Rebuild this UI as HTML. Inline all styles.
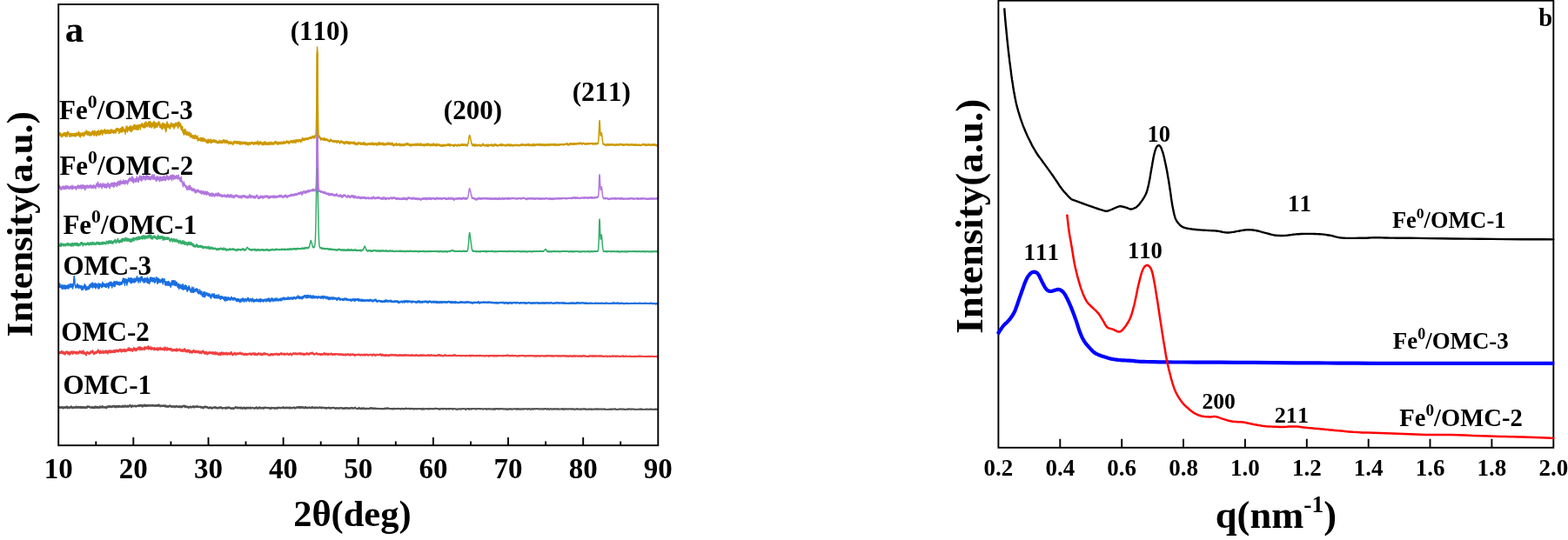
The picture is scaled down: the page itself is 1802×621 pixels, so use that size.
<!DOCTYPE html>
<html lang="en"><head><meta charset="utf-8"><title>XRD and SAXS patterns</title>
<style>
html,body{margin:0;padding:0;background:#fff;}
body{width:1802px;height:621px;overflow:hidden;}
svg{display:block;}
text{font-family:'Liberation Serif',serif;font-weight:bold;fill:#000;font-kerning:none;}
.ax{fill:none;stroke:#000;stroke-width:1.9;stroke-linecap:butt;}
.c{fill:none;stroke-linejoin:round;stroke-linecap:butt;}
</style></head><body>
<svg width="1802" height="621" viewBox="0 0 1802 621">
<rect width="1802" height="621" fill="#fff"/>

<g id="xrd">
<path fill="#515151" stroke="none" d="M67.8 467.6L68.8 467.6L69.8 467.4L70.8 467.5L71.8 468.0L72.8 468.3L73.8 467.8L74.8 467.4L75.8 467.6L76.8 467.0L77.8 467.5L78.8 467.6L79.8 467.7L80.8 467.1L81.8 467.1L82.8 467.5L83.8 467.5L84.8 467.5L85.8 467.4L86.8 467.4L87.8 467.2L88.8 467.1L89.8 467.3L90.8 467.2L91.8 467.5L92.8 467.6L93.8 467.8L94.8 467.4L95.8 467.3L96.8 467.6L97.8 467.8L98.8 467.6L99.8 467.2L100.8 466.8L101.8 466.9L102.8 466.8L103.8 467.4L104.8 467.5L105.8 467.3L106.8 467.5L107.8 467.6L108.8 467.1L109.8 467.3L110.8 467.6L111.8 467.6L112.8 467.5L113.8 467.7L114.8 466.8L115.8 467.2L116.8 466.9L117.8 467.1L118.8 466.9L119.8 467.1L120.8 467.4L121.8 467.5L122.8 467.5L123.8 466.7L124.8 466.6L125.8 466.4L126.8 466.3L127.8 466.6L128.8 466.5L129.8 466.3L130.8 466.1L131.8 466.7L132.8 466.3L133.8 466.4L134.8 466.2L135.8 466.3L136.8 466.1L137.8 466.4L138.8 466.5L139.8 466.4L140.8 466.3L141.8 466.3L142.8 466.1L143.8 465.8L144.8 466.2L145.8 466.3L146.8 466.3L147.8 466.4L148.8 465.7L149.8 465.3L150.8 466.2L151.8 466.0L152.8 465.9L153.8 466.3L154.8 465.9L155.8 466.1L156.8 465.9L157.8 465.8L158.8 465.7L159.8 465.6L160.8 465.5L161.8 465.3L162.8 465.4L163.8 465.8L164.8 465.4L165.8 465.3L166.8 465.5L167.8 465.6L168.8 465.6L169.8 465.6L170.8 465.1L171.8 465.0L172.8 465.5L173.8 465.4L174.8 465.5L175.8 465.6L176.8 465.4L177.8 465.7L178.8 465.7L179.8 465.6L180.8 465.3L181.8 465.4L182.8 465.2L183.8 465.5L184.8 465.8L185.8 465.6L186.8 465.8L187.8 465.8L188.8 465.9L189.8 466.2L190.8 466.2L191.8 466.1L192.8 466.2L193.8 466.0L194.8 465.7L195.8 466.0L196.8 466.4L197.8 466.6L198.8 466.2L199.8 466.4L200.8 466.5L201.8 466.6L202.8 466.3L203.8 466.5L204.8 466.8L205.8 466.7L206.8 466.5L207.8 466.5L208.8 466.6L209.8 466.4L210.8 466.0L211.8 466.4L212.8 466.5L213.8 466.9L214.8 467.1L215.8 467.1L216.8 467.2L217.8 466.9L218.8 466.7L219.8 467.0L220.8 466.9L221.8 466.5L222.8 467.1L223.8 467.0L224.8 467.0L225.8 466.5L226.8 466.7L227.8 467.0L228.8 466.7L229.8 467.0L230.8 467.2L231.8 467.5L232.8 467.4L233.8 467.6L234.8 467.4L235.8 467.1L236.8 467.2L237.8 467.3L238.8 467.5L239.8 467.9L240.8 467.8L241.8 467.7L242.8 467.8L243.8 468.1L244.8 467.8L245.8 467.8L246.8 467.4L247.8 467.5L248.8 467.7L249.8 468.0L250.8 468.2L251.8 468.0L252.8 467.8L253.8 467.4L254.8 468.2L255.8 468.3L256.8 468.3L257.8 468.0L258.8 468.0L259.8 468.0L260.8 468.1L261.8 468.1L262.8 467.8L263.8 468.1L264.8 468.3L265.8 468.5L266.8 468.5L267.8 468.5L268.8 468.5L269.8 468.1L270.8 467.7L271.8 468.1L272.8 468.2L273.8 467.9L274.8 467.7L275.8 468.2L276.8 467.9L277.8 468.0L278.8 468.4L279.8 468.1L280.8 468.1L281.8 468.4L282.8 468.2L283.8 468.2L284.8 468.1L285.8 468.4L286.8 467.9L287.8 467.9L288.8 468.2L289.8 468.1L290.8 468.1L291.8 468.4L292.8 468.5L293.8 468.0L294.8 468.1L295.8 468.2L296.8 468.1L297.8 467.6L298.8 467.8L299.8 468.0L300.8 468.4L301.8 468.3L302.8 468.4L303.8 468.2L304.8 468.0L305.8 467.7L306.8 467.9L307.8 468.1L308.8 468.3L309.8 468.3L310.8 468.6L311.8 468.1L312.8 468.1L313.8 468.0L314.8 468.2L315.8 468.4L316.8 468.3L317.8 468.5L318.8 468.3L319.8 467.7L320.8 467.9L321.8 467.9L322.8 468.0L323.8 467.7L324.8 467.8L325.8 467.6L326.8 467.8L327.8 468.1L328.8 467.9L329.8 467.9L330.8 468.1L331.8 468.1L332.8 467.9L333.8 467.9L334.8 467.9L335.8 468.2L336.8 468.1L337.8 467.9L338.8 468.2L339.8 468.0L340.8 467.7L341.8 467.6L342.8 467.7L343.8 467.4L344.8 467.7L345.8 467.6L346.8 467.4L347.8 467.4L348.8 467.9L349.8 468.0L350.8 467.2L351.8 467.8L352.8 467.9L353.8 467.8L354.8 467.9L355.8 467.9L356.8 467.9L357.8 467.8L358.8 467.4L359.8 467.9L360.8 467.9L361.8 467.8L362.8 468.0L363.8 467.7L364.8 467.7L365.8 467.8L366.8 467.7L367.8 467.7L368.8 467.7L369.8 467.8L370.8 467.7L371.8 468.0L372.8 468.0L373.8 468.2L374.8 468.3L375.8 468.2L376.8 468.0L377.8 468.1L378.8 468.3L379.8 468.3L380.8 468.2L381.8 467.9L382.8 468.0L383.8 468.1L384.8 468.3L385.8 468.6L386.8 468.6L387.8 468.6L388.8 468.7L389.8 468.4L390.8 468.4L391.8 468.3L392.8 468.3L393.8 468.6L394.8 468.8L395.8 468.5L396.8 468.3L397.8 468.3L398.8 468.5L399.8 468.7L400.8 468.8L401.8 468.6L402.8 468.5L403.8 468.2L404.8 468.4L405.8 468.9L406.8 468.5L407.8 468.1L408.8 468.4L409.8 468.7L410.8 469.1L411.8 468.7L412.8 468.5L413.8 469.1L414.8 468.9L415.8 468.6L416.8 468.9L417.8 468.6L418.8 468.8L419.8 468.9L420.8 468.9L421.8 468.9L422.8 469.0L423.8 469.2L424.8 468.8L425.8 468.7L426.8 468.6L427.8 468.7L428.8 468.8L429.8 468.7L430.8 468.6L431.8 468.9L432.8 469.1L433.8 469.0L434.8 469.2L435.8 469.2L436.8 469.2L437.8 469.0L438.8 469.3L439.8 469.1L440.8 469.0L441.8 468.9L442.8 468.7L443.8 468.8L444.8 468.9L445.8 468.6L446.8 468.7L447.8 469.1L448.8 469.1L449.8 469.1L450.8 469.1L451.8 469.0L452.8 469.0L453.8 469.1L454.8 469.2L455.8 469.3L456.8 469.0L457.8 469.2L458.8 469.2L459.8 469.2L460.8 469.4L461.8 469.1L462.8 469.3L463.8 469.2L464.8 469.2L465.8 468.9L466.8 469.0L467.8 469.0L468.8 469.1L469.8 469.0L470.8 469.1L471.8 469.2L472.8 469.0L473.8 469.0L474.8 469.3L475.8 469.5L476.8 469.3L477.8 469.1L478.8 469.2L479.8 469.3L480.8 469.3L481.8 469.3L482.8 469.2L483.8 469.3L484.8 469.5L485.8 469.3L486.8 469.3L487.8 469.3L488.8 469.4L489.8 469.3L490.8 469.2L491.8 469.4L492.8 469.4L493.8 469.2L494.8 469.0L495.8 469.2L496.8 469.4L497.8 469.4L498.8 469.3L499.8 469.1L500.8 469.0L501.8 469.0L502.8 469.2L503.8 469.3L504.8 469.6L505.8 469.6L506.8 469.4L507.8 469.1L508.8 469.4L509.8 469.1L510.8 469.2L511.8 469.2L512.8 469.4L513.8 469.4L514.8 469.4L515.8 469.1L516.8 469.1L517.8 468.9L518.8 469.3L519.8 469.5L520.8 469.5L521.8 469.3L522.8 469.4L523.8 469.6L524.8 469.8L525.8 469.7L526.8 469.5L527.8 469.4L528.8 469.6L529.8 469.7L530.8 469.4L531.8 469.3L532.8 469.2L533.8 469.2L534.8 469.8L535.8 469.5L536.8 469.3L537.8 469.2L538.8 469.5L539.8 469.5L540.8 469.4L541.8 469.4L542.8 469.4L543.8 469.3L544.8 469.2L545.8 469.3L546.8 469.6L547.8 469.6L548.8 469.3L549.8 469.2L550.8 469.1L551.8 469.4L552.8 469.4L553.8 469.4L554.8 469.5L555.8 469.5L556.8 469.4L557.8 469.5L558.8 469.5L559.8 469.5L560.8 469.5L561.8 469.4L562.8 469.4L563.8 469.6L564.8 469.5L565.8 469.6L566.8 469.6L567.8 469.5L568.8 469.6L569.8 469.5L570.8 469.4L571.8 469.2L572.8 469.4L573.8 469.5L574.8 469.3L575.8 469.5L576.8 469.3L577.8 469.5L578.8 469.6L579.8 469.5L580.8 469.5L581.8 469.6L582.8 469.7L583.8 469.8L584.8 469.5L585.8 469.5L586.8 469.6L587.8 469.7L588.8 469.6L589.8 469.7L590.8 469.4L591.8 469.5L592.8 469.6L593.8 469.5L594.8 469.5L595.8 469.5L596.8 469.6L597.8 469.7L598.8 469.6L599.8 469.5L600.8 469.6L601.8 469.6L602.8 469.4L603.8 469.6L604.8 469.5L605.8 469.6L606.8 469.6L607.8 469.3L608.8 469.6L609.8 469.8L610.8 469.5L611.8 469.6L612.8 469.6L613.8 469.5L614.8 469.5L615.8 469.4L616.8 469.2L617.8 469.4L618.8 469.6L619.8 469.7L620.8 469.6L621.8 469.5L622.8 469.5L623.8 469.5L624.8 469.5L625.8 469.4L626.8 469.3L627.8 469.6L628.8 469.5L629.8 469.5L630.8 469.7L631.8 469.7L632.8 469.4L633.8 469.7L634.8 469.7L635.8 469.5L636.8 469.5L637.8 469.5L638.8 469.5L639.8 469.6L640.8 469.6L641.8 469.6L642.8 469.7L643.8 469.7L644.8 469.6L645.8 469.5L646.8 469.6L647.8 469.8L648.8 469.6L649.8 469.6L650.8 469.6L651.8 469.7L652.8 469.5L653.8 469.5L654.8 469.5L655.8 469.6L656.8 469.6L657.8 469.6L658.8 469.6L659.8 469.8L660.8 469.7L661.8 469.7L662.8 469.5L663.8 469.6L664.8 469.8L665.8 469.9L666.8 469.8L667.8 469.7L668.8 469.7L669.8 469.6L670.8 469.6L671.8 469.6L672.8 469.6L673.8 469.7L674.8 469.9L675.8 469.8L676.8 469.7L677.8 469.7L678.8 469.8L679.8 469.7L680.8 469.7L681.8 469.7L682.8 469.7L683.8 469.7L684.8 469.6L685.8 469.7L686.8 469.8L687.8 469.7L688.8 469.7L689.8 469.7L690.8 469.6L691.8 469.7L692.8 469.7L693.8 469.7L694.8 469.6L695.8 469.8L696.8 469.9L697.8 469.9L698.8 469.9L699.8 469.8L700.8 469.8L701.8 469.8L702.8 469.7L703.8 469.8L704.8 469.7L705.8 469.6L706.8 469.5L707.8 469.8L708.8 469.9L709.8 469.8L710.8 469.7L711.8 469.8L712.8 469.7L713.8 469.7L714.8 469.7L715.8 469.8L716.8 469.8L717.8 469.8L718.8 470.1L719.8 469.9L720.8 469.7L721.8 469.8L722.8 469.6L723.8 469.7L724.8 469.8L725.8 469.7L726.8 469.7L727.8 469.8L728.8 469.8L729.8 469.9L730.8 469.9L731.8 469.9L732.8 469.8L733.8 469.9L734.8 469.8L735.8 469.8L736.8 469.7L737.8 469.8L738.8 470.0L739.8 469.9L740.8 469.9L741.8 469.8L742.8 469.8L743.8 469.8L744.8 469.8L745.8 469.9L746.8 469.9L747.8 469.9L748.8 469.9L749.8 469.8L750.8 469.9L751.8 469.9L752.8 469.8L753.8 469.8L754.8 469.9L755.8 469.9L756.0 469.9L756.0 471.5L755.8 471.5L754.8 471.6L753.8 471.4L752.8 471.5L751.8 471.5L750.8 471.5L749.8 471.4L748.8 471.5L747.8 471.6L746.8 471.5L745.8 471.5L744.8 471.5L743.8 471.5L742.8 471.5L741.8 471.4L740.8 471.5L739.8 471.5L738.8 471.6L737.8 471.4L736.8 471.3L735.8 471.4L734.8 471.5L733.8 471.5L732.8 471.5L731.8 471.5L730.8 471.5L729.8 471.5L728.8 471.5L727.8 471.5L726.8 471.3L725.8 471.4L724.8 471.4L723.8 471.3L722.8 471.3L721.8 471.4L720.8 471.4L719.8 471.5L718.8 471.7L717.8 471.5L716.8 471.4L715.8 471.5L714.8 471.3L713.8 471.4L712.8 471.3L711.8 471.5L710.8 471.4L709.8 471.4L708.8 471.6L707.8 471.4L706.8 471.2L705.8 471.2L704.8 471.3L703.8 471.4L702.8 471.4L701.8 471.5L700.8 471.5L699.8 471.4L698.8 471.5L697.8 471.6L696.8 471.5L695.8 471.5L694.8 471.3L693.8 471.4L692.8 471.3L691.8 471.3L690.8 471.2L689.8 471.3L688.8 471.3L687.8 471.3L686.8 471.4L685.8 471.3L684.8 471.3L683.8 471.3L682.8 471.4L681.8 471.4L680.8 471.4L679.8 471.4L678.8 471.5L677.8 471.3L676.8 471.4L675.8 471.5L674.8 471.5L673.8 471.4L672.8 471.3L671.8 471.3L670.8 471.3L669.8 471.3L668.8 471.4L667.8 471.4L666.8 471.4L665.8 471.6L664.8 471.4L663.8 471.3L662.8 471.2L661.8 471.3L660.8 471.4L659.8 471.4L658.8 471.3L657.8 471.3L656.8 471.2L655.8 471.2L654.8 471.1L653.8 471.2L652.8 471.2L651.8 471.3L650.8 471.3L649.8 471.3L648.8 471.3L647.8 471.5L646.8 471.3L645.8 471.2L644.8 471.2L643.8 471.3L642.8 471.3L641.8 471.3L640.8 471.3L639.8 471.3L638.8 471.1L637.8 471.2L636.8 471.2L635.8 471.2L634.8 471.4L633.8 471.4L632.8 471.1L631.8 471.3L630.8 471.4L629.8 471.2L628.8 471.2L627.8 471.3L626.8 470.9L625.8 471.1L624.8 471.2L623.8 471.2L622.8 471.2L621.8 471.1L620.8 471.2L619.8 471.4L618.8 471.3L617.8 471.1L616.8 470.9L615.8 471.1L614.8 471.1L613.8 471.2L612.8 471.3L611.8 471.3L610.8 471.2L609.8 471.5L608.8 471.3L607.8 471.0L606.8 471.3L605.8 471.3L604.8 471.2L603.8 471.2L602.8 471.1L601.8 471.3L600.8 471.3L599.8 471.2L598.8 471.3L597.8 471.4L596.8 471.2L595.8 471.2L594.8 471.2L593.8 471.2L592.8 471.3L591.8 471.2L590.8 471.1L589.8 471.3L588.8 471.3L587.8 471.4L586.8 471.3L585.8 471.2L584.8 471.2L583.8 471.5L582.8 471.4L581.8 471.3L580.8 471.2L579.8 471.2L578.8 471.3L577.8 471.2L576.8 471.0L575.8 471.2L574.8 471.0L573.8 471.2L572.8 471.1L571.8 470.9L570.8 471.1L569.8 471.2L568.8 471.3L567.8 471.3L566.8 471.3L565.8 471.3L564.8 471.2L563.8 471.3L562.8 471.2L561.8 471.2L560.8 471.3L559.8 471.2L558.8 471.2L557.8 471.3L556.8 471.1L555.8 471.2L554.8 471.2L553.8 471.1L552.8 471.1L551.8 471.1L550.8 470.8L549.8 470.9L548.8 471.0L547.8 471.3L546.8 471.4L545.8 471.0L544.8 471.0L543.8 471.0L542.8 471.1L541.8 471.2L540.8 471.1L539.8 471.2L538.8 471.2L537.8 471.0L536.8 471.1L535.8 471.3L534.8 471.5L533.8 470.9L532.8 470.9L531.8 471.1L530.8 471.1L529.8 471.5L528.8 471.3L527.8 471.1L526.8 471.3L525.8 471.5L524.8 471.6L523.8 471.4L522.8 471.1L521.8 471.1L520.8 471.2L519.8 471.3L518.8 471.0L517.8 470.6L516.8 470.9L515.8 470.9L514.8 471.1L513.8 471.2L512.8 471.2L511.8 471.0L510.8 471.0L509.8 470.9L508.8 471.2L507.8 470.8L506.8 471.1L505.8 471.4L504.8 471.4L503.8 471.1L502.8 471.0L501.8 470.8L500.8 470.8L499.8 470.8L498.8 471.1L497.8 471.1L496.8 471.1L495.8 471.0L494.8 470.8L493.8 471.0L492.8 471.2L491.8 471.2L490.8 471.0L489.8 471.0L488.8 471.1L487.8 471.1L486.8 471.1L485.8 471.1L484.8 471.3L483.8 471.1L482.8 471.0L481.8 471.1L480.8 471.1L479.8 471.1L478.8 471.0L477.8 470.9L476.8 471.1L475.8 471.3L474.8 471.1L473.8 470.8L472.8 470.8L471.8 471.0L470.8 470.9L469.8 470.8L468.8 470.9L467.8 470.9L466.8 470.8L465.8 470.7L464.8 471.0L463.8 471.0L462.8 471.1L461.8 470.9L460.8 471.2L459.8 471.0L458.8 471.0L457.8 471.0L456.8 470.8L455.8 471.1L454.8 471.0L453.8 470.9L452.8 470.8L451.8 470.8L450.8 470.9L449.8 470.9L448.8 471.0L447.8 471.0L446.8 470.6L445.8 470.5L444.8 470.7L443.8 470.7L442.8 470.5L441.8 470.8L440.8 470.9L439.8 471.0L438.8 471.1L437.8 470.9L436.8 471.0L435.8 471.0L434.8 471.0L433.8 470.8L432.8 470.9L431.8 470.7L430.8 470.5L429.8 470.5L428.8 470.7L427.8 470.5L426.8 470.4L425.8 470.5L424.8 470.7L423.8 471.0L422.8 470.8L421.8 470.7L420.8 470.8L419.8 470.8L418.8 470.7L417.8 470.5L416.8 470.8L415.8 470.5L414.8 470.8L413.8 471.0L412.8 470.4L411.8 470.6L410.8 470.9L409.8 470.6L408.8 470.2L407.8 470.0L406.8 470.4L405.8 470.8L404.8 470.3L403.8 470.1L402.8 470.4L401.8 470.5L400.8 470.7L399.8 470.6L398.8 470.3L397.8 470.1L396.8 470.2L395.8 470.4L394.8 470.7L393.8 470.5L392.8 470.2L391.8 470.2L390.8 470.3L389.8 470.3L388.8 470.6L387.8 470.5L386.8 470.5L385.8 470.5L384.8 470.2L383.8 470.0L382.8 469.9L381.8 469.9L380.8 470.1L379.8 470.2L378.8 470.2L377.8 470.0L376.8 469.9L375.8 470.1L374.8 470.2L373.8 470.1L372.8 470.0L371.8 469.9L370.8 469.6L369.8 469.7L368.8 469.6L367.8 469.6L366.8 469.7L365.8 469.8L364.8 469.7L363.8 469.7L362.8 469.9L361.8 469.7L360.8 469.9L359.8 469.8L358.8 469.4L357.8 469.8L356.8 469.8L355.8 469.9L354.8 469.8L353.8 469.7L352.8 469.9L351.8 469.7L350.8 469.2L349.8 469.9L348.8 469.8L347.8 469.3L346.8 469.4L345.8 469.5L344.8 469.7L343.8 469.4L342.8 469.6L341.8 469.6L340.8 469.7L339.8 469.9L338.8 470.1L337.8 469.8L336.8 470.0L335.8 470.2L334.8 469.9L333.8 469.9L332.8 469.9L331.8 470.0L330.8 470.1L329.8 469.8L328.8 469.9L327.8 470.1L326.8 469.8L325.8 469.6L324.8 469.7L323.8 469.7L322.8 470.0L321.8 469.9L320.8 469.9L319.8 469.7L318.8 470.3L317.8 470.5L316.8 470.3L315.8 470.4L314.8 470.2L313.8 470.0L312.8 470.1L311.8 470.1L310.8 470.6L309.8 470.3L308.8 470.3L307.8 470.1L306.8 469.9L305.8 469.7L304.8 470.0L303.8 470.2L302.8 470.4L301.8 470.3L300.8 470.4L299.8 470.0L298.8 469.8L297.8 469.7L296.8 470.1L295.8 470.2L294.8 470.1L293.8 470.0L292.8 470.5L291.8 470.4L290.8 470.1L289.8 470.1L288.8 470.3L287.8 469.9L286.8 469.9L285.8 470.4L284.8 470.1L283.8 470.2L282.8 470.2L281.8 470.4L280.8 470.2L279.8 470.2L278.8 470.4L277.8 470.0L276.8 470.0L275.8 470.2L274.8 469.8L273.8 469.9L272.8 470.2L271.8 470.1L270.8 469.7L269.8 470.1L268.8 470.6L267.8 470.5L266.8 470.6L265.8 470.6L264.8 470.3L263.8 470.2L262.8 469.8L261.8 470.2L260.8 470.2L259.8 470.0L258.8 470.1L257.8 470.0L256.8 470.3L255.8 470.4L254.8 470.3L253.8 469.5L252.8 469.9L251.8 470.1L250.8 470.3L249.8 470.1L248.8 469.8L247.8 469.6L246.8 469.5L245.8 469.8L244.8 469.9L243.8 470.2L242.8 469.9L241.8 469.8L240.8 469.9L239.8 469.9L238.8 469.6L237.8 469.3L236.8 469.3L235.8 469.2L234.8 469.5L233.8 469.7L232.8 469.5L231.8 469.6L230.8 469.3L229.8 469.1L228.8 468.8L227.8 469.1L226.8 468.8L225.8 468.6L224.8 469.1L223.8 469.1L222.8 469.2L221.8 468.6L220.8 469.0L219.8 469.1L218.8 468.8L217.8 469.0L216.8 469.3L215.8 469.2L214.8 469.2L213.8 469.0L212.8 468.6L211.8 468.5L210.8 468.1L209.8 468.5L208.8 468.7L207.8 468.6L206.8 468.6L205.8 468.9L204.8 469.0L203.8 468.6L202.8 468.5L201.8 468.7L200.8 468.6L199.8 468.5L198.8 468.3L197.8 468.7L196.8 468.5L195.8 468.2L194.8 467.8L193.8 468.1L192.8 468.4L191.8 468.3L190.8 468.3L189.8 468.3L188.8 468.1L187.8 467.9L186.8 468.0L185.8 467.7L184.8 468.0L183.8 467.6L182.8 467.3L181.8 467.5L180.8 467.5L179.8 467.7L178.8 467.8L177.8 467.8L176.8 467.6L175.8 467.8L174.8 467.6L173.8 467.6L172.8 467.7L171.8 467.1L170.8 467.2L169.8 467.7L168.8 467.7L167.8 467.7L166.8 467.6L165.8 467.4L164.8 467.6L163.8 467.9L162.8 467.5L161.8 467.5L160.8 467.6L159.8 467.8L158.8 467.9L157.8 468.0L156.8 468.0L155.8 468.2L154.8 468.0L153.8 468.4L152.8 468.0L151.8 468.1L150.8 468.4L149.8 467.5L148.8 467.8L147.8 468.6L146.8 468.4L145.8 468.5L144.8 468.4L143.8 468.0L142.8 468.2L141.8 468.5L140.8 468.5L139.8 468.6L138.8 468.7L137.8 468.6L136.8 468.2L135.8 468.4L134.8 468.4L133.8 468.6L132.8 468.5L131.8 468.9L130.8 468.3L129.8 468.5L128.8 468.6L127.8 468.7L126.8 468.5L125.8 468.6L124.8 468.8L123.8 468.9L122.8 469.6L121.8 469.7L120.8 469.6L119.8 469.2L118.8 469.1L117.8 469.3L116.8 469.1L115.8 469.4L114.8 469.0L113.8 469.9L112.8 469.7L111.8 469.8L110.8 469.7L109.8 469.5L108.8 469.3L107.8 469.8L106.8 469.7L105.8 469.5L104.8 469.7L103.8 469.6L102.8 469.0L101.8 469.1L100.8 469.0L99.8 469.4L98.8 469.8L97.8 470.0L96.8 469.8L95.8 469.5L94.8 469.6L93.8 470.0L92.8 469.8L91.8 469.8L90.8 469.4L89.8 469.5L88.8 469.3L87.8 469.4L86.8 469.6L85.8 469.6L84.8 469.7L83.8 469.8L82.8 469.7L81.8 469.3L80.8 469.4L79.8 469.9L78.8 469.8L77.8 469.7L76.8 469.2L75.8 469.8L74.8 469.7L73.8 470.0L72.8 470.5L71.8 470.2L70.8 469.7L69.8 469.6L68.8 469.8L67.8 469.8Z"/>
<path class="c" stroke="#515151" stroke-width="1.5" d="M67.8 468.7l.2 .2 .2-.3 .2-.4 .2 .3 .2-.4 .2 .6 .2 .7 .2-1.2 .2-.1 .2 .7 .2-.1 .2-.1 .2-.7 .2 .6 .2 .5 .2-1.2 .2 .7 .2-.8 .2 .5 .2-.3 .2 1.1 .2-.5 .2 1 .2 0 .2-.2 .2-1.2 .2 .9 .2 .2 .2-.1 .2-1.2 .2 .5 .2-.4 .2 0 .2 1.2 .2-1.2 .2 .6 .2 .6 .2-.8 .2 .3 .2 .1 .2-.2 .2-1 .2 .7 .2 .7 .2-1.9 .2 1.5 .2-.3 .2-.4 .2 1.8 .2-.6 .2-1.1 .2 .8 .2 .3 .2-.5 .2 .5 .2-.5 .2 .5 .2 .5 .2-1.2 .2 .5 .2-.4 .2 .3 .2-1 .2 .2 .2 .1 .2 .6 .2 .1 .2-1.5 .2 .4 .2 .9 .2-1.5 .2 1 .2 .3 .2 .9 .2-.3 .2-.6 .2 .1 .2 .1 .2 1 .2-1.2 .2 0 .2 .4 .2-.3 .2 0 .2-.6 .2 .7 .2-.3 .2 .9 .2-.3 .2-.5 .2 .5 .2-.7 .2 .9 .2-.6 .2 .3 .2-1.1 .2 .9 .2-1.2 .2-.3 .2 1 .2-.4 .2 .6 .2 1.2 .2-1.8 .2 .1 .2 .6 .2 .2 .2-.3 .2 0 .2 .5 .2-.2 .2-1 .2 .6 .2 .1 .2-.7 .2 .9 .2-.5 .2 1.2 .2-.5 .2 0 .2-.4 .2 .3 .2-1.2 .2 .6 .2 .9 .2-1.4 .2 1.8 .2-1.5 .2 1.5 .2-1 .2 1 .2-.5 .2-1 .2 1.6 .2 0 .2-1 .2-.2 .2 0 .2-.4 .2 1.2 .2-.9 .2 .4 .2-.4 .2 .2 .2-.4 .2 1.6 .2-.8 .2 .8 .2-.6 .2-.4 .2 .2 .2-.2 .2 .3 .2-.3 .2 0 .2-.7 .2 .2 .2 1.5 .2-1.5 .2-.4 .2 .7 .2 .6 .2-1.8 .2 .7 .2-.2 .2-.7 .2 1.5 .2-.4 .2 0 .2-.5 .2 .7 .2-.7 .2 .2 .2-.5 .2-.1 .2 1.6 .2-1 .2 .7 .2 0 .2-.1 .2 0 .2 .8 .2-.6 .2 0 .2 .1 .2 .6 .2-.4 .2-.2 .2-.6 .2-.5 .2 1.5 .2 0 .2-.6 .2 .4 .2 .2 .2 .1 .2 .2 .2-.8 .2 1.1 .2-1.7 .2 1.2 .2-.3 .2 .1 .2 .5 .2-.3 .2-1.6 .2-.3 .2 1.5 .2-1 .2 .6 .2 .6 .2-1.4 .2-.2 .2 1.5 .2-.1 .2-.2 .2 .2 .2-.5 .2-.4 .2 .8 .2-.5 .2-.5 .2 1.3 .2-.4 .2 .3 .2-.7 .2 .3 .2-.2 .2 .1 .2 .6 .2-.7 .2 .5 .2-.3 .2 .8 .2-2.2 .2 1.4 .2-.5 .2 .2 .2-.7 .2 .6 .2 .8 .2-.6 .2 0 .2-.3 .2 .8 .2-.8 .2-1.2 .2 .9 .2-.7 .2 0 .2 1 .2 1.1 .2-.8 .2-.8 .2 .1 .2 1.2 .2-.6 .2-.1 .2 0 .2 .2 .2 .6 .2-.1 .2-.1 .2-.7 .2 .9 .2-.7 .2 1 .2-1.4 .2 .7 .2 .2 .2-.7 .2 1.8 .2-.1 .2-1.2 .2 .6 .2-.4 .2-1.7 .2 1.3 .2-.3 .2 0 .2-.8 .2 .5 .2 0 .2 .8 .2-.5 .2-.2 .2 .9 .2-1.3 .2 .1 .2-.9 .2 1.9 .2-.4 .2 0 .2-.2 .2-.3 .2 .1 .2-.3 .2 .1 .2 .2 .2 1 .2-.6 .2-.3 .2-.4 .2-.1 .2 1.3 .2-.7 .2-.3 .2-.2 .2-.5 .2 .6 .2 .5 .2-.8 .2 0 .2 0 .2 .2 .2-1 .2 1 .2-.2 .2 1.1 .2-.9 .2 .8 .2 .5 .2-1.2 .2-.3 .2 .4 .2-.1 .2-.6 .2 .9 .2 1 .2-1.4 .2 0 .2-.5 .2 .7 .2-.9 .2 0 .2 1.4 .2-1.2 .2 1.2 .2 .2 .2-.7 .2 .1 .2 .8 .2-1.3 .2-.3 .2-.5 .2 .9 .2 .9 .2-.2 .2-1 .2 .1 .2 .3 .2 .5 .2-.3 .2 .3 .2 0 .2-.4 .2 .1 .2 .2 .2-.2 .2 .3 .2 .8 .2-.8 .2-.3 .2-1.1 .2 1.3 .2-1.4 .2 .3 .2 1.3 .2-.1 .2-.5 .2-.9 .2 .7 .2-.2 .2 .7 .2 .8 .2-1.2 .2-.7 .2-.3 .2 .6 .2 0 .2-.5 .2 .8 .2-.6 .2 1.4 .2 0 .2 .1 .2-.9 .2 .7 .2-.4 .2-.2 .2 0 .2-.6 .2-.2 .2 1.4 .2-.6 .2 .3 .2 .6 .2-1.6 .2 .6 .2 .5 .2 .1 .2-.6 .2 .6 .2-.6 .2-1.1 .2 .1 .2 .8 .2-.2 .2-1.4 .2 1.9 .2-.3 .2 .6 .2-.7 .2 .2 .2-.3 .2 2 .2-1.4 .2 .9 .2-1.4 .2 .3 .2-1.2 .2 .7 .2 .8 .2-1.3 .2 1.5 .2-.3 .2-.7 .2 .4 .2 .1 .2 .2 .2-.3 .2-.3 .2 .2 .2-.5 .2-.2 .2 .7 .2 .6 .2-1.3 .2 .9 .2-.3 .2-.2 .2 1 .2-.9 .2 1.2 .2-1.4 .2 .6 .2-.4 .2-.3 .2 .8 .2-.4 .2 .5 .2-.4 .2-.7 .2 .6 .2 0 .2 .6 .2-1.1 .2 .5 .2-1.1 .2 1.4 .2-1.1 .2-.4 .2 .9 .2 .7 .2-1.6 .2 .3 .2 .2 .2-.2 .2 .8 .2-.7 .2-.1 .2 .8 .2-.8 .2 .7 .2-.7 .2 0 .2-.3 .2 2.3 .2-1.2 .2 .3 .2-.2 .2 .1 .2-.2 .2 1 .2-1.8 .2-.4 .2 .3 .2-.2 .2 1.2 .2 0 .2-1 .2-.2 .2 .7 .2 1 .2-2 .2 1.6 .2-.9 .2 1.2 .2-1.2 .2 .5 .2-.7 .2 .3 .2 1.4 .2-.4 .2-.7 .2-.2 .2-.6 .2 .9 .2 .2 .2-.1 .2-.1 .2-.6 .2 .5 .2-.2 .2 .7 .2 .2 .2-1.2 .2-.4 .2 .4 .2-.2 .2 0 .2 .5 .2-.4 .2 1.1 .2-.3 .2 .2 .2-.3 .2-.3 .2-.2 .2 .3 .2-.2 .2 .5 .2-.2 .2-.7 .2 .9 .2-.7 .2 .4 .2 .3 .2-1.1 .2 1.2 .2 0 .2-.2 .2-.2 .2 0 .2-.4 .2 .5 .2-.2 .2 .5 .2-.7 .2 .9 .2 0 .2-.2 .2-.1 .2 .5 .2-1.3 .2 1.2 .2-.2 .2 .1 .2 0 .2-.6 .2 .1 .2 .5 .2-.2 .2-.2 .2-1 .2 1.2 .2 .4 .2 0 .2-.5 .2-1 .2 1.4 .2-.7 .2-1.2 .2 1.4 .2-1.1 .2 .1 .2 .4 .2 1.1 .2-.8 .2 .5 .2 1 .2 .1 .2-.9 .2-.1 .2-.6 .2 .2 .2 .6 .2-.1 .2-.2 .2 .5 .2-.9 .2 .5 .2 .5 .2-.1 .2 .3 .2-.4 .2-.4 .2 .3 .2-.7 .2-.3 .2 1.2 .2-.3 .2 .2 .2-1.1 .2 .8 .2-.1 .2-.1 .2-.7 .2 1.1 .2 .8 .2-.2 .2-.6 .2 .4 .2 .3 .2-1.7 .2 1.1 .2 .3 .2 .1 .2 .6 .2-.3 .2-.3 .2 0 .2 .3 .2-.7 .2 .2 .2 .4 .2 .6 .2-1.3 .2 0 .2 .1 .2 .7 .2-.8 .2 .7 .2-1.4 .2 .4 .2-.1 .2 .6 .2 .2 .2-1.3 .2 .5 .2 .8 .2-.4 .2-.4 .2 1.4 .2-.3 .2 0 .2-.5 .2 .9 .2-.6 .2 .8 .2-1.1 .2 0 .2 .5 .2-.7 .2 .6 .2-.3 .2-.7 .2 .6 .2-.1 .2 .9 .2-.7 .2 .1 .2 .9 .2 .5 .2-.1 .2-1.1 .2 .1 .2 .7 .2-.9 .2-.4 .2 .6 .2 .1 .2-.8 .2-.5 .2 .1 .2 1.2 .2-.8 .2 .4 .2 .2 .2 .3 .2-.5 .2 .5 .2-.7 .2 .4 .2-.3 .2 1.3 .2-.6 .2-.4 .2 .1 .2 0 .2 .4 .2-1.3 .2 .2 .2 .3 .2 1.4 .2-.7 .2-.6 .2 .5 .2 .7 .2-1.2 .2 0 .2 .9 .2-.4 .2 .1 .2-.6 .2 1.3 .2-.2 .2-.6 .2 0 .2-1.5 .2 1.3 .2-.5 .2 .2 .2 .1 .2-.6 .2-.7 .2 1.2 .2-.6 .2 .4 .2-.1 .2 .2 .2-1 .2 1.8 .2-.5 .2 .5 .2 .6 .2-1 .2-.9 .2 .6 .2-.1 .2 .4 .2 .4 .2-1.1 .2 1.3 .2-1 .2 1 .2-.2 .2-.1 .2 .1 .2-.2 .2 0 .2-.5 .2 .9 .2 1 .2 .1 .2-.4 .2-.4 .2-.9 .2 1.1 .2-.9 .2-.1 .2-.2 .2 .2 .2-.3 .2 .2 .2-.6 .2 .5 .2 1.5 .2-1.2 .2 0 .2 .4 .2 .1 .2-.9 .2 .4 .2 .6 .2-.5 .2-.2 .2 .7 .2-1.3 .2 .4 .2-.3 .2 1.2 .2-1.7 .2 .8 .2 .3 .2 .7 .2-.1 .2 .4 .2-1.6 .2 1.1 .2-.5 .2-.3 .2 .7 .2-.7 .2-.6 .2 .8 .2-.6 .2 .3 .2 .4 .2-.2 .2 .6 .2-1 .2-.6 .2 .5 .2 .1 .2 0 .2 1 .2-.5 .2-.8 .2 1.4 .2-.5 .2 .1 .2-.2 .2 .3 .2-.4 .2 .7 .2-.4 .2 .1 .2 .1 .2-.9 .2 .7 .2 0 .2 .2 .2-.7 .2 1.6 .2-.8 .2-.6 .2-.1 .2 .8 .2 .1 .2-.3 .2 .4 .2-.5 .2 .6 .2-.6 .2 .4 .2 .6 .2 .7 .2-1.7 .2 .3 .2-.2 .2 .9 .2-1.1 .2 .3 .2 .1 .2-.6 .2 0 .2 .2 .2-.9 .2 .3 .2 .6 .2 .3 .2-.2 .2-.8 .2 .7 .2 .7 .2-.1 .2-.3 .2-.5 .2 .8 .2-.6 .2-.3 .2 .3 .2 1.2 .2-.5 .2 .6 .2-.7 .2 .8 .2-.8 .2 .2 .2 1.2 .2-.7 .2-.7 .2 .2 .2 .2 .2 .5 .2-.9 .2-.7 .2 .7 .2 .2 .2 0 .2 .6 .2-.5 .2 .3 .2-.9 .2 1.1 .2 .7 .2-.6 .2-.2 .2-.1 .2 .9 .2-1.5 .2 .3 .2 .2 .2 .1 .2-.6 .2 .4 .2-.3 .2 .2 .2-.2 .2-.6 .2 .5 .2 .4 .2-1 .2 .4 .2 .4 .2-.8 .2 .6 .2-.6 .2 1.1 .2 .5 .2-.1 .2-1.1 .2 .6 .2-.2 .2 .1 .2 .9 .2-1.4 .2 1.2 .2-.6 .2 .8 .2-.6 .2-.4 .2 .6 .2 .2 .2-.3 .2 .2 .2-.6 .2-.9 .2 1.5 .2-.1 .2-.3 .2-.1 .2 .5 .2-.9 .2-.2 .2 .2 .2 .6 .2-1.4 .2 1.3 .2-.9 .2-.1 .2 1.4 .2-.5 .2-.4 .2 .6 .2 .7 .2 .1 .2-.8 .2 .4 .2 .1 .2-.7 .2 .5 .2-.2 .2-.3 .2 0 .2 .2 .2-.1 .2-.4 .2 .1 .2 .8 .2-.5 .2 .4 .2 .2 .2-.3 .2 .7 .2-1.5 .2 .8 .2-.6 .2 1.1 .2 0 .2-1.8 .2 .5 .2 .9 .2 .1 .2 0 .2-.4 .2 .2 .2 .1 .2-.4 .2 .5 .2-1.7 .2 1.4 .2-.9 .2 .9 .2-.6 .2-.3 .2 .7 .2-.5 .2 .1 .2-.3 .2 .8 .2 .3 .2 .3 .2-.6 .2 .7 .2-.5 .2 0 .2 .4 .2 .3 .2-.7 .2 .1 .2 0 .2 .1 .2-.5 .2 .9 .2-.7 .2 .4 .2-.6 .2 .6 .2 0 .2-.4 .2 1.3 .2-.8 .2 .6 .2-.4 .2-.9 .2 .1 .2 .2 .2-.3 .2-.1 .2-.2 .2-.9 .2 .8 .2-1.1 .2 1.3 .2-.5 .2 .1 .2 .4 .2 .4 .2-.8 .2-.1 .2 .4 .2-.5 .2 .4 .2 1.2 .2-1.4 .2 .8 .2-1 .2 .8 .2-.4 .2 .1 .2 .2 .2 .6 .2-.8 .2 0 .2-.4 .2 .9 .2-.3 .2 .6 .2-.4 .2 .9 .2-1.9 .2 .7 .2 .5 .2-.7 .2-.2 .2 .3 .2-.6 .2 .8 .2 1.1 .2-.4 .2-1 .2 .2 .2 .3 .2 .7 .2-1 .2 .1 .2 .7 .2-.1 .2-.7 .2-.4 .2-.2 .2 .4 .2-.6 .2 1.5 .2-.6 .2 .7 .2 .7 .2-.4 .2-1.2 .2 .9 .2 .1 .2-1 .2-.1 .2 .5 .2-.7 .2 1.5 .2-1.8 .2 .5 .2 .3 .2 0 .2 .1 .2 .1 .2-.2 .2 .7 .2-1.5 .2 1.1 .2-.2 .2 .4 .2 0 .2-.7 .2 0 .2 .6 .2-.3 .2-.6 .2 1.3 .2 .1 .2-1.8 .2 .9 .2 1 .2-.6 .2-.2 .2-.2 .2 0 .2 .2 .2-.1 .2 .5 .2-.6 .2-.1 .2-.4 .2 .5 .2-.5 .2 .4 .2 .7 .2-.3 .2 .2 .2 0 .2-.1 .2-.1 .2 0 .2 .5 .2-.8 .2 1.2 .2-.7 .2-.4 .2 0 .2-.2 .2 .3 .2-.5 .2 .8 .2-.9 .2-.6 .2 .7 .2-.6 .2 1 .2 .5 .2-.2 .2-.9 .2 .4 .2 1.2 .2-.7 .2-.1 .2 .4 .2 .4 .2-.5 .2-.7 .2 0 .2 .1 .2-.6 .2-.3 .2 .6 .2-.5 .2 .5 .2 .1 .2 1.1 .2-1.4 .2 .4 .2 0 .2 .3 .2 .4 .2-.7 .2 0 .2-.4 .2 .4 .2 .7 .2-.2 .2-.5 .2 .3 .2 .1 .2 .2 .2-.5 .2 .2 .2-.7 .2 .3 .2 1.3 .2-1.8 .2 .9 .2 .2 .2-.3 .2-.3 .2 .3 .2 0 .2-.1 .2-.9 .2 .8 .2-.4 .2 0 .2 .4 .2 .1 .2 .2 .2-.6 .2 .7 .2 .1 .2 0 .2 .2 .2-.7 .2 0 .2 .5 .2-.9 .2 .8 .2-.3 .2 .1 .2-.6 .2 .4 .2 .4 .2 .4 .2 0 .2-.5 .2 0 .2-.2 .2 .7 .2-.2 .2 .4 .2 .6 .2-.9 .2-.8 .2 .1 .2-.4 .2 0 .2 1.2 .2-.5 .2-.8 .2 1 .2 .2 .2-.7 .2-.2 .2 .1 .2 .3 .2 .2 .2 .3 .2 .1 .2 0 .2 .1 .2-.3 .2-1 .2 .7 .2 .3 .2-.3 .2 .7 .2-.6 .2-.3 .2 1 .2-.4 .2-.2 .2 .3 .2 .1 .2-.3 .2-1.1 .2 .8 .2 .1 .2-.3 .2 .5 .2 .4 .2-.9 .2-.4 .2 1.3 .2-1.2 .2-.5 .2 .6 .2 0 .2-.5 .2 .8 .2-.5 .2-.1 .2 .5 .2 .2 .2-.6 .2 .4 .2-.2 .2 1.1 .2-1.3 .2 1 .2-.6 .2-.1 .2 .4 .2 0 .2 .1 .2-.5 .2-.4 .2 0 .2 .5 .2 0 .2 .4 .2-.5 .2 .3 .2 .2 .2-.7 .2-.8 .2 .2 .2-.1 .2 1.4 .2-1.1 .2 1 .2-.2 .2 .5 .2-.2 .2-.5 .2 .1 .2 .1 .2 .1 .2-.3 .2 .1 .2 .7 .2-1.6 .2 .8 .2-.5 .2 .4 .2 .4 .2-.4 .2 .5 .2-1 .2 1.3 .2-.8 .2 .6 .2-.2 .2-1 .2 .6 .2 .4 .2 .5 .2-.6 .2 0 .2-.8 .2 1.3 .2 .1 .2-.7 .2-.1 .2-.7 .2 1.1 .2 .6 .2-.7 .2 .2 .2-.4 .2-.6 .2 1.1 .2-1.1 .2 .5 .2 .3 .2 .4 .2-.2 .2 0 .2-.5 .2-.3 .2 .5 .2-.4 .2-.3 .2 0 .2 .3 .2-.7 .2 .3 .2-.1 .2 .8 .2 .2 .2 .7 .2-1.4 .2 .4 .2 .7 .2-.6 .2-.1 .2 .8 .2-.9 .2-.4 .2-.2 .2 .7 .2-.1 .2-.7 .2 .1 .2 .6 .2 0 .2-.5 .2 .6 .2 0 .2-1 .2 .7 .2 .2 .2-.5 .2-.7 .2 .7 .2 .4 .2 .4 .2-1.6 .2 1.9 .2-1.3 .2 .9 .2 .2 .2-.1 .2-.4 .2-.6 .2 .8 .2-.6 .2-.7 .2 1.9 .2-.7 .2 .4 .2-1.2 .2 1 .2 0 .2-.1 .2-.6 .2-.5 .2 .5 .2-.7 .2 .3 .2 .9 .2-.4 .2 .5 .2 .1 .2 .9 .2-.3 .2-.7 .2 .4 .2-1 .2 0 .2 .4 .2-1 .2 .4 .2-.4 .2 .8 .2 .8 .2-.9 .2 .6 .2-.4 .2-.1 .2-.1 .2 1.1 .2 .3 .2-.8 .2-.6 .2 .6 .2-.4 .2 .5 .2-.2 .2 0 .2 .2 .2-.5 .2 .1 .2-.6 .2 .6 .2-.4 .2 .6 .2-.4 .2 .5 .2 .1 .2-.8 .2 .2 .2 0 .2 .7 .2 .4 .2-.4 .2-.6 .2 .7 .2-1.3 .2 1.1 .2-.9 .2-.7 .2 1.9 .2-.2 .2-1 .2 .6 .2 0 .2 .2 .2-.7 .2 .4 .2 .4 .2-.1 .2 .3 .2-.5 .2 .9 .2-1.3 .2 .5 .2-.9 .2 .3 .2 1.2 .2-.9 .2 .6 .2-.3 .2-.4 .2 .2 .2-.1 .2-.1 .2 .5 .2-.1 .2-.5 .2-.1 .2 .5 .2-.1 .2 .5 .2 .5 .2-.6 .2-.3 .2-.1 .2-.3 .2 0 .2-.1 .2 .2 .2 0 .2 .5 .2-.5 .2 .1 .2-.5 .2 1.2 .2-.5 .2 .5 .2-.4 .2 .3 .2-.6 .2 .4 .2 .7 .2-1.4 .2 .9 .2 .2 .2-.6 .2 .1 .2 .2 .2-.7 .2 .5 .2-.5 .2 .2 .2 .1 .2 .2 .2 .1 .2 .1 .2-.7 .2 1.4 .2-.3 .2-.2 .2-.4 .2 .2 .2 .2 .2 0 .2-.9 .2 1.1 .2 .6 .2-1.7 .2 1.2 .2-.2 .2-.2 .2 .6 .2-1.1 .2 .5 .2 .5 .2-.7 .2-.2 .2 .2 .2-.2 .2 .8 .2-1 .2 .8 .2-.9 .2 .9 .2-.3 .2-.8 .2 .9 .2-.4 .2 .2 .2 .9 .2-1.1 .2 0 .2 1 .2-.5 .2 .5 .2-.5 .2-.5 .2 .3 .2 .5 .2-.1 .2-.4 .2-.1 .2-.1 .2-.2 .2 1 .2-.8 .2-.5 .2 .3 .2 .5 .2 0 .2-.3 .2-.2 .2 .3 .2-.6 .2 .2 .2 .8 .2-.4 .2 .4 .2 .4 .2-.2 .2-.2 .2 .9 .2-.5 .2-.4 .2 .5 .2-.1 .2-.6 .2 .4 .2-.1 .2-.8 .2 .8 .2-.1 .2 0 .2-.5 .2 .6 .2 .1 .2 .1 .2-.5 .2 .7 .2-.8 .2 .4 .2 .5 .2-.8 .2 0 .2 .6 .2-.6 .2 0 .2 .2 .2 .4 .2-1.3 .2 .5 .2-.1 .2 0 .2 0 .2 0 .2 .5 .2-.5 .2 .4 .2 .1 .2-.4 .2 .4 .2 .7 .2-.5 .2-.3 .2 .3 .2-.3 .2 .5 .2 .3 .2-.7 .2 .2 .2 .5 .2-.7 .2 .2 .2-.6 .2 0 .2 .1 .2 1 .2-1 .2 0 .2-.1 .2 .2 .2 .3 .2-.2 .2 .7 .2-.7 .2 .5 .2-.4 .2 .2 .2-.8 .2 .6 .2 0 .2 0 .2-.7 .2 1.2 .2-.4 .2 .1 .2 .1 .2 0 .2 .2 .2-.7 .2 .1 .2 .4 .2-.1 .2-.2 .2-.1 .2-.1 .2 .3 .2 .5 .2-.9 .2 .9 .2-.3 .2-.6 .2 .4 .2-.9 .2-.1 .2 .1 .2 .4 .2 .1 .2 0 .2 .4 .2-.7 .2 1.1 .2-.7 .2 .4 .2 .1 .2-.4 .2-.1 .2 0 .2 .2 .2 .2 .2-.2 .2-.6 .2 0 .2-.1 .2 .5 .2-.9 .2 1.3 .2-.5 .2-.1 .2 .5 .2 .3 .2-.2 .2 .4 .2-.3 .2 .5 .2 .1 .2-.4 .2 .6 .2-.4 .2-.1 .2-.4 .2 .1 .2 .4 .2-.9 .2 .6 .2-.2 .2-.1 .2-.9 .2 .8 .2 .4 .2-.4 .2 .4 .2-.7 .2 1.2 .2-.4 .2 .6 .2-1.1 .2 .8 .2-.4 .2 .2 .2-.7 .2 0 .2 1.1 .2-1.1 .2 .1 .2 .2 .2-.2 .2 .9 .2 .2 .2-.9 .2-.5 .2 1 .2-.1 .2-.1 .2 .1 .2-.7 .2 .3 .2-.4 .2 0 .2 1 .2-.6 .2 1.1 .2-.8 .2-.3 .2 .5 .2 .4 .2-.5 .2-.6 .2 .6 .2 .4 .2-.7 .2-.2 .2 .7 .2-.4 .2-.4 .2 .3 .2-.1 .2 .4 .2-.1 .2 .5 .2-.1 .2-.8 .2 .8 .2 .1 .2-.2 .2 .2 .2-.7 .2-.2 .2 .6 .2-.8 .2-.4 .2 1.1 .2-.6 .2 .1 .2-.5 .2 0 .2 .1 .2 .3 .2 .2 .2-.8 .2 1.1 .2-.7 .2 0 .2 .7 .2-.3 .2-.5 .2 1.2 .2-.9 .2 .4 .2 0 .2 .5 .2-.8 .2 .5 .2-.7 .2 .7 .2-.7 .2 .1 .2 .8 .2-.5 .2-.1 .2 .8 .2-.6 .2-.4 .2 .6 .2-.6 .2 .9 .2 .1 .2-.6 .2 0 .2 .3 .2-.1 .2-.4 .2 .5 .2-.9 .2 .6 .2 0 .2 .1 .2 .3 .2-.5 .2 .6 .2-.2 .2-.2 .2-.3 .2 .1 .2 .5 .2-.4 .2 .3 .2 .4 .2 0 .2 .1 .2-.7 .2-.3 .2 .7 .2-.3 .2 .4 .2-.4 .2 .5 .2 0 .2 0 .2-.1 .2-.1 .2-.1 .2 0 .2 .2 .2-.5 .2 .7 .2-.7 .2 .4 .2-.4 .2 0 .2 .7 .2-.8 .2-.3 .2 .1 .2 .1 .2 .8 .2-.7 .2 .2 .2-.7 .2 .4 .2 .1 .2 .5 .2-.8 .2 .5 .2-.1 .2-.4 .2 .3 .2-.1 .2-.7 .2 1 .2-.1 .2-.4 .2-.4 .2 1 .2-.5 .2 .3 .2 .1 .2-.6 .2 .5 .2-.3 .2 .2 .2 .1 .2 .1 .2 .4 .2-.3 .2 0 .2-.1 .2 .2 .2-.5 .2 .1 .2 .2 .2-.2 .2 .1 .2-.1 .2 .9 .2-.2 .2-.3 .2-.2 .2 .7 .2-.6 .2-.2 .2 .1 .2 0 .2 .4 .2-.5 .2 .8 .2-1.1 .2 .5 .2-.6 .2 1 .2-.8 .2 .2 .2 .4 .2 .1 .2-.7 .2 .3 .2-.4 .2 .5 .2-.1 .2 0 .2-.1 .2 .1 .2-.1 .2 .5 .2 .3 .2-1.2 .2 .5 .2-.2 .2 .3 .2-.5 .2 .3 .2-.3 .2 .7 .2-.1 .2-.1 .2 .2 .2-.2 .2-.5 .2 .7 .2-.1 .2-.2 .2 .4 .2 .1 .2-.7 .2 .1 .2 .9 .2 0 .2-.7 .2-.2 .2 .2 .2-.1 .2-.4 .2 .5 .2-.5 .2 0 .2 .8 .2-.5 .2 .2 .2 .3 .2 .1 .2-.4 .2 .1 .2-.3 .2 .8 .2-.4 .2-.5 .2 .3 .2 .2 .2-.1 .2 .4 .2-.2 .2-.7 .2 .1 .2-.4 .2 .5 .2 0 .2 .7 .2-.7 .2-.7 .2 .5 .2 .3 .2-.5 .2 .2 .2 .1 .2 .3 .2-.2 .2-.2 .2 .6 .2-.5 .2 0 .2-.3 .2 .1 .2 .5 .2-.7 .2 .5 .2 .3 .2-.3 .2 .2 .2-.4 .2 .8 .2-.1 .2-.2 .2-.7 .2 .3 .2 .6 .2 .2 .2-.5 .2 .3 .2-.7 .2 .1 .2 .1 .2 .1 .2-.6 .2 .8 .2 .2 .2-.7 .2 0 .2 .6 .2-.3 .2-.4 .2 1 .2-.2 .2-.1 .2 .8 .2-.6 .2-.3 .2 .2 .2-.4 .2 0 .2 .3 .2-.4 .2-.1 .2 .7 .2-.2 .2 0 .2-.1 .2 .1 .2 .3 .2-.5 .2 .7 .2-.9 .2 .2 .2-.3 .2 .3 .2 .3 .2 .3 .2-.7 .2 .2 .2-.1 .2-.2 .2-.1 .2 .4 .2-.5 .2 .6 .2-.1 .2-.2 .2-.2 .2-.1 .2 1 .2-1 .2 .9 .2-.3 .2-.3 .2-.2 .2 .8 .2 .2 .2-.8 .2 .3 .2 .5 .2-.3 .2 .5 .2-.8 .2 .3 .2-.7 .2 1.1 .2-1 .2-.4 .2 .6 .2 .1 .2 .6 .2-.7 .2 .1 .2 .2 .2 .3 .2-.5 .2 .4 .2-.2 .2-.2 .2 .1 .2 0 .2-.4 .2 .7 .2-.9 .2 .8 .2-.1 .2-.3 .2-.2 .2 .2 .2 .2 .2 .1 .2-.1 .2 .2 .2-.4 .2 .3 .2-.6 .2 .8 .2-.2 .2-.2 .2 .5 .2-.2 .2-1 .2 .7 .2-.5 .2 .7 .2 .3 .2-.9 .2 .2 .2-.1 .2 .1 .2 .1 .2 .2 .2-.6 .2 .8 .2-.7 .2 .4 .2 .3 .2-.1 .2-.5 .2 .1 .2 .1 .2 .1 .2 .4 .2-.8 .2 .6 .2 .1 .2-.1 .2 0 .2 .3 .2-.4 .2 .1 .2-.2 .2 .3 .2-1.1 .2 .9 .2-.4 .2 0 .2-.2 .2-.3 .2 .4 .2-.1 .2 .3 .2-.6 .2 .9 .2-.3 .2-.1 .2-.1 .2 0 .2-.1 .2 .2 .2 .2 .2-.1 .2-.3 .2 .3 .2-.1 .2 .4 .2 .6 .2-.3 .2-.2 .2-.4 .2 .1 .2-.1 .2 .7 .2-.4 .2 .2 .2-.2 .2 .2 .2 .3 .2-.7 .2 .1 .2-.3 .2 .4 .2-.6 .2-.1 .2-.1 .2 .1 .2 .6 .2 .6 .2-.9 .2 .7 .2-.2 .2-.5 .2 .2 .2-.1 .2-.2 .2 .8 .2-1.2 .2 .7 .2 .1 .2-.3 .2 .2 .2 .2 .2-.2 .2 .1 .2 .1 .2-.7 .2 1 .2 .3 .2-.3 .2 0 .2-.7 .2 .3 .2-.2 .2 .1 .2 .5 .2-.6 .2 .2 .2-.5 .2 .5 .2 .1 .2-.3 .2-.1 .2 .8 .2-1 .2 0 .2 .1 .2 .6 .2 .2 .2-.5 .2-.3 .2 0 .2 .4 .2-.7 .2 .7 .2 0 .2-.4 .2 .2 .2 .2 .2 .3 .2-.7 .2 .8 .2-.4 .2-.1 .2 .3 .2-.1 .2-.2 .2-.2 .2 .2 .2 .7 .2 .1 .2-.4 .2 .1 .2-.5 .2 .1 .2 .1 .2-.4 .2 0 .2 .3 .2-.1 .2-.2 .2 .5 .2-.1 .2 .4 .2-.2 .2-.1 .2 .2 .2 0 .2-.1 .2 .1 .2 .3 .2 0 .2 .2 .2-.9 .2 .3 .2 0 .2 .1 .2-.2 .2-.1 .2 .4 .2-.2 .2-.4 .2 .7 .2-.2 .2-.5 .2 .4 .2-.5 .2 .6 .2-.4 .2-.1 .2 .2 .2 0 .2 .3 .2 .1 .2 0 .2-.2 .2-.6 .2 .6 .2-.6 .2 .5 .2 .2 .2-.3 .2-.3 .2 .1 .2 0 .2-.1 .2 0 .2 0 .2 .5 .2-.4 .2 .2 .2-.4 .2 .1 .2-.1 .2 .2 .2 .2 .2-.1 .2-.1 .2 .1 .2 .8 .2-.4 .2 0 .2 .5 .2-.2 .2-.2 .2-.4 .2 .6 .2-.5 .2 0 .2-.3 .2-.3 .2 0 .2 .5 .2 0 .2-.2 .2-.3 .2-.1 .2 .3 .2-.2 .2 .7 .2 .2 .2 .4 .2-.4 .2-.4 .2-.1 .2-.5 .2 .4 .2 .1 .2 .3 .2-.1 .2 0 .2-.1 .2 .2 .2 .2 .2-.7 .2 .2 .2-.3 .2 .9 .2-.1 .2-.2 .2-.6 .2 .4 .2-.2 .2 .1 .2-.1 .2 .2 .2-.3 .2 .4 .2-.2 .2-.2 .2 .1 .2-.2 .2 .4 .2-.3 .2 .2 .2-.1 .2-.3 .2 .8 .2-.5 .2 .5 .2 0 .2-.5 .2 .2 .2 .1 .2-.1 .2-.2 .2 .5 .2-.3 .2 .1 .2-.3 .2 .2 .2-.4 .2 .2 .2 .1 .2-.1 .2-.2 .2-.2 .2 .4 .2 0 .2-.2 .2-.1 .2 .3 .2 .5 .2-.6 .2 .3 .2 .1 .2-.7 .2 .7 .2-.3 .2 .5 .2-.4 .2-.2 .2 .1 .2 .2 .2-.2 .2 .2 .2-.3 .2 .3 .2 .3 .2 .3 .2-.3 .2-.2 .2 .3 .2-.1 .2 .2 .2-.2 .2-.3 .2 .1 .2-.1 .2 0 .2 0 .2-.3 .2-.3 .2 .5 .2-.4 .2 .6 .2 0 .2-.4 .2 .6 .2 0 .2-.2 .2 .4 .2 .1 .2-.8 .2 .5 .2-.1 .2 0 .2 .1 .2-.4 .2 0 .2 0 .2 0 .2 .2 .2-.4 .2 .1 .2 .4 .2-.3 .2 .1 .2-.6 .2 .3 .2 .1 .2 .3 .2-.2 .2 .5 .2-.3 .2 0 .2 0 .2 .2 .2-.4 .2 .4 .2-.1 .2-.1 .2 0 .2 .1 .2 .2 .2 0 .2-.2 .2 .2 .2-.2 .2 .3 .2-.4 .2-.5 .2 .9 .2-.4 .2-.3 .2 .3 .2-.2 .2 .8 .2-.4 .2-.5 .2 .5 .2-.3 .2 .6 .2-.8 .2-.3 .2 .5 .2-.1 .2 0 .2-.4 .2 .6 .2 .3 .2-1 .2 .8 .2-.5 .2 .6 .2-.4 .2-.2 .2 .4 .2-.1 .2-.3 .2 .4 .2-.2 .2-.3 .2 1 .2-.6 .2-.1 .2 .2 .2-.6 .2 .1 .2 .2 .2-.1 .2 .2 .2 .3 .2-.3 .2 .2 .2 .1 .2-.5 .2 .3 .2-.3 .2 .5 .2-.2 .2-.1 .2-.3 .2 .4 .2-.2 .2 .4 .2-.1 .2-.2 .2 .5 .2-.1 .2-.3 .2 .4 .2-.4 .2 0 .2 .1 .2-.2 .2 .1 .2 0 .2 .5 .2 0 .2-.5 .2 .5 .2-.4 .2 .1 .2 .2 .2-.2 .2 .5 .2-.4 .2-.4 .2 .7 .2-.4 .2 0 .2-.4 .2 .8 .2-.1 .2 0 .2 0 .2 .2 .2-.5 .2 .1 .2-.4 .2 0 .2 .3 .2-.1 .2-.5 .2 .5 .2-.1 .2-.1 .2 .3 .2-.2 .2-.3 .2 .2 .2 .7 .2-.8 .2 .5 .2 .1 .2 0 .2-.5 .2 .2 .2 .1 .2 .2 .2-.4 .2-.1 .2 .6 .2 0 .2-.2 .2-.3 .2 .2 .2-.1 .2 .1 .2-.5 .2 .3 .2-.1 .2-.2 .2 .4 .2 0 .2-.1 .2 .3 .2-.5 .2 .4 .2 .1 .2-.1 .2 .2 .2-.6 .2-.1 .2 .4 .2 .1 .2 .4 .2-.4 .2-.4 .2 .4 .2-.4 .2-.2 .2 .9 .2-.4 .2 .1 .2 0 .2 .3 .2-.4 .2 .3 .2-.5 .2-.1 .2 .7 .2 0 .2-.2 .2 0 .2 0 .2-.2 .2 .5 .2-.3 .2-.1 .2 0 .2 .1 .2-.2 .2 .1 .2-.5 .2 .5 .2 .4 .2-.6 .2 .1 .2 .3 .2 0 .2-.1 .2-.5 .2 .5 .2-.4 .2 0 .2 .3 .2-.3 .2 .3 .2 .3 .2-.3 .2 0 .2-.4 .2 .1 .2-.1 .2 .2 .2-.2 .2 .1 .2 .1 .2-.2 .2-.1 .2 0 .2 .5 .2 0 .2 .2 .2 .1 .2-.4 .2 .3 .2-.6 .2 .9 .2-.3 .2-.4 .2-.3 .2 .3 .2-.6 .2 .3 .2 .4 .2-.1 .2 0 .2 .4 .2-.4 .2 .4 .2-.2 .2-.1 .2 .3 .2-.4 .2 .7 .2-.7 .2 .6 .2-.8 .2 .4 .2-.4 .2 0 .2 .4 .2 .1 .2-.4 .2 .6 .2-.5 .2 .2 .2 .1 .2 0 .2-.6 .2 .8 .2-.3 .2-.2 .2-.2 .2-.2 .2 .1 .2 .4 .2-.2 .2-.2 .2 .2 .2 .5 .2-.5 .2-.1 .2 .4 .2-.3 .2-.1 .2-.2 .2-.2 .2 .1 .2 .2 .2 .1 .2 .2 .2 .1 .2-.1 .2 .1 .2-.3 .2-.2 .2 .5 .2-.1 .2 .1 .2 .1 .2-.2 .2 0 .2 .1 .2 .1 .2-.2 .2 .2 .2-.2 .2-.1 .2 .2 .2 .4 .2-.6 .2 .4 .2 0 .2 0 .2-.5 .2 .7 .2-.4 .2-.1 .2 0 .2 .2 .2-.1 .2-.1 .2 .4 .2-.5 .2-.1 .2 .5 .2-.1 .2 .1 .2-.5 .2 .5 .2-.2 .2 .3 .2-.8 .2 .3 .2-.2 .2-.3 .2 .2 .2 .5 .2-.3 .2 0 .2 .5 .2 0 .2 .1 .2-.4 .2 .1 .2 .3 .2-.5 .2 0 .2 .3 .2 .2 .2-.7 .2-.2 .2 .2 .2 .2 .2 .3 .2 .2 .2-.1 .2-.2 .2 .3 .2-.3 .2 .1 .2-.2 .2 .6 .2-.4 .2-.4 .2-.1 .2 .1 .2-.2 .2 .2 .2 .1 .2 .5 .2-.3 .2 0 .2-.1 .2 0 .2 .3 .2-.1 .2 .3 .2-.5 .2 .4 .2-.2 .2-.1 .2-.5 .2 .1 .2 .5 .2 .2 .2-.3 .2 .2 .2-.3 .2 0 .2-.1 .2 .4 .2-.2 .2-.1 .2-.1 .2 .2 .2 0 .2-.3 .2 .6 .2-.3 .2 0 .2 .4 .2-.1 .2-.3 .2 .2 .2-.4 .2 .1 .2-.4 .2 .8 .2-.7 .2 .6 .2-.3 .2 0 .2 .2 .2 .1 .2 0 .2 .3 .2-.3 .2 .1 .2-.3 .2 .3 .2-.2 .2-.1 .2 0 .2 0 .2 .1 .2 0 .2-.2 .2-.1 .2 .3 .2-.5 .2 .2 .2 .5 .2-.9 .2 .4 .2 .3 .2-.4 .2 .9 .2-.9 .2 .9 .2 0 .2-.1 .2-.3 .2 .1 .2-.4 .2 .4 .2-.5 .2 .2 .2 .3 .2-.5 .2 .2 .2 .1 .2-.4 .2 .6 .2-.2 .2-.4 .2 .3 .2-.1 .2 0 .2 .2 .2-.2 .2 .4 .2-.4 .2 .4 .2-.3 .2 .2 .2-.3 .2 0 .2-.2 .2 .4 .2 .1 .2 .2 .2-.2 .2-.2 .2-.1 .2 .1 .2-.1 .2 .3 .2-.1 .2-.3 .2 0 .2 .5 .2-.2 .2-.2 .2 .4 .2-.4 .2 0 .2 0 .2-.3 .2 .7 .2-.5 .2 .1 .2 0 .2 .3 .2-.2 .2 0 .2-.3 .2 .4 .2-.3 .2 .4 .2 .1 .2-.1 .2 .5 .2-.4 .2 0 .2-.1 .2-.1 .2 .2 .2 0 .2-.5 .2 .5 .2-.1 .2 .1 .2-.2 .2-.4 .2 0 .2 .7 .2-.4 .2-.4 .2 .4 .2-.1 .2-.3 .2 0 .2 .2 .2 .4 .2 0 .2-.1 .2 .2 .2 .1 .2-.6 .2 .5 .2-.1 .2-.1 .2 .1 .2 .1 .2-.1 .2-.3 .2 .2 .2 .5 .2-.7 .2-.2 .2 .5 .2 .1 .2 0 .2-.4 .2 .5 .2-.4 .2-.1 .2 .1 .2 .1 .2 .1 .2 0 .2-.2 .2 .2 .2-.1 .2 .2 .2-.6 .2 0 .2 .5 .2-.4 .2 .2 .2 0 .2-.1 .2 0 .2 .5 .2-.8 .2 .7 .2 .3 .2-.5 .2 0 .2 .2 .2 .3 .2-.7 .2 .3 .2 0 .2 .2 .2-.1 .2 .2 .2-.3 .2 .1 .2-.2 .2 0 .2 .1 .2 0 .2-.2 .2 .5 .2-.4 .2-.3 .2 .6 .2-.5 .2 .3 .2-.1 .2 .1 .2 0 .2-.1 .2 .2 .2 .4 .2-.9 .2 .4 .2 .1 .2-.4 .2 0 .2 .7 .2-.5 .2 .5 .2-.4 .2-.1 .2 .1 .2 .1 .2 .1 .2-.2 .2 0 .2 0 .2 .2 .2-.1 .2-.4 .2 .1 .2 .2 .2-.2 .2 .1 .2-.2 .2 .1 .2 .1 .2 .1 .2-.2 .2 .5 .2-.5 .2 .5 .2-.2 .2-.1 .2-.2 .2-.4 .2 .5 .2 .1 .2 .4 .2-.7 .2 .7 .2-.5 .2 .2 .2-.6 .2 .4 .2-.1 .2 .3 .2-.2 .2-.3 .2 .5 .2-.1 .2 0 .2 .1 .2 0 .2-.2 .2-.3 .2 0 .2 .5 .2-.1 .2-.2 .2-.1 .2 .1 .2 0 .2 0 .2-.1 .2 .7 .2-.4 .2-.2 .2-.1 .2 .1 .2 .3 .2 0 .2-.2 .2 0 .2 0 .2-.2 .2 .5 .2-.2 .2 .4 .2-.7 .2 .1 .2 .2 .2-.2 .2-.2 .2 .2 .2 .3 .2 .1 .2-.1 .2 .3 .2 0 .2-.2 .2-.1 .2-.1 .2 .2 .2 .1 .2-.1 .2 .1 .2-.2 .2-.2 .2 0 .2 .4 .2-.2 .2 .2 .2-.3 .2 .2 .2 .1 .2-.1 .2-.3 .2 .1 .2 .1 .2-.2 .2 .3 .2 .1 .2-.4 .2 .6 .2-.5 .2 0 .2 0 .2-.2 .2 .3 .2-.2 .2 .4 .2-.3 .2 .1 .2-.2 .2-.2 .2 .3 .2-.2 .2 .4 .2-.3 .2 .4 .2-.3 .2 0 .2-.1 .2-.1 .2 .1 .2 .1 .2-.4 .2 .2 .2 .4 .2-.5 .2 0 .2 0 .2-.1 .2 .6 .2-.2 .2 .1 .2 .4 .2 .1 .2-.6 .2 .4 .2-.1 .2-.1 .2 0 .2-.1 .2 .3 .2-.3 .2-.1 .2 .2 .2 0 .2-.1 .2-.1 .2 .4 .2-.3 .2-.1 .2-.1 .2 .1 .2-.2 .2 .2 .2 0 .2-.5 .2 .4 .2 .1 .2-.1 .2-.2 .2 .5 .2-.4 .2-.1 .2 0 .2 .2 .2 .2 .2 .1 .2-.2 .2-.3 .2 .2 .2 0 .2 .2 .2-.4 .2 .4 .2 .1 .2-.2 .2 .1 .2-.3 .2-.1 .2 .2 .2 .4 .2 .1 .2-.3 .2 .4 .2-.3 .2 .4 .2-.2 .2-.3 .2 .2 .2-.3 .2-.1 .2-.2 .2 .3 .2 0 .2-.1 .2 0 .2 .4 .2-.4 .2-.1 .2 .5 .2 0 .2-.3 .2-.4 .2 .2 .2 .2 .2-.1 .2 .3 .2-.6 .2 .4 .2-.2 .2 .4 .2-.3 .2 .3 .2-.4 .2-.1 .2 .1 .2 .1 .2-.1 .2 .4 .2 0 .2-.2 .2-.3 .2 .2 .2-.2 .2 .5 .2-.2 .2 0 .2-.1 .2-.3 .2 .3 .2-.1 .2 .3 .2 0 .2-.2 .2 .1 .2 .4 .2-.6 .2 .1 .2 .1 .2-.1 .2 .1 .2 .2 .2 .3 .2-.7 .2 .3 .2 0 .2 0 .2 0 .2-.1 .2 .3 .2-.3 .2 .1 .2 0 .2 0 .2-.1 .2 .3 .2-.2 .2 0 .2 0 .2-.2 .2 .1 .2-.1 .2 .2 .2-.2 .2 0 .2 .2 .2 .1 .2-.5 .2 .7 .2-.4 .2 0 .2 .2 .2-.2 .2-.2 .2 .6 .2-.7 .2 .2 .2 .2 .2-.4 .2 .2 .2 .2 .2 .4 .2-.5 .2 .2 .2 .1 .2-.1 .2-.3 .2 .3 .2 0 .2 0 .2 .1 .2 0 .2-.1 .2 0 .2-.3 .2 .2 .2 0 .2-.1 .2 .1 .2-.2 .2 .4 .2 .1 .2-.5 .2 .2 .2-.1 .2 .3 .2-.2 .2 0 .2-.1 .2 .1 .2-.3 .2 .4 .2-.3 .2 .2 .2 0 .2 .2 .2-.2 .2 .2 .2-.4 .2 .3 .2-.2 .2 .1 .2 0 .2 .1 .2-.6 .2 .5 .2-.3 .2 .6 .2-.7 .2 .2 .2-.1 .2 .7 .2-.6 .2 .3 .2-.2 .2-.3 .2 .3 .2 .2 .2-.2 .2 .2 .2-.3 .2 .1 .2-.1 .2 .2 .2 .4 .2-.3 .2 0 .2-.2 .2 0 .2 .4 .2-.5 .2 0 .2 .2 .2-.1 .2 .5 .2-.9 .2 .5 .2 .1 .2-.4 .2 .1 .2 .2 .2 .3 .2-.5 .2-.1 .2 .5 .2 .1 .2-.3 .2-.4 .2 .7 .2-.3 .2 .2 .2-.2"/>
<path fill="#F14040" stroke="none" d="M67.8 403.9L68.8 404.3L69.8 404.1L70.8 403.7L71.8 404.2L72.8 404.1L73.8 404.8L74.8 404.6L75.8 403.6L76.8 404.0L77.8 404.5L78.8 404.7L79.8 404.8L80.8 405.0L81.8 404.1L82.8 403.7L83.8 404.0L84.8 403.8L85.8 403.8L86.8 404.1L87.8 404.4L88.8 404.2L89.8 404.2L90.8 404.1L91.8 403.7L92.8 404.0L93.8 404.0L94.8 403.4L95.8 403.9L96.8 404.6L97.8 404.8L98.8 405.5L99.8 404.3L100.8 404.0L101.8 404.7L102.8 405.2L103.8 404.0L104.8 403.7L105.8 403.4L106.8 403.8L107.8 404.9L108.8 404.3L109.8 404.5L110.8 404.1L111.8 403.4L112.8 402.3L113.8 403.1L114.8 404.3L115.8 403.4L116.8 404.1L117.8 403.5L118.8 403.5L119.8 403.8L120.8 403.4L121.8 403.1L122.8 403.4L123.8 403.9L124.8 403.0L125.8 402.7L126.8 403.0L127.8 403.0L128.8 403.0L129.8 402.8L130.8 403.3L131.8 402.9L132.8 402.8L133.8 401.6L134.8 402.2L135.8 402.4L136.8 401.8L137.8 401.5L138.8 401.8L139.8 402.3L140.8 402.3L141.8 401.6L142.8 402.1L143.8 401.8L144.8 401.6L145.8 401.2L146.8 401.2L147.8 400.4L148.8 400.6L149.8 400.7L150.8 401.0L151.8 401.3L152.8 400.7L153.8 400.1L154.8 400.6L155.8 400.4L156.8 400.3L157.8 400.6L158.8 399.1L159.8 399.2L160.8 399.6L161.8 399.6L162.8 399.8L163.8 400.0L164.8 400.0L165.8 399.6L166.8 399.4L167.8 398.8L168.8 398.5L169.8 398.8L170.8 398.8L171.8 398.9L172.8 399.4L173.8 399.3L174.8 399.1L175.8 399.5L176.8 399.9L177.8 399.3L178.8 400.0L179.8 400.2L180.8 399.4L181.8 399.7L182.8 399.7L183.8 399.5L184.8 400.0L185.8 400.1L186.8 399.9L187.8 399.6L188.8 399.8L189.8 399.3L190.8 399.1L191.8 400.3L192.8 399.8L193.8 400.0L194.8 400.6L195.8 400.3L196.8 400.7L197.8 401.1L198.8 401.6L199.8 400.9L200.8 401.2L201.8 401.2L202.8 400.9L203.8 401.2L204.8 401.0L205.8 401.0L206.8 400.8L207.8 402.1L208.8 401.6L209.8 401.3L210.8 401.6L211.8 401.5L212.8 401.6L213.8 402.4L214.8 402.5L215.8 402.2L216.8 402.1L217.8 402.8L218.8 403.0L219.8 403.3L220.8 403.1L221.8 402.6L222.8 402.2L223.8 402.6L224.8 403.1L225.8 403.2L226.8 403.2L227.8 403.3L228.8 403.5L229.8 403.8L230.8 404.2L231.8 404.2L232.8 403.1L233.8 403.3L234.8 404.2L235.8 404.3L236.8 404.2L237.8 405.0L238.8 404.7L239.8 404.8L240.8 404.6L241.8 404.0L242.8 404.7L243.8 404.5L244.8 404.7L245.8 404.8L246.8 404.8L247.8 405.2L248.8 405.7L249.8 405.3L250.8 406.0L251.8 406.0L252.8 405.8L253.8 405.3L254.8 404.9L255.8 405.3L256.8 405.2L257.8 405.3L258.8 405.5L259.8 405.7L260.8 405.8L261.8 405.9L262.8 405.2L263.8 405.5L264.8 405.5L265.8 405.0L266.8 406.1L267.8 406.4L268.8 405.8L269.8 405.4L270.8 405.5L271.8 405.7L272.8 405.4L273.8 405.5L274.8 405.5L275.8 405.3L276.8 405.6L277.8 405.4L278.8 405.7L279.8 406.0L280.8 406.2L281.8 406.1L282.8 406.1L283.8 406.2L284.8 406.2L285.8 405.7L286.8 405.5L287.8 405.9L288.8 406.0L289.8 405.9L290.8 405.6L291.8 405.8L292.8 406.0L293.8 406.2L294.8 406.0L295.8 406.2L296.8 405.8L297.8 405.8L298.8 406.0L299.8 405.8L300.8 406.2L301.8 406.2L302.8 406.0L303.8 405.6L304.8 405.4L305.8 406.1L306.8 406.0L307.8 406.4L308.8 407.3L309.8 406.9L310.8 406.3L311.8 406.0L312.8 406.0L313.8 406.4L314.8 406.4L315.8 406.0L316.8 406.3L317.8 405.9L318.8 406.0L319.8 406.3L320.8 406.2L321.8 406.1L322.8 405.8L323.8 405.9L324.8 405.7L325.8 406.0L326.8 406.2L327.8 406.0L328.8 406.3L329.8 405.8L330.8 406.1L331.8 406.3L332.8 406.1L333.8 406.1L334.8 406.2L335.8 406.4L336.8 405.5L337.8 405.7L338.8 405.6L339.8 405.8L340.8 406.0L341.8 405.8L342.8 405.7L343.8 405.4L344.8 405.5L345.8 405.8L346.8 406.1L347.8 406.0L348.8 406.2L349.8 406.3L350.8 406.2L351.8 405.9L352.8 405.9L353.8 405.9L354.8 406.1L355.8 405.5L356.8 405.3L357.8 405.4L358.8 405.1L359.8 405.5L360.8 406.0L361.8 406.2L362.8 405.8L363.8 405.7L364.8 405.8L365.8 406.0L366.8 406.0L367.8 406.2L368.8 406.3L369.8 406.3L370.8 406.4L371.8 406.1L372.8 406.0L373.8 406.3L374.8 405.8L375.8 406.2L376.8 406.3L377.8 406.0L378.8 406.4L379.8 406.3L380.8 405.8L381.8 406.4L382.8 406.4L383.8 406.4L384.8 406.5L385.8 406.3L386.8 405.9L387.8 406.1L388.8 406.5L389.8 406.6L390.8 406.3L391.8 406.7L392.8 406.8L393.8 407.1L394.8 407.1L395.8 406.9L396.8 406.4L397.8 406.9L398.8 406.9L399.8 406.4L400.8 406.8L401.8 407.1L402.8 407.0L403.8 407.1L404.8 406.5L405.8 406.4L406.8 406.8L407.8 407.2L408.8 407.1L409.8 407.2L410.8 406.9L411.8 407.0L412.8 406.9L413.8 406.9L414.8 407.2L415.8 407.2L416.8 406.8L417.8 406.9L418.8 407.0L419.8 407.3L420.8 407.2L421.8 406.8L422.8 407.0L423.8 407.3L424.8 407.1L425.8 407.0L426.8 407.1L427.8 407.3L428.8 407.2L429.8 406.9L430.8 407.4L431.8 407.5L432.8 407.1L433.8 407.0L434.8 406.9L435.8 406.9L436.8 406.4L437.8 407.0L438.8 407.4L439.8 407.2L440.8 407.6L441.8 407.4L442.8 407.5L443.8 407.4L444.8 407.6L445.8 407.8L446.8 407.4L447.8 407.5L448.8 407.6L449.8 407.3L450.8 407.5L451.8 407.2L452.8 407.1L453.8 407.5L454.8 407.3L455.8 407.5L456.8 407.9L457.8 407.7L458.8 407.6L459.8 407.4L460.8 407.5L461.8 407.7L462.8 407.8L463.8 407.6L464.8 407.8L465.8 407.6L466.8 407.2L467.8 407.6L468.8 407.6L469.8 407.6L470.8 407.5L471.8 407.7L472.8 407.7L473.8 407.4L474.8 407.9L475.8 407.8L476.8 407.7L477.8 407.7L478.8 407.6L479.8 407.9L480.8 408.0L481.8 407.9L482.8 407.6L483.8 407.6L484.8 407.9L485.8 407.6L486.8 407.4L487.8 407.5L488.8 407.9L489.8 407.8L490.8 407.6L491.8 407.7L492.8 407.7L493.8 407.9L494.8 407.6L495.8 407.5L496.8 407.8L497.8 407.9L498.8 407.9L499.8 407.8L500.8 408.2L501.8 408.1L502.8 407.8L503.8 407.4L504.8 407.4L505.8 407.7L506.8 407.8L507.8 407.9L508.8 408.2L509.8 408.2L510.8 407.6L511.8 407.6L512.8 407.9L513.8 408.1L514.8 407.9L515.8 408.1L516.8 408.0L517.8 408.0L518.8 408.0L519.8 407.9L520.8 407.5L521.8 407.7L522.8 407.8L523.8 407.8L524.8 408.3L525.8 408.1L526.8 408.0L527.8 407.9L528.8 408.2L529.8 408.1L530.8 407.9L531.8 408.0L532.8 408.0L533.8 408.1L534.8 408.2L535.8 408.0L536.8 408.3L537.8 408.1L538.8 408.1L539.8 408.0L540.8 408.2L541.8 408.1L542.8 408.0L543.8 407.9L544.8 408.1L545.8 408.1L546.8 408.0L547.8 408.0L548.8 407.8L549.8 408.1L550.8 408.1L551.8 408.2L552.8 408.2L553.8 408.1L554.8 408.0L555.8 408.2L556.8 408.6L557.8 408.3L558.8 408.0L559.8 408.2L560.8 408.4L561.8 408.5L562.8 408.1L563.8 408.1L564.8 408.1L565.8 408.1L566.8 408.0L567.8 408.3L568.8 408.3L569.8 408.1L570.8 408.3L571.8 408.1L572.8 408.1L573.8 408.3L574.8 408.1L575.8 408.2L576.8 408.1L577.8 408.5L578.8 408.2L579.8 408.0L580.8 408.2L581.8 407.9L582.8 407.8L583.8 407.9L584.8 408.3L585.8 408.2L586.8 408.2L587.8 408.1L588.8 408.1L589.8 408.3L590.8 408.1L591.8 408.0L592.8 408.2L593.8 408.5L594.8 408.4L595.8 408.3L596.8 408.2L597.8 408.2L598.8 408.1L599.8 408.1L600.8 408.1L601.8 408.2L602.8 408.4L603.8 408.4L604.8 408.2L605.8 408.3L606.8 408.2L607.8 408.3L608.8 408.1L609.8 408.1L610.8 408.2L611.8 408.2L612.8 408.4L613.8 408.3L614.8 408.5L615.8 408.6L616.8 408.4L617.8 408.3L618.8 408.4L619.8 408.4L620.8 408.3L621.8 408.4L622.8 408.3L623.8 408.3L624.8 408.6L625.8 408.5L626.8 408.5L627.8 408.5L628.8 408.3L629.8 408.2L630.8 408.3L631.8 408.3L632.8 408.3L633.8 408.4L634.8 408.4L635.8 408.6L636.8 408.5L637.8 408.4L638.8 408.3L639.8 408.4L640.8 408.4L641.8 408.3L642.8 408.5L643.8 408.3L644.8 408.6L645.8 408.4L646.8 408.3L647.8 408.3L648.8 408.5L649.8 408.5L650.8 408.5L651.8 408.7L652.8 408.7L653.8 408.6L654.8 408.5L655.8 408.5L656.8 408.7L657.8 408.7L658.8 408.5L659.8 408.5L660.8 408.5L661.8 408.6L662.8 408.5L663.8 408.6L664.8 408.7L665.8 408.6L666.8 408.5L667.8 408.7L668.8 408.6L669.8 408.4L670.8 408.4L671.8 408.5L672.8 408.8L673.8 408.8L674.8 408.9L675.8 408.8L676.8 408.7L677.8 408.5L678.8 408.5L679.8 408.7L680.8 408.6L681.8 408.6L682.8 408.6L683.8 408.6L684.8 408.6L685.8 408.5L686.8 408.7L687.8 408.6L688.8 408.6L689.8 408.5L690.8 408.5L691.8 408.4L692.8 408.9L693.8 409.0L694.8 408.7L695.8 408.7L696.8 408.8L697.8 408.7L698.8 409.0L699.8 408.8L700.8 408.8L701.8 409.0L702.8 408.7L703.8 408.6L704.8 408.7L705.8 408.7L706.8 408.8L707.8 408.8L708.8 408.7L709.8 408.7L710.8 408.9L711.8 408.9L712.8 409.0L713.8 409.0L714.8 408.7L715.8 408.5L716.8 408.6L717.8 408.9L718.8 408.9L719.8 408.7L720.8 408.8L721.8 409.0L722.8 408.9L723.8 408.7L724.8 408.9L725.8 409.0L726.8 409.1L727.8 409.0L728.8 409.1L729.8 408.9L730.8 408.8L731.8 408.9L732.8 409.0L733.8 408.8L734.8 408.8L735.8 408.7L736.8 408.8L737.8 409.1L738.8 409.0L739.8 409.0L740.8 409.0L741.8 409.1L742.8 409.1L743.8 409.0L744.8 408.9L745.8 408.9L746.8 409.1L747.8 408.9L748.8 408.8L749.8 409.1L750.8 409.1L751.8 409.2L752.8 409.1L753.8 408.9L754.8 409.0L755.8 408.8L756.0 408.7L756.0 410.5L755.8 410.6L754.8 410.8L753.8 410.7L752.8 410.9L751.8 411.0L750.8 410.9L749.8 410.9L748.8 410.6L747.8 410.7L746.8 410.9L745.8 410.7L744.8 410.7L743.8 410.9L742.8 410.9L741.8 410.9L740.8 410.8L739.8 410.8L738.8 410.8L737.8 410.9L736.8 410.6L735.8 410.5L734.8 410.6L733.8 410.7L732.8 410.8L731.8 410.7L730.8 410.6L729.8 410.7L728.8 410.9L727.8 410.8L726.8 410.9L725.8 410.8L724.8 410.7L723.8 410.5L722.8 410.8L721.8 410.8L720.8 410.6L719.8 410.6L718.8 410.7L717.8 410.7L716.8 410.5L715.8 410.4L714.8 410.5L713.8 410.8L712.8 410.8L711.8 410.7L710.8 410.7L709.8 410.6L708.8 410.5L707.8 410.6L706.8 410.6L705.8 410.5L704.8 410.6L703.8 410.4L702.8 410.5L701.8 410.8L700.8 410.6L699.8 410.6L698.8 410.8L697.8 410.5L696.8 410.6L695.8 410.6L694.8 410.5L693.8 410.8L692.8 410.7L691.8 410.2L690.8 410.3L689.8 410.3L688.8 410.4L687.8 410.5L686.8 410.5L685.8 410.3L684.8 410.5L683.8 410.4L682.8 410.5L681.8 410.4L680.8 410.5L679.8 410.6L678.8 410.3L677.8 410.4L676.8 410.5L675.8 410.6L674.8 410.7L673.8 410.6L672.8 410.7L671.8 410.4L670.8 410.2L669.8 410.2L668.8 410.4L667.8 410.5L666.8 410.3L665.8 410.4L664.8 410.6L663.8 410.5L662.8 410.3L661.8 410.4L660.8 410.4L659.8 410.3L658.8 410.3L657.8 410.6L656.8 410.6L655.8 410.3L654.8 410.4L653.8 410.4L652.8 410.5L651.8 410.6L650.8 410.4L649.8 410.3L648.8 410.3L647.8 410.2L646.8 410.1L645.8 410.3L644.8 410.4L643.8 410.2L642.8 410.4L641.8 410.2L640.8 410.2L639.8 410.2L638.8 410.1L637.8 410.3L636.8 410.3L635.8 410.5L634.8 410.3L633.8 410.2L632.8 410.1L631.8 410.1L630.8 410.2L629.8 410.1L628.8 410.1L627.8 410.4L626.8 410.3L625.8 410.3L624.8 410.4L623.8 410.1L622.8 410.2L621.8 410.3L620.8 410.2L619.8 410.2L618.8 410.3L617.8 410.2L616.8 410.2L615.8 410.4L614.8 410.3L613.8 410.2L612.8 410.3L611.8 410.1L610.8 410.1L609.8 410.0L608.8 410.0L607.8 410.1L606.8 410.1L605.8 410.1L604.8 410.1L603.8 410.2L602.8 410.2L601.8 410.0L600.8 410.0L599.8 409.9L598.8 410.0L597.8 410.0L596.8 410.1L595.8 410.2L594.8 410.2L593.8 410.4L592.8 410.1L591.8 409.8L590.8 410.0L589.8 410.2L588.8 410.0L587.8 410.0L586.8 410.1L585.8 410.0L584.8 410.1L583.8 409.8L582.8 409.6L581.8 409.8L580.8 410.1L579.8 409.9L578.8 410.1L577.8 410.4L576.8 410.0L575.8 410.1L574.8 410.0L573.8 410.2L572.8 410.0L571.8 410.0L570.8 410.2L569.8 410.0L568.8 410.2L567.8 410.2L566.8 409.9L565.8 410.0L564.8 410.1L563.8 410.0L562.8 410.0L561.8 410.4L560.8 410.3L559.8 410.1L558.8 410.0L557.8 410.2L556.8 410.5L555.8 410.1L554.8 410.0L553.8 410.1L552.8 410.1L551.8 410.1L550.8 410.0L549.8 410.0L548.8 409.8L547.8 409.9L546.8 409.9L545.8 410.1L544.8 410.0L543.8 409.9L542.8 409.9L541.8 410.0L540.8 410.2L539.8 409.9L538.8 410.0L537.8 410.1L536.8 410.2L535.8 410.0L534.8 410.1L533.8 410.1L532.8 409.9L531.8 409.9L530.8 409.8L529.8 410.0L528.8 410.2L527.8 409.8L526.8 409.9L525.8 410.0L524.8 410.2L523.8 409.8L522.8 409.7L521.8 409.7L520.8 409.5L519.8 409.8L518.8 410.0L517.8 410.0L516.8 410.0L515.8 410.0L514.8 409.9L513.8 410.1L512.8 409.9L511.8 409.6L510.8 409.6L509.8 410.2L508.8 410.2L507.8 409.9L506.8 409.8L505.8 409.7L504.8 409.4L503.8 409.4L502.8 409.8L501.8 410.1L500.8 410.2L499.8 409.8L498.8 409.9L497.8 409.9L496.8 409.8L495.8 409.5L494.8 409.6L493.8 409.8L492.8 409.7L491.8 409.7L490.8 409.6L489.8 409.8L488.8 409.9L487.8 409.5L486.8 409.4L485.8 409.6L484.8 409.9L483.8 409.6L482.8 409.6L481.8 409.9L480.8 410.0L479.8 409.9L478.8 409.6L477.8 409.7L476.8 409.7L475.8 409.8L474.8 409.9L473.8 409.4L472.8 409.7L471.8 409.7L470.8 409.6L469.8 409.6L468.8 409.6L467.8 409.6L466.8 409.2L465.8 409.7L464.8 409.8L463.8 409.7L462.8 409.8L461.8 409.7L460.8 409.5L459.8 409.4L458.8 409.7L457.8 409.8L456.8 409.9L455.8 409.6L454.8 409.4L453.8 409.5L452.8 409.1L451.8 409.3L450.8 409.5L449.8 409.4L448.8 409.6L447.8 409.6L446.8 409.5L445.8 409.8L444.8 409.7L443.8 409.4L442.8 409.6L441.8 409.4L440.8 409.6L439.8 409.3L438.8 409.4L437.8 409.1L436.8 408.5L435.8 409.0L434.8 409.0L433.8 409.1L432.8 409.2L431.8 409.5L430.8 409.5L429.8 408.9L428.8 409.2L427.8 409.4L426.8 409.2L425.8 409.1L424.8 409.1L423.8 409.3L422.8 409.1L421.8 408.9L420.8 409.3L419.8 409.4L418.8 409.1L417.8 409.0L416.8 408.9L415.8 409.3L414.8 409.3L413.8 409.0L412.8 409.0L411.8 409.1L410.8 409.0L409.8 409.3L408.8 409.2L407.8 409.3L406.8 408.9L405.8 408.5L404.8 408.6L403.8 409.2L402.8 409.1L401.8 409.2L400.8 408.9L399.8 408.5L398.8 409.1L397.8 409.0L396.8 408.5L395.8 409.1L394.8 409.2L393.8 409.2L392.8 408.9L391.8 408.8L390.8 408.5L389.8 408.7L388.8 408.7L387.8 408.3L386.8 408.1L385.8 408.5L384.8 408.7L383.8 408.5L382.8 408.6L381.8 408.5L380.8 407.9L379.8 408.4L378.8 408.6L377.8 408.1L376.8 408.5L375.8 408.4L374.8 408.0L373.8 408.5L372.8 408.1L371.8 408.3L370.8 408.6L369.8 408.5L368.8 408.5L367.8 408.4L366.8 408.1L365.8 408.2L364.8 408.0L363.8 407.9L362.8 408.0L361.8 408.3L360.8 408.2L359.8 407.7L358.8 407.3L357.8 407.6L356.8 407.5L355.8 407.7L354.8 408.3L353.8 408.1L352.8 408.1L351.8 408.2L350.8 408.4L349.8 408.5L348.8 408.4L347.8 408.2L346.8 408.4L345.8 408.0L344.8 407.7L343.8 407.6L342.8 407.9L341.8 408.0L340.8 408.3L339.8 408.0L338.8 407.9L337.8 407.9L336.8 407.7L335.8 408.6L334.8 408.4L333.8 408.3L332.8 408.4L331.8 408.5L330.8 408.3L329.8 408.1L328.8 408.6L327.8 408.3L326.8 408.5L325.8 408.2L324.8 407.9L323.8 408.2L322.8 408.0L321.8 408.4L320.8 408.5L319.8 408.5L318.8 408.3L317.8 408.2L316.8 408.6L315.8 408.2L314.8 408.7L313.8 408.7L312.8 408.2L311.8 408.3L310.8 408.6L309.8 409.2L308.8 409.6L307.8 408.7L306.8 408.3L305.8 408.4L304.8 407.7L303.8 407.9L302.8 408.3L301.8 408.5L300.8 408.5L299.8 408.1L298.8 408.3L297.8 408.1L296.8 408.1L295.8 408.5L294.8 408.3L293.8 408.5L292.8 408.3L291.8 408.1L290.8 408.0L289.8 408.2L288.8 408.3L287.8 408.3L286.8 407.8L285.8 408.0L284.8 408.5L283.8 408.5L282.8 408.4L281.8 408.4L280.8 408.6L279.8 408.4L278.8 408.1L277.8 407.8L276.8 408.0L275.8 407.7L274.8 407.9L273.8 407.9L272.8 407.9L271.8 408.1L270.8 408.0L269.8 407.9L268.8 408.2L267.8 408.8L266.8 408.5L265.8 407.4L264.8 408.0L263.8 407.9L262.8 407.7L261.8 408.4L260.8 408.2L259.8 408.1L258.8 408.0L257.8 407.8L256.8 407.7L255.8 407.8L254.8 407.4L253.8 407.8L252.8 408.3L251.8 408.5L250.8 408.5L249.8 407.9L248.8 408.2L247.8 407.7L246.8 407.4L245.8 407.3L244.8 407.3L243.8 407.1L242.8 407.2L241.8 406.6L240.8 407.2L239.8 407.4L238.8 407.3L237.8 407.6L236.8 406.8L235.8 406.9L234.8 406.8L233.8 405.9L232.8 405.7L231.8 406.8L230.8 406.8L229.8 406.4L228.8 406.2L227.8 405.9L226.8 405.8L225.8 405.9L224.8 405.8L223.8 405.3L222.8 404.9L221.8 405.3L220.8 405.8L219.8 406.0L218.8 405.7L217.8 405.5L216.8 404.8L215.8 404.9L214.8 405.2L213.8 405.1L212.8 404.3L211.8 404.2L210.8 404.3L209.8 404.1L208.8 404.3L207.8 404.8L206.8 403.5L205.8 403.7L204.8 403.7L203.8 403.9L202.8 403.6L201.8 403.9L200.8 404.0L199.8 403.7L198.8 404.4L197.8 403.9L196.8 403.5L195.8 403.0L194.8 403.4L193.8 402.8L192.8 402.6L191.8 403.0L190.8 401.9L189.8 402.1L188.8 402.6L187.8 402.4L186.8 402.7L185.8 402.9L184.8 402.8L183.8 402.4L182.8 402.5L181.8 402.6L180.8 402.2L179.8 403.0L178.8 402.9L177.8 402.2L176.8 402.8L175.8 402.3L174.8 402.0L173.8 402.2L172.8 402.2L171.8 401.7L170.8 401.7L169.8 401.7L168.8 401.4L167.8 401.7L166.8 402.3L165.8 402.4L164.8 402.8L163.8 402.8L162.8 402.6L161.8 402.5L160.8 402.4L159.8 402.0L158.8 401.9L157.8 403.4L156.8 403.1L155.8 403.2L154.8 403.4L153.8 402.9L152.8 403.5L151.8 404.1L150.8 403.8L149.8 403.5L148.8 403.4L147.8 403.3L146.8 404.0L145.8 404.0L144.8 404.4L143.8 404.6L142.8 404.9L141.8 404.4L140.8 405.1L139.8 405.1L138.8 404.6L137.8 404.3L136.8 404.6L135.8 405.2L134.8 405.0L133.8 404.4L132.8 405.6L131.8 405.7L130.8 406.1L129.8 405.6L128.8 405.7L127.8 405.7L126.8 405.8L125.8 405.5L124.8 405.8L123.8 406.7L122.8 406.2L121.8 405.9L120.8 406.2L119.8 406.5L118.8 406.2L117.8 406.3L116.8 406.9L115.8 406.1L114.8 407.1L113.8 405.9L112.8 405.1L111.8 406.2L110.8 406.9L109.8 407.3L108.8 407.1L107.8 407.7L106.8 406.5L105.8 406.2L104.8 406.4L103.8 406.8L102.8 407.9L101.8 407.5L100.8 406.8L99.8 407.0L98.8 408.3L97.8 407.6L96.8 407.4L95.8 406.6L94.8 406.2L93.8 406.7L92.8 406.7L91.8 406.4L90.8 406.8L89.8 406.9L88.8 407.0L87.8 407.1L86.8 406.8L85.8 406.5L84.8 406.5L83.8 406.8L82.8 406.4L81.8 406.8L80.8 407.7L79.8 407.5L78.8 407.5L77.8 407.2L76.8 406.7L75.8 406.3L74.8 407.4L73.8 407.5L72.8 406.8L71.8 406.9L70.8 406.4L69.8 406.8L68.8 407.0L67.8 406.6Z"/>
<path class="c" stroke="#F14040" stroke-width="1.5" d="M67.8 404.9l.2 .9 .2 0 .2-.9 .2 .6 .2 1 .2 0 .2-.2 .2-.1 .2-1 .2-.1 .2 1.1 .2-2 .2 .9 .2-1.7 .2 1.3 .2-.4 .2-.4 .2 1.8 .2-1 .2 .5 .2 .2 .2-.4 .2 1.9 .2-1.8 .2 .5 .2-1.3 .2 .8 .2 .3 .2 .2 .2 0 .2 .9 .2 1.3 .2-1.6 .2-.1 .2-.5 .2 2.2 .2-.8 .2-1.2 .2-.1 .2-1.4 .2 .4 .2 .4 .2 0 .2-.7 .2 .2 .2 1.4 .2-.1 .2-2 .2 2 .2 1.1 .2-1.7 .2 .9 .2-1.5 .2 2.1 .2-1.7 .2-.1 .2 .8 .2 2.3 .2-2.5 .2-.6 .2 1.6 .2-.1 .2 1.3 .2-2.5 .2-.4 .2 1 .2 .5 .2-.2 .2 .4 .2-2.5 .2 .4 .2 .5 .2 .8 .2-.4 .2-.8 .2-.5 .2 1.7 .2 .2 .2 1.3 .2-2.1 .2 1.7 .2-2.6 .2 .6 .2-.3 .2 .1 .2-.5 .2 .2 .2 .5 .2-.3 .2 1.1 .2-.5 .2 .1 .2 1.4 .2-1.1 .2-.1 .2-.1 .2 .2 .2 .5 .2-1.1 .2 1.8 .2 .4 .2-.4 .2-1.5 .2-1.1 .2 1 .2 .4 .2 .6 .2-.9 .2-.1 .2 1.7 .2-1.9 .2 1.6 .2-.2 .2-2 .2 1.3 .2-.9 .2-.5 .2-.9 .2 .2 .2 1.8 .2-.6 .2 .7 .2-1.2 .2 .7 .2 0 .2-1.1 .2-.1 .2 1.9 .2-.3 .2-.9 .2 .7 .2 .6 .2 1 .2-2.7 .2 1.2 .2 1.2 .2-1.9 .2 1.4 .2-3.1 .2 3.6 .2-1 .2-1.4 .2 2.5 .2 .3 .2 .2 .2-.1 .2-1.2 .2-.6 .2 .4 .2 .6 .2 .6 .2-.6 .2 .7 .2 .8 .2-.5 .2 1.6 .2-.3 .2-3.3 .2 .2 .2-1 .2 0 .2 1.4 .2-1.4 .2 0 .2 .7 .2 1.1 .2-1 .2 .2 .2 1.3 .2-.2 .2 .2 .2 .6 .2-1.7 .2 1.2 .2-.9 .2 1.4 .2-.5 .2-1.9 .2 1.9 .2-2.5 .2 2 .2-.9 .2-1.1 .2-.2 .2 .6 .2 .2 .2-.7 .2 1.2 .2-1.9 .2 1.3 .2-.1 .2-1.7 .2 2.1 .2-1.3 .2-.7 .2 1.7 .2 .6 .2 1.3 .2-1 .2 1.9 .2 0 .2-.4 .2 0 .2-1.1 .2-.9 .2 1 .2 .3 .2-.6 .2-.3 .2-1.2 .2 2.1 .2-.3 .2-1.7 .2 1.2 .2 .4 .2-.9 .2 .7 .2-.1 .2-2.2 .2 .9 .2 .4 .2 .2 .2 .2 .2-3.3 .2 1.6 .2 .7 .2 .5 .2 .6 .2-2.1 .2 .8 .2-.2 .2 2 .2-1.7 .2 2.5 .2-.2 .2-.5 .2-2.7 .2 1.1 .2 1.1 .2-2.1 .2 1.1 .2 .2 .2 1.2 .2-.3 .2 .1 .2-.6 .2 .3 .2-.2 .2 .6 .2-1.1 .2 1 .2-2.6 .2 2.7 .2-1.2 .2 1.3 .2-.9 .2 .8 .2 .6 .2-1.8 .2 .6 .2-.3 .2 .3 .2-1.8 .2 1.3 .2-.2 .2-.6 .2 .5 .2-1.3 .2 2.7 .2-.9 .2 1.4 .2-2.6 .2-.2 .2 1.4 .2-1.7 .2 1.9 .2-.7 .2 .5 .2 .6 .2-.2 .2 1.6 .2-1.3 .2-2 .2 1.9 .2-2.4 .2 1.1 .2-1.4 .2 .4 .2 2 .2-1.7 .2 .1 .2 .1 .2 .3 .2 1.7 .2-2.4 .2-.1 .2 1.7 .2-2.1 .2 1.1 .2 1.5 .2-1 .2-.4 .2-.2 .2-.3 .2 .3 .2 .6 .2 .9 .2-.3 .2-1.4 .2-.1 .2 1.5 .2-2.2 .2 1.4 .2 .2 .2-.8 .2 0 .2 1.2 .2-2 .2 .6 .2 .3 .2 .7 .2-1.3 .2 2.3 .2-1.3 .2-.2 .2-.3 .2-.7 .2-.6 .2 1.8 .2-1 .2-.3 .2 1.1 .2-1.4 .2 1.5 .2-.4 .2-.8 .2 1.7 .2-2.1 .2 2 .2-1.5 .2 1.1 .2 .8 .2-.9 .2-1.3 .2 .5 .2-.4 .2-.9 .2 0 .2 1.1 .2 .4 .2-2.1 .2 1.7 .2 .6 .2-.3 .2-1 .2 1.9 .2-2 .2 1.9 .2 1 .2-3.3 .2 2.3 .2 .2 .2-.1 .2-1 .2 .3 .2-1.3 .2 1.2 .2 .2 .2-1.2 .2-.2 .2 .5 .2 .5 .2 .2 .2-.1 .2 .2 .2-1.3 .2-.8 .2 2.6 .2 .7 .2-2.8 .2 .6 .2 .9 .2 .6 .2-.3 .2 .5 .2-1.3 .2 .4 .2-.1 .2-.9 .2 1.4 .2-.6 .2 .3 .2-1.2 .2 1.4 .2-2 .2 1.3 .2-2.5 .2 .8 .2 1.5 .2-1.3 .2 .5 .2-1.7 .2 3 .2-.8 .2-.4 .2 .5 .2 0 .2 1.1 .2-1.2 .2-1.7 .2 1.2 .2 1.5 .2-.6 .2-.9 .2 1.1 .2-.3 .2 .5 .2-2 .2 .6 .2 1.5 .2-.8 .2 .5 .2 1.4 .2-2.4 .2 .4 .2-1 .2-.3 .2 .4 .2-1.4 .2-.6 .2 3.4 .2-1.3 .2 1.3 .2-.8 .2 .1 .2 .5 .2 .1 .2-1.9 .2 2.2 .2-2.3 .2 1 .2 2 .2-2.2 .2 1.6 .2-1.8 .2 1 .2-.4 .2 .4 .2-1.2 .2-.1 .2 1 .2-2.1 .2 .4 .2 1 .2-1.5 .2-.5 .2-.3 .2 1.3 .2-.4 .2 .7 .2-.1 .2 2.2 .2-2.1 .2-1.5 .2 1.9 .2-.2 .2 .1 .2-1.6 .2 2.7 .2-1.1 .2 .1 .2-1.4 .2 2 .2-.5 .2 1.3 .2-1.7 .2-.8 .2 1.4 .2-.9 .2 1.3 .2-1.3 .2 1 .2-.1 .2 .1 .2-.6 .2-.4 .2 .6 .2-.6 .2 .7 .2-.5 .2-1.8 .2 2.1 .2 1.4 .2-1.1 .2 .1 .2-.2 .2-1.1 .2-.9 .2 2 .2 .1 .2-.6 .2-.2 .2-.1 .2-.4 .2 .2 .2-.2 .2 .3 .2-1.1 .2 .4 .2 1.2 .2-.9 .2-1.7 .2 2.2 .2-2.3 .2 4 .2-1.1 .2-.1 .2-1.3 .2-.4 .2 .9 .2 .2 .2-.6 .2 1 .2 .6 .2 .1 .2-1.5 .2-1.1 .2 2.1 .2-.7 .2 1 .2 1.1 .2-.1 .2-1.4 .2 .8 .2 .5 .2-1.5 .2 .2 .2 .7 .2-.8 .2-.3 .2-.1 .2 .9 .2-.5 .2 1.4 .2-1.1 .2 1.7 .2-.4 .2-2.5 .2 2.1 .2-1.5 .2 1.6 .2-.7 .2-.4 .2 .9 .2-.8 .2 1 .2 .2 .2-.5 .2 .5 .2-1.5 .2 1.2 .2-1.9 .2 1.5 .2-.2 .2 .2 .2-1.2 .2 2.9 .2-2.4 .2 .5 .2-.8 .2 2 .2-1.7 .2 1.4 .2-1.9 .2 1.2 .2-.7 .2 1.1 .2-1.2 .2-.5 .2 1.2 .2-1.5 .2 .3 .2 1.7 .2-2.3 .2 2.6 .2-1 .2-.5 .2 1.1 .2 .3 .2-1.1 .2 .4 .2 .9 .2-.1 .2-.8 .2-.8 .2-.2 .2 .2 .2 1.1 .2-.1 .2-.3 .2 1.1 .2-1.5 .2 0 .2 0 .2 2.1 .2-3.6 .2 2.1 .2 .1 .2-.6 .2 1.9 .2-1.3 .2-.5 .2-1.6 .2 1.3 .2-.6 .2 .7 .2 .4 .2-.4 .2 1.3 .2 1 .2-.5 .2-.9 .2-2 .2 2.6 .2-.2 .2-1.2 .2-.3 .2 1 .2-1.2 .2 1.7 .2-1.4 .2 .3 .2 1 .2-1.3 .2 1.3 .2 .4 .2-1.8 .2 1.9 .2-1.4 .2 1 .2-.2 .2-.4 .2 0 .2-1 .2 .9 .2 0 .2 2.3 .2-.5 .2-2 .2 2 .2-.4 .2-.3 .2 .9 .2 .3 .2-1.2 .2 .2 .2 .2 .2-1.2 .2 .9 .2-.4 .2-.6 .2-.1 .2 1.1 .2 .6 .2-.3 .2-.9 .2 1.4 .2-.6 .2 .3 .2 .4 .2-1.9 .2 .6 .2-.5 .2-.2 .2 2.5 .2-.9 .2-2.3 .2 2 .2-.8 .2 1.5 .2-.9 .2-.2 .2 .2 .2 .1 .2-.3 .2-.3 .2 .1 .2 .6 .2-1.4 .2 1 .2-.2 .2-.4 .2 1 .2-1.8 .2 .8 .2-.2 .2 1.4 .2-.5 .2 .7 .2 .6 .2-1.6 .2 1.7 .2-1.1 .2 .2 .2-.1 .2 .5 .2-.2 .2 .8 .2-1.3 .2-.4 .2 .1 .2 1.1 .2 .9 .2-1.1 .2-.8 .2 .6 .2-.1 .2-.2 .2-.6 .2-1.3 .2 1.6 .2 1.3 .2-.7 .2-2 .2 1.8 .2-1.4 .2 3.3 .2-1.3 .2-.9 .2 1.8 .2-1.1 .2 1.1 .2-.4 .2-1.1 .2 1.5 .2-1.7 .2 2.2 .2-1.1 .2-1 .2-.8 .2 2.7 .2-.2 .2-2.3 .2 2.4 .2-1 .2-.2 .2 .3 .2 0 .2 1.6 .2-1 .2-1.7 .2 3.3 .2-1 .2-1.5 .2 .6 .2-.3 .2 .9 .2 .3 .2-.1 .2-.6 .2-.2 .2 1.3 .2-.9 .2 1.9 .2-2.5 .2 1.2 .2-.7 .2-.7 .2 1.6 .2-1.1 .2-1 .2 .4 .2 .9 .2-1.8 .2 2.1 .2-.6 .2-.7 .2 1.4 .2 .5 .2-.8 .2-.2 .2 1.4 .2-.1 .2-1.9 .2 .6 .2 0 .2-.1 .2-.9 .2 2 .2-.7 .2 0 .2 1.1 .2-1.6 .2 .4 .2 .2 .2-.6 .2 .3 .2 .8 .2-.6 .2 1 .2-1.6 .2 .7 .2-1.2 .2 1.1 .2-.3 .2 1.7 .2-.4 .2-.1 .2 1.1 .2-.4 .2-.5 .2-1.1 .2-.6 .2 1.3 .2-.1 .2-.1 .2 .4 .2-1.1 .2 2.4 .2-2.2 .2 .1 .2 .8 .2-2 .2 1.8 .2-.2 .2-1 .2-.7 .2 .6 .2-1 .2 2.7 .2-.9 .2-.4 .2 .1 .2 1.3 .2 .9 .2-2 .2 .6 .2-.9 .2 1.9 .2-.5 .2 1.5 .2-2 .2-.3 .2-.2 .2 1.3 .2-1.8 .2 2.1 .2-.2 .2-.4 .2-.2 .2 1.6 .2 .6 .2-1.9 .2 .6 .2 .9 .2-1.9 .2 .2 .2-.7 .2 .9 .2 .1 .2-.2 .2-.2 .2-.6 .2 0 .2 .1 .2 1.1 .2-1.1 .2-.4 .2 1.1 .2 0 .2-.9 .2 .3 .2 1.1 .2-.1 .2-.9 .2 .8 .2-.2 .2 .8 .2-1.5 .2 1.3 .2-.3 .2-1.1 .2 1.7 .2-.1 .2-1.7 .2 2.5 .2-2.4 .2 .2 .2 .5 .2 .8 .2-.1 .2-.5 .2 1.1 .2-.7 .2 .7 .2 .7 .2-1.5 .2-1.8 .2 1.5 .2-.4 .2 1.1 .2 .1 .2-.9 .2 .2 .2 .6 .2 0 .2-1.6 .2 2.3 .2-.7 .2-.1 .2 .3 .2-.9 .2 .9 .2 1 .2 .1 .2-.3 .2-.5 .2-.4 .2 1.5 .2-.6 .2-.8 .2-1.3 .2 .9 .2-.8 .2 2.3 .2-.9 .2-.7 .2 .2 .2 1.8 .2-.9 .2-2 .2 .7 .2-.9 .2-.4 .2 1.4 .2 1.6 .2-.4 .2-1 .2-.3 .2 .5 .2 .6 .2-1.8 .2-.3 .2 2.7 .2-1.2 .2 1 .2-1 .2 .9 .2-1.5 .2 .9 .2 .7 .2-.3 .2-1.1 .2 1.1 .2-1.1 .2-.5 .2 1.5 .2 .6 .2-.4 .2-1.5 .2 1.5 .2-.1 .2-.8 .2-1.3 .2 2.4 .2 0 .2-.2 .2-1.5 .2 .1 .2 1.8 .2-.3 .2-.3 .2-.8 .2 .3 .2-.8 .2 .2 .2-.4 .2 .9 .2-.4 .2 1.1 .2-.1 .2-1.1 .2 1.9 .2-2.1 .2 1.1 .2 .3 .2 .1 .2-2.7 .2 2.2 .2 .1 .2 .2 .2-2.5 .2 1.4 .2 .7 .2 .1 .2 1.5 .2-1.2 .2 1.4 .2-.6 .2-1.5 .2 .1 .2 .2 .2 .3 .2 .6 .2-.9 .2 .7 .2-1.8 .2-.5 .2 1.2 .2 .5 .2-.7 .2-.4 .2 1 .2 1.1 .2-1.3 .2-.3 .2 0 .2 1.9 .2-1.4 .2 .4 .2 .3 .2-.2 .2-1.4 .2 1.3 .2-.1 .2-.2 .2 .4 .2-1.1 .2 .4 .2-.4 .2 .9 .2-1 .2 .8 .2-1 .2 .6 .2-.2 .2 .1 .2 .1 .2-.2 .2-.1 .2-1.2 .2 2.2 .2-1 .2 .3 .2-.3 .2 1.2 .2-1.3 .2 .9 .2 .4 .2 .2 .2-.3 .2-.4 .2-1.1 .2 1.7 .2 .1 .2-.2 .2 0 .2-.4 .2-.3 .2 1.1 .2 .2 .2-1.5 .2 1.4 .2-.4 .2 .4 .2-.4 .2 .5 .2-.1 .2-.1 .2-1.5 .2 1.4 .2-.5 .2-.8 .2 1.2 .2-1.3 .2 1.4 .2 .6 .2-1.4 .2 .9 .2-.2 .2 .1 .2-1.2 .2 1.2 .2-.3 .2 .3 .2-.5 .2 .6 .2-.7 .2 .2 .2 .3 .2-.8 .2 .4 .2-.5 .2 .1 .2-.6 .2 .9 .2 .4 .2-.7 .2 .6 .2-.1 .2-.9 .2 .9 .2 .6 .2-1.1 .2-.8 .2 1.2 .2-.5 .2 1.5 .2-1.2 .2 0 .2-.5 .2 .5 .2-.5 .2-.3 .2 .5 .2-.5 .2 1.3 .2-1.5 .2 .7 .2-.3 .2-.3 .2 1.9 .2-2.2 .2 2.2 .2-1.8 .2 .9 .2 1.4 .2-2.6 .2 .5 .2 1.6 .2-.7 .2-.5 .2 .3 .2-.6 .2 .7 .2 .8 .2-1.1 .2 .4 .2 .7 .2 .5 .2-1.6 .2 .4 .2-.6 .2-.2 .2 .1 .2-.2 .2-.6 .2-.2 .2 .8 .2 .6 .2 .7 .2-1 .2 .3 .2 .5 .2 0 .2-.5 .2 0 .2 1.1 .2-1.4 .2-.1 .2-.6 .2 1.3 .2-.4 .2 1.4 .2-1.2 .2 .8 .2 .1 .2 .4 .2-1.8 .2 1.6 .2-1 .2-.1 .2-.2 .2-.1 .2 0 .2-1.1 .2 1.6 .2-.3 .2-.8 .2 .4 .2 1.2 .2-1.2 .2-.5 .2 1.3 .2-1.4 .2 .5 .2 0 .2 .3 .2 .7 .2 0 .2-.7 .2 .4 .2 .1 .2-.4 .2 .1 .2-.4 .2 0 .2 .5 .2-.4 .2 1 .2-.2 .2-.2 .2 .4 .2 .2 .2 .3 .2 .2 .2-.2 .2-.4 .2 1.2 .2-.5 .2-.6 .2 .3 .2-.5 .2-.4 .2 .1 .2 1.2 .2-.8 .2 0 .2-.9 .2 .5 .2 .9 .2-1.1 .2 .4 .2 .1 .2-.3 .2 .6 .2-.7 .2 .2 .2-.5 .2 1.7 .2-1 .2-.1 .2 .7 .2-1 .2 .2 .2-.6 .2 .4 .2-.4 .2 .4 .2-.4 .2-.2 .2 .3 .2 .2 .2-.2 .2 .9 .2-.2 .2-.4 .2-.8 .2 .8 .2-1.1 .2 .8 .2-.1 .2-.3 .2-.1 .2 .2 .2 1.6 .2-1.2 .2 0 .2 .8 .2-.3 .2 .3 .2-1.3 .2 .1 .2 1.8 .2-1.3 .2-.1 .2 .3 .2 .4 .2-1.2 .2 .7 .2-.2 .2 .3 .2-.4 .2-.5 .2-.2 .2-.8 .2 1.9 .2-1.3 .2 .6 .2 1.2 .2-1.2 .2 .6 .2-.6 .2 .5 .2-.5 .2-.3 .2 1.1 .2-.9 .2-.5 .2 .7 .2 .6 .2-.8 .2 1.1 .2 0 .2 .7 .2-1.6 .2 .7 .2-1.3 .2 .6 .2 .3 .2 .2 .2-.2 .2 .1 .2-.2 .2 .1 .2 .4 .2 .1 .2-.1 .2 0 .2 0 .2-1.7 .2 .7 .2 .2 .2-.1 .2 1.1 .2 0 .2-.4 .2 .2 .2 .6 .2-1 .2 0 .2 .6 .2-.3 .2 .5 .2-.5 .2 .2 .2-.7 .2-.2 .2 .5 .2-1.4 .2 1.5 .2 .2 .2-.4 .2-.1 .2 .8 .2-.4 .2 .7 .2 .7 .2-.8 .2-.1 .2-.4 .2-.4 .2-.2 .2-.3 .2 .5 .2-1.5 .2 .8 .2 .6 .2-.7 .2 .4 .2-.3 .2 .5 .2 .2 .2 .3 .2-.5 .2-.6 .2 .5 .2 .2 .2 .5 .2-1.9 .2 1.4 .2-1.1 .2 1.4 .2 0 .2 0 .2 .3 .2-.3 .2-.6 .2 .4 .2 .4 .2-.8 .2 0 .2-.6 .2 1.2 .2-.9 .2-.1 .2 .1 .2-.3 .2 .3 .2 .7 .2-.2 .2 .3 .2 .1 .2-1.3 .2 .8 .2 .6 .2 .4 .2-1.9 .2 .1 .2 1.1 .2-.3 .2-.2 .2 .8 .2-.6 .2-.8 .2 1.1 .2 .1 .2 .2 .2 .1 .2-.4 .2-.2 .2-.2 .2-.4 .2 .7 .2 .8 .2-.2 .2 .8 .2-1.2 .2-.8 .2 1.3 .2 .1 .2-1.2 .2-.2 .2 .9 .2 .3 .2-1 .2 .4 .2-.3 .2-.3 .2-.1 .2 .7 .2-.3 .2-.1 .2-.9 .2 2.1 .2-1.4 .2 .4 .2-.5 .2 .8 .2-1 .2 .9 .2-.1 .2 .7 .2-1 .2 .2 .2 .2 .2 1.1 .2-2 .2 .7 .2-.6 .2 .3 .2 .1 .2-.2 .2 0 .2 .1 .2-.5 .2 .3 .2-.8 .2 .7 .2-.2 .2 .2 .2 .4 .2-.2 .2 0 .2 .3 .2-1.8 .2 1.5 .2-.2 .2 .1 .2-.4 .2 1.1 .2 .4 .2 0 .2-.5 .2 .4 .2 .2 .2 .5 .2-.3 .2-.5 .2 0 .2 0 .2 0 .2-.5 .2 .6 .2-.8 .2-.2 .2 .6 .2-.5 .2 .2 .2-.9 .2 1.4 .2-.3 .2-.1 .2 .3 .2-.1 .2-.4 .2 1.4 .2-1.3 .2 .8 .2 .5 .2-1.2 .2 .3 .2-.4 .2 .9 .2-.7 .2-.4 .2 1.2 .2-.1 .2-.8 .2 1.1 .2-.4 .2 1.1 .2-.2 .2-1.2 .2 .1 .2-.4 .2 .5 .2 0 .2 .3 .2-.3 .2-.7 .2 .3 .2 1.2 .2-.1 .2-.7 .2 0 .2-.1 .2 0 .2-.9 .2 1.2 .2-.8 .2 .3 .2-1.3 .2 1.3 .2 .6 .2-1.7 .2 2 .2-.4 .2-.5 .2-.5 .2 1.3 .2-.5 .2 0 .2-.5 .2-.4 .2 .8 .2-.8 .2 1 .2-1.1 .2 .5 .2-.2 .2 1.5 .2-1.5 .2 .3 .2 .8 .2-.4 .2 .9 .2-.3 .2-.7 .2 .1 .2-1.2 .2 .6 .2 .3 .2 .2 .2-.5 .2 .3 .2 0 .2 .9 .2-.3 .2-.5 .2-.1 .2 .2 .2-.6 .2 .1 .2-.8 .2 1.2 .2 .2 .2-.1 .2 .2 .2 .1 .2 1 .2-.8 .2-.8 .2 .1 .2 .7 .2 .1 .2-.1 .2 0 .2-.3 .2-.8 .2 .5 .2-.5 .2 .7 .2-.5 .2 .8 .2-.2 .2-.8 .2 1.2 .2 0 .2-1.2 .2 .7 .2 .1 .2-.5 .2 .4 .2-.3 .2 .4 .2-.4 .2-.1 .2 .4 .2 .2 .2-.2 .2-.2 .2-.1 .2 .3 .2-.1 .2 .5 .2 0 .2-.2 .2 .1 .2 0 .2 .6 .2-.2 .2-.9 .2 .4 .2-.3 .2 .1 .2 0 .2-.1 .2-.3 .2-.3 .2 1.2 .2 .5 .2-1 .2 .7 .2-.4 .2 .3 .2-.4 .2 .3 .2 .2 .2-1 .2 1.2 .2-.2 .2-1 .2 1.4 .2-.4 .2 .1 .2 0 .2-.4 .2-.3 .2 .3 .2-.1 .2 1.1 .2-.3 .2-1.2 .2-.1 .2 .3 .2 .2 .2-.5 .2 .1 .2 1.5 .2-.2 .2-1.1 .2-.1 .2 .3 .2 .4 .2 0 .2-.6 .2-.7 .2 .8 .2 .1 .2-.2 .2-.2 .2 .6 .2-.2 .2-.4 .2 .7 .2-.5 .2 1.1 .2-.2 .2-.7 .2 .5 .2 .4 .2-1.6 .2 .9 .2 .9 .2-1.4 .2 .7 .2-.6 .2 .7 .2-1.1 .2 .2 .2 .3 .2 .2 .2 0 .2-.1 .2 .3 .2-.2 .2 0 .2-.8 .2 .4 .2 1.2 .2 0 .2-.6 .2 .1 .2 .2 .2-.5 .2 1.2 .2-1 .2 .2 .2 1.1 .2-2 .2 1.1 .2-1 .2 .5 .2 .2 .2-.1 .2 .3 .2-.4 .2 .3 .2-.5 .2 .3 .2-.5 .2 .8 .2-.9 .2 .9 .2-.5 .2 0 .2 .7 .2-.4 .2-.9 .2 1.1 .2-1.3 .2 1.1 .2-.4 .2-.4 .2 .6 .2-.2 .2 1.1 .2-1.1 .2 1.2 .2-.2 .2-.9 .2 0 .2 1 .2-.6 .2 .1 .2-.2 .2-.4 .2 .4 .2-.3 .2-.4 .2 .5 .2 .9 .2-.1 .2-.9 .2 .1 .2 .2 .2 .4 .2-.5 .2-.3 .2 0 .2 .7 .2 .5 .2-1.2 .2-.6 .2 1.3 .2-.3 .2 .2 .2 .5 .2-.5 .2-.6 .2-.3 .2 .9 .2-.6 .2 .6 .2-.8 .2 .3 .2-.6 .2 .5 .2-.1 .2 .5 .2 .4 .2-.7 .2-.2 .2 1.3 .2-.6 .2 .2 .2 0 .2 .4 .2-.2 .2-.1 .2 0 .2-.8 .2 .1 .2 .1 .2 .1 .2 0 .2 .1 .2-.1 .2-.2 .2-.6 .2 1.1 .2-.1 .2-.6 .2 .6 .2 .1 .2-.1 .2-.8 .2 .3 .2 .3 .2 1 .2-1.2 .2 .2 .2-.4 .2 .3 .2 .3 .2-1.2 .2-.1 .2 1.2 .2-.3 .2-.2 .2 .8 .2 .1 .2-1.2 .2 1 .2 .6 .2-.7 .2 .2 .2 .5 .2-.6 .2-.5 .2 .1 .2-.3 .2 .8 .2-1.1 .2 1.2 .2-1.2 .2 .7 .2-.6 .2 .4 .2 .6 .2 0 .2 0 .2-.6 .2 .1 .2 .1 .2 .2 .2-.4 .2 .6 .2-.4 .2 .2 .2-.4 .2 0 .2-.7 .2 .1 .2-.4 .2 .5 .2 .2 .2 .6 .2-.7 .2 1.7 .2-.9 .2 .7 .2-.1 .2-1.4 .2 .7 .2 .7 .2-1.6 .2 1.2 .2-.7 .2 .3 .2 .4 .2-.8 .2 1 .2-.4 .2-.1 .2 .6 .2 .6 .2-.9 .2 .1 .2-.2 .2-.3 .2 .5 .2 .6 .2-.6 .2 .3 .2-.5 .2 1 .2-1.7 .2 1 .2 0 .2-.1 .2-.6 .2 .1 .2 .4 .2 .3 .2-.5 .2 .1 .2 .7 .2 .1 .2-.7 .2-.1 .2-.1 .2 1.1 .2-.8 .2-.2 .2 .4 .2 .6 .2-.4 .2-1.1 .2 .7 .2-.1 .2 0 .2-.4 .2 .3 .2-.3 .2 .5 .2-.2 .2-.6 .2-.2 .2 .5 .2 .5 .2 0 .2-.2 .2-.8 .2 .7 .2-.1 .2 .1 .2-.5 .2 .2 .2-.1 .2 1.1 .2-.7 .2-.4 .2 .1 .2 .1 .2 .2 .2-.1 .2 .2 .2 .5 .2-.1 .2-.2 .2 .4 .2-.5 .2-.6 .2-.3 .2 .4 .2 .3 .2 .3 .2 .4 .2-.6 .2-.1 .2 .8 .2 .2 .2-.6 .2 .3 .2 .4 .2-.4 .2-.2 .2-.9 .2 1.3 .2-.3 .2-.2 .2-.2 .2-.4 .2 .4 .2 0 .2 .4 .2-1 .2 1.1 .2-.6 .2 .5 .2-.8 .2 .5 .2 .4 .2-.4 .2-.6 .2 .5 .2 .4 .2-.8 .2 0 .2 .8 .2-.5 .2 .7 .2-.8 .2-.3 .2 .4 .2 .9 .2-1 .2 .3 .2 .1 .2-.5 .2 .9 .2-.3 .2 .2 .2-.9 .2 0 .2-.2 .2 .8 .2-.2 .2 .3 .2 .2 .2-.8 .2-.1 .2 .3 .2 .5 .2-1 .2 .7 .2-.2 .2 .1 .2 .5 .2-.6 .2-.1 .2 .6 .2-.3 .2-.2 .2 0 .2 .3 .2-.3 .2 .5 .2-.1 .2 .5 .2-.1 .2-.2 .2-.5 .2 0 .2-.2 .2 1.1 .2-.9 .2 .4 .2 .4 .2-1 .2 .2 .2 .1 .2-.3 .2-.2 .2 .2 .2 .6 .2-.3 .2-.2 .2 0 .2-.6 .2 1.1 .2 0 .2-.5 .2 .6 .2-.1 .2-.2 .2-.2 .2 0 .2-.2 .2 .5 .2 0 .2 0 .2-.2 .2-.1 .2 1 .2-1.6 .2 1.3 .2-.4 .2-.1 .2-.3 .2 .1 .2-.4 .2-.1 .2 .5 .2-.5 .2 1 .2 .2 .2-1.2 .2 .3 .2 .8 .2 0 .2 0 .2 .1 .2 .1 .2 .1 .2 .3 .2-.7 .2 .3 .2-1.1 .2 .6 .2-.5 .2 .9 .2 .2 .2-.7 .2-.7 .2 .4 .2 .1 .2 .2 .2 .4 .2 0 .2-1.1 .2 1.4 .2-.7 .2 0 .2 .7 .2-.7 .2-.5 .2-.1 .2 .4 .2 .3 .2 .2 .2-.6 .2-.2 .2 .9 .2-.8 .2 .7 .2-.5 .2 .1 .2-.1 .2 .2 .2-.1 .2 0 .2 .3 .2-.2 .2 .4 .2-.1 .2-.2 .2-.1 .2-.1 .2 .7 .2-.7 .2-.3 .2 .2 .2 .3 .2-.3 .2 .1 .2 0 .2 .1 .2 .1 .2 .1 .2-.8 .2 .2 .2-.4 .2 1.2 .2 .1 .2 .2 .2-.5 .2 .4 .2-.5 .2-.1 .2-.6 .2 .3 .2 0 .2 .5 .2 .3 .2-.9 .2 .3 .2 0 .2-.4 .2-.3 .2 .5 .2-.2 .2 .4 .2 .1 .2 .1 .2 0 .2 .2 .2-.5 .2 .7 .2-.9 .2 .6 .2 .2 .2-.5 .2-.3 .2 .8 .2-.6 .2 .5 .2 .1 .2-.3 .2 .1 .2 .5 .2-.1 .2-.5 .2 .5 .2 .2 .2-.2 .2 0 .2-.2 .2-.1 .2-.3 .2-.3 .2 .9 .2-.8 .2 .3 .2-.8 .2 .6 .2-.5 .2 1.1 .2-1.3 .2 .1 .2 .7 .2 .1 .2-1.2 .2 1 .2 .3 .2-.8 .2 .8 .2-.4 .2-.1 .2 .2 .2 0 .2-.3 .2 1.3 .2-1 .2-.2 .2 .7 .2-.3 .2 .6 .2-.5 .2 .3 .2 0 .2 0 .2-.1 .2 .1 .2 .7 .2-.9 .2 0 .2 .1 .2 .2 .2-.1 .2 0 .2-1 .2 .5 .2-.3 .2 0 .2 .1 .2-.7 .2 .9 .2 0 .2-.5 .2 .6 .2 .6 .2-.6 .2 .4 .2-.2 .2-.2 .2 0 .2 .1 .2 .6 .2-.2 .2-.6 .2 .6 .2-.4 .2-.2 .2 .4 .2-.4 .2-.2 .2 1 .2-1.1 .2 .8 .2-.7 .2 .5 .2-.1 .2 0 .2-.7 .2 .8 .2 0 .2-.3 .2 .3 .2 .3 .2-.6 .2 .4 .2-.5 .2 .5 .2 .1 .2 .5 .2-.5 .2-.2 .2 .3 .2-1 .2 .7 .2-.6 .2-.1 .2 .6 .2-.3 .2 .4 .2-.9 .2 .7 .2-.2 .2 .1 .2-.6 .2 1 .2-.3 .2-.5 .2-.2 .2 .2 .2 .9 .2-.5 .2 .1 .2 .4 .2-.1 .2 .2 .2 .2 .2-.1 .2 .1 .2-.7 .2 .3 .2-.2 .2 .1 .2 0 .2-.3 .2 .1 .2 .5 .2-.5 .2-.3 .2 .6 .2 .1 .2-.5 .2 .2 .2-.3 .2 .3 .2 .6 .2 0 .2-.2 .2-.1 .2-.5 .2 .6 .2-.1 .2 .1 .2 .3 .2-.6 .2 .2 .2-.7 .2 .8 .2-.1 .2 .2 .2-.2 .2-.1 .2 .3 .2-.7 .2 .5 .2 .1 .2-.6 .2-.1 .2 .5 .2 0 .2 .2 .2 0 .2-.4 .2 .4 .2 .3 .2-.5 .2 0 .2-.4 .2 .6 .2 .4 .2-1.2 .2 .8 .2 .1 .2-.5 .2 .1 .2-.1 .2 .1 .2 .3 .2 .1 .2-.2 .2 .2 .2-.2 .2-.5 .2 .9 .2-.1 .2-.7 .2 .8 .2-.5 .2-.1 .2 .6 .2-1.4 .2 .2 .2 .8 .2-.2 .2-.2 .2 .9 .2-.3 .2-.6 .2 .2 .2 .5 .2 .2 .2-1.3 .2 .7 .2-.3 .2-.5 .2 .6 .2-.5 .2 .4 .2 .7 .2-.4 .2 .1 .2-.1 .2-.1 .2 .3 .2-.7 .2 .3 .2 .5 .2-.5 .2 .1 .2 .6 .2 .1 .2-.8 .2-.1 .2 .4 .2-.2 .2-.3 .2 .4 .2 .1 .2-.2 .2 .8 .2-.3 .2-.2 .2 0 .2 .3 .2-.4 .2-.6 .2 .3 .2 0 .2-.2 .2 .4 .2 0 .2 0 .2-.2 .2 .5 .2-.8 .2 .8 .2-.3 .2 .1 .2-.8 .2 1.3 .2-1.1 .2 .3 .2 .5 .2-.4 .2 0 .2-.6 .2 .6 .2 .2 .2 .2 .2-.4 .2 .2 .2 .1 .2-.4 .2-.1 .2 .9 .2-1 .2 .7 .2-.4 .2 .5 .2-.6 .2 .4 .2 0 .2-.1 .2 .3 .2-.3 .2 .3 .2 0 .2 .3 .2-.3 .2-.5 .2 .2 .2 0 .2-.3 .2 .6 .2-.3 .2 .1 .2-.5 .2 .1 .2 .5 .2-.8 .2 .6 .2 0 .2-.1 .2 .2 .2-.3 .2 .4 .2-.4 .2 0 .2 .9 .2-.7 .2-.4 .2 1 .2-.7 .2-.5 .2 .6 .2 .3 .2-.3 .2 .4 .2-.7 .2 .3 .2-.5 .2 .4 .2 .5 .2-.3 .2-.1 .2-.7 .2 .5 .2-.3 .2 .6 .2-.5 .2 .4 .2-.5 .2 .9 .2-1 .2 .5 .2 .6 .2-.7 .2-.3 .2 .5 .2 .2 .2 0 .2-.8 .2 .8 .2-.8 .2 1.3 .2-.6 .2-.2 .2 .3 .2-.2 .2-.5 .2 .9 .2-.6 .2-.5 .2 1.1 .2 .1 .2 0 .2-.2 .2-.5 .2 .6 .2 .2 .2-.4 .2 .2 .2-.9 .2 .6 .2-.1 .2-.7 .2 0 .2 .4 .2 .3 .2 .2 .2-.2 .2 0 .2 0 .2 0 .2 .1 .2-.1 .2-.1 .2 .1 .2-.2 .2 .4 .2-.4 .2 .7 .2-.6 .2 0 .2-.3 .2 .1 .2 .2 .2 .1 .2-.1 .2-.1 .2 .4 .2 .1 .2 .1 .2 .1 .2-.5 .2-.6 .2 .5 .2-.5 .2 .1 .2 .7 .2-.2 .2-.4 .2 0 .2 .2 .2-.5 .2 .7 .2-.2 .2 .7 .2-.9 .2 .6 .2-.6 .2 .4 .2-.7 .2 .5 .2-.4 .2-.2 .2 .3 .2 .2 .2 0 .2 .4 .2-.2 .2-1 .2 .7 .2-.4 .2 .6 .2 .4 .2-.6 .2 0 .2 .4 .2-.1 .2 .5 .2-.4 .2 .1 .2 .4 .2-.7 .2 .2 .2-.3 .2 .3 .2 .3 .2 .1 .2-.5 .2-.2 .2-.1 .2-.2 .2 .5 .2 .3 .2-1.1 .2 .1 .2 1.2 .2-.9 .2 .6 .2-.4 .2 .6 .2 0 .2-.3 .2 .2 .2-.3 .2 .1 .2 .4 .2-.3 .2-.6 .2 0 .2 .1 .2 .1 .2 .1 .2-.1 .2 .5 .2-.1 .2 .2 .2-.1 .2 .2 .2-.5 .2 .8 .2-.4 .2 0 .2 0 .2 .1 .2-.1 .2-.2 .2-.1 .2-.5 .2 .6 .2-.1 .2 0 .2 .7 .2-1.2 .2 .5 .2 .3 .2-.1 .2 .1 .2-.8 .2 .1 .2 .5 .2-.3 .2 .6 .2-.4 .2-.1 .2 .1 .2-.3 .2 .1 .2-.2 .2 .2 .2-.1 .2 .2 .2-.5 .2 0 .2 .6 .2-.1 .2-.3 .2 .2 .2-.2 .2 .9 .2-1 .2 1.1 .2-.8 .2 .4 .2-.1 .2-.1 .2 .4 .2 0 .2-.3 .2-.3 .2 .9 .2-.2 .2-.4 .2-.2 .2 .2 .2-.1 .2 .4 .2-.7 .2 .3 .2-.2 .2 .6 .2 .1 .2-.6 .2 .2 .2 .3 .2-.5 .2-.2 .2 .6 .2-.1 .2-.2 .2 .5 .2-.4 .2-.7 .2 .6 .2-.1 .2 .5 .2-.5 .2-.1 .2 .2 .2 0 .2-.5 .2 .5 .2-.1 .2 .5 .2 .2 .2-1 .2 .1 .2 0 .2 .1 .2 0 .2 .3 .2 .3 .2-.6 .2-.1 .2 0 .2 .8 .2 0 .2-.9 .2 0 .2 .5 .2 .3 .2 0 .2-.2 .2 .2 .2-.1 .2-.2 .2 .8 .2-.6 .2-.3 .2 .2 .2-.3 .2 .4 .2 .3 .2-.8 .2 .7 .2 .2 .2-.5 .2-.5 .2 .1 .2 .2 .2-.3 .2 0 .2 .4 .2 0 .2 .2 .2-.5 .2 .9 .2-.2 .2-.1 .2-.5 .2 .7 .2-.6 .2 .6 .2-.2 .2-.6 .2 .1 .2 .7 .2-.2 .2-.3 .2 .2 .2 0 .2-.3 .2 .1 .2-.1 .2 0 .2 .2 .2-.5 .2 .5 .2-.2 .2 .3 .2 .1 .2 .1 .2-.1 .2 .1 .2-.2 .2 .2 .2-.5 .2 .2 .2 .3 .2-.3 .2 .1 .2-.4 .2 .7 .2-.6 .2 .3 .2-.1 .2 .3 .2-.3 .2-.2 .2-.3 .2 .5 .2-.3 .2 .4 .2 .2 .2-1.1 .2 .2 .2 .4 .2 .3 .2-.3 .2 .1 .2 .1 .2 0 .2 .4 .2-.3 .2-.6 .2 .3 .2 .2 .2-.4 .2 .2 .2-.1 .2-.1 .2 .4 .2-.3 .2-.2 .2 .1 .2 .3 .2 .6 .2-.5 .2 .4 .2-.3 .2-.8 .2 .7 .2-.3 .2-.1 .2 .1 .2 .9 .2-1 .2 .3 .2 .6 .2-.1 .2-.7 .2 .4 .2-.1 .2 0 .2 .3 .2-.4 .2 0 .2 .5 .2-.9 .2 .4 .2 .2 .2-.5 .2 .1 .2-.2 .2 .4 .2-.2 .2 .4 .2 .1 .2-.3 .2-.1 .2 .2 .2 0 .2-.4 .2 .7 .2-.3 .2 .1 .2-.6 .2 .6 .2 .4 .2-.4 .2-.6 .2 .5 .2 0 .2 .1 .2-.1 .2 .2 .2-.4 .2 .2 .2-.3 .2 .2 .2 .3 .2-.4 .2 .4 .2-.4 .2 .2 .2 .1 .2 .4 .2-.6 .2 .5 .2-.8 .2 .3 .2 .3 .2-.1 .2-.5 .2-.1 .2 .6 .2-.6 .2 .5 .2-.3 .2 .2 .2 .6 .2-.1 .2-.2 .2-.6 .2 .5 .2-.1 .2 0 .2 .4 .2-.9 .2 .6 .2 0 .2-.3 .2 .7 .2-.8 .2 .4 .2 0 .2-.6 .2 .3 .2 .1 .2 .6 .2 .1 .2-.1 .2-.1 .2-.8 .2 .7 .2-.3 .2 .5 .2 0 .2 .2 .2-.4 .2 .1 .2-.6 .2 .3 .2-.4 .2 .6 .2-.6 .2 .2 .2-.2 .2 .2 .2 .2 .2-.2 .2 .3 .2-.3 .2 .7 .2-.5 .2 .5 .2 .3 .2-1.2 .2 .3 .2 .2 .2 .4 .2-.6 .2 .2 .2-.3 .2 .3 .2-.5 .2 .6 .2-.9 .2 .1 .2 1 .2-.5 .2-.3 .2 .9 .2-.3 .2 .1 .2-.4 .2 .3 .2 0 .2-.7 .2 .7 .2-.3 .2 .4 .2 0 .2-.5 .2 0 .2 .2 .2 .1 .2-.2 .2 .1 .2 .3 .2 0 .2 .2 .2-.2 .2-.4 .2-.2 .2 .7 .2-.4 .2 0 .2-.1 .2-.3 .2 .3 .2-.5 .2 .5 .2-.2 .2 .8 .2-.4 .2-.2 .2 .2 .2 .2 .2-.4 .2 .2 .2-.1 .2 .7 .2-.6 .2-.6 .2 .7 .2 .3 .2-.9 .2 .8 .2-.6 .2 .3 .2-.4 .2 0 .2-.2 .2 0 .2-.3 .2 .9 .2-.6 .2 .5 .2 .1 .2-.2 .2 .2 .2 .1 .2-.1 .2 .2 .2 0 .2-.3 .2-.2 .2 .2 .2 .2 .2 .4 .2 .1 .2-.4 .2 .2 .2-.2 .2 .3 .2-.3 .2 .1 .2-.2 .2 0 .2 .6 .2-.9 .2 .3 .2-.2 .2 .4 .2 .2 .2-.6 .2-.6 .2 .8 .2-.1 .2-.6 .2 .3 .2 .1 .2-.7 .2 .9 .2 0 .2 0 .2-.3 .2 .1 .2 .1 .2 .3 .2-.4 .2 .6 .2-.3 .2-.8 .2 1.1 .2-.4 .2-.2 .2 .2 .2-.6 .2 .6 .2-.7 .2 .3 .2 .7 .2 0 .2-.4 .2-.2 .2 .5 .2-.3 .2 .1 .2 .1 .2-.5 .2 .6 .2-.8 .2 1 .2-.9 .2 .2 .2 0 .2 .3 .2 0 .2-.1 .2 .1 .2 0 .2-.1 .2-.4 .2-.1 .2 .1 .2 .5 .2-.1 .2 0 .2 .1 .2-.2 .2-.2 .2-.1 .2-.1 .2 .9 .2-.1 .2-.7 .2 .3 .2 .1 .2 .4 .2-.7 .2 .3 .2 .2 .2-.8 .2 .3 .2 .2 .2-.3 .2 .8 .2-.3 .2-.1 .2-.3 .2 .6 .2 .1 .2-.2 .2 .1 .2-.2 .2 .4 .2 .2 .2 0 .2-.2 .2 0 .2-.5 .2 0 .2 .4 .2-.2 .2-.4 .2 .4 .2 .1 .2 0 .2-.1 .2-.1 .2 .2 .2 .4 .2-.4 .2-.3 .2 .3 .2-.5 .2 .4 .2-.2 .2 .4 .2-.1 .2 .3 .2 .4 .2-.6 .2-.2 .2 .3 .2-.2 .2 0 .2-.3 .2 .3 .2-.1 .2-.7 .2 .6 .2 .2 .2 .3 .2-.4 .2 0 .2 .5 .2-.5 .2 .2 .2 0 .2 .1 .2-.3 .2-.4 .2 .6 .2-.5 .2 0 .2 .7 .2-.3 .2-.5 .2 .2 .2 0 .2-.1 .2-.3 .2 .8 .2 0 .2-.2 .2-.2 .2 .2 .2 .1 .2-.4 .2 .2 .2 0 .2 .3 .2-.1 .2-.4 .2 .2 .2 .6 .2-.7 .2 .3 .2-.3 .2 .5 .2-.4 .2-.1 .2-.2 .2 .2 .2 .3 .2 0 .2-.5 .2 .8 .2-.4 .2-.2 .2 .3 .2-.2 .2 0 .2 0 .2 .2 .2-.2 .2-.3 .2 .6 .2-.3 .2 .5 .2-.1 .2 0 .2 0 .2 .3 .2-.4 .2-.2 .2 .3 .2-.7 .2 .4 .2 .1 .2-.2 .2 .4 .2-.3 .2-.2 .2-.1 .2 .3 .2-.4 .2 0 .2 .4 .2-.1 .2 .5 .2-.6 .2-.4 .2 .7 .2 .2 .2-.3 .2 .6 .2 .1 .2-.7 .2 .1 .2-.3 .2 .4 .2 0 .2 0 .2-.6 .2 .1 .2-.1 .2-.1 .2 .1 .2 0 .2 .3 .2 .2 .2 .1 .2-.1 .2-.2 .2 .3 .2 .1 .2-.2 .2 .2 .2-.1 .2-.1 .2 .1 .2-.4 .2 .5 .2-.8 .2 .5 .2-.5 .2 .8 .2-.1 .2-.4 .2 .1 .2-.1 .2 .3 .2 .1 .2 .5 .2-.9 .2 .7 .2-.4 .2 .3 .2 .1 .2 0 .2-.1 .2-.2 .2 .1 .2 0 .2 .2 .2-.7 .2 .3 .2-.2 .2 .1 .2 .1 .2 .5 .2 .3 .2-.3 .2-.7 .2 .3 .2-.4 .2 .4 .2 .2 .2-.2 .2 0 .2-.2 .2-.5 .2 0 .2 .5 .2 .2 .2 .2 .2-.4 .2 .2 .2 .1 .2 .2 .2-.3 .2-.3 .2 .6 .2-.2 .2-.1 .2-.5 .2 .3 .2-.5 .2-.1 .2 .5 .2 0 .2 .3 .2 .2 .2-.4 .2 .4 .2-.6 .2 .3 .2-.6 .2 .4 .2-.1 .2 .1 .2 .3 .2-.5 .2 .6 .2-.2 .2 .3 .2 0 .2-.2 .2 0 .2-.2 .2 .4 .2-.4 .2 .3 .2-.5 .2 .7 .2-.6 .2 .6 .2-.5 .2 .3 .2-.2 .2 .3 .2-.2 .2 .4 .2-.2 .2 0 .2 .3 .2-.6 .2 .5 .2-.3 .2-.4 .2 .5 .2-.1 .2 .5 .2-.6 .2 .1 .2 0 .2-.6 .2 .6 .2-.4 .2 .6 .2 0 .2-.4 .2-.5 .2 .5 .2 0 .2 .2 .2-.2 .2-.2 .2 .3 .2-.1 .2 .7 .2-.6 .2-.1 .2 .1 .2-.4 .2 .2 .2 0 .2-.1 .2 0 .2 .4 .2-.2 .2-.4 .2 .3 .2 .4 .2-.4 .2 .3 .2 0 .2 .1 .2-.2 .2 0 .2-.1 .2 .3 .2-.3 .2 .7 .2-.5 .2 0 .2 .3 .2-.3 .2 .1 .2-.1 .2-.2 .2-.1 .2 0 .2 .4 .2-.4 .2 0 .2 0 .2 .4 .2 .3 .2-.7 .2 .4 .2-.1 .2-.2 .2 .2 .2-.6 .2 .5 .2-.2"/>
<path fill="#1A6FDF" stroke="none" d="M67.8 326.8L68.8 326.5L69.8 327.7L70.8 328.4L71.8 328.8L72.8 328.5L73.8 328.4L74.8 328.4L75.8 328.0L76.8 328.0L77.8 328.4L78.8 328.9L79.8 327.7L80.8 326.7L81.8 326.5L82.8 328.1L83.8 328.1L84.0 327.8L84.0 331.4L83.8 331.7L82.8 331.7L81.8 330.1L80.8 330.3L79.8 331.3L78.8 332.5L77.8 332.0L76.8 331.6L75.8 331.5L74.8 332.0L73.8 331.9L72.8 332.1L71.8 332.3L70.8 331.9L69.8 331.2L68.8 330.1L67.8 330.4ZM86.6 327.6L87.6 327.9L88.6 326.9L89.6 327.0L90.6 328.1L91.6 327.7L92.6 327.9L93.6 329.1L94.6 329.1L95.6 328.7L96.6 327.6L97.6 328.3L98.6 328.2L99.6 329.8L100.6 329.5L101.6 329.5L102.6 328.6L103.6 327.0L104.6 326.7L105.6 327.1L106.6 327.0L107.6 326.6L108.6 326.8L109.6 326.9L110.6 326.4L111.6 326.6L112.6 327.1L113.6 327.0L114.6 326.0L115.6 325.8L116.6 327.2L117.6 326.2L118.6 324.8L119.6 326.0L120.6 326.4L121.6 326.6L122.6 326.2L123.6 325.8L124.6 326.4L125.6 325.8L126.6 324.7L127.6 325.7L128.6 325.8L129.6 325.0L130.6 324.8L131.6 324.1L132.6 323.4L133.6 323.5L134.6 323.9L135.6 323.9L136.6 323.9L137.6 324.5L138.6 324.3L139.6 324.0L140.6 321.8L141.6 321.6L142.6 321.6L143.6 322.7L144.6 321.5L145.6 322.3L146.6 321.3L147.6 319.7L148.6 320.3L149.6 320.4L150.6 320.1L151.6 320.2L152.6 320.7L153.6 321.3L154.6 320.5L155.6 320.4L156.6 319.8L157.6 319.1L158.6 319.9L159.6 319.1L160.6 319.8L161.6 319.4L162.6 318.7L163.6 320.3L164.6 320.2L165.6 319.9L166.6 318.8L167.6 319.9L168.6 319.9L169.6 319.6L170.6 321.3L171.6 322.1L172.6 320.4L173.6 319.9L174.6 319.7L175.6 319.8L176.6 320.7L177.6 321.6L178.6 320.3L179.6 319.1L180.6 320.3L181.6 320.4L182.6 320.3L183.6 320.8L184.6 321.4L185.6 320.6L186.6 321.7L187.6 320.8L187.6 324.7L186.6 325.6L185.6 324.5L184.6 325.3L183.6 324.7L182.6 324.2L181.6 324.3L180.6 324.2L179.6 323.0L178.6 324.2L177.6 325.5L176.6 324.6L175.6 323.7L174.6 323.6L173.6 323.8L172.6 324.4L171.6 326.0L170.6 325.3L169.6 323.5L168.6 323.8L167.6 323.9L166.6 322.8L165.6 323.9L164.6 324.2L163.6 324.2L162.6 322.7L161.6 323.4L160.6 323.8L159.6 323.1L158.6 323.8L157.6 323.0L156.6 323.7L155.6 324.3L154.6 324.4L153.6 325.2L152.6 324.6L151.6 324.1L150.6 324.0L149.6 324.2L148.6 324.2L147.6 323.6L146.6 325.2L145.6 326.1L144.6 325.3L143.6 326.5L142.6 325.5L141.6 325.4L140.6 325.7L139.6 327.8L138.6 328.1L137.6 328.3L136.6 327.7L135.6 327.7L134.6 327.7L133.6 327.2L132.6 327.2L131.6 327.9L130.6 328.5L129.6 328.8L128.6 329.6L127.6 329.4L126.6 328.4L125.6 329.5L124.6 330.1L123.6 329.5L122.6 330.0L121.6 330.3L120.6 330.1L119.6 329.7L118.6 328.5L117.6 329.9L116.6 330.9L115.6 329.5L114.6 329.7L113.6 330.7L112.6 330.8L111.6 330.3L110.6 330.1L109.6 330.6L108.6 330.5L107.6 330.3L106.6 330.7L105.6 330.8L104.6 330.3L103.6 330.7L102.6 332.3L101.6 333.1L100.6 333.2L99.6 333.4L98.6 331.9L97.6 332.0L96.6 331.3L95.6 332.3L94.6 332.8L93.6 332.8L92.6 331.5L91.6 331.3L90.6 331.7L89.6 330.6L88.6 330.5L87.6 331.6L86.6 331.2ZM189.4 322.4L190.4 323.2L191.4 323.9L192.4 323.6L193.4 323.1L194.4 323.7L195.4 325.2L196.4 325.4L197.4 323.9L198.4 324.5L199.4 323.2L200.4 323.1L201.4 324.5L202.4 325.3L203.4 324.6L204.4 326.1L205.4 327.7L206.4 327.5L207.4 327.9L208.4 328.8L209.4 329.0L210.4 328.5L211.4 329.3L212.4 328.5L213.4 328.1L214.4 330.0L215.4 330.1L216.4 329.7L217.4 330.0L218.4 331.4L219.4 332.7L220.4 331.5L221.4 332.3L222.4 332.3L223.4 332.7L224.4 332.5L225.4 331.5L226.4 332.8L227.4 334.3L228.4 335.1L229.4 334.4L230.4 335.1L231.4 335.4L232.4 337.0L233.4 336.5L234.4 336.6L235.4 337.0L236.4 337.4L237.4 336.1L238.4 337.0L239.4 337.9L240.4 337.3L241.4 338.2L242.4 339.4L243.4 338.0L244.4 338.4L245.4 339.3L246.4 338.8L247.4 339.6L248.4 339.5L249.4 340.3L250.4 340.0L251.4 339.5L252.4 340.2L253.4 340.9L254.4 340.4L255.4 340.5L256.4 341.3L257.4 341.2L258.4 342.2L259.4 341.9L260.4 341.4L261.4 342.4L262.4 342.5L263.4 341.4L264.4 342.5L265.4 342.1L266.4 341.1L267.4 342.2L268.4 342.4L269.4 342.5L270.4 342.3L271.4 343.0L272.4 343.5L273.4 343.6L274.4 343.6L275.4 344.3L276.4 343.5L277.4 343.7L278.4 343.3L279.4 343.3L280.4 343.6L281.4 343.8L282.4 343.6L283.4 343.6L284.4 343.0L285.4 343.0L286.4 343.8L287.4 343.2L288.4 343.5L289.4 343.8L290.4 343.6L291.4 344.2L292.4 344.1L293.4 344.0L294.4 344.0L295.4 344.0L296.4 344.5L297.4 344.1L298.4 344.2L299.4 344.2L300.4 343.6L301.4 343.8L302.4 343.9L303.4 343.9L304.4 343.9L305.4 344.1L306.4 343.5L307.4 343.5L308.4 343.4L309.4 343.7L310.4 343.8L311.4 343.8L312.4 343.1L313.4 343.2L314.4 343.5L315.4 343.6L316.4 343.7L317.4 343.9L318.4 343.4L319.4 343.7L320.4 343.6L321.4 343.4L322.4 342.6L323.4 342.8L324.4 342.6L325.4 341.7L326.4 341.9L327.4 342.2L328.4 342.2L329.4 342.2L330.4 342.0L331.4 342.0L332.4 341.8L333.4 341.7L334.4 341.4L335.4 341.6L336.4 341.8L337.4 341.1L338.4 341.0L339.4 341.4L340.4 341.5L341.4 340.7L342.4 340.1L343.4 341.1L344.4 341.0L345.4 340.8L346.4 341.0L347.4 340.7L348.4 340.3L349.4 339.6L350.4 339.3L351.4 339.6L352.4 340.0L353.4 339.7L354.4 339.6L355.4 339.9L356.4 339.3L357.4 340.3L358.4 340.7L359.4 340.0L360.4 339.8L361.4 340.4L362.4 340.4L363.4 340.5L364.4 340.6L365.4 340.6L366.4 340.3L367.4 340.8L368.4 341.2L369.4 340.9L370.4 340.7L371.4 340.7L372.4 340.6L373.4 340.7L374.4 341.0L375.4 341.0L376.4 341.2L377.4 341.8L378.4 341.9L379.4 341.7L380.4 341.4L381.4 341.3L382.4 341.8L383.4 341.3L384.4 341.9L385.4 342.1L386.4 342.4L387.4 342.6L388.4 342.0L389.4 341.9L390.4 342.6L391.4 343.0L392.4 342.9L393.4 343.0L394.4 343.2L395.4 343.2L396.4 342.8L397.4 343.0L398.4 343.4L399.4 343.4L400.4 343.5L401.4 343.7L402.4 343.9L403.4 344.0L404.4 343.8L405.4 343.2L406.4 343.7L407.4 344.1L408.4 343.5L409.4 343.5L410.4 343.2L411.4 343.4L412.4 343.9L413.4 343.8L414.4 344.2L415.4 344.2L416.4 344.1L417.4 344.2L418.4 344.4L419.4 344.4L420.4 344.3L421.4 344.2L422.4 344.4L423.4 344.6L424.4 344.3L425.4 343.9L426.4 344.1L427.4 344.5L428.4 344.6L429.4 344.6L430.4 344.3L431.4 344.0L432.4 344.5L433.4 345.0L434.4 345.3L435.4 344.9L436.4 345.3L437.4 345.1L438.4 345.3L439.4 345.4L440.4 345.6L441.4 345.1L442.4 344.9L443.4 344.9L444.4 345.0L445.4 345.3L446.4 345.2L447.4 345.3L448.4 344.9L449.4 345.4L450.4 345.7L451.4 345.9L452.4 345.8L453.4 345.5L454.4 345.3L455.4 345.5L456.4 345.7L457.4 346.1L458.4 346.2L459.4 346.5L460.4 345.8L461.4 345.7L462.4 345.9L463.4 345.7L464.4 345.9L465.4 345.3L466.4 345.7L467.4 345.7L468.4 345.6L469.4 345.6L470.4 345.5L471.4 345.7L472.4 345.9L473.4 346.2L474.4 345.7L475.4 345.7L476.4 346.0L477.4 346.3L478.4 346.4L479.4 345.9L480.4 345.8L481.4 345.8L482.4 346.1L483.4 346.1L484.4 346.2L485.4 346.1L486.4 346.2L487.4 346.0L488.4 345.6L489.4 345.9L490.4 346.1L491.4 346.1L492.4 346.4L493.4 345.8L494.4 345.9L495.4 346.4L496.4 346.3L497.4 346.4L498.4 346.2L499.4 346.2L500.4 346.2L501.4 346.3L502.4 346.2L503.4 346.6L504.4 346.8L505.4 346.4L506.4 346.5L507.4 346.7L508.4 346.5L509.4 346.2L510.4 346.1L511.4 346.6L512.4 346.5L513.4 346.5L514.4 346.3L515.4 346.0L516.4 346.3L517.4 346.4L518.4 346.4L519.4 346.4L520.4 346.8L521.4 346.8L522.4 346.7L523.4 346.6L524.4 346.9L525.4 347.0L526.4 347.0L527.4 346.9L528.4 346.8L529.4 346.5L530.4 346.5L531.4 346.7L532.4 346.8L533.4 346.7L534.4 346.8L535.4 346.4L536.4 346.6L537.4 346.5L538.4 346.5L539.4 346.6L540.4 346.8L541.4 346.9L542.4 347.0L543.4 347.3L544.4 346.8L545.4 346.7L546.4 346.8L547.4 346.9L548.4 347.2L549.4 346.5L550.4 346.5L551.4 347.3L552.4 347.1L553.4 347.0L554.4 346.8L555.4 346.6L556.4 346.7L557.4 346.7L558.4 346.8L559.4 346.9L560.4 346.8L561.4 346.6L562.4 346.8L563.4 346.9L564.4 346.7L565.4 346.9L566.4 346.7L567.4 346.9L568.4 347.4L569.4 347.2L570.4 347.3L571.4 347.3L572.4 347.4L573.4 347.1L574.4 346.9L575.4 347.0L576.4 347.0L577.4 347.0L578.4 347.2L579.4 347.4L580.4 347.3L581.4 347.3L582.4 347.3L583.4 347.6L584.4 347.5L585.4 347.3L586.4 347.2L587.4 347.5L588.4 347.4L589.4 347.2L590.4 346.9L591.4 346.9L592.4 347.2L593.4 347.3L594.4 347.1L595.4 347.1L596.4 347.7L597.4 347.4L598.4 347.4L599.4 347.4L600.4 347.2L601.4 347.2L602.4 347.3L603.4 347.5L604.4 347.6L605.4 347.5L606.4 347.4L607.4 347.0L608.4 347.3L609.4 347.4L610.4 347.6L611.4 347.6L612.4 347.5L613.4 347.5L614.4 347.6L615.4 347.5L616.4 347.4L617.4 347.3L618.4 347.5L619.4 347.7L620.4 347.8L621.4 347.6L622.4 347.5L623.4 347.5L624.4 347.6L625.4 347.6L626.4 347.6L627.4 347.5L628.4 347.3L629.4 347.5L630.4 347.6L631.4 347.6L632.4 347.5L633.4 347.2L634.4 347.7L635.4 347.9L636.4 347.7L637.4 347.7L638.4 347.6L639.4 347.3L640.4 347.3L641.4 347.5L642.4 347.6L643.4 347.6L644.4 347.4L645.4 347.4L646.4 347.6L647.4 347.6L648.4 347.5L649.4 347.8L650.4 347.8L651.4 347.9L652.4 347.8L653.4 347.9L654.4 347.8L655.4 347.7L656.4 347.6L657.4 347.7L658.4 347.7L659.4 347.6L660.4 347.8L661.4 347.8L662.4 347.7L663.4 347.4L664.4 347.6L665.4 347.5L666.4 347.6L667.4 347.7L668.4 347.3L669.4 347.5L670.4 347.5L671.4 347.6L672.4 347.9L673.4 347.6L674.4 347.8L675.4 348.1L676.4 348.0L677.4 347.8L678.4 347.8L679.4 347.8L680.4 347.8L681.4 347.9L682.4 348.0L683.4 347.9L684.4 347.7L685.4 347.7L686.4 347.9L687.4 347.7L688.4 347.8L689.4 347.9L690.4 347.7L691.4 347.7L692.4 347.9L693.4 347.8L694.4 347.9L695.4 347.7L696.4 347.7L697.4 347.7L698.4 347.7L699.4 347.9L700.4 348.1L701.4 347.9L702.4 347.9L703.4 347.9L704.4 347.5L705.4 347.6L706.4 347.6L707.4 347.9L708.4 347.9L709.4 347.6L710.4 347.6L711.4 348.0L712.4 348.0L713.4 347.6L714.4 347.9L715.4 347.9L716.4 348.2L717.4 348.3L718.4 348.1L719.4 347.8L720.4 347.9L721.4 348.1L722.4 348.1L723.4 348.0L724.4 347.9L725.4 347.9L726.4 348.1L727.4 348.2L728.4 348.0L729.4 347.9L730.4 347.9L731.4 348.0L732.4 348.1L733.4 348.0L734.4 347.8L735.4 347.7L736.4 347.9L737.4 348.1L738.4 348.0L739.4 347.9L740.4 348.1L741.4 347.8L742.4 347.7L743.4 348.0L744.4 348.1L745.4 348.1L746.4 348.0L747.4 347.9L748.4 347.8L749.4 348.1L750.4 348.3L751.4 348.1L752.4 348.2L753.4 348.4L754.4 348.4L755.4 348.2L756.0 348.4L756.0 350.2L755.4 350.0L754.4 350.2L753.4 350.3L752.4 350.0L751.4 349.9L750.4 350.2L749.4 349.9L748.4 349.6L747.4 349.7L746.4 349.8L745.4 349.9L744.4 349.9L743.4 349.8L742.4 349.6L741.4 349.6L740.4 350.0L739.4 349.8L738.4 349.8L737.4 350.0L736.4 349.7L735.4 349.6L734.4 349.7L733.4 349.8L732.4 350.0L731.4 349.9L730.4 349.8L729.4 349.7L728.4 349.9L727.4 350.0L726.4 350.0L725.4 349.7L724.4 349.7L723.4 349.9L722.4 349.9L721.4 350.0L720.4 349.8L719.4 349.7L718.4 349.9L717.4 350.1L716.4 350.1L715.4 349.8L714.4 349.8L713.4 349.5L712.4 349.9L711.4 349.9L710.4 349.5L709.4 349.5L708.4 349.7L707.4 349.7L706.4 349.5L705.4 349.5L704.4 349.4L703.4 349.8L702.4 349.8L701.4 349.8L700.4 349.9L699.4 349.8L698.4 349.6L697.4 349.5L696.4 349.6L695.4 349.6L694.4 349.8L693.4 349.6L692.4 349.8L691.4 349.6L690.4 349.6L689.4 349.7L688.4 349.7L687.4 349.6L686.4 349.8L685.4 349.6L684.4 349.6L683.4 349.8L682.4 349.9L681.4 349.8L680.4 349.7L679.4 349.6L678.4 349.7L677.4 349.7L676.4 349.9L675.4 350.0L674.4 349.7L673.4 349.5L672.4 349.7L671.4 349.5L670.4 349.4L669.4 349.4L668.4 349.2L667.4 349.6L666.4 349.4L665.4 349.4L664.4 349.5L663.4 349.3L662.4 349.6L661.4 349.7L660.4 349.7L659.4 349.5L658.4 349.6L657.4 349.6L656.4 349.5L655.4 349.6L654.4 349.7L653.4 349.8L652.4 349.7L651.4 349.8L650.4 349.7L649.4 349.7L648.4 349.4L647.4 349.5L646.4 349.5L645.4 349.3L644.4 349.3L643.4 349.5L642.4 349.5L641.4 349.4L640.4 349.2L639.4 349.2L638.4 349.5L637.4 349.6L636.4 349.6L635.4 349.8L634.4 349.6L633.4 349.1L632.4 349.4L631.4 349.5L630.4 349.5L629.4 349.4L628.4 349.2L627.4 349.4L626.4 349.5L625.4 349.5L624.4 349.5L623.4 349.5L622.4 349.4L621.4 349.6L620.4 349.7L619.4 349.6L618.4 349.4L617.4 349.2L616.4 349.4L615.4 349.4L614.4 349.6L613.4 349.4L612.4 349.5L611.4 349.6L610.4 349.6L609.4 349.3L608.4 349.3L607.4 348.9L606.4 349.4L605.4 349.4L604.4 349.5L603.4 349.5L602.4 349.3L601.4 349.2L600.4 349.2L599.4 349.4L598.4 349.3L597.4 349.3L596.4 349.7L595.4 349.1L594.4 349.1L593.4 349.2L592.4 349.1L591.4 348.9L590.4 348.8L589.4 349.1L588.4 349.3L587.4 349.5L586.4 349.1L585.4 349.3L584.4 349.5L583.4 349.6L582.4 349.2L581.4 349.3L580.4 349.3L579.4 349.4L578.4 349.1L577.4 349.0L576.4 349.0L575.4 349.0L574.4 348.9L573.4 349.1L572.4 349.4L571.4 349.3L570.4 349.3L569.4 349.2L568.4 349.4L567.4 348.9L566.4 348.7L565.4 348.9L564.4 348.8L563.4 348.9L562.4 348.8L561.4 348.6L560.4 348.9L559.4 348.9L558.4 348.8L557.4 348.7L556.4 348.7L555.4 348.6L554.4 348.8L553.4 349.1L552.4 349.1L551.4 349.3L550.4 348.5L549.4 348.5L548.4 349.2L547.4 349.0L546.4 348.9L545.4 348.8L544.4 348.9L543.4 349.3L542.4 349.0L541.4 348.9L540.4 348.9L539.4 348.7L538.4 348.6L537.4 348.5L536.4 348.7L535.4 348.4L534.4 348.8L533.4 348.8L532.4 348.9L531.4 348.8L530.4 348.6L529.4 348.6L528.4 348.9L527.4 349.0L526.4 349.0L525.4 349.1L524.4 349.0L523.4 348.7L522.4 348.8L521.4 348.9L520.4 348.9L519.4 348.5L518.4 348.5L517.4 348.5L516.4 348.4L515.4 348.1L514.4 348.4L513.4 348.7L512.4 348.6L511.4 348.8L510.4 348.3L509.4 348.3L508.4 348.6L507.4 348.8L506.4 348.6L505.4 348.5L504.4 348.9L503.4 348.7L502.4 348.4L501.4 348.5L500.4 348.4L499.4 348.3L498.4 348.4L497.4 348.5L496.4 348.5L495.4 348.6L494.4 348.0L493.4 347.9L492.4 348.6L491.4 348.3L490.4 348.3L489.4 348.1L488.4 347.8L487.4 348.2L486.4 348.3L485.4 348.2L484.4 348.3L483.4 348.3L482.4 348.3L481.4 348.0L480.4 348.0L479.4 348.1L478.4 348.6L477.4 348.4L476.4 348.2L475.4 347.9L474.4 347.9L473.4 348.4L472.4 348.1L471.4 347.8L470.4 347.7L469.4 347.8L468.4 347.8L467.4 347.9L466.4 347.9L465.4 347.5L464.4 348.2L463.4 347.9L462.4 348.1L461.4 347.9L460.4 348.0L459.4 348.7L458.4 348.5L457.4 348.3L456.4 347.9L455.4 347.8L454.4 347.6L453.4 347.7L452.4 348.0L451.4 348.1L450.4 347.9L449.4 347.6L448.4 347.1L447.4 347.5L446.4 347.4L445.4 347.5L444.4 347.2L443.4 347.2L442.4 347.2L441.4 347.3L440.4 347.8L439.4 347.7L438.4 347.5L437.4 347.4L436.4 347.5L435.4 347.1L434.4 347.6L433.4 347.3L432.4 346.8L431.4 346.3L430.4 346.6L429.4 346.9L428.4 346.9L427.4 346.8L426.4 346.4L425.4 346.2L424.4 346.6L423.4 346.9L422.4 346.7L421.4 346.5L420.4 346.6L419.4 346.7L418.4 346.7L417.4 346.5L416.4 346.4L415.4 346.6L414.4 346.5L413.4 346.1L412.4 346.2L411.4 345.7L410.4 345.6L409.4 345.9L408.4 345.9L407.4 346.4L406.4 346.0L405.4 345.6L404.4 346.1L403.4 346.4L402.4 346.3L401.4 346.1L400.4 345.8L399.4 345.7L398.4 345.8L397.4 345.4L396.4 345.1L395.4 345.5L394.4 345.6L393.4 345.3L392.4 345.3L391.4 345.4L390.4 345.0L389.4 344.3L388.4 344.5L387.4 345.0L386.4 344.8L385.4 344.5L384.4 344.3L383.4 343.7L382.4 344.2L381.4 343.7L380.4 343.8L379.4 344.1L378.4 344.3L377.4 344.2L376.4 343.6L375.4 343.4L374.4 343.4L373.4 343.2L372.4 343.0L371.4 343.1L370.4 343.2L369.4 343.4L368.4 343.7L367.4 343.3L366.4 342.8L365.4 343.1L364.4 343.1L363.4 343.0L362.4 342.9L361.4 342.9L360.4 342.3L359.4 342.5L358.4 343.2L357.4 342.9L356.4 341.9L355.4 342.4L354.4 342.2L353.4 342.3L352.4 342.5L351.4 342.2L350.4 341.9L349.4 342.2L348.4 342.8L347.4 343.3L346.4 343.6L345.4 343.4L344.4 343.6L343.4 343.7L342.4 342.7L341.4 343.3L340.4 344.1L339.4 344.0L338.4 343.6L337.4 343.7L336.4 344.4L335.4 344.3L334.4 344.1L333.4 344.3L332.4 344.4L331.4 344.7L330.4 344.6L329.4 344.8L328.4 344.8L327.4 344.8L326.4 344.6L325.4 344.4L324.4 345.2L323.4 345.5L322.4 345.3L321.4 346.0L320.4 346.3L319.4 346.4L318.4 346.1L317.4 346.6L316.4 346.4L315.4 346.3L314.4 346.2L313.4 345.8L312.4 345.8L311.4 346.5L310.4 346.5L309.4 346.4L308.4 346.1L307.4 346.2L306.4 346.3L305.4 346.8L304.4 346.6L303.4 346.6L302.4 346.6L301.4 346.5L300.4 346.4L299.4 346.9L298.4 347.0L297.4 346.8L296.4 347.2L295.4 346.7L294.4 346.8L293.4 346.7L292.4 346.8L291.4 347.0L290.4 346.4L289.4 346.6L288.4 346.3L287.4 346.0L286.4 346.6L285.4 345.9L284.4 345.8L283.4 346.4L282.4 346.4L281.4 346.6L280.4 346.4L279.4 346.2L278.4 346.2L277.4 346.6L276.4 346.3L275.4 347.2L274.4 346.5L273.4 346.5L272.4 346.4L271.4 346.0L270.4 345.3L269.4 345.5L268.4 345.4L267.4 345.2L266.4 344.1L265.4 345.1L264.4 345.5L263.4 344.5L262.4 345.5L261.4 345.4L260.4 344.5L259.4 344.9L258.4 345.2L257.4 344.3L256.4 344.4L255.4 343.6L254.4 343.5L253.4 344.0L252.4 343.3L251.4 342.6L250.4 343.2L249.4 343.4L248.4 342.6L247.4 342.7L246.4 341.9L245.4 342.5L244.4 341.6L243.4 341.3L242.4 342.6L241.4 341.5L240.4 340.5L239.4 341.2L238.4 340.3L237.4 339.4L236.4 340.7L235.4 340.3L234.4 340.0L233.4 339.9L232.4 340.3L231.4 338.8L230.4 338.5L229.4 337.8L228.4 338.6L227.4 337.7L226.4 336.3L225.4 334.9L224.4 336.0L223.4 336.3L222.4 335.8L221.4 335.8L220.4 335.0L219.4 336.2L218.4 335.0L217.4 333.6L216.4 333.3L215.4 333.7L214.4 333.7L213.4 331.8L212.4 332.1L211.4 333.0L210.4 332.2L209.4 332.7L208.4 332.5L207.4 331.6L206.4 331.3L205.4 331.5L204.4 329.9L203.4 328.4L202.4 329.1L201.4 328.3L200.4 326.9L199.4 327.1L198.4 328.4L197.4 327.8L196.4 329.3L195.4 329.0L194.4 327.6L193.4 326.9L192.4 327.5L191.4 327.8L190.4 327.0L189.4 326.3Z"/>
<path class="c" stroke="#1A6FDF" stroke-width="1.5" d="M67.8 326.3l.2 2.2 .2 1.7 .2-4.2 .2 1.9 .2-1.6 .2 4.2 .2-.9 .2-.3 .2-.2 .2 0 .2 .9 .2-1 .2-.2 .2-.3 .2 1.7 .2-1.1 .2 2.5 .2-4.2 .2 3.9 .2 .1 .2 1 .2-2.3 .2-1.9 .2 .8 .2 3 .2-2.2 .2-.1 .2-.3 .2 .7 .2-.3 .2-2 .2 1.4 .2 2.4 .2 .7 .2-2.2 .2-.6 .2 2.7 .2-2.4 .2-1.6 .2 1.4 .2 1 .2 1.2 .2-2.9 .2 1.6 .2-1.2 .2 2.3 .2-1.3 .2 .1 .2-1.8 .2 1.1 .2 .2 .2-2.7 .2 4.7 .2-1.3 .2-.2 .2-.3 .2 .4 .2 .1 .2-2.6 .2 1.7 .2-.3 .2-.4 .2-2.5 .2 1.9 .2-1.8 .2 2.3 .2 1.4 .2-.8 .2-1.8 .2-.2 .2 .1 .2 1.6 .2-1.1 .2 .7 .2-2.3 .2 2.3 .2 .2 .2 .3 .2 2.6 .2-4 .2-.3 .2 2.1 .2-3.5 .2-1.2 .2-2.7 .2-2.9 .2-2 .2 .5 .2 2.1 .2 1.7 .2 3.2 .2 3.7 .2-.1 .2-.6 .2 1.1 .2 1.9 .2-2.7 .2 1.9 .2 .2 .2-1.6 .2 1.7 .2-.1 .2 .2 .2-.4 .2-3.8 .2 3.5 .2-.4 .2 .7 .2-2.6 .2 2.9 .2-.5 .2-2.1 .2 3.9 .2-3 .2-.3 .2 2.1 .2-1.6 .2 1.3 .2-1.1 .2 .7 .2 .7 .2-1.3 .2 1.5 .2 .3 .2-2.3 .2 2.9 .2-.1 .2-.5 .2 1.7 .2 .9 .2-1.4 .2-3.5 .2 2.9 .2-.8 .2-.2 .2 .9 .2-1.1 .2 2.8 .2-2.3 .2-.7 .2 .9 .2-.2 .2 .4 .2-.9 .2-.9 .2 .5 .2-3.3 .2 1.2 .2 3.9 .2-2.2 .2 3.2 .2-.1 .2-4.7 .2 2.6 .2 3.2 .2-4.2 .2 2.1 .2-.6 .2 .2 .2 0 .2 .5 .2 1.1 .2-2.6 .2 1.8 .2-1.9 .2 1.8 .2-.2 .2-1.7 .2 1.4 .2-1.4 .2-.3 .2 2.9 .2-4.8 .2 3.4 .2-.1 .2-2.3 .2 2.3 .2-.6 .2-3.7 .2 2.5 .2-.3 .2-2 .2 2.1 .2 .5 .2-2 .2-1.8 .2 3.7 .2-1.7 .2-1.6 .2 2 .2-3 .2 3 .2 2.8 .2-5.8 .2 4.3 .2-2.2 .2 .7 .2-.9 .2 2.3 .2-1.2 .2-1.2 .2-.8 .2 1.5 .2 2.7 .2-3.5 .2 2.6 .2-.1 .2-3.7 .2 4.7 .2-2 .2 3.3 .2-.9 .2-3.1 .2 .2 .2-1.2 .2-.5 .2 3.5 .2-1.7 .2-.2 .2 .4 .2 1.4 .2 .5 .2-1.3 .2-.2 .2 .5 .2 3.1 .2-6.5 .2 1.3 .2 2.5 .2-.7 .2 1.6 .2-.1 .2 .9 .2-4.7 .2 2 .2-1.5 .2 1.8 .2-1.2 .2 1.4 .2-2.3 .2 1.8 .2-.7 .2 .6 .2-.1 .2-.9 .2 3.3 .2-1.5 .2 .9 .2-3.7 .2-1.9 .2 1.6 .2 .5 .2 1.2 .2 .4 .2 .4 .2 .8 .2-1 .2-.7 .2-1.2 .2 2.6 .2-1.8 .2-.4 .2 2.3 .2-.6 .2 1 .2-2.4 .2 3 .2-1.2 .2-.9 .2-.9 .2-.6 .2-.5 .2 4.3 .2-4.6 .2 3.1 .2-1.5 .2-.6 .2 .1 .2 .6 .2 1.5 .2-.5 .2-.7 .2-2 .2-.4 .2 6 .2-4.6 .2-1 .2 4.1 .2-4.7 .2 3.1 .2-.2 .2-1.3 .2 1.1 .2-3.7 .2 .5 .2 1.9 .2 .6 .2 0 .2 1 .2-1.8 .2-2.3 .2 4.1 .2-1 .2 1.7 .2 2 .2-3.4 .2 .7 .2-2.6 .2 2.7 .2-1.1 .2-.3 .2 1 .2-3.2 .2 2.8 .2-.1 .2 1.8 .2-5.7 .2 2.5 .2 3.5 .2-4.4 .2-.3 .2 3.5 .2 .6 .2-3.5 .2-1.4 .2 .2 .2 .3 .2-.7 .2 .2 .2 1.7 .2-.2 .2 .9 .2-.7 .2-2 .2 3.2 .2-.7 .2-1.4 .2 .6 .2 .9 .2-.5 .2-.3 .2 1.4 .2 .5 .2-2.2 .2 .7 .2-1.7 .2 1.7 .2 1.2 .2 .6 .2-1.2 .2-.5 .2-1 .2 1.5 .2-2.1 .2 2 .2-.2 .2-1.6 .2 2 .2-1.2 .2 1 .2-2.3 .2 1.1 .2 1.4 .2-2.6 .2 .7 .2-2.5 .2 .5 .2-2.5 .2 3 .2-1.7 .2 2.1 .2-3.6 .2 2 .2 1.6 .2 .8 .2-3.1 .2 2.3 .2 4.6 .2-2.4 .2-1.1 .2-4.4 .2 2 .2 2.1 .2-.7 .2 .3 .2 1 .2-1.2 .2 1.6 .2-4.3 .2 6.9 .2-4.4 .2-.8 .2 3.2 .2-1.8 .2 .3 .2-3.1 .2 1.2 .2 .4 .2-3.3 .2 1.4 .2 0 .2 .1 .2-.5 .2-.6 .2 3 .2-.2 .2 1.5 .2-2.1 .2-1.2 .2-1.5 .2 2.5 .2-.7 .2 4 .2 .4 .2-1.1 .2-4.2 .2-.9 .2 2 .2-1.1 .2 4.1 .2-2.1 .2-.8 .2 .8 .2 2.2 .2-3.6 .2 2.5 .2-2.9 .2 2.1 .2-.8 .2 1.7 .2-.4 .2 1.6 .2-1.1 .2-2.5 .2-1.4 .2 .9 .2 .6 .2 .4 .2-.9 .2 3.2 .2-.4 .2-2.2 .2-.5 .2 .2 .2 .2 .2-.2 .2-2.9 .2 1.9 .2-2.5 .2 3.4 .2 1.4 .2-2.8 .2 2.3 .2-1.3 .2-.1 .2 4.4 .2-2.1 .2-.9 .2-1.8 .2 1.4 .2-.9 .2 1.4 .2-2.1 .2 1.6 .2-.5 .2-1.8 .2 5.4 .2-1.7 .2-3.1 .2-1.5 .2 1 .2-.4 .2 .4 .2-1.5 .2 1.5 .2 1.9 .2 1 .2-3.9 .2 3.7 .2-1.6 .2-.2 .2 1.2 .2-.6 .2 2.4 .2 .1 .2-1.7 .2-.7 .2 4.2 .2-.1 .2-3 .2-1.3 .2 1.7 .2 .7 .2-3.4 .2 4.3 .2-3.2 .2 2.4 .2-2.6 .2 1.2 .2-.8 .2 .9 .2 1.7 .2-3.5 .2 1.1 .2 1.4 .2-1.9 .2 4.3 .2-6.2 .2 6.5 .2-5 .2 3.1 .2 1.6 .2-1.5 .2-2.9 .2 2.3 .2 1.1 .2 1.2 .2 .7 .2 0 .2 .2 .2-4.7 .2 3.1 .2-5.2 .2 3.2 .2-2.4 .2-1.4 .2 4.7 .2-1.7 .2 1.7 .2-4.7 .2 .6 .2 1.9 .2-.9 .2 1.3 .2-1.2 .2 .6 .2-1.4 .2 4.2 .2-2.8 .2-1.5 .2 3.4 .2-.2 .2-.2 .2 .3 .2-.7 .2 .8 .2-3.5 .2 1.2 .2 .6 .2 2.5 .2 1.4 .2-2.7 .2-.5 .2 2.2 .2-3 .2 1.5 .2-.7 .2-3.3 .2 2.8 .2-.2 .2-2.1 .2 .6 .2-.1 .2 4.9 .2 1.5 .2-2.4 .2 1.5 .2-5.2 .2 4.7 .2 .8 .2-.7 .2-4.4 .2 3.6 .2-2 .2 2.1 .2-2.9 .2 1.2 .2-.9 .2 1.9 .2-.8 .2 2.3 .2-.3 .2-.6 .2-.8 .2-.6 .2 .3 .2 1 .2-1.2 .2 .3 .2-.5 .2 .2 .2-.8 .2-1.8 .2 4.4 .2 .1 .2-2.8 .2 4.8 .2-5.6 .2 3.3 .2-1.8 .2-.4 .2 .7 .2-.5 .2-.9 .2-.9 .2 .5 .2 2.9 .2 3 .2-.8 .2-1.3 .2 .7 .2 .6 .2 1.9 .2-4.2 .2 2.7 .2-.5 .2-1.6 .2-.4 .2 3.9 .2-1.6 .2-1 .2 .4 .2 1.4 .2-1.6 .2 2.5 .2-3.4 .2-1 .2 1.1 .2-1.4 .2 1 .2 2.9 .2 1 .2-1.6 .2-.4 .2-1.6 .2 .1 .2 2.6 .2 0 .2-1 .2 .4 .2 3.5 .2-1 .2-1.8 .2 0 .2 1.3 .2-1.9 .2-.5 .2-3.2 .2-.1 .2-.2 .2-.3 .2 3.8 .2 .6 .2-2.1 .2 2 .2-.3 .2-1.2 .2-2.7 .2 4.6 .2-.2 .2-3.4 .2 4.4 .2-3 .2-1.2 .2 .9 .2-2.1 .2 2.8 .2-1.8 .2 4.8 .2-1.1 .2-2.6 .2 3.3 .2-3.8 .2 3.1 .2 .4 .2-.9 .2-2.2 .2 1.6 .2-.1 .2 .7 .2 2.6 .2 .8 .2 .3 .2-3.1 .2 .2 .2 1.6 .2 .9 .2-4 .2 2.4 .2 3.9 .2-5 .2 .7 .2 0 .2 2 .2-.9 .2-.3 .2-1.8 .2 3.6 .2-.9 .2-.9 .2 1.3 .2 1.4 .2-3.4 .2 0 .2 1 .2 .3 .2-2.2 .2 2.5 .2 2.7 .2-2.5 .2 2 .2-5.3 .2 3.4 .2 2.5 .2 .6 .2-3.1 .2-.4 .2 2 .2-2.6 .2 1.3 .2-2.3 .2 2.5 .2-.4 .2 2.3 .2-2.1 .2-1.7 .2 .9 .2-1.8 .2 2.3 .2-.1 .2 1.5 .2 1.3 .2-4.2 .2 4 .2 .8 .2-3 .2 4.7 .2-4.4 .2 4.2 .2-2.4 .2 .2 .2-1.1 .2 1.3 .2-3 .2 .5 .2-1.7 .2 3.8 .2-1.9 .2 2.3 .2 0 .2-2.7 .2 3.5 .2-.2 .2 .4 .2 .8 .2-.4 .2 .2 .2 1.5 .2-3.4 .2-.5 .2 .4 .2 2.4 .2-2.2 .2 3.3 .2-6 .2 2.4 .2 .6 .2 1.3 .2 1.7 .2-2.2 .2-1.3 .2 2.7 .2 1.1 .2-5.6 .2 4.2 .2-.3 .2-1.5 .2 .6 .2 1.2 .2-.3 .2-.4 .2-1.5 .2 1.9 .2-1.7 .2 .8 .2-1.2 .2 .9 .2 .8 .2-.6 .2 .8 .2-2.7 .2 3.1 .2 .1 .2-1 .2 .9 .2-2.5 .2 3.5 .2-.5 .2-2.3 .2 4.1 .2-1.4 .2 1.4 .2-.7 .2 1 .2-.8 .2-.7 .2 .9 .2 .4 .2-4.3 .2 3.2 .2-.7 .2-.5 .2 3.7 .2-.4 .2-2.7 .2-.2 .2 2.7 .2-1.9 .2 .6 .2-1.9 .2 3 .2 2.1 .2-2 .2 .6 .2 2.5 .2-1.4 .2 .6 .2-1.3 .2 .7 .2-3.8 .2 1.2 .2-1.1 .2 5.3 .2-2.7 .2-.4 .2-.8 .2-.2 .2-1.5 .2 6.1 .2-2.9 .2 .3 .2-1.9 .2 1.6 .2 .4 .2-.9 .2 .6 .2-2.2 .2 1.4 .2 .7 .2-.3 .2 0 .2-.4 .2-.9 .2 2.3 .2-1.1 .2-.5 .2 2.4 .2-3 .2 1.5 .2 1.7 .2 .1 .2-2 .2 .3 .2 .4 .2-.8 .2-.7 .2 2 .2 .2 .2 .4 .2 1.8 .2-.8 .2-1 .2 .7 .2 1.9 .2-3.7 .2 .2 .2-.9 .2 1.4 .2-2.1 .2 2.1 .2 .5 .2-1.8 .2 .1 .2-.6 .2 2.3 .2-1.3 .2 .8 .2 .3 .2-.5 .2 1.8 .2 .8 .2-4.8 .2 1.6 .2 1.4 .2-1.4 .2 .9 .2 1.1 .2 1.5 .2-.3 .2-1.8 .2 .4 .2-.6 .2 .3 .2-1.1 .2-.5 .2 1.9 .2 1.8 .2-.1 .2-3.1 .2 2 .2-.6 .2 1 .2-1.8 .2 2.2 .2-1.5 .2 .8 .2 .3 .2-3.3 .2 2.1 .2 2.2 .2-1.7 .2 1.4 .2-.6 .2-.9 .2 1.1 .2 1.1 .2 .4 .2 .2 .2-3 .2 2.2 .2-2.7 .2 1.4 .2-.3 .2 .9 .2-.4 .2 1.1 .2-2.1 .2 1.9 .2-.4 .2-.2 .2-1.2 .2 2.2 .2-.3 .2 .5 .2-.9 .2-.4 .2 .7 .2 .2 .2 .3 .2 1.6 .2-2.7 .2 3.3 .2-4.6 .2 3.7 .2-2 .2 3.2 .2-3.5 .2 2 .2-2.5 .2-.4 .2 2.2 .2 0 .2-1.8 .2 3.5 .2-2.7 .2 2.3 .2-2.7 .2 .3 .2 1.4 .2-1.1 .2 1.6 .2-3 .2 2.5 .2-1.1 .2-.7 .2 1 .2-.6 .2-.3 .2 1.4 .2-.4 .2 .4 .2 1.3 .2-1.3 .2 1.2 .2-1.3 .2 1.1 .2-.4 .2-1.5 .2-1.4 .2-.1 .2 .1 .2 1.5 .2-.7 .2 0 .2 1.1 .2 .5 .2 1 .2-2 .2 1.4 .2 .3 .2-1.8 .2 1.1 .2-1.1 .2 .8 .2 .8 .2-2.3 .2 .9 .2 .1 .2 .9 .2-1 .2 1.1 .2-1.3 .2 .3 .2 1.3 .2-.2 .2 0 .2 0 .2 1.3 .2 .5 .2-1.8 .2-.3 .2-.3 .2 3.1 .2-2.7 .2-.4 .2 1.7 .2 .8 .2-2.4 .2 1.1 .2-1.5 .2 .8 .2 2.5 .2-1.4 .2-.3 .2 .5 .2 .4 .2-.3 .2-1.1 .2 0 .2 3.2 .2-3.1 .2 1.8 .2-2.2 .2 1.9 .2-.7 .2-.8 .2 2.4 .2-2.8 .2 .8 .2-.7 .2 0 .2 .3 .2-.9 .2 .5 .2 1.9 .2-3.3 .2 .5 .2 .5 .2 .6 .2 1.6 .2-.3 .2-.2 .2-.3 .2 2 .2-3.3 .2 0 .2 1.2 .2 .3 .2-.5 .2-.6 .2-.5 .2 1 .2-.5 .2 .2 .2-.6 .2 2.4 .2-.9 .2 1.4 .2-2.3 .2 .5 .2-.5 .2 .1 .2-.4 .2 0 .2-1.8 .2 1.6 .2 1 .2-2.4 .2 1.7 .2 1.1 .2 .9 .2-1.2 .2 .6 .2 1.2 .2-.6 .2-1.8 .2-.3 .2 1.4 .2-.9 .2-.7 .2 .4 .2 .6 .2-.3 .2 .1 .2 .1 .2-1.1 .2 3.1 .2-.5 .2 .3 .2-1.6 .2 .1 .2 .4 .2 .2 .2-2.5 .2 2.1 .2-1.1 .2 1 .2-.3 .2 2.3 .2-1 .2-.6 .2 1.2 .2-1.5 .2-.8 .2 .4 .2-.2 .2 .5 .2 .8 .2-.8 .2 .1 .2 1 .2-.7 .2 .6 .2-.9 .2-1.4 .2 .2 .2-.5 .2 2.7 .2-.5 .2-.6 .2-.4 .2 1.3 .2-.5 .2 .4 .2-1.2 .2-.3 .2 2.4 .2-2.4 .2 .9 .2 1.3 .2-2.9 .2 2.3 .2-.6 .2-.1 .2 .4 .2-1.3 .2-1 .2 3.7 .2-2.1 .2 1 .2 .1 .2-.9 .2 0 .2 .2 .2 .8 .2-1 .2 .8 .2-1.3 .2 0 .2 .5 .2 .3 .2 .1 .2 1.2 .2-1 .2-.7 .2 1.7 .2-1.4 .2 0 .2 .1 .2-.8 .2-.7 .2 1.1 .2-.4 .2-.4 .2 1 .2-.2 .2-.3 .2-1.1 .2 1.4 .2 1.6 .2-.9 .2 0 .2-1.1 .2 .9 .2-1.6 .2 .2 .2 .9 .2-1.7 .2 1.3 .2 .2 .2 1.2 .2-2.1 .2 1 .2-1 .2 0 .2-1.4 .2 1.3 .2 1.9 .2-.4 .2-.3 .2 1.9 .2-1.6 .2-1.6 .2 .9 .2 .1 .2 1.5 .2-2.2 .2 1.2 .2 .5 .2-1.6 .2 .5 .2-2 .2 1.6 .2-2.1 .2 1.5 .2 1.8 .2-1 .2-.2 .2 .3 .2 1.9 .2-1.3 .2 .4 .2-1.3 .2 0 .2-.6 .2 .8 .2-.4 .2 1.5 .2-.2 .2-.7 .2-.3 .2-1.5 .2 1.4 .2 .8 .2 .3 .2-2.4 .2 .1 .2 2.1 .2-1.1 .2 .6 .2-.4 .2 .8 .2-2.2 .2 1.2 .2 1.3 .2-.5 .2-.8 .2 1.1 .2-.1 .2-1.1 .2 1.3 .2 0 .2-.6 .2 .9 .2-1.8 .2 1.7 .2-1 .2-.8 .2 .1 .2 1.3 .2-1.7 .2 .1 .2-.3 .2-.1 .2 1.6 .2 1.1 .2-.7 .2-.7 .2 .2 .2-.9 .2-.2 .2-.6 .2 2 .2-1.7 .2-.5 .2-.1 .2 .5 .2-.7 .2 .4 .2 .1 .2 1.1 .2-2.1 .2 1.4 .2-.8 .2 .3 .2 1.8 .2-.8 .2-.8 .2 .7 .2-.4 .2 .9 .2-1.3 .2 .8 .2-.6 .2 .2 .2-.1 .2-.4 .2 .6 .2 .7 .2-1.4 .2 .2 .2 .6 .2-1 .2 1.3 .2-.1 .2-2.4 .2 1.3 .2-.3 .2 1.5 .2 .1 .2-1.9 .2 .4 .2 .4 .2-.2 .2 .9 .2 .2 .2-.3 .2 .3 .2-.2 .2-.8 .2-.4 .2-.3 .2 1.2 .2 .1 .2 .1 .2-1 .2 0 .2 .6 .2 .8 .2-.7 .2-.1 .2-.8 .2 1.1 .2 0 .2-1.3 .2 2 .2-2.4 .2 1.3 .2-1 .2 .2 .2-.8 .2 .2 .2 1.2 .2-.6 .2 0 .2 1 .2 0 .2-.4 .2 0 .2 1.2 .2-1.5 .2 .5 .2 .1 .2-1.5 .2-.5 .2 1.5 .2 .3 .2-.8 .2-.8 .2-.4 .2 1 .2-.9 .2-1 .2 2 .2-.1 .2 .3 .2 .8 .2 .3 .2-.5 .2-.6 .2-1.6 .2 1.9 .2-.4 .2 1.1 .2-.1 .2-.7 .2 .7 .2-1.1 .2 0 .2-.5 .2 .4 .2 .5 .2 .6 .2-1.4 .2 1.1 .2 1.1 .2-2.9 .2 .8 .2 .1 .2 .7 .2 .7 .2-.7 .2-1.1 .2-.7 .2 .4 .2-.1 .2 .1 .2-1 .2 1.8 .2-1.9 .2 1 .2-.3 .2-1 .2 .9 .2 .1 .2-.1 .2 .8 .2-.9 .2 2.1 .2-.7 .2-1.5 .2-1 .2 2.7 .2-.7 .2-.1 .2-.9 .2-.5 .2-.4 .2 3 .2-.5 .2-1.7 .2 1.9 .2-2.8 .2 2.1 .2 .1 .2-1.1 .2 .3 .2-.5 .2 .7 .2 .7 .2-.4 .2-.5 .2 .6 .2-2.1 .2 3.1 .2-1.4 .2-.7 .2 .9 .2 0 .2 .7 .2 .2 .2-1.9 .2 2.6 .2 .3 .2-2.2 .2 1.8 .2-.4 .2-.4 .2 .3 .2-2.4 .2 1.5 .2-1.2 .2 2.5 .2-2.2 .2-.1 .2 1.9 .2-.2 .2-.4 .2 .1 .2 .4 .2 .8 .2-1.8 .2 .1 .2-.1 .2 .4 .2 .1 .2-1 .2 1.2 .2-1.1 .2 .8 .2 0 .2 .1 .2 1.2 .2 .1 .2-.4 .2 .3 .2-1.3 .2 1.3 .2-1 .2 .1 .2 0 .2-1.3 .2 .4 .2 .3 .2 .4 .2-.2 .2-.4 .2 0 .2 1 .2-.7 .2 .1 .2 .8 .2 .2 .2-.8 .2-.8 .2 1.5 .2 .3 .2-1 .2 0 .2-1.4 .2 2.2 .2-1.5 .2 1.4 .2-1 .2 .3 .2 0 .2-1.2 .2 2.9 .2-2.7 .2 1.2 .2-.7 .2 .4 .2 1.1 .2-2.4 .2 1.2 .2 .5 .2-.2 .2 .3 .2-.7 .2-.6 .2 .3 .2 .7 .2 .8 .2-.4 .2 1.1 .2-1.1 .2 0 .2 .1 .2-1.4 .2 1.7 .2-1.2 .2 .6 .2 1.9 .2-2.4 .2 1.1 .2 .2 .2 .1 .2 0 .2-.3 .2 1.9 .2-2.9 .2 .7 .2 1.7 .2-.7 .2-1 .2-.2 .2 .5 .2 1.7 .2-1.2 .2-1 .2 .8 .2-.7 .2 1.4 .2-1 .2 .6 .2-.8 .2 1.4 .2-1.1 .2 0 .2-.7 .2 .5 .2 .6 .2-.6 .2 1.9 .2-1.7 .2-.6 .2 1.1 .2-1.1 .2 .6 .2-.2 .2-.3 .2 1.6 .2-.7 .2 .8 .2-.9 .2-.7 .2 .1 .2 .4 .2 .2 .2 .2 .2 .4 .2-1.1 .2 1.2 .2-.9 .2 .4 .2 2.1 .2-.7 .2-1.1 .2 1.4 .2-.3 .2-.5 .2 .2 .2-1.3 .2-.1 .2-.6 .2 1 .2-1.3 .2 .6 .2 .8 .2-.5 .2 .7 .2 1.2 .2-1.7 .2 1.7 .2-1.3 .2-.1 .2 .8 .2 .6 .2-1.2 .2-.1 .2 .2 .2-.2 .2 .7 .2-.6 .2 .3 .2 .4 .2-.5 .2 1 .2-1.2 .2 0 .2 1.9 .2-.3 .2-.9 .2 .6 .2-.3 .2-.6 .2 .8 .2-.3 .2 .5 .2-2.2 .2 1.7 .2-.5 .2-.6 .2 .2 .2 .1 .2-.6 .2 .6 .2 .9 .2-1.5 .2 .8 .2-1.1 .2 1.2 .2 .7 .2-.2 .2 .1 .2-.7 .2 1 .2-1 .2 1.1 .2-.5 .2-.4 .2 1.3 .2-1.1 .2 1 .2-.5 .2 0 .2 .7 .2-.4 .2-.3 .2 0 .2 .2 .2 0 .2-.2 .2-.4 .2-.7 .2 1.3 .2-.1 .2 1 .2-.5 .2 .4 .2 .3 .2-1.2 .2-.6 .2 .9 .2-1 .2 .1 .2 1 .2-.6 .2 .3 .2-1.5 .2 1 .2 .8 .2-1.3 .2 1.1 .2 .2 .2-1.5 .2 2.4 .2-1.5 .2 .3 .2 1 .2-2.3 .2 1.3 .2-.7 .2 .3 .2-.5 .2 1.4 .2-1.6 .2 .9 .2 .1 .2-.5 .2-.1 .2-.1 .2 .7 .2-.4 .2-.3 .2-.7 .2 .9 .2 .4 .2-.2 .2 1 .2-1.9 .2 2.6 .2-1.5 .2-.6 .2-.4 .2 1.5 .2-.2 .2-.4 .2 .2 .2 .3 .2-.3 .2 1.1 .2-.3 .2-.5 .2-1 .2 1.9 .2-1.1 .2-.3 .2 1.4 .2-.5 .2-1.5 .2 .1 .2 .7 .2-.5 .2 .6 .2 1.5 .2 0 .2-1.3 .2 .6 .2 .2 .2-.6 .2-.8 .2 1.5 .2-.7 .2 .4 .2 .1 .2-.9 .2 1.4 .2-1 .2 .1 .2-.4 .2 .7 .2 .1 .2-.9 .2 .7 .2-.7 .2-.5 .2 .5 .2 .6 .2-.1 .2 .4 .2-1 .2 .4 .2 .3 .2 .4 .2-.4 .2-.5 .2-.4 .2 1.6 .2-.1 .2-1.1 .2 1.2 .2-1 .2 .3 .2 .4 .2-1.1 .2-.3 .2-.6 .2 1.1 .2 .1 .2 .3 .2-.1 .2-.2 .2 .8 .2-1.2 .2 .9 .2 .1 .2-.3 .2 1.1 .2-.7 .2 .5 .2-.2 .2-.6 .2 1.2 .2-.4 .2-.7 .2-.1 .2-.5 .2 .4 .2-.1 .2 .2 .2-.4 .2 .5 .2-.5 .2-1 .2 .6 .2-.2 .2-.3 .2 .7 .2 .7 .2-1 .2-.4 .2 1.2 .2 1.5 .2-1.5 .2 .6 .2-.3 .2 .8 .2 .4 .2-.9 .2 .9 .2-1.3 .2 .8 .2-1 .2 .8 .2-.6 .2 .4 .2-.8 .2 .8 .2 0 .2-.3 .2-.1 .2-.1 .2 .5 .2 .5 .2-.4 .2 .1 .2 .6 .2-.9 .2 .3 .2 .4 .2-.1 .2-.1 .2-.1 .2 1.1 .2-1.1 .2-.2 .2 .6 .2 .6 .2-.1 .2-.7 .2 .5 .2-.2 .2-.3 .2 .2 .2-.1 .2-.4 .2 .8 .2-1.3 .2 1 .2 .3 .2 .1 .2-1.1 .2-.3 .2-.8 .2 .9 .2 1.3 .2-2.1 .2 0 .2 1.4 .2-.2 .2-1.3 .2 1 .2 .2 .2-.9 .2 1.4 .2-1.2 .2 1.5 .2-.5 .2-.6 .2-.5 .2 .7 .2 .1 .2 0 .2-.2 .2 .2 .2 .6 .2-1 .2 .3 .2 .3 .2-.4 .2 .4 .2 .4 .2-1.1 .2 .4 .2-1.2 .2 1.2 .2 .7 .2-.9 .2 1.4 .2-1.7 .2 1.8 .2-1 .2-.2 .2 .3 .2 .2 .2-.4 .2-.2 .2 .5 .2 .8 .2-.3 .2 .5 .2-1.1 .2 .1 .2 0 .2 .2 .2 .1 .2 .6 .2-.6 .2-.4 .2 .6 .2-1.2 .2-.3 .2 1.2 .2-.3 .2 0 .2 .5 .2-.6 .2 .1 .2 .3 .2 .2 .2 .2 .2-.4 .2 .1 .2-1.3 .2 2 .2-1.5 .2 1 .2 1.2 .2-1.3 .2-.7 .2 1.8 .2-1.2 .2 .3 .2 .1 .2 .5 .2 .1 .2-.5 .2 .6 .2-1.2 .2 .6 .2-.8 .2 .6 .2-.9 .2 .1 .2 1 .2-1.3 .2 0 .2 1 .2-.3 .2-.1 .2 .2 .2 1.2 .2-1.8 .2 .3 .2 .2 .2-.6 .2 .5 .2 .4 .2-.7 .2 1.2 .2-1.2 .2 .5 .2 .1 .2 .9 .2-2.3 .2 .9 .2 1 .2-1.5 .2 1 .2-.4 .2-.8 .2 1.2 .2-.6 .2 .5 .2-.9 .2 1.2 .2-1.7 .2 1 .2 .7 .2-.4 .2-.5 .2 .1 .2 0 .2 1.4 .2-1.1 .2 0 .2-.5 .2 .1 .2 .5 .2-.6 .2-.1 .2 .1 .2 .2 .2 .3 .2-.3 .2 .1 .2-.2 .2 1 .2-.6 .2-.1 .2 .4 .2-.1 .2-.7 .2 .8 .2 1.1 .2-.6 .2 .3 .2-1.1 .2-.5 .2 .3 .2 1 .2-1.3 .2 0 .2 1 .2-.7 .2 .1 .2 .3 .2-.1 .2-.2 .2 .4 .2-.5 .2 .5 .2 .4 .2-.8 .2 .4 .2-.4 .2 1 .2 0 .2 .2 .2 .1 .2 .1 .2-.2 .2-.8 .2 .8 .2-1.1 .2 1.5 .2-1.2 .2 .1 .2-1 .2 1.2 .2 .1 .2-1.4 .2 .5 .2 .1 .2-.1 .2 1 .2 .4 .2-1.7 .2 1.2 .2-.6 .2 .9 .2-1.7 .2 1 .2 .9 .2-1 .2 .9 .2-.9 .2 .8 .2-.4 .2-.5 .2-.1 .2 .4 .2 .7 .2-.6 .2-.4 .2 1.4 .2-2 .2 .7 .2 .3 .2-.7 .2 .5 .2-.1 .2-.5 .2 1 .2-.8 .2 .1 .2 .9 .2-1.3 .2 .8 .2 .2 .2-.2 .2-.3 .2-.4 .2-.5 .2 .9 .2 .2 .2-.4 .2-.1 .2 1.1 .2-1 .2 .8 .2-.6 .2-.6 .2 1.6 .2-.5 .2 0 .2-.9 .2 .7 .2 .3 .2-.4 .2 1.2 .2-1.8 .2 1.3 .2-1.5 .2 0 .2 0 .2 .8 .2-.7 .2 0 .2-.1 .2-.2 .2 .4 .2 .1 .2 .5 .2 .1 .2-.8 .2 .7 .2 1 .2-.9 .2 .2 .2-.4 .2 0 .2 .4 .2-.6 .2 .6 .2-.8 .2 1 .2-1 .2 1 .2 .2 .2-1.3 .2 1.1 .2-.5 .2 .8 .2-.9 .2 .1 .2 0 .2 .7 .2-1.6 .2 1.3 .2-.3 .2-.2 .2 .2 .2 .6 .2 0 .2 .4 .2-1.1 .2-.7 .2 .6 .2 .2 .2-.2 .2 .9 .2 .5 .2-.8 .2-1 .2 1.4 .2-.7 .2 .3 .2 .5 .2-.2 .2-.1 .2 .2 .2 .2 .2-.2 .2 .6 .2-2.1 .2 .5 .2 0 .2 .7 .2-.3 .2 .4 .2-1 .2 .7 .2 .5 .2-.3 .2-.1 .2 .3 .2 .6 .2-1.9 .2 1.7 .2-.6 .2-.6 .2 .7 .2-.4 .2 .5 .2-1 .2 .8 .2-1 .2 .5 .2 .2 .2-.4 .2 .5 .2-.5 .2 .9 .2-.6 .2 0 .2 .3 .2 0 .2-.4 .2 .8 .2-.5 .2 .3 .2-1 .2 .1 .2 .5 .2-.3 .2 .4 .2 .3 .2 .2 .2 .1 .2-.3 .2-.8 .2 .5 .2-.6 .2 .5 .2-.9 .2 1.1 .2-.4 .2-.3 .2-.5 .2 .9 .2-.3 .2 .5 .2-.4 .2 .1 .2 .5 .2 .4 .2-1.3 .2 .5 .2 .3 .2-.2 .2-.2 .2 1.2 .2-1.4 .2 .6 .2-.4 .2 .2 .2-.9 .2 1.5 .2-.4 .2-.3 .2 1.3 .2-.9 .2-.1 .2-.2 .2 .9 .2-.5 .2-.2 .2-.5 .2 .2 .2 .6 .2-.2 .2-1 .2 .5 .2 .5 .2 1 .2-1.4 .2-.6 .2 1.4 .2-.5 .2-.4 .2 1 .2-.3 .2-.3 .2-.2 .2 .6 .2 .1 .2-.9 .2 1.3 .2-1.1 .2 1.2 .2-.5 .2-.3 .2 .3 .2-.5 .2 .3 .2 .7 .2-1 .2 .7 .2-.8 .2 .4 .2 .4 .2-1.1 .2 .7 .2-1.2 .2 .4 .2 .3 .2 .5 .2-.1 .2-.7 .2 .3 .2 .2 .2-.8 .2 .9 .2 .5 .2 0 .2-.8 .2 .2 .2-.2 .2 .2 .2 .1 .2 .4 .2-.3 .2-.4 .2 .7 .2 0 .2-.7 .2 .2 .2 .1 .2-.7 .2 .9 .2 .2 .2 .5 .2-.9 .2-.3 .2 0 .2 .2 .2 .1 .2-.7 .2 .5 .2 .3 .2-1.1 .2 1.5 .2-.6 .2 .4 .2-.5 .2-.2 .2 .1 .2 .1 .2 .3 .2-.5 .2-.3 .2 .2 .2-.1 .2 .8 .2-.7 .2 1 .2-.5 .2-.1 .2 .7 .2-.7 .2 .1 .2 .5 .2-.1 .2-.7 .2 1.4 .2-.7 .2-.8 .2 .5 .2 .5 .2-.3 .2 .3 .2 .7 .2-.5 .2 .5 .2-.5 .2-.5 .2 .9 .2-1 .2 .6 .2-.3 .2-.7 .2-.1 .2 .2 .2 .2 .2 .5 .2-.6 .2 .9 .2-.5 .2-.6 .2 .1 .2 .3 .2-.3 .2 .2 .2 .4 .2-.2 .2 .3 .2-.6 .2 0 .2-.2 .2-.1 .2 .6 .2 .1 .2-.2 .2-.1 .2 .7 .2-1.5 .2 .3 .2-.2 .2-.2 .2 1 .2-.4 .2 .7 .2-.7 .2 1.4 .2 .3 .2-1.3 .2 .4 .2-.1 .2 .3 .2-.9 .2 .7 .2 0 .2-.6 .2-.6 .2 .6 .2 .2 .2 .5 .2-.6 .2-.3 .2 .6 .2-.2 .2 .1 .2-.4 .2 .4 .2-.2 .2-.9 .2 .8 .2 .3 .2-.2 .2 .5 .2-.8 .2 .5 .2-.8 .2 .5 .2-.2 .2-.2 .2-.1 .2 .7 .2 .1 .2-.4 .2-.3 .2 .2 .2 .7 .2-.8 .2 .9 .2-1.1 .2 .8 .2 .1 .2 .3 .2-.7 .2-.2 .2-.3 .2 .9 .2-.4 .2-.2 .2 0 .2 .2 .2-.1 .2 .6 .2-1.3 .2 1.3 .2-.5 .2 .2 .2-.1 .2 .1 .2 .3 .2-.3 .2-.7 .2 .5 .2 0 .2 .2 .2-.1 .2 0 .2 .5 .2-.8 .2 1.3 .2-1.1 .2-.2 .2 .7 .2 0 .2 0 .2 .1 .2-.4 .2-.2 .2 .2 .2 0 .2-.1 .2 .9 .2 .2 .2-.6 .2 0 .2-.1 .2-.5 .2 .3 .2 .1 .2 .1 .2-.4 .2-.3 .2 1 .2 .4 .2-1.5 .2 .8 .2 .4 .2-.8 .2-.1 .2 .6 .2-.1 .2-.1 .2 .9 .2 0 .2-.3 .2-.4 .2-.1 .2 .4 .2-.5 .2 .6 .2-.2 .2-.7 .2 .5 .2 .2 .2-.3 .2-.7 .2 .3 .2 0 .2 .2 .2 0 .2-.1 .2 .5 .2 .2 .2-.8 .2-.4 .2 .7 .2-.1 .2 .1 .2-.4 .2 .4 .2-.4 .2 .8 .2 .2 .2-.9 .2-.5 .2 .7 .2 .1 .2 .3 .2 0 .2 .2 .2 .7 .2-1.1 .2 .1 .2 .2 .2-.9 .2 1 .2-.5 .2-.3 .2 .2 .2 .5 .2 .1 .2 .1 .2-.3 .2-.4 .2 .5 .2-.2 .2 .9 .2-1.5 .2 1.5 .2-.3 .2-.1 .2-.2 .2-.2 .2-.2 .2-.2 .2 1.3 .2-.4 .2-.2 .2-.2 .2-.9 .2 .6 .2 .1 .2 .3 .2-.8 .2 .5 .2-.1 .2 .2 .2-.3 .2 .5 .2-.1 .2-.7 .2 1.1 .2 .3 .2-1.1 .2 .7 .2-.8 .2 .1 .2 .8 .2-.6 .2 .4 .2-.5 .2 .2 .2-.5 .2 .6 .2 .1 .2-.5 .2-.4 .2 .1 .2-.2 .2 .6 .2 0 .2-.4 .2 .6 .2-.5 .2 1 .2-.3 .2 .3 .2-.8 .2-.2 .2-.3 .2 .9 .2-.7 .2 .9 .2-.5 .2 .2 .2-.8 .2 .2 .2 .3 .2 .2 .2-.6 .2 .7 .2-.3 .2 .7 .2-.2 .2 .1 .2 .2 .2 .2 .2-.6 .2 .4 .2-.9 .2 .4 .2-.5 .2 .5 .2-.4 .2 .4 .2 .2 .2-.5 .2-.2 .2 .5 .2 .2 .2-.1 .2-.4 .2 .5 .2-.4 .2 .3 .2-.6 .2 .4 .2 .3 .2-.6 .2 .1 .2 .4 .2 0 .2-.1 .2-.1 .2-.5 .2 .6 .2-.5 .2 .6 .2-.8 .2 1.3 .2 .3 .2-.5 .2-.5 .2 .2 .2 .4 .2-.1 .2-.5 .2 .6 .2-.2 .2 0 .2-.3 .2 .2 .2-.3 .2 .3 .2-.4 .2 .5 .2-.5 .2 0 .2-.1 .2 0 .2-.5 .2 1 .2-.4 .2-.1 .2-.1 .2 .1 .2 .1 .2 .2 .2-.3 .2 .3 .2 .1 .2-.2 .2 1 .2-.7 .2 .2 .2-.1 .2-.1 .2 .3 .2 .2 .2-.5 .2-.3 .2 .5 .2-.9 .2 .7 .2-.1 .2 .1 .2-.6 .2 .3 .2-.2 .2 .2 .2 .5 .2-.3 .2-.1 .2 .6 .2-.4 .2-.7 .2 .3 .2 .5 .2 0 .2-.1 .2 0 .2-.4 .2 .3 .2-.4 .2 .1 .2-.1 .2 0 .2 .1 .2 0 .2-.2 .2 .6 .2-.5 .2 .8 .2-.2 .2-.7 .2 .8 .2-.7 .2 1 .2-.4 .2-.4 .2-.3 .2 .6 .2-.3 .2 .8 .2-.8 .2 .4 .2 .2 .2-.2 .2 0 .2-.2 .2 .3 .2-.6 .2 .5 .2-.7 .2 .5 .2-.5 .2 .4 .2 .2 .2 .3 .2-1 .2 .4 .2-.1 .2 .8 .2-.7 .2 .5 .2-.5 .2-.3 .2 .5 .2-.4 .2 .7 .2 0 .2 .2 .2-.8 .2 .9 .2-.2 .2-.9 .2 1.3 .2-.2 .2-.9 .2 .4 .2-.6 .2 .3 .2 0 .2 .2 .2-.5 .2 .3 .2-.2 .2 .4 .2 .1 .2-.2 .2 .4 .2-.1 .2-.1 .2 .3 .2-.7 .2 .4 .2-.6 .2 .6 .2-.2 .2 .4 .2-.4 .2-.1 .2 .2 .2-.1 .2 .2 .2-.5 .2-.3 .2-.1 .2 .8 .2-.8 .2 .3 .2-.1 .2 .8 .2-.4 .2 .7 .2-.5 .2 .4 .2 .2 .2 .1 .2-.8 .2 .3 .2 0 .2-.6 .2 .8 .2-.1 .2 0 .2-.6 .2 .5 .2 .1 .2 .1 .2-.5 .2 .4 .2 .4 .2-.8 .2 0 .2 0 .2-.5 .2 .4 .2 .5 .2-.8 .2 .1 .2 .5 .2-.2 .2-.1 .2-.1 .2 .1 .2 .1 .2 .3 .2-.2 .2 .3 .2-1 .2 .9 .2-.4 .2 .2 .2-.1 .2 .4 .2-.2 .2 .2 .2-.5 .2 .3 .2 .3 .2 0 .2-.5 .2 .1 .2-.2 .2 0 .2 0 .2 .4 .2-.2 .2 .3 .2 .1 .2-.9 .2 .6 .2-.2 .2-.4 .2 .2 .2 .2 .2 .7 .2-.5 .2-.1 .2 0 .2-.3 .2 .3 .2-.1 .2-.5 .2 .4 .2 1 .2-.5 .2-.1 .2 .2 .2-.5 .2 .4 .2 .2 .2-.8 .2 .3 .2 .1 .2 .1 .2 0 .2 .2 .2 .3 .2-.3 .2 .2 .2 0 .2-.5 .2 .2 .2-.2 .2 .4 .2-.3 .2 .1 .2 .6 .2-.6 .2-.4 .2 .5 .2 0 .2-.3 .2 .1 .2 .3 .2-.5 .2 .1 .2-.1 .2 .3 .2-.1 .2-.3 .2 .2 .2 .6 .2-1.2 .2 .1 .2 .6 .2-.5 .2 1 .2-1 .2 .1 .2 .3 .2 .5 .2-.2 .2-.1 .2-.1 .2 .3 .2-1 .2 .6 .2 .4 .2-.7 .2 .4 .2 .4 .2 0 .2-.4 .2 .7 .2-.4 .2 .1 .2-.6 .2 .1 .2-.1 .2 .8 .2-1.3 .2 .1 .2 .7 .2-.3 .2-.8 .2 .5 .2 .1 .2 .4 .2-.9 .2 .5 .2 .5 .2 0 .2-.5 .2 .1 .2-.4 .2 .9 .2-.6 .2 .5 .2-.2 .2-.5 .2 .3 .2 .3 .2 0 .2 .4 .2-.1 .2-.2 .2 0 .2-.5 .2 0 .2 .2 .2-.1 .2-.5 .2 .3 .2-.1 .2 .1 .2 .6 .2-.6 .2 .1 .2 .3 .2-.1 .2 0 .2-.5 .2 .4 .2-.1 .2-.1 .2 .1 .2 .2 .2 .4 .2 .4 .2-.5 .2 .5 .2-.5 .2-.5 .2 .4 .2 .3 .2 0 .2-.7 .2 .9 .2-.9 .2 0 .2 .2 .2 .7 .2-.3 .2 .3 .2-.9 .2 .7 .2 0 .2 .3 .2-.4 .2 .5 .2-.6 .2-.2 .2-.1 .2 .8 .2-.3 .2-.5 .2 .6 .2-.4 .2 0 .2-.4 .2 .3 .2 .2 .2 0 .2-.3 .2 .5 .2 .1 .2-.6 .2 .4 .2-.6 .2 .6 .2-.4 .2 .2 .2 .1 .2-.1 .2 .4 .2-.6 .2 .2 .2 .3 .2-.1 .2 .1 .2-.1 .2-.2 .2 .5 .2-.2 .2 .2 .2 .1 .2-.5 .2-.2 .2 0 .2-.1 .2-.4 .2 1 .2-.3 .2 .5 .2-.9 .2 .4 .2 0 .2-.1 .2 .3 .2-.2 .2 0 .2 .1 .2-.7 .2 .4 .2-.1 .2 .7 .2-.3 .2 0 .2 0 .2-.2 .2 .5 .2-.5 .2-.4 .2 .7 .2 .1 .2-.3 .2 .1 .2 .2 .2 .2 .2-.3 .2 .2 .2-.4 .2 .5 .2-1.1 .2 .7 .2-.2 .2 0 .2-.4 .2 .7 .2-.3 .2-.2 .2 .2 .2 .1 .2 0 .2-.3 .2 0 .2 .4 .2-.2 .2 .6 .2-.6 .2 .4 .2 .3 .2-.6 .2 .3 .2-.2 .2-.1 .2 .4 .2-.8 .2 .1 .2-.3 .2 .4 .2 .4 .2-.4 .2 .3 .2-.4 .2 .5 .2-.4 .2-.1 .2 .6 .2-.5 .2 .2 .2-.1 .2 .3 .2-.2 .2-.3 .2 .4 .2 .1 .2 0 .2-.1 .2 .6 .2-.7 .2 .3 .2 0 .2-.4 .2 0 .2 .4 .2 0 .2-.2 .2-.5 .2 .3 .2 .2 .2 .2 .2 .2 .2-.2 .2 .1 .2 .2 .2-1.2 .2 .8 .2-.5 .2 .2 .2-.1 .2-.4 .2 0 .2 .4 .2-.2 .2 .3 .2-.3 .2 .8 .2-.7 .2 .6 .2-.8 .2 .4 .2 .2 .2-.6 .2 .1 .2 .5 .2 .2 .2 .2 .2-.3 .2 .2 .2-.7 .2 .2 .2 .5 .2-.6 .2 0 .2-.5 .2 .4 .2-.4 .2 .5 .2 .3 .2-.3 .2 0 .2-.1 .2 .4 .2-.4 .2 .3 .2 .8 .2-.9 .2 .2 .2-.2 .2 .7 .2-.5 .2-.4 .2-.1 .2 .6 .2-.2 .2 0 .2-.2 .2 .3 .2 .2 .2-.1 .2-.6 .2-.1 .2 .2 .2 .4 .2-.5 .2 .2 .2 .3 .2-.2 .2-.1 .2 .7 .2 0 .2 .2 .2 0 .2 .2 .2-.4 .2-.1 .2-.5 .2 .4 .2-.2 .2 .4 .2-.1 .2 .2 .2-.2 .2 0 .2-.3 .2-.1 .2-.1 .2 .1 .2-.3 .2 .4 .2-.1 .2-.5 .2 0 .2 .4 .2 .2 .2 0 .2 .5 .2-.5 .2-.2 .2 .4 .2 .2 .2 .1 .2-.7 .2 .2 .2-.1 .2 .6 .2-.2 .2-.2 .2 .1 .2-.3 .2-.1 .2 0 .2-.1 .2 0 .2 .3 .2 0 .2 .4 .2-.1 .2-.2 .2-.6 .2 .2 .2 .3 .2 .1 .2-.3 .2 .3 .2 .1 .2-.2 .2 .1 .2 0 .2-.2 .2-.1 .2 .1 .2 .1 .2-.4 .2-.3 .2 .3 .2 .4 .2-.5 .2 .7 .2-.4 .2 .2 .2-.2 .2 .3 .2-.1 .2 .1 .2-.6 .2 .7 .2-.6 .2 .4 .2 .3 .2-.2 .2 .2 .2-.1 .2-.1 .2-.3 .2 .5 .2 0 .2-.5 .2-.2 .2 .3 .2-.3 .2 .3 .2 .1 .2 0 .2 .1 .2-.3 .2-.4 .2 .1 .2 .4 .2 .4 .2-.5 .2-.1 .2 .7 .2-.3 .2 .2 .2 .1 .2-.5 .2 .1 .2-.1 .2 .3 .2 0 .2-.4 .2 .2 .2-.6 .2 .6 .2 0 .2 0 .2-.3 .2 .4 .2-.3 .2 .7 .2-.5 .2 0 .2-.1 .2 .1 .2-.2 .2 .1 .2-.4 .2 .5 .2-.4 .2 .3 .2-.1 .2 .3 .2-.2 .2-.3 .2 .1 .2 .3 .2 .4 .2-.5 .2 .2 .2 .3 .2-.4 .2 .2 .2 0 .2-.2 .2 .2 .2 .2 .2-.1 .2-.3 .2 .6 .2-.5 .2-.2 .2-.1 .2-.1 .2 .4 .2-.8 .2 .5 .2-.3 .2 .2 .2 .1 .2-.4 .2 .1 .2 .6 .2-.4 .2 .3 .2 0 .2 .4 .2 .2 .2 0 .2-.1 .2 0 .2-.5 .2 .6 .2-.6 .2-.1 .2 .1 .2-.1 .2 .3 .2 .1 .2 .2 .2-.3 .2-.1 .2 .2 .2-.2 .2 .1 .2 .8 .2-.7 .2 0 .2 .3 .2-.1 .2 .1 .2-.5 .2-.1 .2 .5 .2-.5 .2 .1 .2 .2 .2-.5 .2 .5"/>
<path fill="#37AD6B" stroke="none" d="M67.8 280.5L68.8 280.7L69.8 280.3L70.8 280.0L71.8 279.6L72.8 280.2L73.8 280.5L74.8 280.5L75.8 279.7L76.8 280.1L77.8 279.7L78.8 279.9L79.8 280.0L80.8 280.0L81.8 280.3L82.8 279.4L83.8 279.9L84.8 279.9L85.8 279.1L86.8 279.3L87.8 280.1L88.8 279.3L89.8 279.7L90.8 280.2L91.8 279.6L92.8 279.0L93.8 278.4L94.8 279.5L95.8 279.6L96.8 278.9L97.8 279.6L98.8 280.2L99.8 279.2L100.8 278.8L101.8 279.1L102.8 279.3L103.8 278.8L104.8 278.4L105.8 278.6L106.8 278.5L107.8 278.9L108.8 278.8L109.8 278.9L110.8 278.8L111.8 278.4L112.8 278.1L113.8 278.4L114.8 278.7L115.8 278.9L116.8 278.2L117.8 278.1L118.8 278.2L119.8 277.9L120.8 278.3L121.8 278.6L122.8 277.4L123.8 277.5L124.8 277.3L125.8 276.7L126.8 276.7L127.8 277.1L128.8 277.8L129.8 277.7L130.8 276.4L131.8 275.8L132.8 276.4L133.8 276.7L134.8 275.4L135.8 275.4L136.8 276.4L137.8 275.9L138.8 275.8L139.8 275.3L140.8 275.5L141.8 274.5L142.8 273.8L143.8 274.0L144.8 274.1L145.8 274.5L146.8 274.1L147.8 274.8L148.8 274.3L149.8 274.5L150.8 274.7L151.8 274.3L152.8 273.2L153.8 272.9L154.8 273.7L155.8 273.1L156.8 272.4L157.8 272.3L158.8 272.6L159.8 272.5L160.8 272.7L161.8 272.0L162.8 271.7L163.8 271.3L164.8 271.2L165.8 272.0L166.8 271.2L167.8 271.1L168.8 270.8L169.8 270.5L170.8 270.1L171.8 269.9L172.8 270.6L173.8 271.3L174.8 271.7L175.8 271.2L176.8 271.2L177.8 271.0L178.8 271.3L179.8 272.0L180.8 272.0L181.8 271.2L182.8 271.4L183.8 271.5L184.8 270.9L185.8 271.8L186.8 272.3L187.8 272.6L188.8 272.7L189.8 272.9L190.8 272.7L191.8 272.8L192.8 272.6L193.8 272.7L194.8 274.0L195.8 274.8L196.8 273.9L197.8 274.5L198.8 274.6L199.8 274.7L200.8 275.0L201.8 275.2L202.8 275.3L203.8 275.6L204.8 276.5L205.8 276.9L206.8 276.6L207.8 277.3L208.8 277.4L209.8 277.1L210.8 277.5L211.8 278.4L212.8 278.4L213.8 278.7L214.8 278.7L215.8 279.1L216.8 278.8L217.8 278.9L218.8 279.6L219.8 279.5L220.8 279.9L221.8 280.1L222.8 281.0L223.8 281.5L224.8 281.7L225.8 281.6L226.8 281.4L227.8 281.8L228.8 282.0L229.8 282.3L230.8 282.5L231.8 282.8L232.8 283.0L233.8 283.3L234.8 283.1L235.8 283.0L236.8 283.1L237.8 283.8L238.8 283.7L239.8 283.3L240.8 284.0L241.8 284.3L242.8 283.9L243.8 284.3L244.8 284.7L245.8 284.7L246.8 284.6L247.8 284.8L248.8 285.5L249.8 285.8L250.8 284.9L251.8 285.0L252.8 285.2L253.8 284.6L254.8 285.0L255.8 285.4L256.8 284.7L257.8 284.8L258.8 285.8L259.8 286.2L260.8 286.0L261.8 285.8L262.8 286.1L263.8 285.9L264.8 285.8L265.8 285.7L266.8 285.7L267.8 285.6L268.8 285.7L269.8 286.1L270.8 286.4L271.8 286.2L272.8 286.2L273.8 286.1L274.8 285.9L275.8 286.1L276.8 285.9L277.8 285.9L278.8 285.7L279.8 285.7L280.8 286.1L281.8 286.4L282.8 285.5L283.2 285.1L283.2 287.2L282.8 287.6L281.8 288.4L280.8 288.2L279.8 287.8L278.8 287.8L277.8 288.0L276.8 288.0L275.8 288.2L274.8 288.0L273.8 288.3L272.8 288.3L271.8 288.4L270.8 288.5L269.8 288.3L268.8 287.9L267.8 287.7L266.8 287.9L265.8 287.8L264.8 288.0L263.8 288.1L262.8 288.3L261.8 288.0L260.8 288.2L259.8 288.4L258.8 288.0L257.8 287.0L256.8 287.0L255.8 287.7L254.8 287.3L253.8 286.9L252.8 287.5L251.8 287.3L250.8 287.2L249.8 288.1L248.8 287.9L247.8 287.2L246.8 286.9L245.8 287.0L244.8 287.1L243.8 286.7L242.8 286.3L241.8 286.7L240.8 286.4L239.8 285.8L238.8 286.1L237.8 286.3L236.8 285.6L235.8 285.5L234.8 285.6L233.8 285.8L232.8 285.5L231.8 285.3L230.8 285.0L229.8 284.8L228.8 284.5L227.8 284.3L226.8 284.0L225.8 284.2L224.8 284.3L223.8 284.1L222.8 283.7L221.8 282.8L220.8 282.5L219.8 282.1L218.8 282.2L217.8 281.6L216.8 281.5L215.8 281.8L214.8 281.4L213.8 281.5L212.8 281.1L211.8 281.2L210.8 280.2L209.8 279.9L208.8 280.2L207.8 280.1L206.8 279.3L205.8 279.7L204.8 279.3L203.8 278.4L202.8 278.2L201.8 278.0L200.8 277.8L199.8 277.5L198.8 277.5L197.8 277.3L196.8 276.7L195.8 277.6L194.8 276.9L193.8 275.6L192.8 275.5L191.8 275.7L190.8 275.6L189.8 275.8L188.8 275.6L187.8 275.6L186.8 275.3L185.8 274.7L184.8 273.8L183.8 274.4L182.8 274.4L181.8 274.1L180.8 274.9L179.8 275.0L178.8 274.3L177.8 274.0L176.8 274.2L175.8 274.2L174.8 274.7L173.8 274.3L172.8 273.7L171.8 272.9L170.8 273.1L169.8 273.6L168.8 273.8L167.8 274.1L166.8 274.2L165.8 275.1L164.8 274.2L163.8 274.3L162.8 274.7L161.8 275.0L160.8 275.6L159.8 275.5L158.8 275.6L157.8 275.3L156.8 275.3L155.8 276.1L154.8 276.6L153.8 275.9L152.8 276.1L151.8 277.2L150.8 277.6L149.8 277.4L148.8 277.2L147.8 277.7L146.8 277.0L145.8 277.4L144.8 277.0L143.8 276.9L142.8 276.6L141.8 277.4L140.8 278.4L139.8 278.1L138.8 278.6L137.8 278.7L136.8 279.3L135.8 278.3L134.8 278.2L133.8 279.5L132.8 279.2L131.8 278.6L130.8 279.2L129.8 280.5L128.8 280.5L127.8 279.9L126.8 279.5L125.8 279.5L124.8 280.1L123.8 280.2L122.8 280.2L121.8 281.3L120.8 281.0L119.8 280.6L118.8 280.9L117.8 280.9L116.8 280.9L115.8 281.6L114.8 281.4L113.8 281.2L112.8 280.9L111.8 281.1L110.8 281.6L109.8 281.6L108.8 281.5L107.8 281.6L106.8 281.2L105.8 281.3L104.8 281.1L103.8 281.5L102.8 281.9L101.8 281.8L100.8 281.5L99.8 281.9L98.8 282.8L97.8 282.3L96.8 281.5L95.8 282.3L94.8 282.1L93.8 281.1L92.8 281.7L91.8 282.3L90.8 282.8L89.8 282.4L88.8 282.0L87.8 282.7L86.8 282.0L85.8 281.7L84.8 282.6L83.8 282.5L82.8 282.1L81.8 282.9L80.8 282.6L79.8 282.6L78.8 282.5L77.8 282.3L76.8 282.7L75.8 282.3L74.8 283.1L73.8 283.0L72.8 282.8L71.8 282.1L70.8 282.6L69.8 282.9L68.8 283.3L67.8 283.1ZM285.8 285.4L286.8 285.9L287.8 286.0L288.8 286.4L289.8 286.4L290.8 286.0L291.8 286.0L292.8 286.2L293.8 286.2L294.8 286.4L295.8 286.5L296.8 286.2L297.8 286.5L298.8 286.6L299.8 286.5L300.8 286.0L301.8 286.2L302.8 286.5L303.8 286.6L304.8 286.7L305.8 286.2L306.8 286.2L307.8 286.4L308.8 286.6L309.8 286.8L310.8 286.3L311.8 286.0L312.8 286.2L313.8 286.1L314.8 286.2L315.8 286.2L316.8 285.8L317.8 285.7L318.8 286.0L319.8 286.1L320.8 286.0L321.8 286.0L322.8 285.9L323.8 285.9L324.8 285.9L325.8 285.8L326.8 285.9L327.8 285.8L328.8 286.1L329.8 286.0L330.8 285.6L331.8 285.7L332.8 285.7L333.8 285.4L334.8 285.6L335.8 285.7L336.8 285.2L337.8 285.3L338.8 285.2L339.8 285.3L340.8 285.1L341.8 285.1L342.8 285.0L343.8 284.9L344.8 285.0L345.8 285.1L346.8 284.7L347.8 284.7L348.8 284.8L349.8 284.8L350.8 284.2L351.8 284.0L352.8 284.0L353.8 284.2L354.8 283.7L355.2 283.1L355.2 285.1L354.8 285.7L353.8 286.2L352.8 286.0L351.8 286.0L350.8 286.2L349.8 286.7L348.8 286.8L347.8 286.7L346.8 286.7L345.8 287.1L344.8 287.0L343.8 286.9L342.8 286.9L341.8 287.1L340.8 287.1L339.8 287.3L338.8 287.2L337.8 287.3L336.8 287.2L335.8 287.7L334.8 287.6L333.8 287.4L332.8 287.7L331.8 287.7L330.8 287.6L329.8 288.0L328.8 288.1L327.8 287.8L326.8 287.9L325.8 287.8L324.8 287.9L323.8 287.9L322.8 287.9L321.8 288.0L320.8 288.1L319.8 288.1L318.8 288.1L317.8 287.7L316.8 287.9L315.8 288.3L314.8 288.3L313.8 288.1L312.8 288.2L311.8 288.0L310.8 288.4L309.8 288.8L308.8 288.7L307.8 288.4L306.8 288.2L305.8 288.2L304.8 288.7L303.8 288.7L302.8 288.5L301.8 288.3L300.8 288.0L299.8 288.5L298.8 288.6L297.8 288.6L296.8 288.3L295.8 288.5L294.8 288.5L293.8 288.2L292.8 288.2L291.8 288.1L290.8 288.1L289.8 288.5L288.8 288.4L287.8 288.0L286.8 288.0L285.8 287.4ZM359.6 283.1L360.6 283.3L361.4 282.6L361.4 284.6L360.6 285.3L359.6 285.1ZM367.6 283.6L368.6 284.1L369.6 284.5L370.6 284.7L371.6 284.9L372.6 285.0L373.6 285.1L374.6 285.1L375.6 285.0L376.6 285.3L377.6 285.7L378.6 285.4L379.6 285.5L380.6 285.8L381.6 285.9L382.6 286.0L383.6 286.0L384.6 285.9L385.6 286.4L386.6 286.5L387.6 286.3L388.6 286.3L389.6 285.9L390.6 286.1L391.6 286.5L392.6 286.6L393.6 286.2L394.6 286.6L395.6 286.6L396.6 286.4L397.6 286.7L398.6 286.6L399.6 286.3L400.6 286.6L401.6 286.6L402.6 286.7L403.6 286.6L404.6 286.8L405.6 286.9L406.6 286.7L407.6 286.6L408.6 286.8L409.6 287.0L410.6 287.0L411.6 287.1L412.6 286.9L413.6 287.0L414.6 287.1L415.6 286.8L416.6 286.8L417.4 286.0L417.4 288.0L416.6 288.7L415.6 288.8L414.6 289.0L413.6 289.0L412.6 288.8L411.6 289.0L410.6 288.9L409.6 288.9L408.6 288.7L407.6 288.5L406.6 288.7L405.6 288.8L404.6 288.7L403.6 288.5L402.6 288.6L401.6 288.6L400.6 288.6L399.6 288.2L398.6 288.6L397.6 288.7L396.6 288.4L395.6 288.6L394.6 288.6L393.6 288.2L392.6 288.6L391.6 288.4L390.6 288.0L389.6 287.9L388.6 288.3L387.6 288.2L386.6 288.5L385.6 288.3L384.6 287.9L383.6 287.9L382.6 287.9L381.6 287.9L380.6 287.7L379.6 287.5L378.6 287.4L377.6 287.7L376.6 287.3L375.6 286.9L374.6 287.1L373.6 287.1L372.6 287.0L371.6 286.9L370.6 286.7L369.6 286.4L368.6 286.1L367.6 285.5ZM421.0 286.2L422.0 287.4L423.0 287.6L424.0 287.3L425.0 287.1L426.0 287.5L427.0 287.7L428.0 287.6L429.0 287.3L430.0 287.1L431.0 287.2L432.0 287.6L433.0 287.6L434.0 287.5L435.0 287.5L436.0 287.5L437.0 287.5L438.0 287.6L439.0 287.4L440.0 287.6L441.0 287.7L442.0 287.6L443.0 287.7L444.0 287.5L445.0 287.7L446.0 288.0L447.0 287.8L448.0 287.7L449.0 287.7L450.0 287.9L451.0 287.6L452.0 287.9L453.0 288.1L454.0 288.0L455.0 287.9L456.0 287.8L457.0 287.9L458.0 288.0L459.0 288.1L460.0 287.9L461.0 287.9L462.0 288.2L463.0 288.2L464.0 287.9L465.0 288.3L466.0 288.2L467.0 288.0L468.0 288.0L469.0 288.1L470.0 288.1L471.0 287.9L472.0 288.1L473.0 288.1L474.0 287.9L475.0 288.2L476.0 288.1L477.0 288.0L478.0 287.9L479.0 287.9L480.0 288.3L481.0 288.2L482.0 288.1L483.0 288.1L484.0 288.1L485.0 288.2L486.0 288.1L487.0 287.9L488.0 288.0L489.0 288.4L490.0 288.2L491.0 288.1L492.0 288.2L493.0 288.1L494.0 288.2L495.0 288.0L496.0 288.1L497.0 288.0L498.0 287.9L499.0 288.2L500.0 288.1L501.0 287.9L502.0 288.0L503.0 288.2L504.0 288.3L505.0 288.4L506.0 288.1L507.0 288.1L508.0 288.4L509.0 288.5L510.0 288.3L511.0 288.3L512.0 288.3L513.0 288.3L514.0 288.4L515.0 288.3L516.0 288.1L517.0 288.0L518.0 287.8L519.0 286.9L519.0 288.8L518.0 289.7L517.0 289.8L516.0 289.9L515.0 290.1L514.0 290.3L513.0 290.1L512.0 290.1L511.0 290.1L510.0 290.1L509.0 290.4L508.0 290.3L507.0 290.0L506.0 290.0L505.0 290.3L504.0 290.1L503.0 290.1L502.0 289.9L501.0 289.7L500.0 290.0L499.0 290.1L498.0 289.8L497.0 289.9L496.0 289.9L495.0 289.9L494.0 290.1L493.0 290.0L492.0 290.1L491.0 290.0L490.0 290.1L489.0 290.2L488.0 289.9L487.0 289.8L486.0 290.0L485.0 290.1L484.0 289.9L483.0 289.9L482.0 290.0L481.0 290.1L480.0 290.2L479.0 289.8L478.0 289.8L477.0 289.9L476.0 290.0L475.0 290.1L474.0 289.8L473.0 290.0L472.0 290.0L471.0 289.7L470.0 290.0L469.0 290.0L468.0 289.9L467.0 289.8L466.0 290.1L465.0 290.2L464.0 289.8L463.0 290.1L462.0 290.1L461.0 289.8L460.0 289.8L459.0 290.0L458.0 289.9L457.0 289.8L456.0 289.6L455.0 289.8L454.0 289.9L453.0 290.0L452.0 289.8L451.0 289.5L450.0 289.8L449.0 289.6L448.0 289.6L447.0 289.7L446.0 289.9L445.0 289.6L444.0 289.4L443.0 289.6L442.0 289.5L441.0 289.6L440.0 289.5L439.0 289.3L438.0 289.5L437.0 289.4L436.0 289.4L435.0 289.4L434.0 289.4L433.0 289.5L432.0 289.5L431.0 289.1L430.0 289.0L429.0 289.3L428.0 289.5L427.0 289.6L426.0 289.4L425.0 289.1L424.0 289.2L423.0 289.5L422.0 289.3L421.0 288.1ZM520.0 287.0L521.0 287.5L522.0 287.8L523.0 288.0L524.0 288.0L525.0 288.1L526.0 288.1L527.0 288.1L528.0 287.9L529.0 288.0L530.0 288.1L531.0 288.3L532.0 287.9L533.0 287.7L534.0 288.1L535.0 288.0L536.0 288.0L537.0 287.7L537.2 287.5L537.2 289.3L537.0 289.5L536.0 289.9L535.0 289.9L534.0 289.9L533.0 289.6L532.0 289.7L531.0 290.1L530.0 290.0L529.0 289.9L528.0 289.8L527.0 290.0L526.0 289.9L525.0 289.9L524.0 289.8L523.0 289.9L522.0 289.7L521.0 289.3L520.0 288.8ZM542.8 287.1L543.8 288.0L544.8 288.0L545.8 288.1L546.8 288.1L547.8 288.3L548.8 288.3L549.8 288.3L550.8 288.4L551.8 288.2L552.8 288.3L553.8 288.1L554.8 288.1L555.8 288.0L556.8 287.9L557.8 288.1L558.8 288.4L559.8 288.2L560.8 288.2L561.8 288.0L562.8 288.3L563.8 288.2L564.8 287.9L565.8 288.1L566.8 288.2L567.8 288.4L568.8 288.3L569.8 288.2L570.8 288.4L571.8 288.2L572.8 288.2L573.8 288.2L574.8 288.0L575.8 288.1L576.8 288.2L577.8 288.1L578.8 288.2L579.8 288.1L580.8 288.1L581.8 288.1L582.8 288.4L583.8 288.2L584.8 288.0L585.8 288.1L586.8 288.1L587.8 288.3L588.8 288.2L589.8 288.1L590.8 288.2L591.8 288.4L592.8 288.2L593.8 288.3L594.8 288.3L595.8 288.1L596.8 288.1L597.8 288.5L598.8 288.4L599.8 288.4L600.8 288.3L601.8 288.2L602.8 288.5L603.8 288.2L604.8 288.4L605.8 288.5L606.8 288.5L607.8 288.3L608.8 288.3L609.8 288.3L610.8 288.4L611.8 288.3L612.8 288.1L613.8 288.2L614.8 288.2L615.8 288.4L616.8 288.2L617.8 288.2L618.8 288.2L619.8 288.3L620.8 288.1L621.8 288.1L622.8 288.1L623.8 288.1L624.8 287.9L625.2 287.5L625.2 289.3L624.8 289.7L623.8 289.9L622.8 289.9L621.8 289.9L620.8 289.9L619.8 290.0L618.8 289.9L617.8 290.0L616.8 290.0L615.8 290.1L614.8 290.0L613.8 289.9L612.8 289.9L611.8 290.1L610.8 290.2L609.8 290.1L608.8 290.1L607.8 290.1L606.8 290.2L605.8 290.3L604.8 290.2L603.8 290.0L602.8 290.3L601.8 290.0L600.8 290.1L599.8 290.2L598.8 290.2L597.8 290.3L596.8 289.9L595.8 289.9L594.8 290.1L593.8 290.1L592.8 290.0L591.8 290.2L590.8 290.0L589.8 289.9L588.8 290.0L587.8 290.1L586.8 289.9L585.8 289.9L584.8 289.8L583.8 290.0L582.8 290.2L581.8 289.9L580.8 289.9L579.8 289.9L578.8 290.0L577.8 290.0L576.8 290.0L575.8 290.0L574.8 289.8L573.8 290.1L572.8 290.0L571.8 290.0L570.8 290.3L569.8 290.1L568.8 290.1L567.8 290.2L566.8 290.0L565.8 289.9L564.8 289.8L563.8 290.0L562.8 290.1L561.8 289.9L560.8 290.0L559.8 290.0L558.8 290.2L557.8 289.9L556.8 289.7L555.8 289.8L554.8 289.9L553.8 289.9L552.8 290.1L551.8 290.0L550.8 290.2L549.8 290.2L548.8 290.1L547.8 290.1L546.8 290.0L545.8 290.0L544.8 289.8L543.8 289.8L542.8 288.9ZM628.2 287.2L629.2 288.3L630.2 288.4L631.2 288.4L632.2 288.5L633.2 288.6L634.2 288.4L635.2 288.4L636.2 288.3L637.2 288.2L638.2 288.3L639.2 288.3L640.2 288.3L641.2 288.3L642.2 288.3L643.2 288.4L644.2 288.4L645.2 288.3L646.2 288.1L647.2 288.1L648.2 288.2L649.2 288.1L650.2 288.2L651.2 288.3L652.2 288.4L653.2 288.4L654.2 288.5L655.2 288.3L656.2 288.4L657.2 288.4L658.2 288.5L659.2 288.4L660.2 288.4L661.2 288.4L662.2 288.2L663.2 288.3L664.2 288.4L665.2 288.4L666.2 288.4L667.2 288.6L668.2 288.5L669.2 288.4L670.2 288.4L671.2 288.3L672.2 288.5L673.2 288.5L674.2 288.4L675.2 288.2L676.2 288.3L677.2 288.6L678.2 288.4L679.2 288.4L680.2 288.2L681.2 288.3L682.2 288.4L683.2 288.2L684.2 288.0L685.2 288.2L686.2 288.3L687.2 287.4L687.2 289.2L686.2 290.0L685.2 290.0L684.2 289.8L683.2 289.9L682.2 290.1L681.2 290.1L680.2 290.0L679.2 290.2L678.2 290.2L677.2 290.3L676.2 290.1L675.2 290.0L674.2 290.1L673.2 290.2L672.2 290.3L671.2 290.0L670.2 290.1L669.2 290.2L668.2 290.2L667.2 290.3L666.2 290.2L665.2 290.2L664.2 290.1L663.2 290.0L662.2 290.0L661.2 290.1L660.2 290.1L659.2 290.2L658.2 290.2L657.2 290.2L656.2 290.1L655.2 290.1L654.2 290.2L653.2 290.2L652.2 290.1L651.2 290.1L650.2 290.0L649.2 289.8L648.2 289.9L647.2 289.8L646.2 289.8L645.2 290.0L644.2 290.2L643.2 290.2L642.2 290.0L641.2 290.0L640.2 290.1L639.2 290.1L638.2 290.1L637.2 289.9L636.2 290.1L635.2 290.1L634.2 290.1L633.2 290.4L632.2 290.3L631.2 290.2L630.2 290.2L629.2 290.0L628.2 288.9ZM693.4 287.6L694.4 288.3L695.4 288.2L696.4 288.3L697.4 288.4L698.4 288.2L699.4 288.4L700.4 288.3L701.4 288.4L702.4 288.4L703.4 288.4L704.4 288.3L705.4 288.2L706.4 288.4L707.4 288.4L708.4 288.3L709.4 288.3L710.4 288.4L711.4 288.5L712.4 288.7L713.4 288.5L714.4 288.3L715.4 288.4L716.4 288.5L717.4 288.4L718.4 288.3L719.4 288.4L720.4 288.6L721.4 288.5L722.4 288.4L723.4 288.2L724.4 288.3L725.4 288.4L726.4 288.3L727.4 288.3L728.4 288.3L729.4 288.3L730.4 288.4L731.4 288.5L732.4 288.5L733.4 288.3L734.4 288.2L735.4 288.3L736.4 288.5L737.4 288.4L738.4 288.4L739.4 288.4L740.4 288.3L741.4 288.5L742.4 288.4L743.4 288.4L744.4 288.3L745.4 288.4L746.4 288.6L747.4 288.6L748.4 288.6L749.4 288.6L750.4 288.4L751.4 288.3L752.4 288.3L753.4 288.3L754.4 288.4L755.4 288.4L756.0 288.6L756.0 290.3L755.4 290.1L754.4 290.1L753.4 290.0L752.4 290.1L751.4 290.1L750.4 290.2L749.4 290.3L748.4 290.3L747.4 290.3L746.4 290.3L745.4 290.2L744.4 290.1L743.4 290.1L742.4 290.2L741.4 290.2L740.4 290.0L739.4 290.1L738.4 290.2L737.4 290.1L736.4 290.2L735.4 290.1L734.4 289.9L733.4 290.0L732.4 290.2L731.4 290.3L730.4 290.1L729.4 290.0L728.4 290.0L727.4 290.0L726.4 290.0L725.4 290.1L724.4 290.0L723.4 290.0L722.4 290.1L721.4 290.3L720.4 290.4L719.4 290.2L718.4 290.0L717.4 290.1L716.4 290.3L715.4 290.2L714.4 290.1L713.4 290.2L712.4 290.4L711.4 290.2L710.4 290.2L709.4 290.1L708.4 290.1L707.4 290.1L706.4 290.2L705.4 290.0L704.4 290.1L703.4 290.1L702.4 290.2L701.4 290.1L700.4 290.1L699.4 290.1L698.4 290.0L697.4 290.2L696.4 290.0L695.4 290.0L694.4 290.0L693.4 289.4Z"/>
<path class="c" stroke="#37AD6B" stroke-width="1.5" d="M67.8 283.0l.2-1.6 .2 .5 .2 .9 .2-.5 .2-.2 .2 .7 .2-1.9 .2 2.3 .2-1.1 .2-2.3 .2 1.1 .2 .6 .2 1.7 .2-1.8 .2-1.3 .2 2.3 .2-.9 .2-.4 .2 .7 .2-1.2 .2 .3 .2 1 .2-.3 .2 .6 .2-1 .2 1.8 .2-2.4 .2 .1 .2 1.5 .2-.6 .2 .4 .2-.1 .2-.1 .2-.7 .2 1 .2 .7 .2-2 .2 2.1 .2-.4 .2-2.1 .2 1.4 .2-1.5 .2 .9 .2-.7 .2 .5 .2-1 .2 1.3 .2-.8 .2 0 .2-1 .2 1.6 .2 1.6 .2-1.8 .2 .2 .2-.8 .2 .7 .2-.3 .2-.6 .2 .6 .2 .3 .2 .7 .2-.6 .2 .5 .2 .9 .2-.3 .2-1.1 .2-1 .2 1.4 .2 .3 .2 .8 .2-.8 .2 1.4 .2-2.2 .2 .6 .2-1.5 .2-.2 .2 .6 .2 .6 .2 .6 .2-2.3 .2 3 .2 .5 .2-.1 .2-.6 .2-1 .2 .3 .2 .4 .2-2.1 .2 1.3 .2-.2 .2-.6 .2 1.7 .2-2.1 .2-.1 .2 .9 .2-.4 .2 1.8 .2-2.3 .2 .4 .2 1.5 .2 .4 .2-1.7 .2 1.9 .2-3 .2 2.3 .2-1.8 .2 .4 .2 2 .2-1.4 .2-.3 .2 1 .2 1.6 .2-1.4 .2-.7 .2 .8 .2-1.4 .2 .4 .2 0 .2 .9 .2-1.1 .2 .7 .2 .5 .2 .2 .2-2.9 .2 1.3 .2-1.1 .2 1.4 .2-.6 .2-.3 .2-.5 .2-.3 .2-.4 .2 2.5 .2-.7 .2 .5 .2 .5 .2 .6 .2 .9 .2-1.9 .2 .5 .2-2.1 .2 .9 .2-.4 .2-.1 .2 1.4 .2-.9 .2 0 .2 .2 .2 0 .2 .3 .2-.1 .2 .3 .2 .3 .2 .2 .2-1.6 .2 1.5 .2-.4 .2 .2 .2-1.5 .2 .1 .2 1.4 .2-1.4 .2 1 .2-1.1 .2-.5 .2-.3 .2 .8 .2 .2 .2-.5 .2 2.4 .2-1.2 .2-.7 .2 2.1 .2-.6 .2-1.4 .2-.3 .2 .7 .2 .7 .2-2 .2 2.1 .2-1.5 .2 .9 .2-.9 .2 .5 .2 .2 .2 .7 .2-1.7 .2 2.3 .2-2.8 .2 1.4 .2 .2 .2-.6 .2 .7 .2-2.2 .2 1.5 .2 1 .2-.7 .2-.9 .2 1.2 .2 0 .2-1.1 .2 2 .2-1.6 .2-.5 .2 1 .2-.7 .2 .5 .2 .4 .2-.6 .2 .9 .2-.2 .2 .9 .2-2 .2 .9 .2 .1 .2-.1 .2-2.2 .2 .9 .2 1.1 .2 .1 .2-.5 .2 .1 .2 .9 .2-1.5 .2-.4 .2 2 .2-.8 .2-.6 .2-.4 .2 2.2 .2-1.6 .2-.5 .2 2 .2-2.5 .2 1.3 .2 .8 .2-.8 .2-.2 .2 .9 .2-1.5 .2 .8 .2 .8 .2-1.9 .2 2.1 .2-1.6 .2 .1 .2-.4 .2 .9 .2-.9 .2 .7 .2 1 .2 0 .2-2.6 .2 2.7 .2-1.7 .2 .7 .2-.3 .2 .1 .2-.9 .2 1 .2 .4 .2-1.4 .2 .6 .2 .9 .2 .4 .2-.5 .2 .1 .2 .3 .2-.8 .2 .5 .2-.7 .2-.3 .2-2.1 .2 .2 .2 1.8 .2 .2 .2-.3 .2-.3 .2-.3 .2 .9 .2-.7 .2 .4 .2 1.3 .2-2.8 .2 .6 .2 .2 .2-1.7 .2 .6 .2 1.9 .2-.6 .2-.7 .2 1.3 .2-2.1 .2 2.8 .2-1.8 .2-.4 .2 1.7 .2-.5 .2-.2 .2-.2 .2-1.6 .2-.1 .2 2.1 .2 1 .2-1.4 .2 .9 .2-1.5 .2 .1 .2 1.2 .2 .6 .2-.2 .2 .2 .2-2.2 .2 .3 .2 .7 .2-1.9 .2 .5 .2 .1 .2 0 .2 .8 .2-.5 .2-.8 .2-1.6 .2 3.1 .2 .5 .2-.2 .2 0 .2 .2 .2 .7 .2-1.9 .2 .2 .2-1.3 .2 .4 .2-.7 .2-.2 .2-1.1 .2 1.8 .2 1.1 .2-3.2 .2 3.5 .2-1.1 .2-.5 .2 1.2 .2-.3 .2 .4 .2 1.6 .2-1.2 .2 0 .2-.9 .2-.1 .2-.9 .2 .7 .2-.7 .2 2 .2-1.3 .2 .9 .2 .5 .2-.4 .2-1.8 .2 2.2 .2-3.6 .2 3.3 .2-3.5 .2 1.4 .2 .9 .2-.7 .2-1.5 .2 .4 .2 1.4 .2-2.2 .2 2 .2 .3 .2 0 .2-1.1 .2-.3 .2-.4 .2 2.7 .2-.9 .2-.6 .2-.2 .2 .7 .2-3 .2 2.8 .2-1.4 .2-1.6 .2 3.4 .2-1.7 .2 1.3 .2-1.1 .2 .3 .2 2 .2-1.5 .2-.1 .2-2 .2 2.6 .2-1.5 .2 1.3 .2-1.3 .2 1.6 .2 .2 .2-2.1 .2 1.7 .2-1.4 .2 2.1 .2-1 .2-.3 .2 2.3 .2-1.3 .2-1.3 .2 1.4 .2-.6 .2 1.1 .2-2.4 .2 3.1 .2-2.5 .2 .2 .2-.4 .2 .4 .2 2.1 .2-2 .2-1.5 .2 .6 .2 .2 .2 .6 .2-1.5 .2 .5 .2 2.1 .2-2.6 .2 .3 .2-1.4 .2 2.3 .2-1.4 .2 2.6 .2-.4 .2-.3 .2-1.2 .2 .2 .2-.2 .2 .2 .2-.7 .2-.5 .2 .4 .2-.2 .2-.5 .2 1.4 .2 .1 .2-1.7 .2 2.8 .2-1.9 .2 1 .2 .7 .2-3.4 .2 2.1 .2 .5 .2 .3 .2-.5 .2 .2 .2-2.8 .2 .6 .2 1.7 .2-2.7 .2 1.7 .2 .4 .2 .6 .2 .6 .2-.9 .2-1.3 .2-.2 .2 1.3 .2 .1 .2-.4 .2-.4 .2-.1 .2-1.6 .2 1.5 .2 .9 .2-2.1 .2 1.6 .2 .1 .2 1.5 .2-2.6 .2-.3 .2-1.2 .2 .2 .2-.4 .2 .1 .2 3 .2-.6 .2 .5 .2-2.1 .2-.6 .2 .1 .2 3.6 .2-.8 .2-2.9 .2 1.5 .2 0 .2-1.2 .2 .4 .2 1.8 .2-.2 .2 .2 .2-.8 .2-.3 .2 .3 .2-.8 .2 2 .2-1.7 .2 .3 .2-.7 .2-.7 .2 .6 .2-.4 .2-.6 .2 1.7 .2 1.2 .2-2 .2-.5 .2-.7 .2-.8 .2 2.5 .2 .1 .2-1.4 .2 1.1 .2-.9 .2 2.7 .2-1.3 .2 .5 .2 1.5 .2-4.3 .2 3.2 .2 0 .2-.6 .2 .4 .2 1.4 .2-2.3 .2-.1 .2 2.6 .2-.9 .2-.7 .2 .4 .2-.8 .2-.4 .2 .2 .2 .4 .2-.9 .2-1.3 .2 1.5 .2 .5 .2-.5 .2 1 .2-.4 .2 .8 .2-.9 .2-.2 .2 .8 .2 .5 .2-1.3 .2-.3 .2 2.6 .2-1.9 .2 1.1 .2-.9 .2 .6 .2 1.1 .2 .1 .2-3.4 .2-.4 .2-1 .2 3.1 .2 1 .2-1.4 .2-.5 .2 1.3 .2-1.8 .2 1.8 .2 .7 .2-.1 .2-.6 .2-1.3 .2 .1 .2-.8 .2 2.8 .2-.8 .2-1.4 .2 0 .2 .5 .2-.8 .2 1.5 .2 .2 .2 .2 .2-.3 .2-2.3 .2 2.2 .2-1.2 .2-.2 .2 4.1 .2-2.7 .2 .4 .2-.1 .2-.6 .2 2.5 .2-3.6 .2 2.4 .2-1 .2 2 .2-.4 .2-.7 .2-1.6 .2 2.3 .2 .2 .2-.4 .2-1 .2 .9 .2-1.5 .2 1 .2 .2 .2-.6 .2-.7 .2 .8 .2-.7 .2-.3 .2 2.3 .2-1.3 .2-.5 .2-.2 .2 .9 .2-.7 .2-.3 .2 1.1 .2 .1 .2-.8 .2 .1 .2 2.7 .2-1.3 .2 1.8 .2-.5 .2-.5 .2 0 .2 1.8 .2-2.3 .2 0 .2-.6 .2 .4 .2-.9 .2 1.1 .2-1.3 .2 1.9 .2 0 .2 0 .2-.6 .2 1.9 .2 .7 .2-2.1 .2-.7 .2 1.4 .2-.9 .2 .4 .2 .5 .2-1.9 .2 2.1 .2-1.7 .2-.1 .2 .9 .2 1.9 .2-2 .2 1 .2-1.3 .2 1.6 .2-.3 .2 .9 .2-.9 .2-.1 .2-1.8 .2 2.1 .2 .5 .2-.6 .2 0 .2 .4 .2 .4 .2-1.5 .2 1 .2 .7 .2 0 .2-.9 .2-.8 .2 2.3 .2 .5 .2 .8 .2-1.2 .2-1.3 .2 1.1 .2-.6 .2-.6 .2-.7 .2-.3 .2 1.2 .2 .5 .2 .6 .2 .1 .2 .3 .2 1.6 .2-1.8 .2 1.3 .2-2 .2 0 .2 .1 .2-1.2 .2 3.1 .2-1.3 .2 .4 .2 .9 .2-1.1 .2 1.2 .2-3.4 .2 3.5 .2-.7 .2-.5 .2 1.6 .2-.9 .2-.6 .2-1.2 .2 3.3 .2-3.6 .2 2.1 .2 1.4 .2-.7 .2-1.1 .2 .4 .2-.2 .2 .7 .2-.3 .2-1.1 .2-.2 .2 2.4 .2-2.1 .2 .2 .2 3.1 .2-2.6 .2-.4 .2 .3 .2 1.5 .2-1.5 .2 .5 .2-1.9 .2 1.4 .2 .6 .2 0 .2 1.3 .2-.8 .2-2.2 .2 .6 .2 .8 .2 .7 .2 .3 .2 .5 .2-2 .2-.5 .2 2.6 .2-1.6 .2-1 .2 1.2 .2 .5 .2-.5 .2 .1 .2 1.9 .2-1.8 .2 1.3 .2 0 .2-.5 .2 2.3 .2-2.9 .2 3.2 .2-2.4 .2 .8 .2 .7 .2 .8 .2-.3 .2-.8 .2 0 .2 1.2 .2 .4 .2-1.7 .2 1.5 .2-.4 .2-.2 .2-1.2 .2-.1 .2 1.3 .2-2.2 .2 1.3 .2 .7 .2-1.8 .2 2.7 .2 0 .2-2.2 .2 .9 .2 0 .2-.2 .2 .2 .2 .9 .2 1 .2-1.2 .2 0 .2 0 .2-.7 .2 1.1 .2-.8 .2-.3 .2 1.4 .2-1.9 .2 1.2 .2 .1 .2 .2 .2-1.2 .2 .5 .2 .6 .2 .6 .2-.4 .2 .1 .2-.4 .2 .7 .2-1.6 .2 2.1 .2 .3 .2-.7 .2-.7 .2 1.8 .2-1.4 .2 1.6 .2-1.2 .2-.4 .2 .4 .2-.5 .2 .3 .2 .5 .2-.6 .2-.2 .2 .3 .2 .3 .2-.3 .2 .4 .2 .1 .2-.2 .2 .4 .2-.4 .2 1 .2-.4 .2 .4 .2-.6 .2-.8 .2 .7 .2 .3 .2 .2 .2-.4 .2 .9 .2-2 .2-.4 .2 1 .2-.3 .2 .5 .2 .5 .2 1.2 .2-2.2 .2 .4 .2 .9 .2-.9 .2 .6 .2 1.3 .2-1 .2-.1 .2 .7 .2-2 .2 1.2 .2-.1 .2 .2 .2-.7 .2 .4 .2 .3 .2 .7 .2-.9 .2 1 .2-1.7 .2 1.7 .2 .3 .2-1.1 .2 .4 .2 .2 .2 .2 .2 .5 .2-.6 .2-.3 .2 0 .2 .2 .2 .4 .2-.4 .2-.4 .2 .2 .2-.3 .2 .1 .2 .3 .2 0 .2 1 .2-1 .2 .9 .2-.6 .2 1.4 .2-.3 .2 .6 .2-.5 .2-1.1 .2 .4 .2-.6 .2-.1 .2-.4 .2 .3 .2 .3 .2 .1 .2 1.2 .2-1.3 .2 .2 .2 0 .2-.1 .2 0 .2 .1 .2-.2 .2 .4 .2-.3 .2-.9 .2 .4 .2 .2 .2-.4 .2 .2 .2 .2 .2 .6 .2 0 .2-.2 .2 .3 .2 .7 .2-1.3 .2 .8 .2-.7 .2 1.2 .2-1 .2-.4 .2-.1 .2-.8 .2 .5 .2 1.4 .2-.8 .2-.2 .2 .3 .2 .3 .2-.3 .2 .7 .2 .4 .2-.9 .2 .7 .2-1 .2 .3 .2 1.4 .2 .1 .2 .3 .2-1.7 .2 .5 .2-.2 .2 .7 .2-.5 .2-.1 .2 .3 .2-.5 .2 .8 .2-.5 .2 .8 .2-.5 .2 0 .2-.7 .2-.3 .2 0 .2 .9 .2-1.4 .2 1.8 .2-.9 .2-.5 .2 .9 .2-.8 .2 .6 .2-.2 .2 .7 .2-.2 .2 0 .2-.8 .2 .9 .2-.6 .2 .1 .2 .2 .2-.1 .2-.8 .2 .9 .2-1.1 .2 .9 .2-.2 .2 0 .2-.5 .2 1.2 .2-.5 .2 .6 .2-.7 .2 .1 .2 .4 .2 .5 .2-1 .2 .4 .2 .1 .2 .1 .2-.1 .2 .8 .2-.2 .2-.4 .2 .3 .2 .1 .2-.8 .2-.1 .2 .7 .2 .7 .2-2.1 .2 .8 .2 .7 .2-.8 .2 .7 .2-.3 .2-.8 .2 .3 .2 .4 .2-.6 .2 .7 .2-.1 .2-.2 .2 .3 .2-.3 .2 .3 .2-.7 .2 1.1 .2-.8 .2 .6 .2 .4 .2-.2 .2-.7 .2 .1 .2-.1 .2 .1 .2-.6 .2-.5 .2 .9 .2-.2 .2 .7 .2 .1 .2-1.4 .2 .3 .2 .7 .2 .2 .2-.4 .2 0 .2-.7 .2 1.9 .2-1.2 .2 .7 .2 0 .2-.5 .2 .7 .2 .1 .2-.8 .2-.1 .2 0 .2 0 .2-.3 .2-.9 .2-.3 .2-.1 .2-1 .2 .2 .2 .3 .2-.2 .2-.1 .2 .8 .2 0 .2 .4 .2-.1 .2 .2 .2 .1 .2 .7 .2-.7 .2 .5 .2 .7 .2 .1 .2-.4 .2-.5 .2 .7 .2-.5 .2 .3 .2-.2 .2 1.2 .2 0 .2-.9 .2-.1 .2 .5 .2 .4 .2 .2 .2-.5 .2-.6 .2 .6 .2-.1 .2-.9 .2 .5 .2-.1 .2-.3 .2 .5 .2 .3 .2 0 .2-.7 .2 .2 .2 .5 .2-.4 .2 .1 .2 1 .2-1.8 .2 .7 .2-.1 .2 .3 .2 .7 .2-.7 .2 0 .2 .2 .2-.2 .2 .4 .2 .8 .2-1.1 .2 .2 .2 0 .2-.8 .2 1 .2-.4 .2-.8 .2 .7 .2 .1 .2-.4 .2 .9 .2-.6 .2-.3 .2 1 .2-.4 .2 .1 .2-.7 .2 .1 .2 .2 .2 .3 .2 0 .2 .6 .2 0 .2-.6 .2-.2 .2 .7 .2-.8 .2 .3 .2-.7 .2 .1 .2 0 .2-.1 .2 .5 .2-.4 .2 .4 .2 .3 .2 .7 .2-1.5 .2 .7 .2 .3 .2-.4 .2 .5 .2-.1 .2 0 .2-.3 .2 .1 .2 .1 .2-.4 .2 .4 .2-.5 .2-.1 .2-.2 .2 .8 .2-.7 .2-.2 .2 .7 .2-.5 .2 .3 .2-.1 .2 .2 .2 0 .2-.9 .2 1.5 .2-.2 .2-.9 .2 .9 .2-.3 .2 .1 .2 .6 .2-.1 .2 0 .2 .4 .2-.3 .2-.6 .2-.3 .2 .8 .2-1.1 .2 .4 .2-.2 .2-.3 .2 .7 .2-.5 .2-.2 .2 .4 .2-.4 .2 .7 .2 .3 .2-.8 .2 0 .2 .5 .2-1.2 .2 .2 .2 .1 .2-.2 .2 .6 .2 .2 .2-.1 .2 0 .2 .4 .2 .1 .2 .1 .2-.6 .2 .1 .2 .5 .2-.4 .2 .2 .2-.8 .2 .1 .2-.3 .2 .2 .2 .1 .2-.4 .2 .9 .2-1.3 .2 .9 .2-.6 .2 .6 .2-.3 .2 .4 .2 0 .2-.3 .2-.1 .2 .1 .2 .3 .2 .3 .2 .2 .2-1.2 .2 .8 .2-.3 .2 .1 .2 .1 .2 .2 .2-.2 .2-.2 .2 .6 .2-.5 .2-.1 .2 .4 .2-.8 .2 0 .2 .9 .2-.6 .2-.6 .2 1 .2 .2 .2-.8 .2-.2 .2 .5 .2 .1 .2-.3 .2-.2 .2 .5 .2 0 .2-.8 .2 .2 .2 .4 .2-.1 .2 .3 .2 .1 .2 .5 .2-.6 .2 .2 .2-1 .2 .3 .2 .7 .2-.9 .2 1.2 .2-.3 .2-.1 .2 0 .2-.4 .2 0 .2 .2 .2 0 .2 .5 .2-1 .2 .1 .2-.5 .2 .7 .2-.1 .2 .4 .2 .4 .2-.5 .2-.5 .2 .4 .2 0 .2-.2 .2-.3 .2 .5 .2-.6 .2 .4 .2-.1 .2-.8 .2 1 .2 .5 .2-1 .2 0 .2 .6 .2-.7 .2 .6 .2 .1 .2-.2 .2 .1 .2-.3 .2-.1 .2 .4 .2-.7 .2 0 .2-.1 .2 .4 .2-.3 .2-.1 .2 .4 .2-.8 .2 .1 .2 .8 .2 .5 .2-.9 .2 .3 .2-.6 .2 .6 .2 .1 .2 .1 .2-.5 .2 1 .2-1.1 .2 .9 .2-1 .2 .6 .2 .2 .2 .3 .2-.9 .2-.5 .2 .9 .2-.6 .2-.2 .2 .2 .2-.2 .2 .6 .2-.2 .2 .2 .2 0 .2-.5 .2 .4 .2 .2 .2 .2 .2-.5 .2-.1 .2-.2 .2 .2 .2 .2 .2 .2 .2-.6 .2 .2 .2 0 .2-.2 .2-.1 .2 .3 .2-.6 .2 .5 .2-.5 .2 .5 .2-.5 .2 .8 .2-.1 .2 .2 .2-.8 .2-.1 .2 0 .2 .5 .2 .5 .2-.2 .2 0 .2-.8 .2 .7 .2-.3 .2-.6 .2-.7 .2 .5 .2 .2 .2 .6 .2-.6 .2-.1 .2 .6 .2 0 .2-.5 .2 .1 .2 .2 .2-.7 .2 .4 .2-.2 .2-.2 .2 .6 .2 .3 .2 .2 .2-.4 .2 .1 .2-.6 .2-.7 .2 0 .2 0 .2-.8 .2 .2 .2-1 .2-1.3 .2-.5 .2-1.3 .2-.8 .2-1.2 .2-.5 .2-.5 .2 0 .2 .5 .2 .7 .2 .6 .2 1 .2 .8 .2 1.1 .2 1 .2 .2 .2 .8 .2 .2 .2 .7 .2 .5 .2-.1 .2-.2 .2-.3 .2-.3 .2 .5 .2 .4 .2-.8 .2-.2 .2-.6 .2-1 .2-.8 .2-2.5 .2-3.7 .2-4.9 .2-6.7 .2-8.9 .2-10.6 .2-12.1 .2-12.8 .2-12.3 .2-10.6 .2-7.5 .2-3.4 .2 1.1 .2 5.7 .2 9.2 .2 11.7 .2 12.7 .2 12.6 .2 11.5 .2 9.8 .2 7.8 .2 5.9 .2 4.4 .2 2.5 .2 2.7 .2 .6 .2 .8 .2 .8 .2-.3 .2 .2 .2-.2 .2 .5 .2 .2 .2-.5 .2 .6 .2 .2 .2-.1 .2-.4 .2 .6 .2 .2 .2-.6 .2-.4 .2 .4 .2 .3 .2 .5 .2 .1 .2-.2 .2-.4 .2 .5 .2-.3 .2-.3 .2-.3 .2 1 .2-.9 .2 1.1 .2 .3 .2-.7 .2-.3 .2 .1 .2 0 .2 .3 .2 .3 .2-.7 .2 .1 .2-.1 .2 .6 .2-.1 .2-.6 .2 .1 .2 .2 .2-.6 .2 .6 .2 .4 .2-.4 .2 .7 .2 0 .2-.2 .2 .6 .2-.8 .2 .4 .2-.3 .2 .4 .2-.7 .2 .5 .2 0 .2 .2 .2 .2 .2-1 .2 .5 .2-.3 .2 .8 .2 .2 .2-.5 .2 .2 .2 .4 .2-.4 .2-.1 .2-.5 .2 .4 .2 .5 .2-.8 .2 .6 .2 0 .2 0 .2 .3 .2-.6 .2 .8 .2-.7 .2 .5 .2-.6 .2 .3 .2-.2 .2 .7 .2-.9 .2 .2 .2 .9 .2-.2 .2-.2 .2 0 .2-.3 .2 .4 .2 .2 .2 .3 .2-.1 .2 .1 .2-.4 .2-.5 .2 .1 .2 .7 .2-.5 .2 .5 .2-1 .2 .3 .2-.1 .2 .3 .2-.5 .2-.3 .2 .4 .2-.8 .2 .6 .2 .4 .2-.5 .2 .4 .2-.2 .2 .3 .2 .3 .2 .1 .2 .1 .2-.4 .2 .9 .2-.4 .2-.3 .2 .6 .2-.6 .2 .7 .2-.5 .2-.4 .2-.2 .2-.1 .2 .1 .2 .3 .2 .7 .2-.3 .2 0 .2 .2 .2-.3 .2-.4 .2-.1 .2 .9 .2-.6 .2 .6 .2 .1 .2-.6 .2 .2 .2-.4 .2 .2 .2 .1 .2 .1 .2 .6 .2-.5 .2 .3 .2-.3 .2 0 .2 .3 .2-1.3 .2 .9 .2-.7 .2 .3 .2-.1 .2 0 .2-.2 .2-.2 .2 1.5 .2-.4 .2-.3 .2-.6 .2 .9 .2 .3 .2-.4 .2-.7 .2 .4 .2 .3 .2-.2 .2 .4 .2-.7 .2 0 .2-.5 .2 1.1 .2-.1 .2-.3 .2-.5 .2 1 .2-.8 .2 .1 .2-.2 .2 .2 .2 .2 .2 0 .2 .7 .2-.1 .2-.3 .2-.2 .2 .1 .2-.5 .2 .5 .2-.5 .2 .2 .2 .3 .2-.4 .2-.2 .2 .9 .2-.9 .2 .2 .2 .1 .2 .2 .2 .2 .2-.6 .2 .6 .2 .6 .2 0 .2-.1 .2-.4 .2 .1 .2-.3 .2-.3 .2 .7 .2 .3 .2-.3 .2-.1 .2 .3 .2-.2 .2 .2 .2-.6 .2-.5 .2 .8 .2 .1 .2-.5 .2 .5 .2 .2 .2-.9 .2 1.5 .2-.6 .2-.4 .2-.3 .2-.2 .2 1.2 .2-.9 .2 .4 .2-.5 .2 .1 .2 .3 .2-.5 .2 .2 .2-.1 .2 .1 .2-.1 .2-.7 .2 .1 .2-1 .2-.5 .2-.4 .2-.6 .2-.2 .2-1 .2-.1 .2-.1 .2 .9 .2 .2 .2 0 .2 .8 .2-.1 .2 .9 .2 1 .2 .2 .2 .8 .2-.5 .2 .8 .2-.1 .2 .3 .2 .1 .2 .4 .2 .3 .2-.4 .2 0 .2-.2 .2 .1 .2-.5 .2 .6 .2-.1 .2-.2 .2-.2 .2-.3 .2-.1 .2-.1 .2 .1 .2 .6 .2-.1 .2-.5 .2 .2 .2 .9 .2 .2 .2-.2 .2 .4 .2-.9 .2 .4 .2-.4 .2 .9 .2-.6 .2 0 .2 0 .2-.4 .2 .2 .2-.8 .2 .5 .2-.2 .2 .5 .2 .1 .2-.4 .2-.4 .2-.1 .2 .7 .2-.4 .2 .1 .2-.3 .2 .5 .2 0 .2 .3 .2-.5 .2 .4 .2-.4 .2 .6 .2-.1 .2-.1 .2 .4 .2-.8 .2 .9 .2-.4 .2 0 .2-.1 .2-.3 .2 .1 .2 .5 .2-.3 .2 .1 .2-.2 .2 .4 .2-.1 .2-.7 .2 1.1 .2-.3 .2 0 .2-.2 .2-.1 .2 .3 .2 .4 .2-.7 .2-.3 .2 .3 .2 .1 .2 .3 .2-.8 .2 .3 .2 0 .2 .4 .2 0 .2-.3 .2 .3 .2-.3 .2 0 .2-.7 .2 .5 .2-.1 .2 .6 .2-.1 .2-.4 .2 .4 .2-.1 .2 .2 .2-.4 .2 0 .2 .6 .2-.5 .2 .5 .2-.6 .2 .2 .2-.1 .2-.2 .2 .5 .2-.8 .2 .5 .2-.8 .2 .9 .2-.1 .2 .4 .2 .4 .2-.8 .2 .3 .2-.3 .2 .3 .2 .2 .2 0 .2 .2 .2-.2 .2 .1 .2-.6 .2 .3 .2-.4 .2 .2 .2-.6 .2 .6 .2 0 .2-.2 .2 0 .2-.4 .2 .4 .2 .1 .2 .3 .2 .2 .2-.3 .2 .1 .2 .1 .2-.5 .2 .6 .2 .2 .2-.6 .2-.2 .2 .2 .2 .4 .2 .1 .2-.7 .2 .7 .2-.3 .2 .2 .2 .2 .2 0 .2-.2 .2-.3 .2 .2 .2-.2 .2 .8 .2-1 .2 .7 .2-.2 .2-.1 .2-.3 .2 .1 .2 0 .2-.1 .2 0 .2 .1 .2-.1 .2 .3 .2 .1 .2-.4 .2 .5 .2-.2 .2-.2 .2 .3 .2 .3 .2-.5 .2-.4 .2 .8 .2 .1 .2-.6 .2 .3 .2 .2 .2-.9 .2 .9 .2-.1 .2 0 .2 .1 .2-.8 .2 .6 .2 .4 .2-1.3 .2 .7 .2 .4 .2-.4 .2-.3 .2 .7 .2 0 .2-.3 .2 .3 .2 .2 .2 0 .2-.2 .2-.6 .2 .3 .2-.7 .2 .3 .2 .4 .2 .2 .2-.1 .2 .1 .2-.5 .2 .3 .2 0 .2 .2 .2-.1 .2 .8 .2-.4 .2-.7 .2 0 .2 0 .2 0 .2 0 .2-.4 .2 1 .2-.2 .2 0 .2-.1 .2 .1 .2-.2 .2-.5 .2 .7 .2 0 .2-.4 .2-.2 .2 1 .2-.8 .2 .2 .2-.2 .2 .6 .2-1 .2 .8 .2-1 .2 1 .2-.4 .2-.4 .2 .7 .2 0 .2-.4 .2 .6 .2-.1 .2 .1 .2-.6 .2 .1 .2-.1 .2 .3 .2-.2 .2-.2 .2 .8 .2-.5 .2 .6 .2 0 .2-.5 .2-.3 .2 .6 .2 .1 .2 .1 .2-.3 .2 0 .2-.4 .2 0 .2 .9 .2-.3 .2-.8 .2 .5 .2 0 .2-.7 .2 .4 .2 .2 .2 .4 .2 0 .2-.5 .2 0 .2 .1 .2 .3 .2 .3 .2-.6 .2 .3 .2-.1 .2-.1 .2 0 .2 .7 .2 0 .2-.2 .2-.9 .2 .5 .2 .6 .2-.6 .2-.3 .2 .4 .2-.3 .2 0 .2 .2 .2 0 .2-.2 .2 .1 .2-.3 .2 .3 .2 .3 .2-.2 .2 0 .2-.4 .2 .8 .2-.7 .2 .5 .2-.3 .2 .3 .2 0 .2-.4 .2-.6 .2 0 .2 .2 .2 0 .2 .4 .2 .5 .2-.4 .2-.1 .2 .5 .2-.4 .2 .4 .2-.1 .2-.6 .2 .9 .2 .2 .2-.6 .2 .2 .2-.1 .2-.3 .2-.1 .2 .4 .2-.5 .2 0 .2 .5 .2 0 .2 .3 .2-.7 .2-.1 .2 .7 .2-.8 .2 .3 .2 0 .2 .6 .2-.5 .2-.4 .2 .4 .2 .4 .2-.9 .2 .2 .2 .7 .2-.4 .2-.4 .2 .2 .2 0 .2-.4 .2 .2 .2 .7 .2-.3 .2 .3 .2-.4 .2-.2 .2 .3 .2-.4 .2 .3 .2-.2 .2-.1 .2 0 .2-.1 .2 .7 .2-.8 .2 .6 .2-.4 .2 .7 .2-.3 .2 .2 .2 0 .2-.1 .2-.1 .2 0 .2-.1 .2-.3 .2 0 .2 0 .2-.1 .2 .1 .2 .5 .2-.8 .2 1 .2-.6 .2 .4 .2-.1 .2 0 .2 .2 .2 .4 .2-.6 .2 .1 .2-.2 .2 .8 .2-.2 .2 0 .2-.3 .2-.5 .2 .7 .2-.7 .2 .3 .2 .3 .2-.5 .2-.1 .2-.4 .2 .8 .2-.1 .2-.3 .2 .3 .2-.5 .2 .3 .2 .4 .2 .2 .2-.2 .2-.2 .2 .2 .2 .5 .2-.5 .2 .2 .2 0 .2-.3 .2 .1 .2-.6 .2 .3 .2 .2 .2 .2 .2 .2 .2-.5 .2 .2 .2-.2 .2-.2 .2 .1 .2 .2 .2 0 .2-.2 .2 .8 .2-.6 .2 .2 .2-.3 .2 .8 .2-1.2 .2 .5 .2 .2 .2 .3 .2-.4 .2-.3 .2 .7 .2-.3 .2-.3 .2 0 .2 0 .2 0 .2-.6 .2 .5 .2-.2 .2 .2 .2 0 .2-.4 .2 .7 .2-.2 .2-.4 .2-.1 .2 .1 .2 .2 .2 .1 .2-.8 .2-.2 .2 .2 .2-.4 .2-.1 .2 0 .2-.1 .2 .7 .2-.1 .2-.2 .2 .5 .2 .3 .2-.3 .2 0 .2-.2 .2 .3 .2 .1 .2 .3 .2-.5 .2-.1 .2 .3 .2 .3 .2-.6 .2 .5 .2-.2 .2-.1 .2 .3 .2 .3 .2-.7 .2 .5 .2-.1 .2 .2 .2-.1 .2-.2 .2 .5 .2-.2 .2-.4 .2-.2 .2 .3 .2 .3 .2 .2 .2-.4 .2 .1 .2-.5 .2 .4 .2 .1 .2-.3 .2 .1 .2-.2 .2 0 .2 .3 .2-.4 .2 .4 .2 .3 .2-.4 .2 0 .2-.1 .2-.1 .2 .3 .2-.2 .2 .4 .2-.1 .2-.1 .2 .3 .2 .2 .2-.1 .2-.4 .2 0 .2-.4 .2 .1 .2 .2 .2 0 .2 .1 .2-.7 .2 .9 .2-.2 .2 .4 .2-.4 .2 .4 .2-.3 .2-.3 .2 .3 .2-.2 .2 .1 .2 .2 .2 0 .2 0 .2 .1 .2-.7 .2 .7 .2-.6 .2 .2 .2-.2 .2-.3 .2 .3 .2-.9 .2-.5 .2-.6 .2-2.1 .2-1.8 .2-2.1 .2-2.9 .2-2.8 .2-2.8 .2-2.3 .2-1.5 .2-.7 .2 .2 .2 1 .2 1.3 .2 1.7 .2 1.6 .2 1.8 .2 1.7 .2 1.6 .2 1.5 .2 1.6 .2 1.5 .2 1.5 .2 1.4 .2 .7 .2 .8 .2-.1 .2 1.1 .2-.2 .2 .4 .2 .2 .2 0 .2 .1 .2 .2 .2-.9 .2 .1 .2 .9 .2-.3 .2-.2 .2 .1 .2 .1 .2 .3 .2-.4 .2 .1 .2-.3 .2 .7 .2-.2 .2-.3 .2-.2 .2 .4 .2 .3 .2 .4 .2 0 .2-.7 .2 0 .2-.1 .2 .3 .2-.3 .2 .3 .2 0 .2 0 .2-.3 .2 .6 .2-.3 .2-.3 .2 .3 .2 0 .2-.1 .2 .2 .2 0 .2 .3 .2-.6 .2 .4 .2-.9 .2 1.1 .2-.5 .2 .3 .2-.4 .2 .1 .2 0 .2-.4 .2 .1 .2-.4 .2 .7 .2-.2 .2 0 .2 .3 .2-.3 .2 0 .2-.6 .2 .5 .2-.1 .2 .4 .2-.4 .2-.3 .2 .3 .2 .5 .2-.7 .2 .5 .2-.3 .2-.4 .2 .8 .2 .5 .2-.4 .2-.3 .2 .2 .2-.1 .2 .8 .2-.5 .2-.8 .2 .7 .2-.1 .2-.4 .2 .1 .2 .1 .2 .5 .2-.6 .2-.1 .2 .4 .2-.4 .2-.1 .2 .2 .2 .3 .2-.1 .2-.1 .2 .5 .2 0 .2-.8 .2 .2 .2 0 .2 .1 .2 .1 .2-.1 .2 0 .2 0 .2-.5 .2-.2 .2 .6 .2 .3 .2-.2 .2-.2 .2 .3 .2-.2 .2-.2 .2 .2 .2 .3 .2-.1 .2 .2 .2-.3 .2 .3 .2 .3 .2-.4 .2 0 .2 .4 .2-.3 .2-.4 .2 .2 .2 .4 .2-.3 .2 .4 .2-.3 .2-.1 .2 .3 .2-.4 .2 .5 .2-.3 .2 0 .2 .1 .2-.2 .2-.3 .2 0 .2 .4 .2-.1 .2-.1 .2 .1 .2-.4 .2 .2 .2 .5 .2-.6 .2 .6 .2-.4 .2 .2 .2-.1 .2-.2 .2 0 .2 .2 .2-.5 .2 0 .2 .4 .2-.3 .2 .2 .2 0 .2 0 .2-.4 .2 .5 .2-.1 .2-.2 .2 .2 .2 .1 .2 .4 .2-.6 .2 .5 .2-.5 .2 .3 .2-.2 .2 .3 .2-.2 .2-.1 .2-.3 .2 .6 .2-.6 .2 .2 .2 .6 .2-.4 .2 0 .2 0 .2 0 .2-.2 .2 .1 .2-.1 .2 0 .2 .2 .2 .1 .2 0 .2 .2 .2 .3 .2 0 .2-.4 .2-.3 .2 .5 .2-.3 .2 .1 .2-.3 .2 .2 .2-.5 .2 .3 .2-.4 .2 .8 .2-.5 .2-.5 .2 .9 .2-.1 .2 .1 .2-.6 .2 .4 .2 .2 .2-.3 .2 .2 .2-.1 .2 0 .2 .4 .2-.5 .2 .2 .2 .1 .2-.1 .2 .1 .2-.7 .2 .8 .2-.6 .2 .2 .2 0 .2 .2 .2-.2 .2 0 .2 .3 .2 .3 .2-.6 .2 0 .2 0 .2-.1 .2 .1 .2 .2 .2 .3 .2-.3 .2-.1 .2 .1 .2-.2 .2 .6 .2-.1 .2-.4 .2-.4 .2 .4 .2-.1 .2 0 .2-.3 .2 .4 .2-.1 .2 0 .2-.2 .2 .4 .2-.3 .2-.4 .2 .2 .2 .4 .2 .1 .2-.5 .2 .2 .2 .3 .2 .2 .2-.3 .2 .3 .2-.1 .2-.3 .2 .6 .2-.3 .2 .1 .2-.2 .2-.2 .2 .1 .2 .2 .2-.3 .2 .6 .2 .2 .2-1 .2 .7 .2-.4 .2 .2 .2-.2 .2-.1 .2 .2 .2-.2 .2 .4 .2-.2 .2-.3 .2 .4 .2 .1 .2-.2 .2-.1 .2 .7 .2-.6 .2 0 .2-.5 .2 .5 .2-.1 .2 .3 .2 .3 .2-.5 .2 0 .2 .5 .2 0 .2-.2 .2 .1 .2-.3 .2 .1 .2 0 .2-.5 .2 .6 .2 0 .2-.4 .2 0 .2 .2 .2 .1 .2-.2 .2-.1 .2 .2 .2 0 .2-.3 .2 .2 .2-.1 .2 .3 .2-.5 .2 .1 .2 .1 .2 .1 .2 .6 .2-.6 .2 .3 .2 0 .2 .1 .2 .1 .2-.3 .2-.4 .2 .1 .2 .4 .2 0 .2-.2 .2 .2 .2-.4 .2-.3 .2 .2 .2 .1 .2 .2 .2 0 .2-.4 .2 .4 .2-.4 .2 .2 .2 .2 .2 0 .2 0 .2-.2 .2 .1 .2 .3 .2-.4 .2-.2 .2-.3 .2 .5 .2-.2 .2 .2 .2-.3 .2 .2 .2 0 .2 .3 .2-.4 .2-.1 .2 .3 .2 .1 .2-.3 .2 .3 .2-.1 .2 .2 .2-.6 .2 .5 .2-.1 .2 0 .2-.2 .2 0 .2-.5 .2 .5 .2 .3 .2-.2 .2 0 .2 .1 .2 .3 .2-.5 .2-.2 .2 0 .2 .1 .2 .2 .2 .1 .2-.3 .2-.1 .2 .5 .2 0 .2-.4 .2 .3 .2-.4 .2-.2 .2-.2 .2-.4 .2-.4 .2-.2 .2-.1 .2 0 .2-.2 .2 0 .2-.4 .2 .2 .2-.2 .2 .2 .2 .7 .2 0 .2 .7 .2 0 .2 0 .2 .3 .2-.1 .2 .9 .2 .1 .2 .3 .2 .1 .2-.4 .2-.3 .2-.2 .2 .3 .2 .1 .2-.3 .2 .4 .2 .1 .2-.5 .2 .2 .2-.2 .2 .6 .2-.4 .2 0 .2-.2 .2 .3 .2-.2 .2 .6 .2-.1 .2-.5 .2 .1 .2 .1 .2 0 .2-.3 .2 .5 .2-.1 .2 .3 .2-.9 .2 .1 .2 .5 .2-.1 .2-.1 .2-.3 .2 .3 .2-.3 .2 .5 .2-.1 .2-.1 .2-.6 .2 .6 .2 .4 .2 0 .2-.1 .2 0 .2-.4 .2 .5 .2 .1 .2-.4 .2 0 .2-.1 .2 0 .2-.1 .2 .2 .2-.1 .2-.3 .2 .2 .2 .2 .2-.1 .2 .3 .2-.2 .2 .1 .2-.3 .2 .3 .2-.4 .2 .1 .2 .4 .2-.1 .2-.3 .2 .5 .2 .1 .2-.2 .2 .1 .2-.1 .2 0 .2-.4 .2-.3 .2 .3 .2-.5 .2 .4 .2-.2 .2 .2 .2-.2 .2 .2 .2-.3 .2 .2 .2 .4 .2-.6 .2-.1 .2 .7 .2-.1 .2-.2 .2-.1 .2 .2 .2-.1 .2 .3 .2-.4 .2-.1 .2 .3 .2-.3 .2 .3 .2-.4 .2 .2 .2 .2 .2-.1 .2 .4 .2-.3 .2 .1 .2-.5 .2 .6 .2-.1 .2-.4 .2 .5 .2 0 .2-.2 .2-.1 .2-.1 .2 .4 .2 0 .2 0 .2 .5 .2-.5 .2 .1 .2-.4 .2 .4 .2 .1 .2-.4 .2 .6 .2-.6 .2 .1 .2-.1 .2 0 .2-.4 .2 .7 .2-.6 .2 .8 .2-.5 .2 .1 .2 .6 .2-.7 .2 .2 .2-.2 .2 .2 .2 .1 .2 .3 .2-.9 .2 .5 .2 .1 .2 .1 .2-.4 .2 .2 .2 .3 .2-.3 .2 .4 .2-.7 .2 .1 .2 .2 .2-.2 .2 .3 .2-.4 .2 .3 .2-.5 .2 .1 .2 .2 .2 .1 .2-.3 .2-.1 .2 .4 .2-.3 .2 .4 .2 .2 .2-.1 .2-.5 .2 .6 .2 0 .2-.4 .2 .1 .2 .4 .2-.3 .2 .1 .2 .1 .2-.1 .2 .4 .2-.2 .2-.2 .2 0 .2-.1 .2 .4 .2-.5 .2 .4 .2-.3 .2-.3 .2 .6 .2-.2 .2 0 .2-.2 .2 .1 .2-.2 .2 .5 .2 0 .2-.3 .2 0 .2 .1 .2 .1 .2-.2 .2-.2 .2 0 .2 .1 .2-.1 .2 0 .2 .4 .2-.1 .2 .2 .2-.4 .2 .4 .2-.1 .2-.1 .2-.1 .2-.1 .2 0 .2 .1 .2-.1 .2 .5 .2-.3 .2-.1 .2-.1 .2-.2 .2 0 .2 .2 .2-.5 .2 .7 .2 0 .2-.6 .2 .7 .2 0 .2 .1 .2 0 .2 .2 .2-.5 .2 .1 .2 .2 .2-.2 .2-.3 .2 .4 .2 0 .2-.3 .2 .2 .2 .1 .2-.7 .2 .4 .2-.1 .2 .1 .2-.3 .2 0 .2 .3 .2 .3 .2-.6 .2 .6 .2-.1 .2 .1 .2 .1 .2-.4 .2 .4 .2-.7 .2 .1 .2 .2 .2 .1 .2-.5 .2-.2 .2 .5 .2 0 .2 0 .2-.2 .2-.3 .2 .5 .2 0 .2-.1 .2 .5 .2-.3 .2 .3 .2-.3 .2-.5 .2 .2 .2-.2 .2 .3 .2 .2 .2-.7 .2 .3 .2-.5 .2-.5 .2-1.4 .2-2.6 .2-3.9 .2-5.7 .2-7 .2-7.2 .2-5.6 .2-2.4 .2 1.7 .2 4.8 .2 6 .2 5.5 .2 3.7 .2 1.5 .2-.3 .2-1.5 .2-1.7 .2-1.4 .2-.4 .2 .7 .2 1.7 .2 2.4 .2 2.8 .2 2.8 .2 2.3 .2 2.2 .2 1.3 .2 1 .2 .9 .2 .7 .2 .1 .2 .6 .2-.2 .2 0 .2 0 .2-.3 .2 .3 .2-.1 .2 .4 .2-.6 .2 .2 .2-.2 .2 .2 .2-.4 .2 .5 .2 0 .2 .1 .2 .5 .2-.5 .2 .1 .2-.1 .2 .2 .2 .2 .2-.2 .2-.3 .2-.3 .2 .4 .2-.4 .2 .2 .2 .1 .2-.1 .2 .2 .2-.1 .2-.1 .2 .2 .2-.3 .2 .4 .2-.1 .2-.2 .2 .2 .2-.2 .2 .1 .2 .3 .2-.5 .2 .4 .2 .3 .2-.9 .2 .9 .2-.9 .2 0 .2 0 .2 .2 .2 .1 .2-.3 .2 .4 .2 .1 .2-.3 .2 .1 .2 .1 .2 .3 .2-.4 .2 .2 .2 0 .2 0 .2-.1 .2 .2 .2 .1 .2-.4 .2 .1 .2 .1 .2 0 .2 0 .2 .3 .2-.2 .2-.4 .2 .6 .2-.5 .2-.1 .2 .5 .2-.3 .2-.3 .2 .5 .2 0 .2 0 .2-.4 .2 .5 .2-.3 .2 .3 .2-.4 .2 0 .2-.2 .2 .3 .2 .5 .2-.1 .2-.2 .2 .5 .2-.3 .2 .1 .2-.2 .2-.2 .2 0 .2 0 .2 .1 .2-.1 .2 .1 .2-.4 .2-.2 .2 .5 .2 0 .2 .1 .2-.3 .2 .3 .2-.2 .2 .2 .2 0 .2 0 .2 0 .2-.2 .2 .1 .2 .1 .2 .2 .2-.3 .2 .1 .2-.1 .2 .2 .2 .1 .2-.6 .2 .4 .2-.1 .2 .3 .2-.7 .2 .4 .2-.2 .2 .7 .2-.3 .2 .1 .2 0 .2-.1 .2 0 .2-.2 .2-.4 .2 .5 .2-.1 .2-.1 .2-.1 .2 .4 .2-.5 .2-.1 .2 .4 .2 .1 .2-.6 .2 .1 .2 0 .2 .3 .2 .1 .2 .2 .2-.3 .2 0 .2-.1 .2 .4 .2-.4 .2-.1 .2 .1 .2 .1 .2 .1 .2-.3 .2 .6 .2 0 .2-.7 .2 .3 .2-.3 .2 .2 .2-.2 .2 .2 .2 .1 .2 0 .2-.3 .2-.2 .2 .1 .2 .6 .2-.3 .2 .1 .2 .3 .2-.5 .2 .3 .2-.2 .2 .2 .2-.4 .2 .4 .2 .1 .2 0 .2-.3 .2 .2 .2 .3 .2-.3 .2 .2 .2-.1 .2-.1 .2-.2 .2 .1 .2-.3 .2 .3 .2-.1 .2 .2 .2 .2 .2-.3 .2 0 .2 0 .2 .1 .2 .2 .2-.3 .2-.2 .2 0 .2 .5 .2-.1 .2 0 .2-.4 .2 .2 .2-.2 .2 0 .2 .2 .2-.1 .2 .5 .2-.6 .2 .2 .2 0 .2 .1 .2 .2 .2-.4 .2-.2 .2 .3 .2 .1 .2-.3 .2 .4 .2-.4 .2 .1 .2 0 .2 .6 .2-.2 .2-.1 .2-.3 .2 0 .2 .1 .2 .5 .2-.1 .2-.3 .2-.1 .2-.3 .2 .3 .2 .2 .2 0 .2-.1 .2-.2 .2 .2 .2-.1 .2 .2 .2-.1 .2 .1 .2-.1 .2-.1 .2 .4 .2-.4 .2 .4 .2-.3 .2 .1 .2 .1 .2-.2 .2-.1 .2 0 .2 0 .2 .2 .2 .1 .2-.1 .2-.3 .2 .4 .2 .1 .2-.4 .2 .1 .2 .3 .2-.2 .2 .3 .2-.3 .2-.3 .2 .2 .2 0 .2 0 .2-.2 .2 0 .2 .5 .2-.5 .2 .4 .2-.5 .2 .3 .2 0 .2 .1 .2-.2 .2-.2 .2 .1 .2-.3 .2-.1 .2 .1 .2 .7 .2-.1 .2 .2 .2-.3 .2-.3 .2 0 .2 .3 .2-.2 .2 0 .2 0 .2 .1 .2-.2"/>
<path fill="#B177DE" stroke="none" d="M67.8 213.9L68.8 214.4L69.8 215.0L70.8 215.7L71.8 214.4L72.8 214.5L73.8 214.1L74.8 214.5L75.8 213.8L76.8 213.1L77.8 213.7L78.8 214.1L79.8 214.7L80.8 214.1L81.8 213.2L82.8 213.7L83.8 214.2L84.8 213.8L85.8 214.3L86.8 214.5L87.8 213.9L88.8 213.6L89.8 213.2L90.8 213.9L91.8 213.5L92.8 213.0L93.8 213.7L94.8 213.4L95.8 212.9L96.8 214.2L97.8 214.2L98.8 213.5L99.8 212.7L100.8 213.0L101.8 213.2L102.8 212.5L103.8 212.4L104.8 213.1L105.8 213.2L106.8 213.4L107.8 212.8L108.8 213.4L109.8 213.1L110.8 212.0L111.8 210.8L112.8 210.6L113.8 212.3L114.8 212.1L115.8 210.3L116.8 212.3L117.8 211.9L118.8 211.9L119.8 212.0L120.8 211.5L121.8 211.2L122.8 212.3L123.8 211.1L124.8 210.4L125.8 212.0L126.8 211.6L127.8 210.4L128.8 210.7L129.8 210.9L130.8 210.5L131.8 210.2L132.8 209.9L133.8 210.0L134.8 209.7L135.8 209.7L136.8 209.1L137.8 209.1L138.8 208.5L139.8 208.0L140.8 207.9L141.8 208.2L142.8 207.6L143.8 207.2L144.8 207.9L145.8 207.6L146.8 207.5L147.8 205.9L148.8 205.2L149.8 204.4L150.8 204.6L151.8 204.4L152.8 204.9L153.8 205.9L154.8 205.5L155.8 205.6L156.8 204.3L157.8 205.3L158.8 204.7L159.8 204.0L160.8 203.5L161.8 202.4L162.8 203.2L163.8 203.2L164.8 202.7L165.8 202.4L166.8 203.3L167.8 202.7L168.8 202.2L169.8 202.5L170.8 202.0L171.8 202.5L172.8 204.3L173.8 203.4L174.8 202.1L175.8 202.4L176.8 201.8L177.8 203.0L178.8 203.1L179.8 204.4L180.8 203.6L181.8 203.4L182.8 203.2L183.8 204.0L184.8 202.4L185.8 203.7L186.8 203.0L187.8 203.9L188.8 204.1L189.8 203.6L190.8 203.4L191.8 202.1L192.8 202.8L193.8 203.0L194.8 202.0L195.8 201.3L196.8 202.5L197.8 201.7L198.8 202.0L199.8 203.0L200.8 201.7L201.8 202.3L202.8 201.6L203.8 201.6L204.8 201.7L205.8 202.8L206.8 205.4L207.8 204.2L208.8 205.9L209.8 209.6L210.8 210.8L211.8 210.6L212.8 212.2L213.8 213.0L214.8 213.9L215.8 214.4L216.8 214.8L217.8 213.9L218.8 215.4L219.8 215.9L220.8 216.9L221.8 216.4L222.8 216.9L223.8 218.1L224.8 218.3L225.8 217.8L226.8 218.1L227.8 218.0L228.8 218.8L229.8 219.6L230.8 219.6L231.8 220.4L232.8 220.0L233.8 219.7L234.8 220.8L235.8 220.3L236.8 220.5L237.8 221.2L238.8 221.0L239.8 221.7L240.8 222.8L241.8 222.5L242.8 222.1L243.8 222.9L244.8 222.7L245.8 222.9L246.8 222.9L247.8 222.3L248.8 222.4L249.8 223.1L250.8 222.4L251.8 223.2L252.8 223.6L253.8 223.3L254.8 224.0L255.8 224.2L256.8 223.9L257.8 223.5L258.8 223.8L259.8 224.3L260.8 223.9L261.8 224.1L262.8 224.4L263.8 223.8L264.8 224.2L265.8 223.7L266.8 224.0L267.8 224.9L268.8 224.9L269.8 224.5L270.8 223.5L271.8 223.7L272.8 224.0L273.8 224.6L274.8 225.4L275.8 224.9L276.8 224.6L277.8 224.9L278.8 224.4L279.8 224.2L280.8 224.2L281.8 225.0L282.8 225.3L283.8 225.6L284.8 225.3L285.8 224.9L286.8 224.2L287.8 224.9L288.8 224.6L289.8 225.0L290.8 225.0L291.8 225.2L292.8 225.4L293.8 225.2L294.8 224.6L295.8 224.7L296.8 226.0L297.8 225.9L298.8 225.5L299.8 225.2L300.8 225.1L301.8 225.7L302.8 225.2L303.8 224.8L304.8 224.8L305.8 224.6L306.8 224.9L307.8 225.1L308.8 225.9L309.8 225.4L310.8 225.2L311.8 225.2L312.8 224.5L313.8 225.1L314.8 224.8L315.8 225.1L316.8 225.4L317.8 224.9L318.8 224.9L319.8 224.7L320.8 224.0L321.8 224.3L322.8 224.4L323.8 224.5L324.8 225.2L325.8 224.9L326.8 224.4L327.8 224.1L328.8 224.7L329.8 225.0L330.8 224.6L331.8 224.2L332.8 223.8L333.8 223.5L334.8 222.8L335.8 223.1L336.8 223.1L337.8 222.3L338.8 222.8L339.8 222.3L340.8 222.2L341.8 222.1L342.8 221.4L343.8 221.5L344.8 221.1L345.8 220.7L346.8 221.3L347.8 220.8L348.8 220.0L349.8 219.8L350.8 219.9L351.8 220.0L352.8 219.2L353.8 218.7L354.8 218.5L355.8 218.6L356.8 218.4L357.8 217.7L358.8 217.5L359.8 217.5L360.8 217.5L361.8 217.3L362.8 216.6L362.8 219.0L361.8 219.7L360.8 219.9L359.8 219.9L358.8 219.9L357.8 220.0L356.8 220.8L355.8 221.0L354.8 220.9L353.8 221.1L352.8 221.6L351.8 222.4L350.8 222.3L349.8 222.2L348.8 222.4L347.8 223.2L346.8 223.7L345.8 223.1L344.8 223.5L343.8 223.9L342.8 223.8L341.8 224.5L340.8 224.6L339.8 224.7L338.8 225.2L337.8 224.7L336.8 225.5L335.8 225.5L334.8 225.2L333.8 225.9L332.8 226.2L331.8 226.6L330.8 227.0L329.8 227.4L328.8 227.1L327.8 226.5L326.8 226.8L325.8 227.3L324.8 227.6L323.8 226.9L322.8 226.8L321.8 226.8L320.8 226.5L319.8 227.1L318.8 227.4L317.8 227.4L316.8 227.9L315.8 227.5L314.8 227.3L313.8 227.6L312.8 227.0L311.8 227.6L310.8 227.7L309.8 227.9L308.8 228.3L307.8 227.5L306.8 227.3L305.8 227.1L304.8 227.3L303.8 227.3L302.8 227.7L301.8 228.2L300.8 227.6L299.8 227.6L298.8 228.0L297.8 228.4L296.8 228.5L295.8 227.2L294.8 227.1L293.8 227.7L292.8 227.9L291.8 227.7L290.8 227.5L289.8 227.5L288.8 227.2L287.8 227.4L286.8 226.7L285.8 227.4L284.8 227.8L283.8 228.1L282.8 227.9L281.8 227.6L280.8 226.8L279.8 226.7L278.8 227.0L277.8 227.4L276.8 227.1L275.8 227.5L274.8 227.9L273.8 227.2L272.8 226.6L271.8 226.3L270.8 226.2L269.8 227.1L268.8 227.5L267.8 227.5L266.8 226.6L265.8 226.3L264.8 226.8L263.8 226.4L262.8 227.0L261.8 226.7L260.8 226.5L259.8 226.9L258.8 226.5L257.8 226.2L256.8 226.6L255.8 226.9L254.8 226.7L253.8 226.0L252.8 226.2L251.8 225.9L250.8 225.1L249.8 225.8L248.8 225.1L247.8 225.1L246.8 225.6L245.8 225.6L244.8 225.5L243.8 225.7L242.8 224.9L241.8 225.3L240.8 225.6L239.8 224.6L238.8 223.9L237.8 224.1L236.8 223.4L235.8 223.2L234.8 223.7L233.8 222.7L232.8 223.0L231.8 223.4L230.8 222.6L229.8 222.6L228.8 221.8L227.8 221.0L226.8 221.1L225.8 220.9L224.8 221.4L223.8 221.1L222.8 220.0L221.8 219.5L220.8 220.0L219.8 219.1L218.8 218.6L217.8 217.1L216.8 218.1L215.8 217.7L214.8 217.3L213.8 216.4L212.8 215.6L211.8 214.1L210.8 214.3L209.8 213.1L208.8 209.5L207.8 207.9L206.8 209.1L205.8 206.5L204.8 205.4L203.8 205.4L202.8 205.3L201.8 206.1L200.8 205.5L199.8 206.8L198.8 205.8L197.8 205.4L196.8 206.3L195.8 205.1L194.8 205.8L193.8 206.8L192.8 206.6L191.8 205.8L190.8 207.2L189.8 207.3L188.8 207.8L187.8 207.6L186.8 206.8L185.8 207.4L184.8 206.2L183.8 207.8L182.8 207.0L181.8 207.1L180.8 207.3L179.8 208.1L178.8 206.9L177.8 206.8L176.8 205.5L175.8 206.1L174.8 205.8L173.8 207.1L172.8 208.0L171.8 206.2L170.8 205.7L169.8 206.2L168.8 205.9L167.8 206.4L166.8 207.0L165.8 206.1L164.8 206.4L163.8 206.9L162.8 206.8L161.8 206.0L160.8 207.1L159.8 207.6L158.8 208.3L157.8 208.9L156.8 207.9L155.8 209.2L154.8 209.1L153.8 209.5L152.8 208.5L151.8 208.0L150.8 208.1L149.8 208.0L148.8 208.8L147.8 209.4L146.8 211.0L145.8 211.0L144.8 211.4L143.8 210.7L142.8 211.0L141.8 211.7L140.8 211.4L139.8 211.5L138.8 212.0L137.8 212.5L136.8 212.5L135.8 213.1L134.8 213.1L133.8 213.3L132.8 213.3L131.8 213.5L130.8 213.9L129.8 214.2L128.8 214.0L127.8 213.7L126.8 215.0L125.8 215.3L124.8 213.7L123.8 214.4L122.8 215.6L121.8 214.5L120.8 214.8L119.8 215.3L118.8 215.1L117.8 215.2L116.8 215.5L115.8 213.6L114.8 215.3L113.8 215.5L112.8 213.8L111.8 214.0L110.8 215.2L109.8 216.3L108.8 216.6L107.8 216.0L106.8 216.6L105.8 216.3L104.8 216.2L103.8 215.6L102.8 215.7L101.8 216.4L100.8 216.1L99.8 215.8L98.8 216.7L97.8 217.3L96.8 217.4L95.8 216.0L94.8 216.5L93.8 216.8L92.8 216.1L91.8 216.6L90.8 216.9L89.8 216.3L88.8 216.7L87.8 217.0L86.8 217.6L85.8 217.3L84.8 216.8L83.8 217.3L82.8 216.7L81.8 216.2L80.8 217.1L79.8 217.7L78.8 217.1L77.8 216.7L76.8 216.1L75.8 216.8L74.8 217.5L73.8 217.1L72.8 217.5L71.8 217.3L70.8 218.6L69.8 217.9L68.8 217.4L67.8 216.8ZM366.4 217.6L367.4 218.7L368.4 219.1L369.4 219.0L370.4 219.9L371.4 220.3L372.4 220.1L373.4 220.6L374.4 221.2L375.4 221.7L376.4 221.7L377.4 221.6L378.4 222.2L379.4 222.1L380.4 222.2L381.4 222.3L382.4 222.8L383.4 223.2L384.4 223.2L385.4 222.9L386.4 222.7L387.4 223.3L388.4 224.1L389.4 223.9L390.4 223.7L391.4 224.0L392.4 224.3L393.4 224.6L394.4 224.0L395.4 223.6L396.4 223.5L397.4 224.3L398.4 225.3L399.4 224.9L400.4 224.5L401.4 225.1L402.4 225.2L403.4 225.0L404.4 224.4L405.4 224.8L406.4 225.2L407.4 225.3L408.4 225.2L409.4 225.9L410.4 226.0L411.4 225.7L412.4 225.9L413.4 226.0L414.4 226.1L415.4 226.2L416.4 226.3L417.4 226.1L418.4 226.0L419.4 226.4L420.4 226.8L421.4 226.8L422.4 226.6L423.4 226.3L424.4 226.7L425.4 226.9L426.4 226.4L427.4 226.7L428.4 226.1L429.4 225.8L430.4 226.5L431.4 226.7L432.4 226.6L433.4 226.8L434.4 226.4L435.4 226.6L436.4 226.8L437.4 227.1L438.4 227.1L439.4 226.6L440.4 226.9L441.4 226.6L442.4 226.9L443.4 227.0L444.4 226.9L445.4 226.8L446.4 227.0L447.4 226.9L448.4 226.5L449.4 226.6L450.4 227.0L451.4 226.9L452.4 226.5L453.4 226.6L454.4 227.1L455.4 227.1L456.4 227.3L457.4 227.3L458.4 227.2L459.4 227.5L460.4 227.7L461.4 227.5L462.4 227.3L463.4 227.4L464.4 227.2L465.4 227.6L466.4 227.6L467.4 227.4L468.4 227.1L469.4 226.7L470.4 226.8L471.4 227.1L472.4 226.9L473.4 227.3L474.4 227.3L475.4 226.9L476.4 227.2L477.4 227.3L478.4 227.2L479.4 227.6L480.4 227.9L481.4 227.2L482.4 227.5L483.4 228.0L484.4 227.8L485.4 227.5L486.4 227.0L487.4 227.6L488.4 227.5L489.4 227.4L490.4 227.4L491.4 227.4L492.4 227.5L493.4 226.7L494.4 227.1L495.4 227.4L496.4 227.4L497.4 226.9L498.4 227.1L499.4 227.5L500.4 227.6L501.4 227.3L502.4 226.9L503.4 227.2L504.4 227.3L505.4 227.1L506.4 227.2L507.4 227.3L508.4 227.5L509.4 227.0L510.4 227.0L511.4 227.1L512.4 227.5L513.4 227.7L514.4 227.4L515.4 227.2L516.4 227.4L517.4 227.3L518.4 226.9L519.4 227.5L520.4 227.7L521.4 228.0L522.4 227.9L523.4 227.4L524.4 227.5L525.4 227.3L526.4 227.2L527.4 227.1L528.4 227.2L529.4 227.1L530.4 227.1L531.4 227.3L532.4 226.9L533.4 227.1L534.4 227.5L535.4 227.4L536.4 227.2L537.4 226.3L537.6 226.0L537.6 228.1L537.4 228.4L536.4 229.3L535.4 229.5L534.4 229.6L533.4 229.2L532.4 229.0L531.4 229.4L530.4 229.3L529.4 229.2L528.4 229.3L527.4 229.2L526.4 229.3L525.4 229.4L524.4 229.7L523.4 229.5L522.4 230.0L521.4 230.1L520.4 229.8L519.4 229.7L518.4 229.0L517.4 229.4L516.4 229.6L515.4 229.4L514.4 229.5L513.4 229.8L512.4 229.6L511.4 229.3L510.4 229.1L509.4 229.2L508.4 229.7L507.4 229.4L506.4 229.3L505.4 229.3L504.4 229.5L503.4 229.4L502.4 229.1L501.4 229.4L500.4 229.8L499.4 229.6L498.4 229.3L497.4 229.1L496.4 229.6L495.4 229.6L494.4 229.3L493.4 228.9L492.4 229.7L491.4 229.6L490.4 229.5L489.4 229.6L488.4 229.7L487.4 229.8L486.4 229.2L485.4 229.7L484.4 230.0L483.4 230.2L482.4 229.7L481.4 229.4L480.4 230.1L479.4 229.8L478.4 229.4L477.4 229.6L476.4 229.4L475.4 229.1L474.4 229.5L473.4 229.5L472.4 229.1L471.4 229.3L470.4 229.0L469.4 229.0L468.4 229.3L467.4 229.7L466.4 229.8L465.4 229.8L464.4 229.5L463.4 229.6L462.4 229.6L461.4 229.8L460.4 229.9L459.4 229.8L458.4 229.4L457.4 229.6L456.4 229.5L455.4 229.3L454.4 229.3L453.4 228.8L452.4 228.8L451.4 229.2L450.4 229.2L449.4 228.8L448.4 228.8L447.4 229.1L446.4 229.2L445.4 229.1L444.4 229.2L443.4 229.3L442.4 229.2L441.4 228.9L440.4 229.2L439.4 228.9L438.4 229.4L437.4 229.4L436.4 229.1L435.4 228.9L434.4 228.7L433.4 229.1L432.4 228.9L431.4 229.0L430.4 228.8L429.4 228.1L428.4 228.4L427.4 229.0L426.4 228.7L425.4 229.2L424.4 229.0L423.4 228.6L422.4 228.9L421.4 229.1L420.4 229.1L419.4 228.7L418.4 228.3L417.4 228.4L416.4 228.6L415.4 228.5L414.4 228.4L413.4 228.3L412.4 228.3L411.4 228.1L410.4 228.3L409.4 228.2L408.4 227.5L407.4 227.6L406.4 227.6L405.4 227.2L404.4 226.8L403.4 227.3L402.4 227.5L401.4 227.4L400.4 226.9L399.4 227.2L398.4 227.6L397.4 226.6L396.4 225.8L395.4 225.9L394.4 226.4L393.4 226.9L392.4 226.6L391.4 226.4L390.4 226.1L389.4 226.3L388.4 226.5L387.4 225.6L386.4 225.1L385.4 225.2L384.4 225.5L383.4 225.6L382.4 225.2L381.4 224.7L380.4 224.5L379.4 224.5L378.4 224.6L377.4 224.0L376.4 224.1L375.4 224.0L374.4 223.6L373.4 223.0L372.4 222.5L371.4 222.6L370.4 222.2L369.4 221.4L368.4 221.5L367.4 221.1L366.4 219.9ZM542.6 226.6L543.6 227.0L544.6 227.1L545.6 227.3L546.6 227.8L547.6 228.0L548.6 227.6L549.6 227.6L550.6 227.1L551.6 227.2L552.6 227.5L553.6 227.2L554.6 227.1L555.6 227.2L556.6 227.3L557.6 227.0L558.6 227.2L559.6 227.1L560.6 227.3L561.6 227.2L562.6 227.6L563.6 227.4L564.6 227.6L565.6 227.4L566.6 227.4L567.6 227.3L568.6 227.2L569.6 227.6L570.6 227.8L571.6 227.6L572.6 227.7L573.6 227.3L574.6 227.5L575.6 227.7L576.6 227.4L577.6 227.3L578.6 227.6L579.6 227.4L580.6 227.2L581.6 227.2L582.6 227.4L583.6 227.3L584.6 227.2L585.6 227.3L586.6 227.2L587.6 227.2L588.6 227.3L589.6 227.2L590.6 227.0L591.6 227.2L592.6 227.3L593.6 227.6L594.6 227.6L595.6 227.3L596.6 227.3L597.6 227.2L598.6 227.4L599.6 227.6L600.6 227.0L601.6 227.0L602.6 227.1L603.6 227.7L604.6 227.9L605.6 227.7L606.6 227.4L607.6 227.4L608.6 227.6L609.6 227.6L610.6 227.3L611.6 227.4L612.6 227.4L613.6 227.3L614.6 227.4L615.6 227.5L616.6 227.5L617.6 227.3L618.6 227.5L619.6 227.4L620.6 227.3L621.6 227.5L622.6 227.5L623.6 227.4L624.6 227.5L625.6 227.4L626.6 227.2L627.6 227.4L628.6 227.2L629.6 227.5L630.6 227.7L631.6 227.5L632.6 227.6L633.6 227.8L634.6 227.6L635.6 227.6L636.6 227.6L637.6 227.6L638.6 227.5L639.6 227.5L640.6 227.3L641.6 227.4L642.6 227.2L643.6 227.2L644.6 227.3L645.6 227.1L646.6 226.9L647.6 227.3L648.6 226.9L649.6 227.0L650.6 227.3L651.6 227.2L652.6 227.0L653.6 226.9L654.6 227.0L655.6 226.9L656.6 227.0L657.6 226.8L658.6 226.7L659.6 226.5L660.6 226.4L661.6 226.6L662.6 226.7L663.6 226.5L664.6 226.8L665.6 226.9L666.6 226.9L667.6 226.7L668.6 226.6L669.6 226.6L670.6 226.4L671.6 226.4L672.6 226.5L673.6 226.5L674.6 226.5L675.6 226.8L676.6 226.6L677.6 226.3L678.6 226.2L679.6 226.3L680.6 226.2L681.6 226.3L682.6 226.4L683.6 226.3L684.6 226.3L685.6 226.2L686.6 225.7L687.4 225.2L687.4 227.1L686.6 227.6L685.6 228.1L684.6 228.2L683.6 228.2L682.6 228.3L681.6 228.3L680.6 228.2L679.6 228.2L678.6 228.1L677.6 228.2L676.6 228.6L675.6 228.7L674.6 228.5L673.6 228.4L672.6 228.4L671.6 228.4L670.6 228.4L669.6 228.5L668.6 228.5L667.6 228.6L666.6 228.8L665.6 228.8L664.6 228.7L663.6 228.5L662.6 228.6L661.6 228.5L660.6 228.3L659.6 228.4L658.6 228.7L657.6 228.7L656.6 228.9L655.6 228.8L654.6 228.9L653.6 228.8L652.6 228.9L651.6 229.1L650.6 229.2L649.6 228.9L648.6 228.8L647.6 229.2L646.6 228.9L645.6 229.1L644.6 229.2L643.6 229.2L642.6 229.2L641.6 229.4L640.6 229.3L639.6 229.4L638.6 229.5L637.6 229.5L636.6 229.6L635.6 229.6L634.6 229.6L633.6 229.7L632.6 229.6L631.6 229.5L630.6 229.6L629.6 229.4L628.6 229.1L627.6 229.3L626.6 229.2L625.6 229.4L624.6 229.5L623.6 229.4L622.6 229.5L621.6 229.4L620.6 229.3L619.6 229.4L618.6 229.4L617.6 229.2L616.6 229.5L615.6 229.5L614.6 229.4L613.6 229.3L612.6 229.4L611.6 229.4L610.6 229.2L609.6 229.5L608.6 229.6L607.6 229.4L606.6 229.4L605.6 229.7L604.6 229.8L603.6 229.6L602.6 229.1L601.6 229.0L600.6 229.0L599.6 229.5L598.6 229.4L597.6 229.1L596.6 229.3L595.6 229.3L594.6 229.6L593.6 229.6L592.6 229.3L591.6 229.2L590.6 229.0L589.6 229.2L588.6 229.3L587.6 229.2L586.6 229.2L585.6 229.3L584.6 229.2L583.6 229.4L582.6 229.4L581.6 229.2L580.6 229.2L579.6 229.4L578.6 229.6L577.6 229.3L576.6 229.4L575.6 229.7L574.6 229.5L573.6 229.3L572.6 229.7L571.6 229.7L570.6 229.8L569.6 229.7L568.6 229.3L567.6 229.3L566.6 229.4L565.6 229.5L564.6 229.7L563.6 229.5L562.6 229.6L561.6 229.3L560.6 229.3L559.6 229.1L558.6 229.2L557.6 229.0L556.6 229.4L555.6 229.3L554.6 229.1L553.6 229.3L552.6 229.6L551.6 229.2L550.6 229.1L549.6 229.7L548.6 229.7L547.6 230.1L546.6 229.8L545.6 229.4L544.6 229.2L543.6 229.0L542.6 228.7ZM693.2 226.6L694.2 227.0L695.2 227.1L696.2 227.3L697.2 227.2L698.2 227.6L699.2 227.8L700.2 227.8L701.2 227.6L702.2 227.4L703.2 227.3L704.2 227.3L705.2 227.5L706.2 227.4L707.2 227.3L708.2 227.6L709.2 227.3L710.2 227.3L711.2 227.5L712.2 227.5L713.2 227.4L714.2 227.3L715.2 227.5L716.2 227.7L717.2 227.6L718.2 227.7L719.2 227.7L720.2 227.5L721.2 227.6L722.2 227.8L723.2 227.5L724.2 227.5L725.2 227.3L726.2 227.4L727.2 227.5L728.2 227.6L729.2 227.7L730.2 227.4L731.2 227.6L732.2 227.4L733.2 227.6L734.2 227.6L735.2 227.7L736.2 227.5L737.2 227.5L738.2 227.5L739.2 227.5L740.2 227.2L741.2 227.7L742.2 227.7L743.2 227.6L744.2 227.8L745.2 227.9L746.2 227.5L747.2 227.6L748.2 227.6L749.2 227.6L750.2 227.6L751.2 227.6L752.2 227.6L753.2 227.6L754.2 227.4L755.2 227.5L756.0 227.4L756.0 229.3L755.2 229.4L754.2 229.3L753.2 229.4L752.2 229.5L751.2 229.5L750.2 229.5L749.2 229.4L748.2 229.5L747.2 229.5L746.2 229.4L745.2 229.8L744.2 229.6L743.2 229.4L742.2 229.6L741.2 229.6L740.2 229.1L739.2 229.4L738.2 229.4L737.2 229.4L736.2 229.4L735.2 229.6L734.2 229.5L733.2 229.4L732.2 229.3L731.2 229.5L730.2 229.3L729.2 229.6L728.2 229.5L727.2 229.4L726.2 229.3L725.2 229.2L724.2 229.4L723.2 229.4L722.2 229.7L721.2 229.5L720.2 229.4L719.2 229.6L718.2 229.5L717.2 229.5L716.2 229.6L715.2 229.4L714.2 229.2L713.2 229.3L712.2 229.4L711.2 229.4L710.2 229.2L709.2 229.2L708.2 229.5L707.2 229.2L706.2 229.3L705.2 229.4L704.2 229.2L703.2 229.2L702.2 229.3L701.2 229.5L700.2 229.7L699.2 229.7L698.2 229.5L697.2 229.1L696.2 229.2L695.2 229.1L694.2 228.9L693.2 228.5ZM364.65 138L365.95 160L366.35 219.5L362.95 219.5L363.35 160Z"/>
<path class="c" stroke="#B177DE" stroke-width="1.5" d="M67.8 214.1l.2 .6 .2-.2 .2-1 .2 2.3 .2 .8 .2-.4 .2-1.7 .2 .8 .2 2.6 .2-1.6 .2-.5 .2 2.3 .2-1.1 .2-1.7 .2 .9 .2 1.6 .2-1.4 .2-.3 .2 .5 .2-1.6 .2-.8 .2 1.7 .2-.6 .2 .7 .2-.8 .2-.1 .2-.9 .2 1.7 .2 1.8 .2-3.5 .2 2.7 .2-.4 .2-1.3 .2-.3 .2 1.7 .2-1.1 .2-.1 .2-.3 .2 2.4 .2-4 .2 2.1 .2 1.5 .2-2.1 .2 2.1 .2-2.5 .2 .2 .2 .8 .2-1.5 .2 1 .2 .8 .2-1.3 .2 1.3 .2 .8 .2-2.5 .2 1.2 .2 .7 .2-1.2 .2 2.1 .2 .5 .2-1.9 .2 1 .2-1.1 .2 .5 .2 .4 .2-1 .2 .1 .2-1 .2 1.7 .2-.4 .2-1.8 .2 1.4 .2 1.9 .2-2.9 .2 2.2 .2 1 .2-2.5 .2 1.3 .2-3.2 .2 4.1 .2-.8 .2 .2 .2-.9 .2 .8 .2 0 .2-.4 .2-1.1 .2 .2 .2 .4 .2-.2 .2-.6 .2-.4 .2 1.4 .2-.9 .2 .6 .2-1 .2-.1 .2 1 .2 .1 .2 2.6 .2-2.8 .2 1.2 .2-.7 .2-.3 .2-.7 .2 1 .2-.2 .2-2.3 .2 2.3 .2-1.1 .2-1.7 .2 1 .2 1.9 .2 .5 .2-1.1 .2 1.7 .2-.5 .2-2.8 .2 .5 .2 1.6 .2-1.6 .2 .2 .2 .9 .2-.8 .2-.6 .2-.9 .2 4.1 .2-4 .2 1.3 .2 2.1 .2-1.2 .2-.8 .2-.2 .2 2.7 .2-.7 .2-3.5 .2 .3 .2 2.2 .2 1 .2-2.6 .2 2 .2-2.7 .2 .2 .2 .8 .2 2.4 .2-.2 .2 .7 .2-3 .2 4.1 .2-2.5 .2 3 .2-2.3 .2-2.6 .2 2 .2-1.2 .2 2.7 .2-1.8 .2 1 .2-2.7 .2-.1 .2 1 .2-.1 .2-1.2 .2 1.9 .2 .9 .2-1.8 .2 0 .2 0 .2 1.4 .2-.8 .2 .6 .2 .8 .2-1.8 .2-.1 .2-.3 .2 2 .2-2.1 .2 .1 .2-.4 .2 1.5 .2-.5 .2-1.7 .2 2.8 .2-.6 .2 1.1 .2-.8 .2-.7 .2-1.2 .2 2.5 .2 .4 .2-2.6 .2 1 .2 .7 .2-.7 .2 .7 .2-.9 .2-.3 .2 2.2 .2-3.8 .2 2.8 .2-2 .2 .9 .2-.9 .2 1.2 .2-.7 .2 1.4 .2-1.9 .2 .6 .2 1.1 .2 .7 .2-2.1 .2 3.2 .2-3.2 .2 1.3 .2-3.5 .2 .9 .2-.2 .2-.5 .2-.7 .2 1.1 .2-.8 .2 2.9 .2-2.3 .2 .4 .2-3 .2 4.8 .2 .3 .2-3.1 .2 .5 .2 .7 .2 3.2 .2-3.4 .2 .5 .2-.7 .2 2.3 .2 .4 .2-2.8 .2 2.3 .2-1.7 .2-1.6 .2 1.7 .2 1 .2 .3 .2-.4 .2 1.6 .2-1.3 .2 .7 .2 2 .2-2.7 .2-1.1 .2-.9 .2 .7 .2-1.9 .2 1.3 .2-.2 .2 1.5 .2-1.5 .2 1.8 .2 .1 .2 1.1 .2 .2 .2 .7 .2-2.5 .2-1.6 .2 2.8 .2-.7 .2-1.2 .2 1.5 .2 1.4 .2-2.2 .2-.9 .2 1 .2-1.2 .2 4.1 .2-4 .2 .4 .2 2.7 .2-1.8 .2-1.7 .2 2.6 .2-.1 .2-4.1 .2 2.8 .2 .3 .2 1.1 .2-1.7 .2 .6 .2-.5 .2 1.2 .2 1.7 .2-1.1 .2-1.6 .2 .7 .2 2.7 .2-4.5 .2 .6 .2-.4 .2 2.4 .2-3.3 .2 .4 .2 .4 .2 .8 .2 .1 .2-2.3 .2 .1 .2-.3 .2 3.7 .2-1.8 .2 .6 .2-.3 .2-2.1 .2-.2 .2 .7 .2 4.2 .2-3.4 .2 1.1 .2-2.2 .2 4.3 .2-2.9 .2-2.4 .2 1.5 .2 1.1 .2 1 .2-2 .2 1.3 .2-.6 .2-.1 .2-.9 .2 1.1 .2 1.1 .2-1.5 .2-.5 .2 3.5 .2-2.1 .2-.2 .2-3 .2 3.6 .2-3.8 .2 4 .2-1.3 .2-1.2 .2-.5 .2 1 .2-.9 .2-2 .2 4 .2-3.6 .2 2 .2-.4 .2 2.8 .2-4.4 .2 3.4 .2-.9 .2-3.9 .2 1 .2 1 .2-.5 .2 1.7 .2 .4 .2 .5 .2-2.7 .2 1.7 .2-1.2 .2 1 .2-.8 .2 .2 .2-.2 .2 1.4 .2-.5 .2-1.6 .2-1.8 .2 4.3 .2-.5 .2-1.4 .2 1.8 .2-1.8 .2-.2 .2-.5 .2 2.4 .2 .7 .2-3 .2-.6 .2 2.5 .2 0 .2-.2 .2-2.8 .2 2.6 .2-.2 .2-.8 .2 .9 .2-1 .2 .7 .2-.6 .2-.3 .2 3 .2-2.7 .2 .8 .2 .2 .2-3.1 .2 .8 .2-1.5 .2 .7 .2-1.6 .2 2.9 .2-1.3 .2-1.9 .2 2.5 .2-2.4 .2-.8 .2 2.5 .2-.7 .2-1.3 .2 2.1 .2-.3 .2-.3 .2 1.4 .2-.9 .2 1.4 .2-1.4 .2-.1 .2-4 .2 2.7 .2 3.4 .2-3.6 .2 .8 .2-.1 .2-1.8 .2 4 .2 2.2 .2-.2 .2-2.9 .2-1.2 .2 .4 .2 1.5 .2-1.4 .2 1.8 .2-.6 .2-2.2 .2 .2 .2 3 .2-.1 .2-1.5 .2 1.9 .2-2.7 .2-.7 .2 .3 .2 1 .2-4 .2 3.9 .2 .2 .2-1.4 .2 .1 .2 3.1 .2-2.8 .2 .1 .2 1.7 .2-3.6 .2 5.1 .2-4.6 .2 0 .2-1.3 .2 1.1 .2-.6 .2 .7 .2-1.1 .2-1.8 .2 5.2 .2-.8 .2-.4 .2-.6 .2-.1 .2-2.2 .2 4.6 .2-4.2 .2-.6 .2 5.4 .2-3.5 .2 .8 .2-1.7 .2 1.1 .2 .9 .2-.4 .2-2.5 .2 3 .2-2.5 .2-1.3 .2 3.8 .2-1 .2-1 .2-.9 .2 2.5 .2-1.5 .2-.5 .2 2.2 .2-.2 .2-2.2 .2 4 .2-4.7 .2 1.2 .2 1.7 .2-1 .2 1.1 .2-.5 .2-4.6 .2 5.6 .2-2.8 .2 .9 .2-1.1 .2-.5 .2 2.9 .2-.4 .2-.5 .2-1.6 .2 3.5 .2-2 .2 .4 .2-.8 .2 .3 .2 1.5 .2 0 .2 .3 .2-1.2 .2 .5 .2-1.7 .2 1.9 .2-.4 .2-.4 .2 1.3 .2-.1 .2-1.6 .2-2 .2 2.1 .2 .1 .2 .2 .2-2.2 .2-.8 .2-1 .2 3 .2-.8 .2 2 .2-3.2 .2 4.6 .2-2.6 .2-.1 .2 .3 .2 .7 .2 .1 .2-4.2 .2 2.5 .2 2.1 .2 .6 .2-.4 .2-1.8 .2 2.2 .2-1.1 .2 .2 .2 2.1 .2-1.9 .2 1.2 .2 2 .2-.5 .2-3.7 .2 .2 .2-1.7 .2 4.7 .2-2.2 .2-.8 .2 .7 .2-1.8 .2 3 .2-2.5 .2 2.8 .2-1.1 .2-.6 .2 1 .2-1.2 .2 .6 .2 2.3 .2 1 .2-1.7 .2 1.3 .2-5.2 .2 2.5 .2-.7 .2-1.1 .2 1.5 .2 2.4 .2-2.1 .2 1.3 .2 .8 .2 .2 .2-2 .2-1.2 .2 2.7 .2-.7 .2-2.4 .2 3.3 .2-4 .2-.5 .2 2.3 .2-1.6 .2 2.3 .2 .3 .2-.8 .2 .9 .2-2.4 .2-2 .2 4.8 .2 .1 .2-.1 .2-1.9 .2 1.5 .2-1.2 .2 2.5 .2-4 .2 2.1 .2-1.5 .2 1.5 .2-1.3 .2-3.3 .2 2.3 .2-1 .2 2.4 .2 .8 .2-3.1 .2 2.9 .2-2.2 .2 1 .2 1 .2 1.7 .2-1.3 .2 .2 .2-2 .2 .4 .2 1 .2-1 .2-.3 .2 .2 .2 1.9 .2-.6 .2 .1 .2-1.6 .2-1.6 .2-.4 .2 2.5 .2-1.6 .2-1.5 .2 2.6 .2 3.8 .2-3.8 .2-.1 .2-.7 .2 .3 .2-2.4 .2 2.9 .2 1.3 .2-.4 .2 .5 .2-.2 .2 1.2 .2-3.2 .2-1.7 .2 2 .2 .4 .2 .9 .2-2.3 .2 1.6 .2-.2 .2 1.5 .2-1.8 .2 1.7 .2 .1 .2-1.9 .2 .1 .2-.7 .2-.5 .2 .1 .2-.7 .2 2.9 .2-.5 .2-.8 .2 .4 .2-.1 .2 2.3 .2-1 .2-1.9 .2 1.7 .2-3.6 .2 2 .2-.1 .2 2.2 .2-.8 .2 .2 .2 .8 .2-.7 .2 .5 .2 .5 .2 2 .2-.5 .2 .3 .2 1.1 .2-1.4 .2-4.1 .2 2.2 .2 3.8 .2-1.2 .2 1.1 .2 .7 .2-1.6 .2 3.3 .2-.3 .2-.9 .2 2.3 .2 2.2 .2-2.6 .2-1.5 .2 1.7 .2-1.2 .2-2.1 .2 2.6 .2 1.3 .2-1.8 .2 1.5 .2 .3 .2-.1 .2 .5 .2 .4 .2 .2 .2 .4 .2 .9 .2-1.3 .2-.3 .2 1.9 .2-1.3 .2 3.9 .2-2.9 .2 3.1 .2-2.1 .2 .1 .2 .8 .2-.6 .2-.7 .2-.2 .2-.6 .2 .1 .2 2.3 .2-4 .2 4.8 .2-1.2 .2-1.8 .2 2.3 .2 .2 .2-.7 .2-3.8 .2 .8 .2 3.7 .2-1.9 .2 2.1 .2-1 .2 .9 .2-.8 .2 .5 .2-1.8 .2 2.1 .2-.7 .2 2.4 .2-1.9 .2 1.3 .2-.1 .2-1 .2-1 .2 1.1 .2-.3 .2 1.1 .2-1.7 .2 0 .2 2.4 .2-.2 .2 1.3 .2 .4 .2-3.6 .2 2.5 .2-.1 .2 0 .2 1 .2 1.1 .2-2.4 .2 0 .2 .7 .2 0 .2-1.1 .2 1.1 .2 .6 .2-2 .2 2 .2-2.1 .2 2.3 .2-2.4 .2-.1 .2-.6 .2 1.2 .2 .3 .2 .1 .2-.1 .2 .3 .2-.1 .2 .4 .2 .7 .2-.5 .2 .9 .2-1.3 .2-.2 .2 2.2 .2-1.7 .2 1 .2-1.2 .2-.5 .2 .4 .2 .7 .2 2.5 .2-2 .2 1.1 .2-.7 .2 .4 .2-1.5 .2 2.2 .2-1.1 .2-.8 .2 1.3 .2-2.5 .2 .9 .2 1.3 .2 1.4 .2-1.9 .2 2.7 .2-.5 .2-2 .2 1.4 .2 .5 .2-2.4 .2 2.4 .2-3.3 .2 3 .2-.2 .2 .7 .2-.7 .2-.3 .2-1.7 .2 3.5 .2-1 .2 .2 .2-1.5 .2-1.6 .2 2.6 .2-1.4 .2 .8 .2 .6 .2-1.7 .2 1.8 .2-1 .2 .5 .2 1.5 .2-1.9 .2 1.1 .2 .5 .2 1.4 .2-1 .2 .7 .2-1.8 .2-.5 .2 1.1 .2 1.5 .2-1.2 .2-.9 .2-.2 .2 1.9 .2-.6 .2-1.7 .2-.3 .2 3.8 .2-1.6 .2-.1 .2 .3 .2-.5 .2-.1 .2 .1 .2-1.8 .2 1.5 .2-.1 .2 1.5 .2 0 .2-1.3 .2 .3 .2 .1 .2 1.8 .2-.9 .2-1.6 .2 1.9 .2-2.3 .2 1.7 .2-1.1 .2-1.3 .2 .6 .2 .2 .2 1.3 .2 .3 .2-2.5 .2 1.4 .2 1.6 .2-.4 .2-.1 .2 0 .2 0 .2 .3 .2-1.7 .2-1.6 .2 2.3 .2-.9 .2-.7 .2 1.8 .2-.5 .2 .8 .2-1.6 .2 2.4 .2-.6 .2 .2 .2-1 .2-.1 .2 1.4 .2-.3 .2-.7 .2-.7 .2 1.7 .2-.7 .2 1.3 .2-1.2 .2 .8 .2 .2 .2-.7 .2 .9 .2-1.7 .2 2.3 .2-1.5 .2 0 .2 .1 .2-.2 .2-.4 .2 .7 .2-.8 .2 .2 .2 .3 .2-.3 .2-.5 .2 1.4 .2 1.1 .2-2 .2 1.4 .2-1.3 .2 .5 .2-.6 .2 .4 .2-.1 .2 .5 .2-.3 .2 1.9 .2-2.6 .2 1.2 .2 .1 .2-2.1 .2 .1 .2 2.3 .2-1.5 .2 .9 .2-1.5 .2 .9 .2 .6 .2 1 .2 .6 .2-2.4 .2 1.7 .2-1.3 .2-.1 .2 .1 .2 .1 .2-1 .2 1.3 .2-.9 .2 1.1 .2 1.5 .2-3.1 .2 2.3 .2-2.4 .2 .6 .2 1.2 .2-.3 .2 .8 .2 .4 .2-1.1 .2 0 .2 1.1 .2 0 .2 1 .2-3.2 .2 2.6 .2-.4 .2-.7 .2-.4 .2 0 .2-.1 .2 1.8 .2-1.5 .2-.4 .2 0 .2 .2 .2 0 .2-.7 .2-.2 .2-.5 .2 .7 .2 0 .2-.3 .2 .3 .2 1.3 .2-.3 .2-.4 .2 .8 .2-.8 .2 .9 .2-.8 .2 1.3 .2-.5 .2-.5 .2-.5 .2 1.2 .2 .2 .2-1 .2 .7 .2-.3 .2 .6 .2-1.4 .2 .9 .2 1.3 .2-.8 .2-.9 .2 1.2 .2-1.5 .2 1.1 .2-.3 .2-.5 .2 .7 .2 1.4 .2-2.5 .2-.2 .2 1.9 .2-1.9 .2 .4 .2-.2 .2-.3 .2 .9 .2-1.3 .2-.1 .2 .5 .2 .5 .2 .7 .2-1 .2 .9 .2 .5 .2-.4 .2 .5 .2-.7 .2-1.1 .2 1.9 .2-1.4 .2 1.3 .2-1 .2-.1 .2 .9 .2-.8 .2 1.1 .2-.2 .2 0 .2 1.2 .2-.6 .2-.9 .2 .7 .2-.3 .2-.5 .2-.8 .2 .4 .2 1.9 .2-1.6 .2 .1 .2 .6 .2-2 .2 1.3 .2-2.5 .2 1 .2-.7 .2 1.8 .2 .2 .2-.5 .2 .2 .2 2.1 .2-1.4 .2-.1 .2-1.1 .2 .1 .2 .8 .2-.3 .2 .2 .2 0 .2-1 .2 1.6 .2-.1 .2 .2 .2 0 .2 .8 .2-1.6 .2 .5 .2 .9 .2-1.2 .2 1.3 .2-1.2 .2 .1 .2-.5 .2 .7 .2 1.6 .2-.2 .2-1.3 .2 .3 .2 .4 .2-1.8 .2 .4 .2 0 .2-1.3 .2 .6 .2 .1 .2 .1 .2 .1 .2-1.3 .2 2 .2-.4 .2 .9 .2 .4 .2-.3 .2 1.7 .2-2.4 .2 1.3 .2 .1 .2 .8 .2-1.3 .2 .4 .2-.4 .2 1.2 .2-1.7 .2-.5 .2 .3 .2 .6 .2 .6 .2-2.6 .2 .5 .2 1.9 .2-1.4 .2-.2 .2 .2 .2-.2 .2 0 .2 .9 .2-.4 .2 1.8 .2-2.7 .2 2 .2-1 .2 1.6 .2-2 .2 .9 .2 .7 .2-.9 .2-1 .2 .3 .2 .2 .2 .9 .2-.9 .2 .4 .2-1.2 .2 .8 .2 .7 .2-1.2 .2-.2 .2 .1 .2 1.1 .2-.3 .2 0 .2-.7 .2-.7 .2 1.9 .2-1.1 .2 .9 .2-.3 .2-.7 .2-.1 .2 1.6 .2-1.9 .2 .2 .2 2.7 .2-1.6 .2 .6 .2 .6 .2 .6 .2-2.3 .2 .5 .2 .6 .2-.7 .2-.6 .2 1.2 .2-1.8 .2 2 .2-.7 .2 0 .2-.5 .2 .2 .2 .7 .2-.7 .2 .5 .2-.5 .2-.8 .2 .1 .2 .4 .2-.2 .2 1.4 .2-1.6 .2 2.1 .2-1.8 .2-.2 .2 .5 .2-1 .2 1.9 .2-.1 .2-.1 .2 .4 .2-.1 .2-1.9 .2 1.9 .2-.9 .2 1.1 .2-.9 .2-.3 .2-.5 .2 1 .2 .3 .2-1.6 .2 1 .2 .1 .2-.4 .2-.1 .2 1 .2 .1 .2-.4 .2-.1 .2 0 .2-1.1 .2 .2 .2-.1 .2-.8 .2 1.1 .2 .7 .2 .1 .2-1.5 .2-.1 .2-.1 .2 1.1 .2-.5 .2 .9 .2-1.5 .2 .8 .2-.6 .2 .6 .2-.4 .2-1.1 .2 1.9 .2-.4 .2 .2 .2 .1 .2-.5 .2 .8 .2 .6 .2 .6 .2-1.1 .2-.5 .2 1.1 .2-1.1 .2-.1 .2 0 .2 .3 .2-1.3 .2 .8 .2-.2 .2-.3 .2 1.4 .2-2.3 .2 1 .2 .2 .2 .1 .2 1 .2-2.2 .2 1.3 .2-.2 .2-.2 .2 .5 .2 .7 .2-.5 .2 1.5 .2-2.4 .2 1.2 .2-.1 .2-.3 .2 .3 .2-.7 .2 .4 .2-.6 .2-.2 .2-.3 .2 .2 .2 .7 .2-.9 .2 .8 .2-.7 .2 .1 .2 .9 .2-1.8 .2 .6 .2 .5 .2-.3 .2-.3 .2 .5 .2-1.3 .2 .3 .2 1.2 .2-1.9 .2 1.3 .2 .1 .2 0 .2 .1 .2-.8 .2 .5 .2-.3 .2 .1 .2-.4 .2 1 .2-.7 .2 .7 .2-.7 .2-.2 .2 .3 .2 .5 .2-1.3 .2-.4 .2 0 .2 1.3 .2-.9 .2-.2 .2 .1 .2 .4 .2-.8 .2-.2 .2 .3 .2 .9 .2-.6 .2 .5 .2 .2 .2-1 .2-.5 .2-.5 .2 .4 .2-.5 .2 .8 .2-1 .2 1 .2-.4 .2 .9 .2-1.3 .2 .7 .2 .4 .2-1.7 .2 1.2 .2-.7 .2-.3 .2-.6 .2 1 .2-.5 .2 .2 .2 .8 .2-1.9 .2 2.2 .2 1.1 .2-1.5 .2-.2 .2 .1 .2 .6 .2 .8 .2-2.3 .2-1 .2 1.5 .2-.4 .2-.3 .2-.1 .2-1.5 .2 1.6 .2-.7 .2 .7 .2-.5 .2-.2 .2-.6 .2 2.1 .2-1 .2 .3 .2 .8 .2-.7 .2-.1 .2-1.6 .2 2.2 .2-.2 .2-1.5 .2-.4 .2 1 .2-.6 .2 .9 .2-1.9 .2 .7 .2 .4 .2-.2 .2-1.1 .2-.2 .2 .5 .2 1.7 .2-1.9 .2 .2 .2 .9 .2-.2 .2 .6 .2-1.3 .2 0 .2 1 .2-.8 .2 .1 .2-.7 .2 0 .2-.1 .2-.1 .2-.2 .2 .1 .2-.1 .2 .8 .2 .5 .2-1.4 .2 1.3 .2-.7 .2-1.7 .2 1.6 .2-1.1 .2 1.6 .2-1.1 .2 1.4 .2-.1 .2-1.3 .2-.3 .2 1.3 .2-1.3 .2 .5 .2 .7 .2-.8 .2 .5 .2 .7 .2-1.1 .2 .1 .2-1.2 .2-1.8 .2-.8 .2-4.8 .2-8.6 .2-13.5 .2-17.7 .2-18.8 .2-14.7 .2-5.6 .2 5.7 .2 14.9 .2 18.9 .2 17.8 .2 13.5 .2 8.8 .2 4.4 .2 2.4 .2 1.8 .2 1 .2-1.1 .2 .7 .2-.7 .2-.3 .2 .7 .2 .3 .2 .1 .2-.2 .2 .6 .2 .6 .2-1.1 .2 .6 .2 0 .2 .3 .2-.2 .2 .4 .2-.4 .2-.6 .2 .3 .2 .7 .2-.2 .2 .2 .2 .4 .2 0 .2-.3 .2 .4 .2 .9 .2-1.8 .2 .3 .2-.3 .2 1.5 .2 0 .2-1.3 .2 1.3 .2-1.1 .2 1.2 .2-.1 .2 .2 .2-1 .2 1.3 .2 .1 .2 .8 .2-.7 .2 0 .2-.3 .2 .8 .2 .2 .2-.1 .2 .1 .2-.8 .2-.8 .2 .9 .2 .9 .2-.1 .2-1.1 .2 1.9 .2-.3 .2-.3 .2-1 .2 1 .2 .2 .2 .8 .2-1.8 .2 .1 .2 .9 .2 0 .2-.1 .2-.9 .2 0 .2 .6 .2 .1 .2 .3 .2-1 .2-.5 .2 1.7 .2-.6 .2 .1 .2 .8 .2-1.4 .2 1 .2-.1 .2 .6 .2-.3 .2 .5 .2-1.2 .2 .6 .2-.3 .2 1.2 .2 .1 .2-.9 .2 .3 .2-.6 .2-.3 .2 1.2 .2-.9 .2 .9 .2 .5 .2-2.2 .2 1.1 .2-.5 .2 .5 .2-1.7 .2 2 .2-.7 .2 1 .2 .3 .2 .4 .2-.4 .2 .3 .2-.4 .2-.7 .2 .5 .2 0 .2 0 .2 .2 .2 0 .2 .5 .2 .5 .2-1.8 .2 .7 .2 .2 .2-.3 .2 .6 .2-1.7 .2 1.9 .2-.5 .2-1 .2 1.1 .2 1.4 .2-1.2 .2 1.4 .2 .2 .2-1.1 .2-.4 .2 .6 .2 .4 .2 0 .2-1 .2-.9 .2 1.4 .2-2.2 .2 .9 .2 .1 .2 .2 .2-.7 .2 .4 .2 .4 .2-.5 .2-.5 .2 1.1 .2-.3 .2-.5 .2 .3 .2 1.8 .2-1 .2 .6 .2-.4 .2 .4 .2 .3 .2-.2 .2 .8 .2 .1 .2-.3 .2-1 .2-.4 .2-1 .2 1.8 .2-.8 .2-.5 .2 .2 .2 1.3 .2-.5 .2 .7 .2-.3 .2 .5 .2-.5 .2-1.5 .2 2.3 .2-1.6 .2 1.8 .2-.8 .2-.6 .2 0 .2-.3 .2 .5 .2-.1 .2-1.2 .2-.4 .2 2 .2-.6 .2-.9 .2 1.5 .2 .2 .2-.4 .2 .1 .2-.6 .2-1 .2 2 .2-.9 .2 1.8 .2-1.4 .2 .6 .2-.8 .2-.5 .2 .5 .2 1.5 .2-1.3 .2-1.2 .2 1.9 .2 .3 .2-1.1 .2 .7 .2 .1 .2-.4 .2 .6 .2-1 .2 1.3 .2 .3 .2-1.2 .2 .9 .2 0 .2-.1 .2 .5 .2-1 .2-.4 .2 1 .2-.1 .2-1.6 .2 1.4 .2-.5 .2 .2 .2 .3 .2 .9 .2-.6 .2-.7 .2 .1 .2 .5 .2 .1 .2 1.1 .2-2 .2 .3 .2 1 .2-.8 .2 .4 .2-1 .2 0 .2 1.5 .2-1.1 .2 1.1 .2-.8 .2 .4 .2 .5 .2-1.3 .2 0 .2 1.1 .2-.7 .2-.1 .2 .6 .2-1.1 .2 .6 .2-.7 .2 .1 .2 1.3 .2 .4 .2-.5 .2-.9 .2 .9 .2 .4 .2-.2 .2 .7 .2-1.2 .2 .7 .2-.4 .2 .2 .2-.2 .2 .5 .2-1.1 .2 .4 .2 .3 .2 .3 .2 0 .2-.6 .2 .5 .2 .1 .2-.8 .2 1.4 .2-.2 .2-1 .2 .2 .2-.2 .2 .3 .2 .4 .2-.1 .2-.4 .2 .4 .2 .3 .2-.3 .2-.2 .2-.7 .2 0 .2 1.3 .2-.9 .2-.4 .2 1.1 .2 .4 .2-1.9 .2 1.7 .2-1.7 .2 .9 .2-.7 .2-.5 .2-.3 .2 0 .2-.1 .2 .6 .2 1 .2-.6 .2 1.4 .2-1.1 .2-.2 .2 .5 .2 1 .2-1.4 .2 .4 .2 .6 .2-.9 .2 .5 .2-.4 .2 .1 .2 .1 .2 0 .2 .6 .2-1.4 .2 .2 .2 .4 .2-.7 .2 .2 .2-.3 .2 .6 .2-.9 .2 .9 .2-.2 .2 1.1 .2-1.5 .2 0 .2 .1 .2 .3 .2 .2 .2 .9 .2-.8 .2 .4 .2 .1 .2 .5 .2-1.1 .2 .4 .2 .5 .2 .8 .2-1.2 .2-.1 .2 .7 .2-.5 .2-.2 .2 1 .2-1.5 .2 .8 .2 .8 .2-1.3 .2 1.7 .2-.9 .2-.2 .2 .6 .2-.8 .2-1.5 .2 1.4 .2-.2 .2-.7 .2 1.3 .2-.6 .2-.2 .2 1.9 .2-.6 .2 .2 .2 .2 .2-1.8 .2 1.8 .2-1.7 .2 0 .2 .8 .2-.5 .2 1.2 .2-1.3 .2 .6 .2-.4 .2-.4 .2 .3 .2-.1 .2 .4 .2-.1 .2 .6 .2-.6 .2 .3 .2 .8 .2-.7 .2 .9 .2-1.3 .2 0 .2 .1 .2 .2 .2-.2 .2-.4 .2-.1 .2-.1 .2 .2 .2-.8 .2 .1 .2 .1 .2 1.6 .2-.6 .2 .6 .2-.6 .2 .4 .2-.7 .2-.7 .2 .8 .2-.2 .2-.2 .2-.5 .2 1.1 .2 0 .2-.2 .2 .3 .2-1 .2 .8 .2-.3 .2-.2 .2 .4 .2-.4 .2 .4 .2 .3 .2-1 .2 1.9 .2-.3 .2-.1 .2 .5 .2-.6 .2 0 .2 .6 .2-1.1 .2-.4 .2 1.3 .2-.6 .2 .7 .2-.2 .2-.8 .2 .3 .2-.7 .2 .6 .2-.1 .2 .5 .2 .7 .2-.8 .2-.3 .2 .3 .2 0 .2-.2 .2 .5 .2-.7 .2 .2 .2 .6 .2 .3 .2-.2 .2-.5 .2 .7 .2-.5 .2 .8 .2-.8 .2-.3 .2-.7 .2 1.4 .2-.2 .2 .2 .2-1 .2-.3 .2 1.3 .2-.7 .2-1.3 .2 1.5 .2-1 .2 1.4 .2-.1 .2-1.6 .2 1.3 .2-.1 .2 .4 .2-.9 .2-.1 .2 1.3 .2-1.6 .2 .9 .2 .3 .2 .1 .2-.2 .2 1 .2-.6 .2-.8 .2 0 .2-.4 .2 .4 .2 1 .2-.9 .2-.5 .2-.7 .2-.6 .2 1.1 .2-.4 .2 .6 .2-.8 .2 1 .2-.5 .2-.1 .2 .6 .2-.3 .2 .3 .2-.4 .2 .7 .2-1.3 .2 .8 .2 .3 .2 .1 .2-.1 .2 .4 .2-.5 .2 1.2 .2-1.3 .2-.7 .2 0 .2 .1 .2 1 .2-1.1 .2 0 .2 1.1 .2-1.4 .2 1 .2 .4 .2 .2 .2-.4 .2-.9 .2 .3 .2 1.3 .2 .2 .2-1 .2 .7 .2-.1 .2-.5 .2 .7 .2-1.1 .2 .8 .2-.1 .2-.4 .2-.2 .2 1.2 .2-1.2 .2 .1 .2-.1 .2 .7 .2 .2 .2-.3 .2 1.1 .2-.6 .2 .1 .2-1.2 .2 .4 .2 .8 .2-.3 .2-.4 .2 .4 .2-.2 .2-.1 .2 .2 .2 .2 .2-.4 .2 1.3 .2 .3 .2-1 .2-.1 .2 1.1 .2-.9 .2 0 .2-.1 .2-.3 .2-.3 .2 .6 .2-1.2 .2 1.2 .2 .1 .2-1 .2-.3 .2 1.2 .2-1.2 .2-.1 .2 .9 .2-1 .2-.3 .2 1.2 .2-.2 .2-.1 .2 0 .2 0 .2 .1 .2-1.1 .2 1.6 .2-.6 .2 0 .2 0 .2 .6 .2-.2 .2 .9 .2-2.3 .2 1.5 .2 0 .2-1.7 .2 1.5 .2-.3 .2 .1 .2 .1 .2 .3 .2-.3 .2-.2 .2 .8 .2-.7 .2 .2 .2 .6 .2-2.1 .2 .2 .2 0 .2 .4 .2 1 .2-.5 .2 .5 .2 .5 .2-1.9 .2 .9 .2-.1 .2 .6 .2-.8 .2 1.4 .2-1.1 .2-.1 .2-.2 .2-.2 .2 .5 .2-.4 .2 .3 .2-.5 .2 .5 .2-.1 .2 .5 .2-.1 .2-.5 .2 1 .2-.9 .2-.1 .2 1 .2-1.1 .2 .4 .2-.4 .2 .1 .2 .9 .2-.6 .2 1.3 .2-.2 .2-.7 .2-.6 .2 .2 .2-.2 .2 .7 .2-1.7 .2 .9 .2 .1 .2 .2 .2 .1 .2-.4 .2 .5 .2-.8 .2 1.2 .2-.3 .2-.2 .2 .6 .2-1 .2-.5 .2 1.1 .2-.3 .2-.2 .2-.2 .2 .5 .2 .3 .2-.9 .2-.3 .2 1.1 .2-.9 .2 1.2 .2 .1 .2-1 .2 1.5 .2-1.2 .2 .1 .2 .1 .2 .3 .2 .2 .2-.3 .2-.6 .2 0 .2-.7 .2 .2 .2 .6 .2-.1 .2-.3 .2 .4 .2-.5 .2 .3 .2 .1 .2 .5 .2 0 .2-.9 .2 .4 .2-.6 .2 1.9 .2-1.9 .2 1 .2-.7 .2 .9 .2 .1 .2 .2 .2-.5 .2 .6 .2-.7 .2-.2 .2 0 .2-.1 .2 1.1 .2-.4 .2-.2 .2-1.3 .2 1 .2 .4 .2-1.2 .2 1.4 .2-1 .2 .6 .2 .1 .2-.1 .2 0 .2 .2 .2 .2 .2 0 .2-.2 .2-.6 .2-1.1 .2 .4 .2 .4 .2 .7 .2 .4 .2-.6 .2 0 .2 .4 .2 .1 .2 .3 .2 0 .2-.4 .2-1 .2 .9 .2-.8 .2 1.1 .2 1.2 .2-.4 .2-.4 .2 .9 .2-1.7 .2 .6 .2 0 .2-.8 .2 0 .2 .5 .2-.2 .2-.4 .2 .3 .2 .4 .2-.4 .2-.2 .2 .5 .2-.3 .2 0 .2-.7 .2 .5 .2-.2 .2-.6 .2 1.5 .2-.7 .2 0 .2 .3 .2 .3 .2-.2 .2-.8 .2 .4 .2-.5 .2 .2 .2 .4 .2 .4 .2-1.1 .2 .9 .2-.2 .2-.7 .2 1.5 .2-1.1 .2 .6 .2-.6 .2 .2 .2 .3 .2-.4 .2 .1 .2 .6 .2 0 .2 .5 .2-.9 .2-1 .2 .1 .2 .8 .2-.8 .2-.3 .2 1.1 .2-1.3 .2 .1 .2 .9 .2 .6 .2-.1 .2-.8 .2 1 .2-.8 .2 .7 .2-1.2 .2 .5 .2 .7 .2-.3 .2 .2 .2-1.2 .2 1.6 .2-.2 .2 .5 .2-1.3 .2 .6 .2-.3 .2-.5 .2 .1 .2-.5 .2-.1 .2-.8 .2-.6 .2-1.2 .2-1.1 .2-1.2 .2-1.6 .2-1.5 .2-1.2 .2-1 .2-.4 .2 0 .2 .7 .2 .8 .2 .7 .2 .9 .2 .6 .2 1.1 .2 1.2 .2 .7 .2 .5 .2 1.4 .2 .7 .2 1.1 .2 .9 .2-.3 .2 .4 .2 .3 .2-.8 .2 .3 .2-.6 .2 .8 .2 .3 .2-.1 .2 .1 .2-.6 .2 .1 .2 1 .2-.3 .2-.4 .2 .5 .2-.6 .2 0 .2 .7 .2-.1 .2 .3 .2 .9 .2-.7 .2-.1 .2 .9 .2-1.3 .2 .2 .2-.2 .2 .1 .2 .9 .2-1.9 .2 1.4 .2-1.1 .2-.1 .2 .6 .2 0 .2-.2 .2-.4 .2 .6 .2-1 .2 .8 .2 .6 .2-1.5 .2 .7 .2 0 .2-.7 .2 .8 .2 .6 .2 0 .2 0 .2-.6 .2 .2 .2-.4 .2 .8 .2-.9 .2-.2 .2 .2 .2 1 .2-1.5 .2 1 .2 0 .2-.6 .2 .3 .2-.7 .2 .9 .2 .1 .2-.4 .2 .4 .2 0 .2 .2 .2 0 .2 0 .2-.6 .2 .2 .2 .1 .2 .4 .2-.7 .2-.1 .2 0 .2 .2 .2-.7 .2 .2 .2 .7 .2 .6 .2-.3 .2-.8 .2 .9 .2-.4 .2-.3 .2 .8 .2-.2 .2 0 .2-.2 .2 .2 .2-.6 .2 .1 .2-.1 .2 .8 .2-.1 .2 .2 .2-.5 .2 0 .2 .1 .2-.1 .2-.1 .2 .7 .2-.5 .2-1 .2 .8 .2 .4 .2 0 .2-.1 .2-.2 .2 .7 .2-1 .2 .6 .2 .1 .2 0 .2 .5 .2-1.3 .2 .1 .2 .4 .2 .1 .2 0 .2-.6 .2 .1 .2 .8 .2-.4 .2 0 .2 0 .2 .5 .2-.8 .2 .2 .2-.7 .2 .7 .2 .4 .2 .2 .2-.5 .2-.3 .2 .2 .2-.5 .2 .3 .2 .4 .2 .2 .2 .4 .2-.5 .2-.4 .2 .4 .2-.2 .2 .6 .2 0 .2-1.2 .2 .5 .2 .9 .2-.5 .2-.7 .2-.9 .2 1.3 .2-.1 .2-.1 .2 .5 .2-.2 .2 .2 .2-.3 .2 .1 .2 .2 .2-.3 .2-.4 .2-.1 .2 .6 .2-.6 .2-.1 .2 0 .2 .5 .2-1.1 .2 0 .2 1.1 .2-.1 .2 .8 .2-.7 .2-.4 .2 .6 .2 0 .2 0 .2-.1 .2 .7 .2-1 .2 .2 .2-.2 .2-.7 .2 .1 .2 .1 .2 .2 .2-.3 .2 1.1 .2-.6 .2-.3 .2 .1 .2 .4 .2-.3 .2-.1 .2-.1 .2 .5 .2 .7 .2-1.6 .2 .7 .2 .1 .2-.4 .2 1.2 .2-.8 .2-.8 .2 .8 .2-.6 .2 .9 .2-.3 .2 .5 .2-.8 .2 .5 .2 .5 .2-.9 .2-.3 .2 .2 .2 .2 .2-.2 .2 .3 .2 .4 .2-.7 .2-.3 .2 .3 .2-.3 .2 .3 .2 .1 .2-.6 .2 .7 .2-.1 .2-.6 .2 .5 .2-.5 .2 .8 .2-.4 .2 .2 .2 .4 .2-.3 .2-.2 .2 .1 .2-.2 .2 .3 .2 .7 .2-.9 .2 .2 .2 .1 .2 .1 .2 .1 .2-.6 .2 .3 .2 .3 .2 .2 .2 .2 .2-.1 .2-.2 .2-.4 .2-.2 .2-.1 .2 .7 .2 .2 .2-.9 .2-.2 .2 .4 .2 .2 .2-.3 .2 .2 .2 .3 .2-.2 .2-.3 .2-.4 .2 .4 .2 .5 .2-1.1 .2 1.3 .2-.4 .2 .6 .2-.7 .2 0 .2-.2 .2 .6 .2-.1 .2-.2 .2 0 .2 0 .2-.6 .2 .6 .2-1 .2 .4 .2 .3 .2-.2 .2 .2 .2-.7 .2 .5 .2 .1 .2-.5 .2 .8 .2-.5 .2 .2 .2 0 .2 .7 .2-.3 .2 .6 .2 .1 .2-.4 .2 .4 .2 .4 .2-1.2 .2-.1 .2 1.3 .2-1.1 .2 1.2 .2-.6 .2-1.2 .2 1 .2-.4 .2 0 .2 .3 .2-.6 .2 .2 .2 .2 .2-.7 .2 .6 .2 .2 .2 0 .2 0 .2 0 .2-.7 .2 .4 .2-.4 .2 .9 .2 .1 .2-.3 .2-.9 .2 .5 .2 .4 .2-.1 .2 .1 .2 .1 .2-.7 .2 .5 .2 0 .2-.5 .2 .2 .2 .2 .2 .8 .2-.3 .2-.4 .2 0 .2-.7 .2 .6 .2 .3 .2-.5 .2 .3 .2 .3 .2-.5 .2-.4 .2 .5 .2 .1 .2 .9 .2-.9 .2 0 .2 .4 .2-.6 .2 .1 .2 .1 .2 0 .2 .1 .2-.1 .2-.9 .2 1.1 .2-.6 .2 .5 .2-.2 .2 .2 .2 .3 .2-.4 .2-.1 .2 .3 .2-.2 .2 .7 .2-.8 .2-.2 .2 .9 .2-1 .2 .5 .2-.5 .2 .5 .2 .4 .2 0 .2-.6 .2 .3 .2 .3 .2-.4 .2 .6 .2-.1 .2 .1 .2-.6 .2 .1 .2-.6 .2 .1 .2 .5 .2-.4 .2 .2 .2-.3 .2 .1 .2-.1 .2 .5 .2-.4 .2 .3 .2 .2 .2-.4 .2 0 .2 .8 .2-.7 .2 .4 .2-.1 .2-.2 .2-.1 .2-.7 .2 .8 .2-.5 .2-.2 .2 .4 .2 .4 .2-.2 .2 0 .2 0 .2 .1 .2-.6 .2 0 .2 .6 .2 .4 .2-.3 .2-.3 .2 .1 .2 .1 .2-.1 .2-.2 .2 1 .2-.6 .2-.7 .2 .6 .2 .1 .2 .2 .2-.7 .2-.2 .2 1.6 .2-1.2 .2 0 .2 .5 .2 .3 .2-.1 .2-.7 .2 .3 .2-.3 .2 .3 .2-.2 .2 1.1 .2-.4 .2-.5 .2 0 .2 .5 .2-.8 .2 .1 .2 0 .2 .2 .2 .7 .2-.9 .2-.2 .2 0 .2 .1 .2-.3 .2 0 .2 .2 .2 .5 .2-.1 .2-.2 .2 .2 .2-.1 .2-.1 .2-.3 .2 .6 .2-.4 .2-.1 .2-.1 .2 .2 .2 0 .2-.4 .2 .3 .2-.2 .2-.4 .2 .3 .2 1.3 .2-1.5 .2 .5 .2 .3 .2-.4 .2 0 .2-.3 .2 .1 .2 0 .2-.1 .2 .4 .2 .3 .2 .1 .2 .3 .2-.4 .2 .5 .2-.7 .2-.5 .2-.2 .2 .5 .2 .1 .2 0 .2-.3 .2 .5 .2-.4 .2 0 .2 .1 .2 .2 .2 .2 .2-.7 .2-.1 .2 .7 .2-.6 .2 .5 .2-.2 .2-.1 .2 .3 .2-.4 .2 .3 .2 .1 .2 .2 .2-.7 .2 .4 .2 .6 .2-.3 .2 .2 .2 .1 .2-.8 .2 .2 .2 .4 .2-.3 .2-.6 .2 .5 .2-.1 .2-.4 .2 .1 .2 .4 .2-.1 .2-.6 .2 0 .2 .3 .2 .2 .2-.1 .2-.2 .2 .4 .2-.9 .2 .4 .2 .3 .2 0 .2-.1 .2 .2 .2 0 .2-.2 .2 .7 .2-.6 .2 .7 .2-1.4 .2 .9 .2-.8 .2-.1 .2 .2 .2-.4 .2 .6 .2 .1 .2-.4 .2 .2 .2 .2 .2-.4 .2 .5 .2-.7 .2 .9 .2-.7 .2-.5 .2 .8 .2-.2 .2-.5 .2 1.2 .2-.7 .2 .4 .2 .6 .2-1 .2 0 .2 .4 .2-.9 .2 1.1 .2-.7 .2 .7 .2-.1 .2-.8 .2 0 .2 .9 .2-.8 .2 .5 .2 .2 .2 .2 .2-.3 .2-.3 .2 .6 .2-.1 .2 .2 .2-.7 .2 .9 .2-.3 .2-.4 .2 .4 .2-.3 .2-.7 .2 .4 .2 .3 .2-.1 .2-.1 .2-.3 .2-.1 .2 .2 .2 .3 .2-.1 .2 .1 .2-.3 .2 0 .2-.1 .2 0 .2-.1 .2 .2 .2-.2 .2 .7 .2-.8 .2 0 .2 .4 .2 .5 .2-.7 .2-.3 .2 .7 .2-.6 .2 .3 .2 0 .2-.3 .2 .6 .2-.1 .2-.2 .2 .1 .2-.5 .2 .3 .2 .3 .2 .1 .2-.8 .2 .9 .2-.5 .2-.3 .2 1 .2 .1 .2-.7 .2 .6 .2-.3 .2 .2 .2 .3 .2-.3 .2-.4 .2-.6 .2 .1 .2 .1 .2-.2 .2 .4 .2 .1 .2 .4 .2-.2 .2-.8 .2 1.2 .2-.8 .2-.1 .2-.5 .2 .7 .2 .7 .2-.8 .2 .2 .2 0 .2 .2 .2-.6 .2 0 .2 .5 .2 .2 .2-.6 .2 .4 .2 .2 .2-.2 .2-.3 .2 .8 .2-.2 .2-.3 .2-.3 .2-.4 .2 .3 .2 .2 .2-.4 .2 .7 .2-.7 .2 .9 .2-.7 .2-.2 .2 .1 .2 .2 .2 .1 .2-.9 .2 .5 .2-.4 .2-.4 .2 .1 .2 .7 .2-1.2 .2-.5 .2-1.5 .2-2.6 .2-4.5 .2-4.9 .2-5.2 .2-4.1 .2-1.6 .2 1.2 .2 3.6 .2 4.4 .2 4.1 .2 2.8 .2 1.4 .2-.4 .2-.7 .2-1.2 .2-.9 .2-.2 .2 .4 .2 1.1 .2 1.8 .2 1.8 .2 2.4 .2 1.8 .2 .8 .2 1.3 .2 .2 .2 .9 .2 .2 .2 1 .2-.5 .2-.1 .2 .3 .2-.5 .2 .4 .2-.5 .2 .1 .2 1 .2-1.4 .2 1 .2-.4 .2 .6 .2-.6 .2 .3 .2-.6 .2 .8 .2-.6 .2-.2 .2-.2 .2 .2 .2 .9 .2-.6 .2 0 .2 .6 .2-.1 .2 .2 .2-.1 .2 .8 .2-1 .2 .2 .2 .1 .2 .3 .2 .3 .2-.6 .2 .3 .2-.2 .2 .5 .2-.9 .2 .6 .2-.5 .2 0 .2 .1 .2 .1 .2-.6 .2 .2 .2-.3 .2-.4 .2 1.4 .2-.7 .2-.1 .2-.2 .2 .2 .2 .2 .2 .3 .2-.3 .2 0 .2-.3 .2 .2 .2 .2 .2-.7 .2 .5 .2 .1 .2 .5 .2-1.2 .2 .1 .2 .7 .2-1 .2 1.5 .2-.6 .2 .3 .2 0 .2-.8 .2 .8 .2-.6 .2 .2 .2 .1 .2 0 .2 .2 .2-.3 .2 .3 .2-.3 .2-.3 .2 .4 .2-.3 .2 .4 .2-.3 .2 .1 .2 .4 .2-.9 .2 .8 .2-.3 .2 .4 .2-.1 .2-.5 .2 .5 .2 .3 .2-.7 .2 .4 .2 .4 .2-1.4 .2 .5 .2 .7 .2-.6 .2 0 .2-.3 .2-.3 .2 1 .2 .1 .2 .2 .2-.2 .2-.4 .2-.3 .2 .7 .2 .4 .2-.3 .2 0 .2 .4 .2-.8 .2 .1 .2 .4 .2-.5 .2-.1 .2 .1 .2 .4 .2-.4 .2 .1 .2 .2 .2-.4 .2 .1 .2 .2 .2 0 .2-.4 .2 .1 .2 .4 .2-.4 .2 .1 .2 0 .2-.1 .2 .5 .2-.2 .2-.4 .2 1.1 .2-.7 .2 .1 .2 0 .2-.4 .2-.2 .2 0 .2 .1 .2 .4 .2-.3 .2 .3 .2-.9 .2 .3 .2 .4 .2-.5 .2 .6 .2-.3 .2-.1 .2-.2 .2 .3 .2-.4 .2 .8 .2-.2 .2-.2 .2-.2 .2 .5 .2-.4 .2 .6 .2-.1 .2-.4 .2 .2 .2 .7 .2-.3 .2 .2 .2-.5 .2 .4 .2-.7 .2 .5 .2 0 .2-.5 .2 .2 .2-.2 .2 .1 .2 .2 .2 .1 .2 0 .2 .1 .2-.5 .2-.2 .2 .5 .2-.8 .2 .1 .2 .1 .2 .7 .2 0 .2 .6 .2-.8 .2 0 .2 .1 .2-.4 .2 .7 .2-.6 .2 .1 .2 .3 .2-.2 .2 .4 .2 .1 .2 0 .2-.3 .2-.3 .2 .2 .2-.4 .2-.1 .2-.1 .2 .8 .2-.7 .2 .8 .2-.4 .2-.1 .2 .1 .2 .5 .2-.9 .2 .6 .2-.3 .2-.2 .2-.3 .2 .4 .2-.1 .2 .2 .2 .2 .2-.2 .2-.2 .2 .6 .2-.7 .2 .3 .2 .1 .2 .4 .2 0 .2-.1 .2 .2 .2-.1 .2-.4 .2 .5 .2-.5 .2-.1 .2 .4 .2-.4 .2 .2 .2 .7 .2-.3 .2-.4 .2 0 .2 .6 .2-.2 .2-.3 .2 .5 .2-.7 .2 .8 .2-.1 .2 0 .2-1 .2 .5 .2 .4 .2-.4 .2-.2 .2 .5 .2-.8 .2 .4 .2 .2 .2-.3 .2 .2 .2 .3 .2-.1 .2-.3 .2-.3 .2-.2 .2 .2 .2 .1 .2-.1 .2 1 .2-.8 .2 .1 .2 .2 .2-.6 .2 .2 .2 .4 .2-.4 .2 .5 .2-.5 .2 .3 .2 .3 .2-.1 .2-.2 .2 0 .2 .1 .2-.3 .2-.2 .2 .6 .2 0 .2-.3 .2-.2 .2-.3 .2 .2 .2 .1 .2 .2 .2 .2 .2-.3 .2 .1 .2-.5 .2 .4 .2 .3"/>
<path class="c" stroke="#37AD6B" stroke-width="0.9" d="M364.55 193V222"/>
<path fill="#CC9900" stroke="none" d="M67.8 153.3L68.8 152.7L69.8 153.8L70.8 153.8L71.8 153.3L72.8 153.0L73.8 152.8L74.8 153.7L75.8 153.2L76.8 152.9L77.8 152.0L78.8 152.5L79.8 153.8L80.8 152.7L81.8 153.6L82.8 153.7L83.8 153.0L84.8 153.3L85.8 152.7L86.8 152.9L87.8 152.6L88.8 153.1L89.8 152.4L90.8 152.7L91.8 153.4L92.8 153.7L93.8 153.3L94.8 152.5L95.8 153.6L96.8 152.3L97.8 151.0L98.8 151.1L99.8 152.2L100.8 152.1L101.8 152.0L102.8 153.0L103.8 152.1L104.8 152.5L105.8 151.2L106.8 150.6L107.8 152.0L108.8 151.4L109.8 151.0L110.8 151.6L111.8 151.1L112.8 151.2L113.8 151.8L114.8 151.5L115.8 150.7L116.8 150.3L117.8 151.2L118.8 149.6L119.8 148.9L120.8 150.4L121.8 150.6L122.8 149.7L123.8 150.4L124.8 149.8L125.8 149.8L126.8 150.3L127.8 149.7L128.8 149.1L129.8 149.5L130.8 150.1L131.8 149.1L132.8 148.9L133.8 147.8L134.8 146.8L135.8 147.1L136.8 148.7L137.8 147.8L138.8 148.0L139.8 147.8L140.8 147.0L141.8 147.7L142.8 148.2L143.8 148.6L144.8 147.6L145.8 146.1L146.8 147.3L147.8 145.9L148.8 146.5L149.8 146.1L150.8 145.9L151.8 146.1L152.8 144.7L153.8 145.0L154.8 145.4L155.8 143.1L156.8 144.2L157.8 144.3L158.8 144.2L159.8 142.9L160.8 143.0L161.8 142.7L162.8 141.7L163.8 142.6L164.8 142.9L165.8 142.2L166.8 141.7L167.8 141.1L168.8 141.7L169.8 141.7L170.8 140.2L171.8 140.2L172.8 139.8L173.8 141.5L174.8 142.1L175.8 141.3L176.8 141.3L177.8 141.2L178.8 140.7L179.8 141.8L180.8 141.6L181.8 140.0L182.8 140.3L183.8 142.3L184.8 143.1L185.8 143.0L186.8 143.2L187.8 142.0L188.8 143.0L189.8 145.0L190.8 145.0L191.8 141.9L192.8 141.6L193.8 142.4L194.8 143.5L195.8 142.7L196.8 141.3L197.8 142.0L198.8 142.2L199.8 142.0L200.8 142.5L201.8 141.2L202.8 140.7L203.8 142.6L204.8 141.6L205.8 141.4L206.8 142.2L207.8 144.0L208.8 145.1L209.8 145.7L210.8 150.1L211.8 150.3L212.8 149.8L213.8 151.3L214.8 151.6L215.8 152.2L216.8 152.7L217.8 152.3L218.8 154.1L219.8 155.0L220.8 155.3L221.8 155.2L222.8 156.4L223.8 156.0L224.8 155.1L225.8 156.3L226.8 157.2L227.8 158.5L228.8 158.7L229.8 158.5L230.8 158.3L231.8 158.7L232.8 159.8L233.8 160.2L234.8 159.4L235.8 159.6L236.8 161.0L237.8 161.8L238.8 161.1L239.8 161.1L240.8 160.4L241.8 160.9L242.8 160.7L243.8 160.8L244.8 160.5L245.8 161.1L246.8 161.2L247.8 161.6L248.8 161.1L249.8 162.6L250.8 162.2L251.8 161.7L252.8 161.6L253.8 161.9L254.8 161.6L255.8 161.8L256.8 161.2L257.8 161.1L258.8 161.5L259.8 162.1L260.8 161.4L261.8 161.7L262.8 163.0L263.8 162.9L264.8 162.9L265.8 162.7L266.8 163.0L267.8 163.6L268.8 163.0L269.8 162.5L270.8 162.4L271.8 162.3L272.8 162.1L273.8 163.0L274.8 163.4L275.8 163.1L276.8 162.9L277.8 162.9L278.8 163.6L279.8 163.0L280.8 162.9L281.8 162.9L282.8 163.5L283.8 163.6L284.8 164.0L285.8 163.9L286.8 163.5L287.8 164.1L288.8 163.2L289.8 163.2L290.8 163.7L291.8 163.9L292.8 163.6L293.8 163.2L294.8 163.6L295.8 162.9L296.8 162.9L297.8 163.8L298.8 162.9L299.8 163.3L300.8 163.7L301.8 163.9L302.8 164.4L303.8 163.3L304.8 163.5L305.8 164.1L306.8 164.1L307.8 164.1L308.8 163.4L309.8 163.9L310.8 163.8L311.8 163.7L312.8 163.6L313.8 163.9L314.8 164.0L315.8 163.0L316.8 162.7L317.8 163.3L318.8 163.2L319.8 163.3L320.8 163.5L321.8 163.5L322.8 163.4L323.8 162.7L324.8 162.9L325.8 162.5L326.8 163.1L327.8 162.7L328.8 162.5L329.8 162.2L330.8 162.3L331.8 162.4L332.8 162.6L333.8 161.5L334.8 161.0L335.8 161.7L336.8 161.5L337.8 160.7L338.8 161.5L339.8 161.5L340.8 160.6L341.8 160.6L342.8 160.6L343.8 160.2L344.8 160.2L345.8 160.8L346.8 159.4L347.8 159.1L348.8 159.6L349.8 159.1L350.8 158.6L351.8 158.5L352.8 158.1L353.8 158.2L354.8 157.6L355.8 157.6L356.8 157.1L357.8 157.1L358.8 156.7L359.8 156.2L360.8 156.1L361.8 156.1L362.8 155.0L362.8 157.5L361.8 158.6L360.8 158.7L359.8 158.8L358.8 159.2L357.8 159.6L356.8 159.6L355.8 160.1L354.8 160.1L353.8 160.7L352.8 160.6L351.8 161.0L350.8 161.2L349.8 161.6L348.8 162.1L347.8 161.6L346.8 161.9L345.8 163.3L344.8 162.7L343.8 162.7L342.8 163.2L341.8 163.1L340.8 163.2L339.8 164.0L338.8 164.0L337.8 163.3L336.8 164.0L335.8 164.2L334.8 163.6L333.8 164.0L332.8 165.1L331.8 165.0L330.8 164.8L329.8 164.7L328.8 165.0L327.8 165.3L326.8 165.6L325.8 165.1L324.8 165.4L323.8 165.3L322.8 166.0L321.8 166.1L320.8 166.1L319.8 165.9L318.8 165.8L317.8 165.8L316.8 165.2L315.8 165.6L314.8 166.5L313.8 166.4L312.8 166.2L311.8 166.3L310.8 166.4L309.8 166.5L308.8 166.0L307.8 166.6L306.8 166.6L305.8 166.7L304.8 166.1L303.8 165.9L302.8 166.9L301.8 166.5L300.8 166.3L299.8 165.8L298.8 165.5L297.8 166.4L296.8 165.5L295.8 165.4L294.8 166.1L293.8 165.8L292.8 166.2L291.8 166.5L290.8 166.3L289.8 165.8L288.8 165.8L287.8 166.8L286.8 166.2L285.8 166.5L284.8 166.6L283.8 166.2L282.8 166.2L281.8 165.6L280.8 165.5L279.8 165.7L278.8 166.3L277.8 165.6L276.8 165.6L275.8 165.8L274.8 166.1L273.8 165.7L272.8 164.8L271.8 165.0L270.8 165.1L269.8 165.2L268.8 165.8L267.8 166.3L266.8 165.7L265.8 165.4L264.8 165.7L263.8 165.6L262.8 165.7L261.8 164.4L260.8 164.1L259.8 164.9L258.8 164.3L257.8 163.8L256.8 164.0L255.8 164.6L254.8 164.4L253.8 164.7L252.8 164.4L251.8 164.5L250.8 165.0L249.8 165.4L248.8 163.9L247.8 164.4L246.8 164.1L245.8 164.0L244.8 163.4L243.8 163.8L242.8 163.6L241.8 163.9L240.8 163.4L239.8 164.1L238.8 164.1L237.8 164.9L236.8 164.1L235.8 162.6L234.8 162.5L233.8 163.3L232.8 163.0L231.8 161.9L230.8 161.5L229.8 161.6L228.8 161.9L227.8 161.7L226.8 160.4L225.8 159.6L224.8 158.4L223.8 159.3L222.8 159.7L221.8 158.5L220.8 158.6L219.8 158.4L218.8 157.5L217.8 155.8L216.8 156.3L215.8 155.8L214.8 155.2L213.8 155.0L212.8 153.5L211.8 154.1L210.8 153.9L209.8 149.6L208.8 149.1L207.8 148.0L206.8 146.3L205.8 145.5L204.8 145.7L203.8 146.8L202.8 144.8L201.8 145.4L200.8 146.7L199.8 146.2L198.8 146.4L197.8 146.2L196.8 145.5L195.8 146.8L194.8 147.7L193.8 146.5L192.8 145.8L191.8 146.1L190.8 149.2L189.8 149.2L188.8 147.2L187.8 146.2L186.8 147.4L185.8 147.2L184.8 147.3L183.8 146.5L182.8 144.5L181.8 144.2L180.8 145.7L179.8 146.0L178.8 144.9L177.8 145.4L176.8 145.5L175.8 145.5L174.8 146.2L173.8 145.6L172.8 143.9L171.8 144.4L170.8 144.3L169.8 145.8L168.8 145.8L167.8 145.1L166.8 145.8L165.8 146.3L164.8 146.9L163.8 146.7L162.8 145.8L161.8 146.6L160.8 147.0L159.8 146.8L158.8 148.2L157.8 148.3L156.8 148.1L155.8 147.0L154.8 149.3L153.8 148.9L152.8 148.6L151.8 150.0L150.8 149.8L149.8 150.0L148.8 150.3L147.8 149.7L146.8 151.1L145.8 149.9L144.8 151.3L143.8 152.4L142.8 151.9L141.8 151.4L140.8 150.8L139.8 151.5L138.8 151.7L137.8 151.5L136.8 152.3L135.8 150.7L134.8 150.4L133.8 151.4L132.8 152.5L131.8 152.7L130.8 153.7L129.8 153.1L128.8 152.7L127.8 153.2L126.8 153.8L125.8 153.3L124.8 153.3L123.8 153.9L122.8 153.2L121.8 154.1L120.8 153.9L119.8 152.4L118.8 153.1L117.8 154.7L116.8 153.7L115.8 154.2L114.8 155.0L113.8 155.2L112.8 154.7L111.8 154.5L110.8 155.0L109.8 154.4L108.8 154.8L107.8 155.4L106.8 154.0L105.8 154.6L104.8 155.8L103.8 155.5L102.8 156.4L101.8 155.3L100.8 155.4L99.8 155.5L98.8 154.4L97.8 154.3L96.8 155.6L95.8 156.8L94.8 155.8L93.8 156.6L92.8 156.9L91.8 156.6L90.8 155.9L89.8 155.6L88.8 156.3L87.8 155.9L86.8 156.2L85.8 155.9L84.8 156.5L83.8 156.2L82.8 156.9L81.8 156.8L80.8 155.9L79.8 156.9L78.8 155.6L77.8 155.1L76.8 156.0L75.8 156.3L74.8 156.8L73.8 155.9L72.8 156.1L71.8 156.4L70.8 156.9L69.8 156.9L68.8 155.8L67.8 156.3ZM366.4 155.7L367.4 157.0L368.4 158.2L369.4 158.0L370.4 158.5L371.4 159.0L372.4 159.2L373.4 158.9L374.4 159.2L375.4 159.4L376.4 159.7L377.4 160.5L378.4 160.9L379.4 160.2L380.4 160.2L381.4 160.6L382.4 161.1L383.4 161.1L384.4 161.4L385.4 161.4L386.4 161.3L387.4 161.6L388.4 161.0L389.4 161.7L390.4 162.3L391.4 161.9L392.4 161.3L393.4 162.1L394.4 162.3L395.4 162.7L396.4 162.8L397.4 162.6L398.4 162.4L399.4 162.7L400.4 163.0L401.4 163.2L402.4 163.1L403.4 162.9L404.4 162.7L405.4 162.8L406.4 163.4L407.4 163.0L408.4 163.5L409.4 164.2L410.4 163.7L411.4 163.6L412.4 163.6L413.4 163.8L414.4 163.8L415.4 163.8L416.4 164.3L417.4 164.1L418.4 163.9L419.4 164.1L420.4 164.3L421.4 165.0L422.4 164.7L423.4 164.3L424.4 164.3L425.4 164.0L426.4 164.6L427.4 164.2L428.4 164.3L429.4 165.1L430.4 164.6L431.4 164.2L432.4 164.8L433.4 164.6L434.4 164.1L435.4 163.8L436.4 163.9L437.4 164.1L438.4 164.2L439.4 164.3L440.4 164.4L441.4 164.7L442.4 164.6L443.4 165.0L444.4 164.6L445.4 164.0L446.4 164.1L447.4 164.5L448.4 164.3L449.4 164.2L450.4 164.4L451.4 164.6L452.4 165.2L453.4 164.9L454.4 164.7L455.4 164.9L456.4 165.2L457.4 165.1L458.4 165.0L459.4 165.0L460.4 165.1L461.4 164.9L462.4 165.5L463.4 165.8L464.4 165.4L465.4 165.2L466.4 164.9L467.4 165.1L468.4 165.0L469.4 165.0L470.4 165.5L471.4 165.5L472.4 165.8L473.4 165.3L474.4 165.2L475.4 165.5L476.4 165.4L477.4 165.2L478.4 165.7L479.4 165.0L480.4 164.9L481.4 165.2L482.4 165.4L483.4 165.0L484.4 165.1L485.4 165.7L486.4 165.4L487.4 165.7L488.4 165.5L489.4 165.1L490.4 165.6L491.4 165.3L492.4 165.3L493.4 165.1L494.4 165.8L495.4 165.5L496.4 165.1L497.4 165.1L498.4 165.0L499.4 165.2L500.4 165.9L501.4 165.6L502.4 165.5L503.4 165.2L504.4 165.6L505.4 165.9L506.4 165.9L507.4 165.9L508.4 165.8L509.4 165.9L510.4 165.9L511.4 166.0L512.4 166.1L513.4 165.7L514.4 165.8L515.4 165.8L516.4 165.8L517.4 165.7L518.4 165.8L519.4 165.8L520.4 166.0L521.4 165.9L522.4 166.0L523.4 165.8L524.4 166.0L525.4 166.2L526.4 165.6L527.4 166.1L528.4 166.0L529.4 165.6L530.4 165.8L531.4 165.8L532.4 165.6L533.4 165.7L534.4 165.6L535.4 165.6L536.4 166.2L537.4 165.7L537.6 165.2L537.6 167.5L537.4 167.9L536.4 168.4L535.4 167.8L534.4 167.8L533.4 167.9L532.4 167.8L531.4 168.1L530.4 168.0L529.4 167.9L528.4 168.2L527.4 168.3L526.4 167.9L525.4 168.5L524.4 168.2L523.4 168.0L522.4 168.3L521.4 168.2L520.4 168.2L519.4 168.1L518.4 168.1L517.4 167.9L516.4 168.0L515.4 168.0L514.4 168.1L513.4 168.0L512.4 168.3L511.4 168.3L510.4 168.2L509.4 168.1L508.4 168.0L507.4 168.2L506.4 168.2L505.4 168.1L504.4 167.8L503.4 167.5L502.4 167.8L501.4 167.9L500.4 168.2L499.4 167.5L498.4 167.3L497.4 167.4L496.4 167.4L495.4 167.8L494.4 168.1L493.4 167.4L492.4 167.6L491.4 167.6L490.4 167.9L489.4 167.4L488.4 167.8L487.4 168.0L486.4 167.7L485.4 168.0L484.4 167.5L483.4 167.4L482.4 167.7L481.4 167.5L480.4 167.2L479.4 167.4L478.4 168.0L477.4 167.6L476.4 167.8L475.4 167.8L474.4 167.5L473.4 167.7L472.4 168.2L471.4 167.9L470.4 167.9L469.4 167.3L468.4 167.3L467.4 167.4L466.4 167.3L465.4 167.6L464.4 167.8L463.4 168.1L462.4 167.8L461.4 167.2L460.4 167.4L459.4 167.3L458.4 167.4L457.4 167.5L456.4 167.5L455.4 167.3L454.4 167.1L453.4 167.3L452.4 167.6L451.4 167.0L450.4 166.7L449.4 166.6L448.4 166.7L447.4 166.9L446.4 166.5L445.4 166.4L444.4 167.0L443.4 167.4L442.4 167.0L441.4 167.1L440.4 166.8L439.4 166.7L438.4 166.6L437.4 166.6L436.4 166.4L435.4 166.2L434.4 166.6L433.4 167.1L432.4 167.3L431.4 166.6L430.4 167.1L429.4 167.5L428.4 166.8L427.4 166.6L426.4 167.0L425.4 166.5L424.4 166.7L423.4 166.8L422.4 167.1L421.4 167.4L420.4 166.8L419.4 166.6L418.4 166.4L417.4 166.5L416.4 166.7L415.4 166.2L414.4 166.2L413.4 166.2L412.4 166.0L411.4 166.0L410.4 166.2L409.4 166.7L408.4 165.9L407.4 165.5L406.4 165.8L405.4 165.2L404.4 165.1L403.4 165.3L402.4 165.6L401.4 165.6L400.4 165.5L399.4 165.2L398.4 164.9L397.4 165.1L396.4 165.3L395.4 165.2L394.4 164.7L393.4 164.6L392.4 163.8L391.4 164.4L390.4 164.8L389.4 164.1L388.4 163.5L387.4 164.0L386.4 163.8L385.4 163.9L384.4 163.8L383.4 163.6L382.4 163.6L381.4 163.1L380.4 162.7L379.4 162.7L378.4 163.3L377.4 162.9L376.4 162.2L375.4 161.9L374.4 161.7L373.4 161.4L372.4 161.7L371.4 161.5L370.4 161.0L369.4 160.5L368.4 160.7L367.4 159.5L366.4 158.2ZM542.6 165.4L543.6 165.9L544.6 166.0L545.6 166.0L546.6 165.9L547.6 166.0L548.6 166.2L549.6 165.7L550.6 165.8L551.6 165.9L552.6 166.2L553.6 166.3L554.6 165.4L555.6 165.4L556.6 166.0L557.6 166.2L558.6 165.7L559.6 165.8L560.6 166.4L561.6 166.1L562.6 166.2L563.6 166.0L564.6 165.7L565.6 166.1L566.6 165.9L567.6 166.0L568.6 165.6L569.6 165.5L570.6 165.9L571.6 166.4L572.6 166.2L573.6 165.9L574.6 165.6L575.6 165.7L576.6 165.5L577.6 165.8L578.6 165.9L579.6 165.8L580.6 166.2L581.6 165.8L582.6 165.6L583.6 165.7L584.6 165.6L585.6 166.1L586.6 166.0L587.6 165.9L588.6 166.1L589.6 166.0L590.6 165.9L591.6 166.0L592.6 165.9L593.6 165.8L594.6 165.9L595.6 166.1L596.6 166.0L597.6 166.0L598.6 165.7L599.6 165.6L600.6 165.5L601.6 165.8L602.6 165.9L603.6 165.8L604.6 165.6L605.6 165.6L606.6 165.5L607.6 165.5L608.6 165.9L609.6 165.7L610.6 165.9L611.6 165.6L612.6 166.1L613.6 165.5L614.6 165.6L615.6 165.5L616.6 165.0L617.6 165.2L618.6 165.5L619.6 165.3L620.6 165.5L621.6 165.5L622.6 165.6L623.6 165.6L624.6 165.6L625.6 165.5L626.6 165.6L627.6 165.5L628.6 165.5L629.6 165.5L630.6 165.6L631.6 165.5L632.6 165.4L633.6 165.5L634.6 165.3L635.6 165.3L636.6 165.1L637.6 165.3L638.6 165.5L639.6 165.7L640.6 165.5L641.6 165.4L642.6 165.4L643.6 165.3L644.6 165.1L645.6 165.1L646.6 165.3L647.6 165.3L648.6 165.0L649.6 165.1L650.6 164.6L651.6 164.5L652.6 165.0L653.6 165.1L654.6 164.7L655.6 164.5L656.6 164.6L657.6 164.8L658.6 164.6L659.6 164.3L660.6 164.6L661.6 164.3L662.6 164.4L663.6 164.2L664.6 163.9L665.6 164.1L666.6 163.8L667.6 163.9L668.6 164.5L669.6 164.1L670.6 163.8L671.6 164.2L672.6 164.5L673.6 164.6L674.6 164.4L675.6 164.3L676.6 164.1L677.6 164.2L678.6 164.1L679.6 164.0L680.6 164.2L681.6 164.2L682.6 164.4L683.6 164.1L684.6 164.1L685.6 164.4L686.6 164.2L687.4 163.4L687.4 165.4L686.6 166.2L685.6 166.4L684.6 166.2L683.6 166.1L682.6 166.4L681.6 166.2L680.6 166.3L679.6 166.0L678.6 166.2L677.6 166.2L676.6 166.2L675.6 166.3L674.6 166.5L673.6 166.6L672.6 166.5L671.6 166.2L670.6 165.8L669.6 166.1L668.6 166.6L667.6 165.9L666.6 165.8L665.6 166.2L664.6 166.0L663.6 166.2L662.6 166.5L661.6 166.4L660.6 166.6L659.6 166.3L658.6 166.7L657.6 166.8L656.6 166.7L655.6 166.5L654.6 166.8L653.6 167.1L652.6 167.1L651.6 166.5L650.6 166.6L649.6 167.1L648.6 167.0L647.6 167.3L646.6 167.4L645.6 167.2L644.6 167.1L643.6 167.3L642.6 167.4L641.6 167.4L640.6 167.6L639.6 167.7L638.6 167.6L637.6 167.3L636.6 167.2L635.6 167.4L634.6 167.3L633.6 167.6L632.6 167.4L631.6 167.6L630.6 167.7L629.6 167.6L628.6 167.6L627.6 167.6L626.6 167.7L625.6 167.6L624.6 167.7L623.6 167.6L622.6 167.7L621.6 167.5L620.6 167.6L619.6 167.4L618.6 167.6L617.6 167.3L616.6 167.1L615.6 167.6L614.6 167.7L613.6 167.6L612.6 168.2L611.6 167.7L610.6 168.0L609.6 167.8L608.6 168.0L607.6 167.6L606.6 167.6L605.6 167.7L604.6 167.7L603.6 167.9L602.6 168.0L601.6 167.9L600.6 167.6L599.6 167.7L598.6 167.8L597.6 168.1L596.6 168.1L595.6 168.2L594.6 168.0L593.6 167.9L592.6 168.0L591.6 168.1L590.6 168.0L589.6 168.1L588.6 168.2L587.6 168.0L586.6 168.1L585.6 168.2L584.6 167.7L583.6 167.8L582.6 167.7L581.6 168.0L580.6 168.3L579.6 167.9L578.6 168.0L577.6 167.9L576.6 167.6L575.6 167.9L574.6 167.7L573.6 168.1L572.6 168.3L571.6 168.5L570.6 168.0L569.6 167.7L568.6 167.8L567.6 168.1L566.6 168.1L565.6 168.2L564.6 167.9L563.6 168.1L562.6 168.3L561.6 168.3L560.6 168.6L559.6 168.0L558.6 167.9L557.6 168.4L556.6 168.2L555.6 167.5L554.6 167.6L553.6 168.5L552.6 168.4L551.6 168.1L550.6 168.0L549.6 167.9L548.6 168.4L547.6 168.2L546.6 168.1L545.6 168.2L544.6 168.2L543.6 168.1L542.6 167.6ZM693.2 164.3L694.2 164.9L695.2 165.5L696.2 165.7L697.2 165.5L698.2 165.5L699.2 165.5L700.2 165.3L701.2 165.4L702.2 165.2L703.2 165.3L704.2 165.4L705.2 165.6L706.2 165.9L707.2 165.7L708.2 165.5L709.2 165.5L710.2 165.4L711.2 165.4L712.2 165.1L713.2 165.1L714.2 165.3L715.2 165.5L716.2 165.6L717.2 165.5L718.2 165.5L719.2 165.3L720.2 165.2L721.2 165.6L722.2 165.6L723.2 165.5L724.2 165.4L725.2 165.4L726.2 165.3L727.2 165.6L728.2 165.8L729.2 165.4L730.2 165.7L731.2 165.8L732.2 165.8L733.2 166.1L734.2 165.6L735.2 165.7L736.2 166.0L737.2 165.9L738.2 165.6L739.2 165.1L740.2 165.2L741.2 165.5L742.2 165.8L743.2 165.9L744.2 165.6L745.2 165.5L746.2 165.5L747.2 165.9L748.2 165.7L749.2 165.7L750.2 165.7L751.2 165.6L752.2 165.7L753.2 165.6L754.2 165.9L755.2 166.1L756.0 165.9L756.0 167.8L755.2 168.0L754.2 167.9L753.2 167.6L752.2 167.6L751.2 167.5L750.2 167.7L749.2 167.7L748.2 167.7L747.2 167.9L746.2 167.5L745.2 167.5L744.2 167.6L743.2 167.9L742.2 167.8L741.2 167.5L740.2 167.2L739.2 167.1L738.2 167.6L737.2 167.9L736.2 168.0L735.2 167.7L734.2 167.6L733.2 168.0L732.2 167.8L731.2 167.8L730.2 167.7L729.2 167.4L728.2 167.8L727.2 167.6L726.2 167.3L725.2 167.4L724.2 167.4L723.2 167.6L722.2 167.6L721.2 167.6L720.2 167.2L719.2 167.3L718.2 167.5L717.2 167.5L716.2 167.6L715.2 167.5L714.2 167.3L713.2 167.2L712.2 167.1L711.2 167.4L710.2 167.5L709.2 167.6L708.2 167.5L707.2 167.7L706.2 167.9L705.2 167.6L704.2 167.4L703.2 167.3L702.2 167.2L701.2 167.4L700.2 167.4L699.2 167.6L698.2 167.5L697.2 167.5L696.2 167.7L695.2 167.5L694.2 167.0L693.2 166.3ZM364.65 54L365.85 62L366.00 147.5L363.30 147.5L363.45 62Z"/>
<path class="c" stroke="#CC9900" stroke-width="1.5" d="M67.8 156.3l.2-1.3 .2-2 .2 1.1 .2 0 .2 .8 .2-2.1 .2 2.8 .2-1.8 .2-.8 .2 2.1 .2-.5 .2 1 .2 1.6 .2-2 .2 2.1 .2 .3 .2-.2 .2-2.2 .2 1.2 .2 0 .2-.1 .2-1.5 .2 1.5 .2-.4 .2-1 .2-1.4 .2 1.7 .2-.3 .2-2.3 .2 .4 .2 3 .2-1.5 .2 1.5 .2-1.1 .2-1.2 .2 .8 .2-1.9 .2 3.1 .2-2.5 .2 4.1 .2-3.7 .2 1.2 .2-1.5 .2-.6 .2 1.7 .2-.9 .2 3.4 .2-3.2 .2-2.5 .2 2.4 .2-1.3 .2 .4 .2-.3 .2 .1 .2-.5 .2 2.7 .2 .1 .2 .2 .2-.1 .2 2.4 .2-2.9 .2 0 .2 2.3 .2-1.8 .2-1.3 .2-.3 .2 .4 .2 .5 .2 .5 .2 2.3 .2-3.2 .2 1.9 .2 .7 .2-.1 .2-1.4 .2-.8 .2 1.1 .2 .2 .2-1 .2-.3 .2 2.2 .2-1.8 .2 .2 .2 1.9 .2-1.7 .2 0 .2-.5 .2 2.1 .2-2.2 .2 1.8 .2-.8 .2-.9 .2 1.2 .2-1.8 .2 3.2 .2-3.4 .2 1.3 .2 .6 .2-.8 .2 1.1 .2 .4 .2-3.2 .2 1.2 .2 1.1 .2-.4 .2-.5 .2 .7 .2-1.8 .2 .2 .2 2 .2-1.1 .2 1.4 .2-4.5 .2 1.4 .2 0 .2 2.1 .2 1.9 .2-3.7 .2 1.8 .2 1.9 .2-3 .2 4.2 .2-4.3 .2 .5 .2-1.1 .2 3 .2-2.8 .2 2.2 .2-.2 .2-1.1 .2 0 .2-.3 .2 .8 .2-1.5 .2-.1 .2-.2 .2 3.1 .2 .8 .2-.9 .2-2.7 .2 2.1 .2 .5 .2 .3 .2-1.6 .2-1.5 .2 3.4 .2-3.1 .2-1.3 .2 1.4 .2 .9 .2-2 .2 1.1 .2-.4 .2-.5 .2-.1 .2 .9 .2-3.1 .2 3 .2-1.2 .2 .4 .2 2.1 .2-.9 .2 .1 .2 .2 .2-2.7 .2 .2 .2 4 .2-3.3 .2 .9 .2 1.4 .2-.9 .2 .5 .2-2.3 .2 1.3 .2 2 .2 0 .2 1.1 .2-.8 .2-1.9 .2 .6 .2-1.2 .2 1.8 .2-1.8 .2 1.8 .2 .2 .2 1.4 .2-3.2 .2 1 .2-2.4 .2 2.7 .2-2.1 .2-.9 .2-.7 .2 .5 .2 .8 .2 .3 .2 2.8 .2-2 .2 .6 .2-2.6 .2 1.9 .2 3.5 .2-.5 .2-5.5 .2 5 .2-2.7 .2-1.7 .2 2.6 .2 .2 .2 0 .2-.3 .2 1.6 .2-2 .2 1 .2 2.4 .2-2.9 .2-2.4 .2 4.1 .2-2 .2-2 .2 3.9 .2-.9 .2-1.7 .2 .6 .2-2.7 .2 2.9 .2-3.2 .2 1.5 .2 4 .2-1.8 .2-2.9 .2 1.6 .2 2 .2-1.5 .2 .3 .2-.4 .2-1.6 .2 3.4 .2-4.6 .2 1.8 .2-1.8 .2 1.5 .2 .2 .2-.3 .2 .7 .2 1 .2-3.6 .2 3.2 .2 1.8 .2 .6 .2-1.1 .2-3.6 .2 .6 .2 1.9 .2 0 .2-2.7 .2-.1 .2 1.3 .2 .5 .2-2.1 .2-.6 .2-.6 .2 1.8 .2-1 .2 1.4 .2 3 .2-1 .2-1.3 .2 2.2 .2-3.7 .2 2.7 .2-1.8 .2 1.3 .2 .9 .2-3.5 .2 2.6 .2-1 .2 0 .2-1.8 .2 2.4 .2 0 .2 .2 .2-.5 .2-1.6 .2 3.6 .2-2.6 .2 2 .2-2.2 .2-.7 .2 3.2 .2 0 .2-2.2 .2 1 .2 .5 .2-2.7 .2 1.3 .2-2.3 .2 4.3 .2-4.5 .2 2.3 .2-1.9 .2 1.6 .2-.3 .2-.4 .2 1.5 .2-1.1 .2 1.9 .2-.8 .2-2 .2 1.2 .2 .6 .2 1.3 .2 .8 .2-2 .2 .8 .2-.5 .2 .4 .2-2.2 .2 .2 .2 1.8 .2 .5 .2-1.6 .2-.8 .2 1.2 .2-1.6 .2 3.5 .2-4.8 .2 2.3 .2 1.1 .2-2.7 .2-1.3 .2 .4 .2 .9 .2 1.3 .2-1.8 .2 .7 .2 .5 .2-.7 .2 .6 .2 .1 .2 .4 .2-1.9 .2 .7 .2 .2 .2 4.3 .2-3.2 .2-.4 .2 2.2 .2-1.3 .2-1.7 .2 2.1 .2-3.2 .2-.3 .2 .6 .2 3.7 .2-1.9 .2 2 .2-3.6 .2-1.3 .2 2.9 .2-1.2 .2-2.8 .2 3.2 .2 2.8 .2-2.8 .2-2.4 .2 1.2 .2-.1 .2-1.7 .2 1.7 .2 0 .2 1.2 .2 .1 .2 1 .2 .6 .2-.1 .2-.7 .2-1.3 .2 1.7 .2 .4 .2 3.5 .2-4.3 .2 .9 .2 .2 .2-.5 .2-5.1 .2 2.5 .2-2.4 .2 3.7 .2-3.9 .2-.4 .2 2 .2 4.9 .2-1.2 .2 .1 .2-2.8 .2 1.3 .2-2.5 .2 .9 .2 1.9 .2-.2 .2-1.9 .2-1.1 .2 .9 .2-1.7 .2 0 .2 2.1 .2 1.2 .2 1.2 .2 .7 .2-3 .2 1.2 .2-4.4 .2 4.2 .2 2.8 .2-2.7 .2 1.5 .2-1.1 .2 .1 .2 .6 .2-4 .2 1.1 .2 2.8 .2-4 .2 2.9 .2-3.8 .2 .6 .2-.7 .2 3.3 .2-.7 .2-3.9 .2 2 .2 .2 .2 2.8 .2-.6 .2-4.4 .2 3.6 .2 .6 .2-2.3 .2 .6 .2 2.8 .2-3.8 .2-.3 .2 2 .2-.9 .2-1.7 .2 1.5 .2-1.5 .2 5 .2-5 .2 5.3 .2-4.3 .2-1.2 .2 1.9 .2 3.2 .2-3 .2 2.2 .2-1.7 .2-1.1 .2-1.8 .2 2.7 .2-1.3 .2-1.1 .2 .8 .2 1.5 .2-.7 .2 1.6 .2 1.7 .2-2.9 .2 .1 .2-.3 .2-.5 .2-1.5 .2-1.1 .2 .2 .2-.8 .2 3.1 .2-3.5 .2 2.5 .2-1.1 .2 .3 .2 2.9 .2-.9 .2 1.4 .2-3.6 .2 .5 .2 1.1 .2 .9 .2-.4 .2 1.4 .2-4.9 .2 1.9 .2-1.1 .2 4.3 .2-6 .2 1.1 .2 3.5 .2-3.8 .2-1.8 .2 5.8 .2-1.3 .2-2.6 .2-.5 .2 1.7 .2-.7 .2 .5 .2 2.9 .2-3 .2 .9 .2-1.3 .2 2.4 .2-2.1 .2 2 .2-4.7 .2 1.1 .2 .7 .2 .8 .2-1 .2 4.8 .2-5.2 .2 .3 .2-2 .2 1.7 .2 4.9 .2-3.6 .2-2.2 .2 3.9 .2-2.1 .2 2.2 .2-3 .2 1.4 .2 4.3 .2-2.6 .2 .3 .2 .4 .2 .8 .2-3.2 .2-1.1 .2 1.7 .2 2 .2-2.6 .2 2.7 .2-5.2 .2 1.9 .2-.7 .2-1.8 .2 8 .2-4.3 .2 4.2 .2-3.1 .2-3.3 .2 4.5 .2-1.6 .2 2.7 .2-2.3 .2-1.7 .2 1.6 .2-1.1 .2-1.5 .2 1.5 .2 3 .2-4 .2 3.8 .2 .4 .2-2.4 .2-1.2 .2 2 .2-2.9 .2 2.2 .2-.8 .2-1.5 .2-.9 .2-.8 .2 1.7 .2-1.6 .2 2.3 .2 1.1 .2-.7 .2 2.1 .2 1.4 .2-4.2 .2 2.8 .2-1.4 .2 .4 .2 .8 .2 2.4 .2 .1 .2-3.5 .2 1.1 .2-.2 .2 .2 .2 3.9 .2-1.4 .2-5.5 .2 4.2 .2 .3 .2-3.8 .2 4.9 .2-1.5 .2 1.4 .2-5.7 .2 2.1 .2-.6 .2 .3 .2 .3 .2-1 .2 3.2 .2-2.7 .2 5.4 .2-.2 .2-5.3 .2 2.7 .2 2.3 .2 3.7 .2-5.5 .2 2.9 .2 .8 .2-4.7 .2-3.1 .2-.7 .2-1.4 .2 3.6 .2-.1 .2-1.7 .2 4.6 .2-3.8 .2 1.7 .2 1.8 .2-.1 .2-.5 .2 0 .2-.3 .2 2 .2 0 .2-3.6 .2 3 .2-.8 .2-.8 .2 3 .2-3.1 .2-.2 .2 1.2 .2-4.5 .2 .8 .2 .5 .2-1.3 .2 2.6 .2-2.2 .2 2.6 .2-.3 .2 .1 .2 1.1 .2-1.6 .2 2 .2-2.2 .2 .5 .2-.3 .2 1.6 .2-1 .2-2 .2 5.7 .2-1.1 .2-2.1 .2 1.1 .2-3 .2 3.1 .2-3 .2 2.2 .2-1.5 .2-2.6 .2 2.7 .2-1.3 .2-.9 .2 .7 .2 2 .2-.9 .2-.9 .2 .5 .2 1 .2-2.5 .2 1.6 .2 .4 .2-3.2 .2 7.2 .2-4.2 .2 2.6 .2-3.3 .2 .4 .2 0 .2-2.8 .2 1.3 .2 3.3 .2-1.6 .2 1.4 .2 0 .2-2.8 .2 .6 .2 .7 .2-1 .2 1.6 .2 2.6 .2 2.4 .2 .6 .2-1.2 .2-2.3 .2-.7 .2 4.5 .2-2.3 .2-1.7 .2 .1 .2 6.4 .2-1.8 .2 .3 .2 .7 .2 .2 .2 2.4 .2-.1 .2 1.2 .2-5.6 .2 3.8 .2-1.1 .2 .9 .2-.6 .2-4.2 .2 3.3 .2 2.6 .2-1 .2-2.3 .2-1 .2 5.2 .2-1.5 .2 .7 .2-2.1 .2 2.9 .2-2.1 .2 0 .2-1.5 .2 2.2 .2 .5 .2-1.7 .2 1 .2 1.8 .2-2.5 .2 2.4 .2 .6 .2-1.6 .2-2.3 .2 1.8 .2 1.8 .2-1.4 .2-1.7 .2 3.4 .2-.3 .2 1.9 .2 .4 .2-.8 .2-1.2 .2-2.3 .2 .2 .2 2.7 .2-.5 .2 1 .2-1.3 .2 0 .2 2.7 .2-1.1 .2-.3 .2 2 .2-3.1 .2 1.6 .2-1.7 .2 .9 .2 1 .2-.1 .2-.4 .2 .6 .2 1.7 .2-2.4 .2-.8 .2 3.4 .2-4.1 .2 1.1 .2-1.4 .2 .3 .2 2.5 .2-.3 .2-1.1 .2 2.7 .2-2.3 .2 2.3 .2-.7 .2 1 .2-1.2 .2 .7 .2-.5 .2-2.3 .2 5.7 .2-1.7 .2-.4 .2 0 .2-.6 .2 .2 .2 .9 .2 1 .2-.8 .2-.2 .2 .6 .2-1.8 .2 2.1 .2-1.8 .2 1.2 .2-1.5 .2 1.9 .2-2.6 .2 3.6 .2-2.9 .2 0 .2-.3 .2-.2 .2 1.2 .2-1.2 .2 3.2 .2-1.1 .2-2.1 .2 2.7 .2 .7 .2-.3 .2-.9 .2 .6 .2-2.4 .2 .9 .2-1 .2 .6 .2 2.2 .2 .5 .2 .1 .2-2.5 .2 1.3 .2-.7 .2 .9 .2 .1 .2-.9 .2 2.5 .2-1.5 .2 .2 .2 .6 .2-.1 .2-1 .2 1.9 .2 .5 .2 .2 .2-1.3 .2 1.9 .2-2.6 .2 0 .2-1.8 .2 4.3 .2-.5 .2 .2 .2-3.3 .2 2.3 .2-2.7 .2 2.9 .2-1.5 .2-.4 .2 .5 .2-.2 .2 2.1 .2-.3 .2-2.8 .2 2.6 .2-3.3 .2 4.2 .2-2.6 .2 .2 .2 .2 .2 2.5 .2-1.5 .2-.8 .2 .7 .2-1.1 .2 1.3 .2-1.8 .2 .2 .2 .1 .2 1.6 .2-.9 .2-.3 .2-1.2 .2 2.6 .2-1.3 .2 .7 .2-.6 .2 .6 .2 .1 .2-1.8 .2 .1 .2 1.6 .2-1.4 .2 2.2 .2-.8 .2 .9 .2-.6 .2-.1 .2-1.2 .2 1.1 .2 .9 .2 .5 .2-.4 .2-.1 .2-.4 .2 .3 .2-.3 .2 1.4 .2-.1 .2-1.5 .2-.5 .2 1.2 .2 .4 .2-.7 .2-1.8 .2-.4 .2 3 .2-.6 .2-1.3 .2 .5 .2 0 .2 .3 .2-1 .2 1.8 .2-1.6 .2-.5 .2 2.1 .2-1.1 .2 1.1 .2-.8 .2 .7 .2 .7 .2-1.2 .2 .7 .2-1.6 .2 .8 .2-2.7 .2 1.9 .2-.8 .2-.9 .2 2.2 .2-.7 .2 .4 .2-1.7 .2 1.6 .2 1.8 .2-1.3 .2-1.7 .2 2 .2-.3 .2-.6 .2 0 .2 1 .2-2.1 .2 2.9 .2-.4 .2-.3 .2-.1 .2 .3 .2-2.7 .2 1.5 .2 .4 .2 .3 .2-.8 .2 .7 .2 1 .2 .2 .2 1.3 .2-3.1 .2 1.7 .2-.3 .2 .5 .2-.3 .2-.7 .2 .9 .2-1.4 .2 .2 .2 0 .2 1.1 .2 .5 .2 .4 .2-2.4 .2 .9 .2 1.3 .2-1.1 .2 1.3 .2 .1 .2-1.7 .2 .2 .2 .7 .2-.6 .2 .8 .2-.1 .2 1.9 .2-1.7 .2-.7 .2 .4 .2 .1 .2-2.2 .2 .8 .2-.4 .2 1 .2 .5 .2-1.4 .2-.7 .2 1.9 .2-1 .2 .4 .2 .6 .2 .5 .2-1.3 .2-.5 .2-.3 .2 .1 .2 .8 .2 1.8 .2-1.6 .2-.9 .2 .5 .2 0 .2-.8 .2 1.5 .2 .5 .2-.1 .2-.7 .2 .8 .2-.5 .2 .4 .2-1.3 .2 2.2 .2-.9 .2-1.8 .2 1.7 .2 .7 .2 1.3 .2-2.8 .2 2.1 .2-2.2 .2 1.7 .2-.3 .2-.9 .2-.8 .2 .1 .2 2 .2 .5 .2-1.4 .2 .2 .2-.3 .2 .8 .2-.5 .2 1.2 .2-.3 .2-.5 .2-1.4 .2-.6 .2 .7 .2 1.6 .2-.4 .2-.7 .2 .9 .2-.2 .2-1.3 .2 2.1 .2-.4 .2-1.9 .2 .8 .2 1.1 .2 .9 .2-.1 .2-1.9 .2 .4 .2 1.5 .2-1.7 .2 .8 .2-.5 .2 .8 .2-1.5 .2 .2 .2 .3 .2 2.6 .2 0 .2-.1 .2-2.1 .2-.4 .2 1 .2-.7 .2-.8 .2 1.4 .2-1.4 .2 2 .2-.6 .2-.3 .2-.7 .2 1.1 .2 0 .2 .3 .2-.6 .2-.4 .2-1.3 .2 .5 .2 .4 .2 .4 .2-.5 .2-.9 .2 .4 .2 .6 .2 1 .2-.6 .2-.6 .2 .8 .2 0 .2 1.4 .2-1.2 .2-.4 .2 .4 .2 .4 .2-2 .2 1.1 .2-.6 .2 .2 .2 .1 .2 1.4 .2-.6 .2-.4 .2-1.1 .2 1.2 .2 .3 .2-1.6 .2-.1 .2 2.4 .2-.2 .2-1 .2 .6 .2-.3 .2 .8 .2-3.7 .2 2.1 .2 .8 .2-.4 .2-.5 .2-.3 .2 2.4 .2 .6 .2-3.2 .2 .5 .2 1.2 .2-.1 .2-1.3 .2-.8 .2 2.1 .2 .2 .2-2.5 .2 1.7 .2 .4 .2-.3 .2 1.2 .2-.7 .2 .2 .2-.1 .2-1.3 .2 2.9 .2-2.2 .2 .5 .2 1.1 .2-.4 .2-.6 .2-1.4 .2 1.8 .2 .9 .2-1.1 .2-1.2 .2 1.9 .2 .5 .2-1.2 .2-.2 .2-2.3 .2 1 .2-1.1 .2 2.8 .2-.1 .2-2 .2 2.4 .2 .4 .2-1.6 .2 .4 .2 1.4 .2-2.4 .2 1.5 .2 .5 .2-.5 .2-.5 .2 .5 .2 .2 .2 .2 .2 .5 .2-2.7 .2 1 .2-.2 .2 1.4 .2-2.2 .2 2.4 .2-1.9 .2 .1 .2-.3 .2 1 .2-.2 .2 .5 .2-.3 .2 .5 .2-.2 .2-2.1 .2 2.6 .2-.9 .2 0 .2-.4 .2 1.1 .2-1.1 .2 1.2 .2-1.9 .2 2.2 .2-.2 .2-2 .2 1.7 .2-.9 .2-.4 .2 .6 .2 .5 .2-.6 .2 .8 .2 .4 .2-2.3 .2-.6 .2 1.2 .2 .1 .2-.2 .2 .4 .2-.2 .2-2 .2 1.5 .2-.6 .2 .6 .2-.8 .2 1.7 .2-.4 .2-.3 .2-.6 .2 2.4 .2-.6 .2-.4 .2-1.1 .2-.2 .2 1.9 .2-1.5 .2 1.2 .2 1.1 .2-2.8 .2 .3 .2 1.4 .2-1.7 .2 .9 .2-.2 .2 1.1 .2-1.7 .2 1.3 .2 .5 .2-1.3 .2 .1 .2 1.4 .2-.3 .2-2.1 .2-.2 .2 2.4 .2-1.3 .2-.6 .2 .6 .2 0 .2 .5 .2 .8 .2-.2 .2-1.7 .2 0 .2 0 .2 1.5 .2-.4 .2-2.2 .2 1.3 .2 0 .2 1.4 .2 .2 .2-1.3 .2-.4 .2 .8 .2 .1 .2-.3 .2-1.2 .2 .6 .2 .7 .2-.2 .2 .1 .2-1.2 .2 .3 .2 .3 .2-1.8 .2 1.4 .2 .6 .2 0 .2-.7 .2 .3 .2 .7 .2-.6 .2-1.1 .2 1.5 .2-1.6 .2 .7 .2 2.4 .2-1.3 .2 .4 .2-.2 .2 .1 .2-.6 .2 .4 .2-.8 .2-1 .2 .6 .2-.4 .2 .4 .2 .1 .2 .2 .2-1.7 .2 1.1 .2 1.3 .2-1.6 .2 0 .2 .2 .2-.1 .2-.1 .2 1.8 .2-1.7 .2 .3 .2-1 .2 2.2 .2-2.6 .2-.3 .2 1.7 .2-1.3 .2 .7 .2 1.3 .2-1.9 .2 2.5 .2-1.6 .2-1.2 .2 1.8 .2-.6 .2-.8 .2 2.5 .2-2.2 .2-1.3 .2 1.2 .2 .8 .2-.2 .2-.9 .2-.1 .2 .1 .2-.7 .2 1.2 .2 0 .2 .8 .2-1.8 .2 2.1 .2-.4 .2-.2 .2-.9 .2 .5 .2-1 .2 .9 .2-1 .2-.6 .2 .6 .2-.4 .2 1.5 .2-.5 .2-.2 .2 2.3 .2-1.7 .2 .7 .2-1.8 .2 .6 .2-1.1 .2 .6 .2-.4 .2 1.3 .2-3.5 .2 1.8 .2 1.3 .2-2.5 .2 2.3 .2-.5 .2 .3 .2-.8 .2 0 .2-1.2 .2 1 .2 0 .2-.4 .2 1.7 .2-1.2 .2 .7 .2-.7 .2-1.2 .2 .6 .2-.1 .2-.2 .2 1 .2-.2 .2-.7 .2 .5 .2-1.1 .2 .2 .2 1.3 .2-.2 .2 0 .2 .5 .2-1.1 .2-.3 .2 .3 .2 .4 .2 .1 .2-1.1 .2-.1 .2 .9 .2-.5 .2-.2 .2-.8 .2 .4 .2 .2 .2-.1 .2-.2 .2 .7 .2-.8 .2-.3 .2-.1 .2 .6 .2 .1 .2 0 .2-.1 .2-.8 .2 1.2 .2-1.9 .2-.9 .2 2 .2-.1 .2-1.2 .2 .2 .2 1 .2 0 .2-1.2 .2-.1 .2 .9 .2 .6 .2 .7 .2-1.5 .2 .2 .2-1 .2 .4 .2-1.6 .2 .1 .2 2.2 .2-.9 .2-1.3 .2 .2 .2-3.3 .2-5.4 .2-10.1 .2-15.8 .2-20.9 .2-22.2 .2-17.4 .2-6.7 .2 6.8 .2 17.6 .2 22.3 .2 21 .2 16 .2 10.4 .2 5.6 .2 2 .2 .6 .2 .5 .2 1.3 .2-1 .2-.8 .2 .7 .2 2.1 .2-.1 .2-.8 .2 .7 .2 .1 .2 2 .2-2.6 .2 .1 .2 .6 .2 .3 .2-.6 .2 1.1 .2-.5 .2-.3 .2 .1 .2 .5 .2 .1 .2 .5 .2 .7 .2-1 .2 .8 .2 0 .2-.9 .2-1.2 .2 1.7 .2 .2 .2 .7 .2-2.6 .2 1.9 .2-.7 .2 .4 .2 .7 .2-.6 .2 .3 .2-.1 .2-1 .2 1.2 .2-.5 .2 .6 .2-1.6 .2 1.9 .2-.4 .2-.2 .2-.1 .2 1.1 .2-.3 .2 .4 .2-.1 .2-.5 .2 .8 .2 .5 .2-.8 .2 .8 .2-.3 .2 .9 .2-1 .2-.2 .2-.6 .2-.1 .2 .6 .2 .5 .2-2.2 .2 .9 .2 .6 .2 .3 .2-.9 .2 0 .2 .6 .2 .6 .2 0 .2-.6 .2 .8 .2-.4 .2 .1 .2 .9 .2-.6 .2 .5 .2-.1 .2-.7 .2-.2 .2 .7 .2-.2 .2 1.2 .2-.8 .2-.1 .2-.8 .2 .5 .2 .8 .2-1.5 .2 0 .2 1.4 .2-.1 .2-.8 .2 .3 .2-.3 .2 .3 .2 .9 .2-.1 .2 1.1 .2-.5 .2-.8 .2-.5 .2 .7 .2-.6 .2-.2 .2 .4 .2-.5 .2-.4 .2 1.1 .2-.4 .2 0 .2 1.1 .2-1 .2-.2 .2 2.4 .2-.9 .2-.8 .2 .4 .2-.3 .2-.7 .2-.2 .2-.6 .2 1.1 .2 .5 .2 .1 .2-.8 .2 1.2 .2-.8 .2 .9 .2 .4 .2-1.3 .2 .5 .2-.3 .2-.3 .2 .6 .2 .8 .2 .2 .2-1.2 .2 .4 .2 1.5 .2-1.7 .2 .4 .2 1.6 .2-1.6 .2 .6 .2-.6 .2-1.2 .2 1.5 .2-1.7 .2 .1 .2 2 .2-.5 .2-.6 .2 .7 .2 .2 .2-.6 .2-1.2 .2 .3 .2 1.6 .2-.7 .2 1.1 .2-1.5 .2 1.2 .2-1.8 .2 1.8 .2-.2 .2 .6 .2-2.2 .2 .5 .2 .5 .2 .8 .2 .9 .2-.3 .2-1.9 .2 .6 .2 1.3 .2-.6 .2-1.5 .2 1.4 .2-.1 .2 .1 .2-.6 .2 .2 .2 .4 .2-.5 .2 .5 .2-.2 .2-.1 .2-.7 .2 .9 .2 .3 .2-.9 .2-.1 .2 1.1 .2 .2 .2-1.1 .2 .7 .2 1.1 .2-3 .2 1.7 .2 0 .2-.1 .2 0 .2 .5 .2-.3 .2-.1 .2 1 .2 1.1 .2-1.4 .2 .8 .2 .3 .2-1.7 .2 .4 .2-.4 .2 .2 .2 .8 .2-1.3 .2 1.4 .2 .6 .2-2.1 .2 .7 .2 .4 .2-1.4 .2-.6 .2 1.5 .2-.6 .2 .7 .2-.6 .2 .3 .2-.1 .2 .5 .2 .6 .2-.5 .2 .2 .2-1.2 .2 2 .2-.4 .2 .4 .2-1.2 .2-.5 .2 1 .2-1.1 .2 .8 .2 .1 .2 .1 .2-.9 .2 1.7 .2-1.6 .2 .9 .2-.3 .2-1.4 .2 1.8 .2-.5 .2 1.3 .2 0 .2-1.7 .2-.8 .2 1.5 .2 .6 .2-.8 .2 1.4 .2-1.2 .2-.6 .2 .4 .2 .5 .2 .8 .2-.9 .2 .5 .2 .6 .2-.7 .2 .3 .2 .5 .2-.3 .2 .1 .2-1.1 .2-.7 .2 .3 .2 .3 .2 .5 .2-.6 .2-.3 .2 .2 .2 .6 .2-.5 .2 1 .2-.4 .2-.3 .2-.8 .2 1.6 .2-.9 .2 .5 .2-.2 .2-.5 .2 .1 .2 .2 .2 .8 .2-.3 .2-1.6 .2 1.5 .2-1.7 .2 .6 .2 1.3 .2-.8 .2-.2 .2-1.2 .2 2.2 .2-.5 .2 .3 .2-.7 .2 .3 .2 .7 .2-1.4 .2 1.8 .2-.2 .2-1.4 .2-.1 .2 .6 .2-.2 .2-.6 .2 .5 .2-.6 .2-.2 .2 1.8 .2-.1 .2-1.1 .2 1 .2 .1 .2 .9 .2-.2 .2 0 .2-1.4 .2 .8 .2-1.3 .2-.3 .2 2.1 .2-2.2 .2 1.5 .2-1.3 .2-.2 .2 1.7 .2-2.7 .2 1.4 .2 .3 .2-.8 .2-.1 .2 .1 .2 2.3 .2-2.8 .2 .5 .2 .6 .2-.7 .2 1.4 .2-1.1 .2 .3 .2 .3 .2-.5 .2 .9 .2-1.2 .2 .9 .2 .6 .2 .1 .2-1.6 .2-.1 .2 2.5 .2-.7 .2-1.9 .2 2.1 .2-.4 .2 .2 .2 .7 .2-1.2 .2 .5 .2-.8 .2 1.4 .2-.6 .2 .5 .2-.5 .2-1.1 .2 1 .2 .1 .2 .2 .2-.8 .2 .1 .2-.2 .2-.6 .2 .9 .2-.9 .2 1.3 .2-1.3 .2-1 .2 1.3 .2 .8 .2 0 .2-1.3 .2 .3 .2 .1 .2 .6 .2-.6 .2-1 .2 2.2 .2-.3 .2-1.2 .2 .6 .2-.3 .2-.4 .2 .8 .2-1 .2 .7 .2 .6 .2 .1 .2 .8 .2-1.2 .2 .3 .2 .1 .2-.8 .2-.9 .2 .6 .2-.5 .2 1.4 .2 1.1 .2-.4 .2 1.2 .2-1.1 .2 1.4 .2-.2 .2-.8 .2 .7 .2-1.6 .2-.6 .2 1 .2 .7 .2-.7 .2 0 .2-.5 .2-.4 .2 .9 .2 .1 .2-.8 .2 1.2 .2 .4 .2-2.5 .2 1.7 .2-1.2 .2 .7 .2 .4 .2 .5 .2-.1 .2 .1 .2-.4 .2-.7 .2 .7 .2-.5 .2 .6 .2-.5 .2 .1 .2-1.1 .2 1.3 .2-.6 .2 .5 .2-.4 .2 1.5 .2-.3 .2 .6 .2-1.8 .2 .7 .2-.5 .2-.4 .2 .8 .2-.9 .2 1.9 .2-1.5 .2 .6 .2-.6 .2 .4 .2 0 .2 1.3 .2 0 .2-.4 .2-.6 .2 .3 .2 .2 .2-1.1 .2 .8 .2-1.5 .2 .8 .2 .1 .2 .1 .2 1.3 .2-2.1 .2 .9 .2-.5 .2-.5 .2 .2 .2-.6 .2 1.2 .2 0 .2-1 .2 1 .2-.1 .2-1.4 .2 1.3 .2-.3 .2-.2 .2-.2 .2-.7 .2 .6 .2-.7 .2 1.7 .2-1 .2 1.3 .2-.5 .2 .5 .2-.4 .2 .2 .2 .3 .2-.4 .2 .5 .2-1.1 .2 .4 .2-.3 .2 2 .2 .1 .2-.9 .2 .3 .2-.6 .2 0 .2 1.3 .2-1.2 .2-.3 .2-.3 .2 .5 .2 .1 .2-.8 .2 .2 .2 .6 .2-.4 .2-.3 .2 .5 .2 0 .2-.1 .2-.2 .2 .6 .2-.5 .2-.5 .2 .2 .2 .3 .2-.5 .2-.3 .2 1.4 .2-1.6 .2 .5 .2 1.3 .2-1 .2 .3 .2-.7 .2 .9 .2-1.2 .2 1.5 .2-1 .2 .5 .2-.8 .2-.6 .2 .3 .2 1.4 .2-.7 .2-.1 .2 .9 .2-1.7 .2 .9 .2 .8 .2-1.1 .2 .9 .2-.5 .2 1.2 .2-.5 .2-.2 .2-.4 .2-.3 .2-.6 .2 .2 .2-.8 .2 1.1 .2 .4 .2 1.2 .2-1 .2 .9 .2-1.5 .2 .3 .2 .8 .2-.6 .2 .9 .2 0 .2-.7 .2-.3 .2 .1 .2-.4 .2 1.5 .2-.9 .2 1 .2-1.4 .2 1.9 .2-1.4 .2 .2 .2 .3 .2 .1 .2 0 .2-1 .2-.7 .2 1.5 .2-.9 .2-.6 .2 .1 .2 .7 .2-1 .2 1.1 .2-.2 .2 1.2 .2-.5 .2-.7 .2-1.2 .2 .6 .2 .4 .2 .7 .2-1.4 .2 .8 .2-.8 .2 1.7 .2-1.2 .2-.3 .2 .7 .2-.4 .2 .3 .2 .5 .2-.2 .2 0 .2 1.4 .2-1 .2-.5 .2 1.2 .2-.7 .2 .4 .2-1.3 .2 .2 .2 .3 .2 .1 .2-.6 .2 1.4 .2-1.8 .2 1 .2-.5 .2 0 .2 0 .2 1.4 .2-1.8 .2-.7 .2 1.7 .2-.4 .2 .1 .2 .3 .2 .8 .2-1.4 .2 .4 .2 .8 .2-.4 .2 .3 .2-.9 .2 .4 .2 .7 .2-1.9 .2 1.5 .2-1.6 .2 2.6 .2-.6 .2 .2 .2 0 .2-1.5 .2 .5 .2-.7 .2 .8 .2-.5 .2 .5 .2-.6 .2 .5 .2-.5 .2 .3 .2-.1 .2 .4 .2 .5 .2 .4 .2-1.1 .2 .9 .2-.9 .2 1.4 .2-.9 .2-.4 .2 .4 .2 .5 .2-.4 .2 .2 .2-.3 .2 1.3 .2-.8 .2-.4 .2 0 .2 1.1 .2-1.1 .2 0 .2-.7 .2 1.2 .2-1 .2 .3 .2 1.4 .2-1.8 .2 1.1 .2-.8 .2-.6 .2 .5 .2 .1 .2 .3 .2-.1 .2-.1 .2 .2 .2 .7 .2-.1 .2-1 .2 .5 .2-.4 .2 .8 .2-1.6 .2 1.1 .2 .1 .2-.6 .2 0 .2 .5 .2-1 .2 .5 .2-.4 .2 1 .2-.9 .2 .4 .2-1 .2 .9 .2 .9 .2-.4 .2 .6 .2-2.1 .2 0 .2 2.2 .2-.8 .2-1 .2 1.3 .2-.2 .2 0 .2 .1 .2 .2 .2-.1 .2-.2 .2 .1 .2-.1 .2-.1 .2 0 .2-.1 .2 .3 .2 .3 .2-.4 .2-.1 .2 1 .2 .1 .2-1 .2-.5 .2 1.3 .2-1.7 .2 1.8 .2-.2 .2-.9 .2 .1 .2-.5 .2 .6 .2-.8 .2-.2 .2 .9 .2-.5 .2 .3 .2 0 .2-.1 .2 .6 .2-.5 .2 .8 .2-.5 .2 .9 .2-1.1 .2 .5 .2 0 .2-.7 .2-.7 .2 1.1 .2-1 .2 1 .2-.9 .2 .7 .2 .2 .2-.2 .2 .5 .2 .1 .2-.4 .2 0 .2 .5 .2-.4 .2-.3 .2-.5 .2-.3 .2 .3 .2 .9 .2-.4 .2 .4 .2-1.1 .2-.3 .2 1.1 .2-1.2 .2 .9 .2-.7 .2 .9 .2 .1 .2-1 .2 1.3 .2-.5 .2-.2 .2-.4 .2 0 .2 .4 .2 .6 .2-.6 .2-.9 .2 0 .2 1 .2-.2 .2 .6 .2-.2 .2 .2 .2 .2 .2 0 .2-.2 .2-1.1 .2 1.6 .2 .2 .2-.1 .2-1 .2 .8 .2 .1 .2-.6 .2-.9 .2-1.4 .2-.2 .2 .1 .2-2.1 .2-1.2 .2-1.9 .2-1.6 .2-.9 .2-1 .2-.3 .2-.1 .2 .4 .2 1 .2 .6 .2 1 .2 .8 .2 1.1 .2 .8 .2 1.3 .2 .4 .2 1.4 .2 1.2 .2-.2 .2 .2 .2 1 .2 1 .2-.3 .2 .4 .2-.5 .2-1.1 .2 .5 .2-.3 .2-.3 .2 .9 .2 .9 .2-.2 .2 0 .2 0 .2-.5 .2 1 .2-.5 .2-.2 .2-1.5 .2 1.7 .2 .1 .2-.7 .2-.9 .2 1.4 .2-.7 .2 .2 .2 0 .2 .2 .2-.4 .2 .8 .2 .4 .2-.7 .2-.7 .2 .3 .2 0 .2-.1 .2 .3 .2-.2 .2 0 .2 .1 .2-.6 .2 .8 .2 .3 .2-.3 .2-.1 .2 1.1 .2-.9 .2 .9 .2-1.4 .2 0 .2-.2 .2 .3 .2 .1 .2 .5 .2 .1 .2-.3 .2 0 .2-.5 .2-.4 .2-.2 .2 .1 .2 .8 .2-1.9 .2 1.5 .2 0 .2-.4 .2 .7 .2 .6 .2-1 .2 .6 .2-.3 .2 .2 .2 .1 .2 .1 .2-.3 .2 .1 .2 .8 .2 .1 .2-.7 .2 .1 .2-.7 .2-.1 .2 .3 .2 .5 .2-.4 .2-.7 .2 1.3 .2 .7 .2-.8 .2-.9 .2 1.1 .2 .9 .2-1.1 .2 .3 .2-.5 .2 .2 .2-1.4 .2 .7 .2 .2 .2 .5 .2-.1 .2-.4 .2 .2 .2-.4 .2 0 .2 0 .2 .3 .2 .6 .2-1.1 .2-.1 .2 .4 .2-1 .2 1.5 .2 .2 .2-.9 .2 .2 .2 1.2 .2-.9 .2-.3 .2-.2 .2 1.2 .2-.9 .2-.3 .2 .6 .2 .7 .2-1.4 .2-.4 .2 1.6 .2-.8 .2 .4 .2-.2 .2-1.1 .2-.2 .2 1.4 .2-.9 .2 .4 .2-.6 .2 .9 .2-.7 .2 0 .2 1.2 .2-.1 .2-.3 .2 .7 .2-1.1 .2 1.2 .2 .3 .2-.4 .2-.5 .2-.4 .2 .4 .2-.6 .2 .5 .2-.3 .2 0 .2 .2 .2-.7 .2 .4 .2 0 .2-.9 .2 1.5 .2-.8 .2 0 .2 .6 .2 0 .2-1.4 .2 1.9 .2-.2 .2-1.2 .2 .5 .2 0 .2-.7 .2 .6 .2 .1 .2 .7 .2-1.7 .2 .9 .2-.3 .2 1.2 .2-1.1 .2-.1 .2 .1 .2 .4 .2 .1 .2 0 .2-.3 .2 .1 .2-.2 .2 .1 .2 .1 .2-.1 .2 1.5 .2-1 .2-.1 .2-.3 .2 0 .2 .8 .2 0 .2-1.2 .2 .2 .2 1 .2-1.4 .2 .6 .2 .3 .2-.6 .2 .7 .2-1.1 .2 1 .2 .3 .2-1.3 .2 .8 .2 .5 .2-.9 .2 .4 .2 0 .2-.5 .2 .8 .2 .9 .2-.9 .2 .6 .2-1.7 .2 .8 .2-1 .2 .4 .2 .7 .2 .6 .2-.8 .2 1 .2-.7 .2-.1 .2-.5 .2 .1 .2 .2 .2 .3 .2 .8 .2-.1 .2-.3 .2-.5 .2 .1 .2 .4 .2-1.2 .2 .6 .2 .5 .2-.8 .2 1.2 .2-.5 .2-.1 .2-.1 .2-.3 .2 .4 .2-.5 .2-.1 .2 .2 .2 .7 .2-1.2 .2 .9 .2 .1 .2-.6 .2 0 .2 .4 .2-.4 .2-.4 .2 1.5 .2-1.3 .2 .4 .2-.1 .2 .3 .2 .4 .2-.7 .2 .1 .2 .3 .2-.5 .2 .5 .2 .4 .2-.4 .2 .6 .2-.5 .2-.1 .2-1.3 .2 .6 .2 .7 .2-1.1 .2 .4 .2 .5 .2 .2 .2-.4 .2-.1 .2 .2 .2-1.2 .2 1 .2-.5 .2 .2 .2-.4 .2-.2 .2 .8 .2 .4 .2 .1 .2-.8 .2 .3 .2-.1 .2 .6 .2 .2 .2-.3 .2 0 .2 .5 .2-.8 .2 0 .2 .5 .2-1.1 .2 0 .2 .6 .2 .8 .2-1.3 .2 .5 .2-.4 .2 .7 .2-.2 .2-.1 .2-.3 .2 0 .2-.6 .2 .2 .2 .7 .2-1.2 .2 1.7 .2-1.1 .2 .7 .2 .6 .2-1.6 .2 .4 .2 .3 .2 .4 .2 .4 .2 .3 .2-1.1 .2 .8 .2-.6 .2 0 .2 .6 .2-.8 .2-.2 .2 1.1 .2-.5 .2-.2 .2 .1 .2-1 .2 1.2 .2 .7 .2-.7 .2 .4 .2-.1 .2 .3 .2-.4 .2-1.4 .2 1.2 .2 0 .2-1.4 .2 .8 .2 .5 .2 .3 .2-.8 .2 1.3 .2-.8 .2-.2 .2 .1 .2 0 .2 .1 .2-1 .2 .6 .2-.1 .2 .6 .2-.8 .2-.3 .2-.1 .2 .4 .2-.1 .2-.4 .2 .2 .2 .5 .2 0 .2 .8 .2-.3 .2-.4 .2 .3 .2-.6 .2-.3 .2-.3 .2 .8 .2 .3 .2 .2 .2-1.3 .2 .5 .2 .4 .2-.1 .2-.8 .2 .9 .2-.2 .2 .7 .2-.9 .2 1.3 .2-1.2 .2 1.2 .2-.8 .2 .4 .2-.5 .2-.4 .2 1.1 .2-.7 .2 .6 .2-.8 .2 0 .2 .3 .2 .6 .2-.8 .2 1.1 .2-.9 .2 .7 .2-1.4 .2 .6 .2 .5 .2 .2 .2-.7 .2 1.1 .2-1.4 .2 .5 .2 .6 .2-.3 .2-.3 .2 .4 .2-.8 .2 .7 .2-1 .2 .2 .2 .8 .2 0 .2-.5 .2-.4 .2 .4 .2-.1 .2 .9 .2 .3 .2-1.3 .2 .5 .2 0 .2 .1 .2-.2 .2 .2 .2-1.4 .2 .7 .2 0 .2 .1 .2-.4 .2 .4 .2 0 .2 .5 .2-.1 .2-.7 .2-.1 .2-.3 .2 .5 .2-.1 .2 .1 .2 .5 .2-.2 .2 .3 .2-.2 .2 0 .2 .2 .2 0 .2 .4 .2-1 .2-.2 .2-.5 .2 1.3 .2 .3 .2-.7 .2-.1 .2-.2 .2 .5 .2-.9 .2 1.3 .2-.6 .2 .6 .2 .6 .2-1.5 .2 .5 .2-.3 .2 0 .2 .8 .2 0 .2-.2 .2-.1 .2-.4 .2 .3 .2 .2 .2 0 .2-.6 .2 .4 .2-.5 .2-.3 .2 1.4 .2-.8 .2 0 .2-.4 .2 .4 .2-.3 .2 .5 .2 .3 .2-.9 .2-.2 .2 .3 .2 0 .2-.2 .2-.4 .2 .7 .2 0 .2 0 .2-.2 .2 .3 .2-.1 .2-.2 .2 .4 .2-.1 .2 .2 .2-.2 .2 .2 .2-.9 .2 .6 .2-.8 .2 1.3 .2-.7 .2 .2 .2-.3 .2 .3 .2 0 .2-.2 .2-.6 .2 .2 .2 .4 .2 0 .2-.6 .2-.2 .2 .2 .2-.3 .2 .5 .2-1 .2 .5 .2 1 .2-.2 .2 1 .2-1.3 .2 1 .2-.4 .2 .7 .2-.1 .2-1.1 .2 .1 .2 0 .2 1.1 .2-.8 .2-.8 .2-.4 .2 .9 .2-.1 .2-.4 .2 .3 .2-.8 .2 .8 .2 .1 .2 .1 .2-.4 .2 .4 .2-.3 .2-.7 .2 0 .2 1.3 .2-.7 .2 .7 .2-.7 .2 .6 .2 .2 .2 .3 .2-1.2 .2 .8 .2-.6 .2-1.1 .2 0 .2 1.3 .2 .4 .2-.6 .2 .1 .2-.3 .2-.1 .2 .8 .2-.7 .2-.2 .2 .5 .2-.5 .2 .4 .2-.2 .2 .3 .2-.2 .2-.7 .2 1.1 .2-.1 .2-.5 .2-.3 .2 .7 .2-1 .2 .5 .2 .1 .2 .1 .2-.3 .2 0 .2 1 .2-1.2 .2-.4 .2 .1 .2 .5 .2-.4 .2 .5 .2 .1 .2-1.3 .2 0 .2 .7 .2 .4 .2-.5 .2 .5 .2-.4 .2 1.2 .2 .3 .2-.5 .2 0 .2 0 .2 .1 .2-.2 .2-.2 .2 0 .2-1 .2 .8 .2-.6 .2 .5 .2-.1 .2 .1 .2 .3 .2 0 .2-.1 .2 1 .2-.6 .2 .1 .2-.3 .2-.1 .2-.1 .2 .4 .2 0 .2 .3 .2-.4 .2 .6 .2-.1 .2-1.4 .2 .2 .2 .4 .2 .2 .2 .1 .2 0 .2-.3 .2 .7 .2-1.2 .2 .3 .2-.1 .2 .3 .2 .1 .2-.1 .2 .2 .2-.2 .2 .5 .2-.7 .2 0 .2 .4 .2-.1 .2 0 .2-.2 .2-.6 .2 .7 .2-.5 .2 .6 .2-.1 .2 0 .2-.2 .2 .6 .2-.4 .2-.5 .2 1 .2 .3 .2-.4 .2-.3 .2-.4 .2 .2 .2 .5 .2 .1 .2-.3 .2 .4 .2 .3 .2-.8 .2 .2 .2-.2 .2 0 .2 .2 .2-.7 .2-.2 .2 .4 .2 .1 .2 0 .2 .6 .2 .1 .2-.7 .2-.6 .2 0 .2 .7 .2 0 .2-.5 .2 .5 .2 .3 .2-.6 .2-.3 .2-1.9 .2-.9 .2-3.2 .2-4 .2-5.2 .2-5.1 .2-4.1 .2-1.6 .2 1.3 .2 3.5 .2 4.4 .2 4.2 .2 2.8 .2 1.2 .2 0 .2-1 .2-1.1 .2-.9 .2-.3 .2 .5 .2 1.2 .2 1.6 .2 2 .2 1.9 .2 1.7 .2 1.4 .2 1.2 .2 1 .2 .8 .2-.2 .2 .2 .2 .2 .2-.9 .2 .2 .2 .8 .2-.1 .2-.2 .2 .6 .2-.4 .2 0 .2 .7 .2 0 .2 .1 .2 .6 .2-1.1 .2 .4 .2-.6 .2 .2 .2 0 .2 .6 .2-.7 .2-.6 .2-.2 .2 1.4 .2-.5 .2 .5 .2-.6 .2-.3 .2 .1 .2 .8 .2-.8 .2 .5 .2 .2 .2-1.2 .2 1.2 .2-.4 .2 0 .2-.1 .2 .4 .2-.6 .2 .5 .2-.3 .2 .1 .2-.5 .2 .7 .2-.2 .2-.6 .2 .4 .2-.1 .2 .3 .2 .2 .2-1 .2 .9 .2 .3 .2-.3 .2-.2 .2 .4 .2-.7 .2 .3 .2 0 .2-.1 .2 .6 .2 .1 .2 .1 .2 .2 .2-.6 .2 .2 .2-.6 .2 0 .2-.3 .2 .9 .2-.3 .2-.5 .2 .2 .2-.2 .2-.3 .2 1.2 .2-.3 .2 .5 .2-.7 .2-.1 .2-.2 .2 0 .2 .1 .2-.2 .2 .2 .2 .3 .2-.4 .2 .9 .2-.9 .2 .5 .2 .2 .2-.9 .2 .6 .2-.3 .2-.6 .2 .2 .2-.7 .2 .7 .2 .4 .2-.4 .2 .3 .2-.1 .2 0 .2 .2 .2-.1 .2 .1 .2 .4 .2 .7 .2-1.1 .2 .3 .2-.1 .2-.1 .2 .3 .2-.1 .2 .5 .2-.1 .2-.7 .2-.3 .2 .7 .2 .2 .2-.1 .2-.2 .2-.1 .2 0 .2-.1 .2 .1 .2 .1 .2-.4 .2-.4 .2 .6 .2-.4 .2 .3 .2-.2 .2-.5 .2 .7 .2 .1 .2 .4 .2 0 .2 0 .2 0 .2 .3 .2-.8 .2 1 .2-.1 .2-.5 .2-.4 .2 .8 .2-.6 .2 .1 .2-.1 .2 .1 .2-.3 .2 .4 .2-.1 .2-.2 .2 .4 .2-.1 .2-.4 .2 0 .2 .3 .2-.9 .2 .7 .2 0 .2-.6 .2 .4 .2 .8 .2-.2 .2-.5 .2 .3 .2 .1 .2-.1 .2 0 .2 .2 .2-.2 .2 .6 .2 0 .2-.7 .2-.2 .2-.4 .2 .3 .2 .1 .2 .4 .2 .7 .2-.8 .2 .7 .2-.4 .2 0 .2-.1 .2-.9 .2 .6 .2 .2 .2 .3 .2-.6 .2 .3 .2-.3 .2 .5 .2-.2 .2 .7 .2-.7 .2-.1 .2 .3 .2 .3 .2-.5 .2-.2 .2 .3 .2-.3 .2 .4 .2 .1 .2-.2 .2-.6 .2 .9 .2 .1 .2 .3 .2-.7 .2-.1 .2 .4 .2-.2 .2 .1 .2-.3 .2 .1 .2 0 .2-.9 .2 1.1 .2-.7 .2-.6 .2-.1 .2 .5 .2-.7 .2 .5 .2-.3 .2 .3 .2 0 .2 1 .2-.5 .2 .4 .2-.9 .2 .4 .2-.2 .2 .6 .2 .4 .2-.4 .2-.7 .2 .7 .2 .5 .2 .3 .2-.7 .2 .1 .2-.4 .2-.3 .2 .4 .2 .6 .2-.9 .2 .4 .2-.1 .2-.3 .2-.1 .2-.3 .2 .5 .2 .2 .2 .1 .2-.2 .2-.1 .2-.5 .2 .2 .2 .3 .2 .2 .2-.3 .2 .3 .2 .2 .2 .1 .2 0 .2-.6 .2 .1 .2 .6 .2-.7 .2 .4 .2 .5 .2 0 .2-1.1 .2 .6 .2-.2 .2-.1 .2 .6 .2-.3 .2 .4 .2-1 .2-.4 .2 .8 .2 0 .2 .5 .2-.6 .2 .4 .2 .3 .2-1.3 .2 .8 .2-.2 .2-.2 .2 .2 .2 .1 .2 .9 .2-1.1 .2 .3 .2 .7 .2 .6 .2-1.3 .2 .8 .2-.6 .2 .8 .2-.4 .2-.2 .2 .3 .2-.4"/>
</g>
<rect class="ax" x="67.2" y="5.0" width="689.1" height="507.2"/>
<path class="ax" d="M110.3 512.2V507.6M153.3 512.2V502.9M196.4 512.2V507.6M239.5 512.2V502.9M282.5 512.2V507.6M325.6 512.2V502.9M368.7 512.2V507.6M411.7 512.2V502.9M454.8 512.2V507.6M497.9 512.2V502.9M541.0 512.2V507.6M584.0 512.2V502.9M627.1 512.2V507.6M670.2 512.2V502.9M713.2 512.2V507.6"/>
<text x="67.2" y="550.3" font-size="33" text-anchor="middle">10</text>
<text x="153.3" y="550.3" font-size="33" text-anchor="middle">20</text>
<text x="239.5" y="550.3" font-size="33" text-anchor="middle">30</text>
<text x="325.6" y="550.3" font-size="33" text-anchor="middle">40</text>
<text x="411.7" y="550.3" font-size="33" text-anchor="middle">50</text>
<text x="497.9" y="550.3" font-size="33" text-anchor="middle">60</text>
<text x="584.0" y="550.3" font-size="33" text-anchor="middle">70</text>
<text x="670.2" y="550.3" font-size="33" text-anchor="middle">80</text>
<text x="756.3" y="550.3" font-size="33" text-anchor="middle">90</text>
<text x="404.9" y="604.8" font-size="42.5" text-anchor="middle">2θ(deg)</text>
<text transform="translate(37.4 257.8) rotate(-90)" font-size="43.2" text-anchor="middle">Intensity(a.u.)</text>
<text x="74.8" y="48.1" font-size="43">a</text>
<text x="68.1" y="136.9" font-size="31" text-anchor="start">Fe<tspan font-size="21.7" dy="-12.7">0</tspan><tspan dy="12.7">/OMC-3</tspan></text>
<text x="68.4" y="200.9" font-size="31" text-anchor="start">Fe<tspan font-size="21.7" dy="-12.7">0</tspan><tspan dy="12.7">/OMC-2</tspan></text>
<text x="72.4" y="268.6" font-size="31" text-anchor="start">Fe<tspan font-size="21.7" dy="-12.7">0</tspan><tspan dy="12.7">/OMC-1</tspan></text>
<text x="72.4" y="315.7" font-size="31" text-anchor="start">OMC-3</text>
<text x="70.2" y="391.5" font-size="31" text-anchor="start">OMC-2</text>
<text x="72.4" y="452.7" font-size="31" text-anchor="start">OMC-1</text>
<text x="367.3" y="45.7" font-size="31" text-anchor="middle">(110)</text>
<text x="543.4" y="137.3" font-size="31" text-anchor="middle">(200)</text>
<text x="691.3" y="115.9" font-size="31" text-anchor="middle">(211)</text>
<rect class="ax" x="1147.4" y="0.7" width="637.9" height="514.1"/>
<path class="ax" d="M1218.3 514.8V504.8M1289.2 514.8V504.8M1360.0 514.8V504.8M1430.9 514.8V504.8M1501.8 514.8V504.8M1572.7 514.8V504.8M1643.5 514.8V504.8M1714.4 514.8V504.8"/>
<g id="saxs">
<path class="c" stroke="#000" stroke-width="2.4" d="M1154.2 9.4L1154.4 11.3L1154.6 13.9L1154.8 17.0L1155.1 20.4L1155.4 23.8L1155.7 27.2L1156.0 30.5L1156.4 34.0L1156.7 37.6L1157.1 41.2L1157.4 44.8L1157.8 48.2L1158.1 51.5L1158.5 54.7L1158.8 57.9L1159.2 61.0L1159.5 64.0L1159.9 67.0L1160.2 69.9L1160.6 72.8L1161.0 75.7L1161.3 78.4L1161.7 81.2L1162.0 83.8L1162.3 86.4L1162.7 88.9L1163.0 91.4L1163.4 93.8L1163.8 96.1L1164.1 98.4L1164.4 100.6L1164.8 102.7L1165.1 104.7L1165.5 106.7L1165.8 108.6L1166.2 110.5L1166.5 112.3L1166.9 114.0L1167.2 115.6L1167.5 117.2L1167.9 118.9L1168.3 120.6L1168.7 122.4L1169.2 124.1L1169.7 125.9L1170.2 127.8L1170.8 129.7L1171.4 131.6L1172.0 133.6L1172.6 135.6L1173.3 137.6L1174.0 139.7L1174.8 141.9L1175.6 144.1L1176.5 146.4L1177.5 148.8L1178.5 151.2L1179.6 153.7L1180.7 156.2L1181.9 158.7L1183.2 161.3L1184.5 163.9L1185.8 166.6L1187.3 169.3L1188.8 171.9L1190.3 174.5L1191.9 177.0L1193.6 179.5L1195.4 181.9L1197.2 184.3L1198.9 186.7L1200.7 189.1L1202.5 191.6L1204.3 194.1L1206.1 196.6L1207.9 199.1L1209.6 201.5L1211.2 203.8L1212.7 206.1L1214.2 208.3L1215.7 210.5L1217.0 212.6L1218.3 214.5L1219.6 216.3L1220.8 217.9L1221.9 219.2L1222.9 220.5L1224.0 221.6L1224.9 222.7L1225.9 223.7L1226.8 224.7L1227.7 225.7L1228.6 226.6L1229.4 227.5L1230.2 228.2L1231.1 228.9L1231.9 229.4L1232.6 229.7L1233.2 230.0L1234.0 230.2L1235.0 230.5L1236.3 231.0L1238.0 231.6L1240.0 232.4L1242.1 233.2L1244.4 234.0L1246.7 234.8L1248.9 235.6L1251.0 236.4L1253.2 237.1L1255.4 237.9L1257.5 238.7L1259.6 239.4L1261.5 240.0L1263.3 240.6L1265.0 241.2L1266.7 241.7L1268.2 242.2L1269.6 242.5L1270.9 242.7L1272.0 242.8L1272.8 242.7L1273.6 242.5L1274.3 242.2L1275.1 241.9L1276.1 241.5L1277.4 241.0L1278.8 240.4L1280.4 239.7L1281.9 239.0L1283.3 238.4L1284.5 237.9L1285.4 237.6L1286.1 237.4L1286.7 237.3L1287.3 237.2L1287.9 237.2L1288.7 237.3L1289.6 237.5L1290.7 237.7L1291.8 238.0L1292.9 238.4L1294.0 238.7L1295.0 239.0L1295.9 239.3L1296.7 239.7L1297.5 240.0L1298.3 240.3L1299.1 240.5L1300.0 240.5L1301.0 240.4L1302.0 240.1L1303.1 239.7L1304.2 239.2L1305.2 238.7L1306.2 238.0L1307.1 237.2L1308.0 236.4L1308.9 235.4L1309.7 234.4L1310.5 233.3L1311.4 232.1L1312.3 230.9L1313.2 229.6L1314.1 228.2L1315.0 226.8L1315.8 225.3L1316.6 223.8L1317.3 222.3L1317.8 220.7L1318.3 219.1L1318.8 217.3L1319.3 215.4L1319.8 213.3L1320.3 210.9L1320.8 208.2L1321.4 205.4L1321.9 202.4L1322.4 199.4L1322.9 196.5L1323.4 193.5L1324.0 190.3L1324.5 187.1L1325.1 184.0L1325.6 181.1L1326.1 178.7L1326.6 176.7L1327.0 175.0L1327.4 173.6L1327.8 172.4L1328.2 171.4L1328.6 170.4L1329.0 169.5L1329.5 168.8L1329.9 168.2L1330.4 167.7L1330.8 167.4L1331.3 167.2L1331.7 167.2L1332.2 167.3L1332.6 167.5L1333.1 167.9L1333.5 168.5L1334.0 169.3L1334.5 170.2L1335.0 171.3L1335.4 172.6L1335.9 174.0L1336.5 175.7L1337.0 177.7L1337.6 180.0L1338.2 182.6L1338.8 185.4L1339.5 188.4L1340.1 191.5L1340.7 194.5L1341.3 197.5L1341.8 200.5L1342.3 203.6L1342.9 206.8L1343.4 210.0L1343.9 213.3L1344.4 216.8L1345.0 220.4L1345.5 224.1L1346.0 227.8L1346.5 231.2L1347.0 234.2L1347.4 236.8L1347.9 239.2L1348.3 241.3L1348.7 243.3L1349.1 245.1L1349.5 246.8L1349.9 248.3L1350.3 249.7L1350.7 250.9L1351.2 252.0L1351.7 253.0L1352.3 254.1L1353.0 255.2L1353.8 256.3L1354.7 257.3L1355.6 258.3L1356.5 259.2L1357.5 260.0L1358.4 260.6L1359.4 261.1L1360.3 261.5L1361.4 261.9L1362.5 262.2L1363.8 262.5L1365.2 262.8L1366.8 263.1L1368.5 263.3L1370.3 263.6L1372.2 263.8L1374.2 264.0L1376.4 264.2L1378.9 264.4L1381.5 264.6L1384.2 264.7L1386.6 264.9L1388.9 265.0L1390.9 265.1L1392.8 265.2L1394.5 265.3L1396.2 265.4L1397.8 265.5L1399.4 265.7L1400.9 265.9L1402.4 266.2L1403.8 266.5L1405.2 266.9L1406.5 267.1L1407.7 267.3L1408.8 267.4L1409.9 267.5L1410.8 267.5L1411.8 267.5L1412.9 267.4L1414.0 267.3L1415.3 267.1L1416.7 266.9L1418.2 266.7L1419.7 266.4L1421.1 266.1L1422.4 265.9L1423.6 265.7L1424.7 265.5L1425.7 265.3L1426.7 265.1L1427.7 264.9L1428.7 264.8L1429.7 264.7L1430.6 264.5L1431.5 264.4L1432.4 264.4L1433.4 264.3L1434.5 264.3L1435.7 264.3L1436.9 264.4L1438.3 264.4L1439.6 264.5L1441.0 264.7L1442.5 264.9L1444.0 265.2L1445.5 265.5L1447.0 265.9L1448.7 266.4L1450.4 266.8L1452.2 267.3L1454.2 267.8L1456.3 268.4L1458.5 269.0L1460.8 269.6L1463.0 270.1L1465.1 270.5L1467.1 270.7L1469.0 270.9L1470.9 271.0L1472.7 271.0L1474.5 271.0L1476.4 270.9L1478.3 270.8L1480.1 270.6L1482.0 270.3L1483.9 270.1L1485.7 269.8L1487.6 269.6L1489.4 269.4L1491.1 269.3L1492.8 269.2L1494.7 269.0L1496.6 269.0L1498.9 268.9L1501.5 268.9L1504.5 268.9L1507.7 268.9L1510.8 269.0L1513.9 269.1L1516.6 269.2L1519.0 269.4L1521.3 269.6L1523.3 269.9L1525.4 270.2L1527.4 270.5L1529.5 270.9L1531.5 271.3L1533.4 271.8L1535.3 272.3L1537.4 272.8L1539.7 273.3L1542.4 273.6L1545.7 273.8L1549.4 273.9L1553.5 273.9L1557.5 273.9L1561.4 273.8L1564.9 273.8L1568.0 273.7L1570.7 273.7L1573.4 273.5L1575.9 273.4L1578.4 273.3L1581.0 273.3L1583.6 273.3L1586.1 273.3L1588.6 273.4L1591.2 273.5L1594.0 273.5L1597.1 273.6L1599.9 273.6L1602.1 273.6L1604.6 273.7L1607.9 273.7L1612.8 273.7L1620.0 273.8L1630.0 273.9L1642.2 274.1L1656.0 274.3L1670.8 274.5L1685.6 274.6L1700.0 274.8L1715.0 274.9L1731.5 275.1L1748.2 275.2L1763.7 275.3L1776.8 275.3L1786.3 275.4"/>
<path class="c" stroke="#0000FF" stroke-width="4.2" d="M1146.6 384.2L1147.3 383.2L1148.2 381.7L1149.3 380.0L1150.6 378.1L1151.8 376.4L1152.9 374.9L1154.0 373.7L1155.0 372.6L1156.1 371.7L1157.2 370.7L1158.2 369.6L1159.3 368.4L1160.4 367.1L1161.5 365.7L1162.5 364.3L1163.6 362.7L1164.7 360.9L1165.8 358.8L1166.9 356.3L1167.9 353.5L1169.0 350.5L1170.1 347.3L1171.1 344.1L1172.2 341.1L1173.3 338.0L1174.4 334.8L1175.5 331.7L1176.6 328.6L1177.6 325.8L1178.6 323.4L1179.5 321.4L1180.3 319.8L1181.1 318.4L1181.9 317.2L1182.7 316.2L1183.5 315.3L1184.3 314.5L1185.1 313.8L1185.9 313.3L1186.7 313.0L1187.5 312.8L1188.3 312.7L1189.1 312.8L1189.9 312.9L1190.7 313.2L1191.5 313.7L1192.3 314.4L1193.1 315.3L1193.9 316.5L1194.7 318.1L1195.5 319.8L1196.4 321.6L1197.2 323.4L1198.0 325.0L1198.8 326.5L1199.6 328.0L1200.4 329.5L1201.2 330.8L1202.0 332.0L1202.8 333.0L1203.6 333.7L1204.4 334.2L1205.2 334.6L1206.0 334.8L1206.8 334.9L1207.6 335.0L1208.4 335.0L1209.2 334.8L1210.0 334.5L1210.8 334.2L1211.6 333.9L1212.4 333.7L1213.2 333.5L1214.0 333.3L1214.8 333.1L1215.7 332.9L1216.5 332.9L1217.3 333.0L1218.1 333.3L1218.9 333.6L1219.7 334.1L1220.5 334.6L1221.3 335.3L1222.1 336.2L1222.9 337.2L1223.7 338.4L1224.5 339.7L1225.3 341.2L1226.1 342.7L1226.9 344.3L1227.7 346.0L1228.5 347.8L1229.3 349.7L1230.2 351.6L1231.0 353.6L1231.8 355.6L1232.6 357.6L1233.4 359.7L1234.2 361.8L1235.0 364.0L1235.8 366.2L1236.6 368.4L1237.4 370.8L1238.2 373.3L1239.0 375.8L1239.8 378.4L1240.6 380.7L1241.4 382.9L1242.2 384.8L1242.9 386.6L1243.7 388.2L1244.5 389.7L1245.3 391.1L1246.2 392.6L1247.2 394.1L1248.2 395.5L1249.4 396.8L1250.5 398.2L1251.6 399.4L1252.7 400.6L1253.7 401.7L1254.7 402.8L1255.7 403.8L1256.7 404.7L1257.8 405.6L1259.1 406.4L1260.5 407.2L1262.1 407.9L1263.8 408.5L1265.5 409.2L1267.2 409.7L1268.8 410.3L1270.4 410.8L1272.0 411.3L1273.6 411.8L1275.2 412.2L1276.8 412.6L1278.4 412.9L1280.0 413.2L1281.5 413.5L1283.1 413.7L1284.7 413.9L1286.4 414.0L1288.1 414.2L1290.0 414.3L1291.9 414.4L1293.9 414.5L1296.0 414.6L1298.0 414.7L1300.0 414.8L1301.7 414.9L1303.2 415.1L1304.7 415.3L1306.4 415.5L1308.6 415.7L1311.5 415.8L1314.7 415.9L1318.0 416.0L1321.8 416.1L1326.4 416.2L1332.5 416.3L1340.5 416.4L1350.1 416.5L1361.0 416.5L1373.3 416.6L1387.1 416.6L1402.7 416.7L1420.0 416.8L1440.4 416.9L1464.0 417.1L1489.3 417.3L1514.8 417.4L1538.9 417.6L1560.0 417.7L1577.4 417.8L1592.0 417.8L1605.2 417.9L1618.4 417.9L1632.9 417.9L1650.0 417.9L1671.6 417.9L1697.1 417.9L1723.8 417.9L1749.2 417.9L1770.9 417.9L1786.3 417.9"/>
<path class="c" stroke="#FF0000" stroke-width="2.5" d="M1226.3 246.7L1226.5 248.7L1226.8 251.5L1227.2 254.8L1227.6 258.4L1228.0 262.0L1228.5 265.4L1229.0 268.6L1229.5 271.8L1230.1 275.0L1230.7 278.2L1231.2 281.5L1231.8 284.7L1232.3 287.9L1232.8 291.1L1233.3 294.3L1233.8 297.6L1234.4 300.8L1235.0 304.0L1235.7 307.3L1236.5 310.6L1237.3 314.0L1238.1 317.3L1239.0 320.4L1239.8 323.4L1240.6 326.2L1241.4 328.8L1242.2 331.3L1243.0 333.6L1243.8 335.8L1244.6 337.9L1245.4 339.8L1246.2 341.6L1246.9 343.2L1247.8 344.7L1248.6 346.1L1249.5 347.5L1250.5 348.8L1251.5 349.9L1252.6 350.9L1253.7 352.0L1254.8 353.0L1255.9 354.0L1257.0 355.1L1258.1 356.1L1259.2 357.1L1260.3 358.2L1261.3 359.3L1262.3 360.4L1263.2 361.6L1264.0 362.8L1264.8 364.1L1265.6 365.4L1266.4 366.7L1267.2 368.0L1268.0 369.4L1268.9 370.9L1269.7 372.5L1270.6 374.0L1271.5 375.3L1272.4 376.3L1273.4 377.0L1274.4 377.5L1275.4 377.8L1276.5 378.0L1277.6 378.3L1278.8 378.6L1280.0 379.1L1281.3 379.8L1282.7 380.5L1284.0 381.1L1285.3 381.5L1286.5 381.5L1287.6 381.2L1288.6 380.6L1289.6 379.8L1290.5 378.8L1291.5 377.6L1292.5 376.4L1293.6 375.0L1294.6 373.5L1295.7 371.8L1296.8 370.0L1297.8 368.1L1298.8 366.0L1299.7 363.8L1300.5 361.5L1301.2 359.0L1302.0 356.4L1302.7 353.5L1303.5 350.5L1304.3 347.1L1305.1 343.3L1305.9 339.4L1306.7 335.4L1307.5 331.5L1308.3 328.0L1309.1 324.7L1309.9 321.4L1310.7 318.3L1311.5 315.4L1312.3 312.9L1313.1 310.7L1313.9 309.0L1314.7 307.6L1315.5 306.5L1316.4 305.7L1317.2 305.2L1318.0 305.0L1318.8 305.0L1319.7 305.4L1320.5 306.0L1321.3 306.8L1322.1 307.9L1322.8 309.2L1323.4 310.6L1323.9 312.1L1324.4 313.8L1324.9 315.9L1325.4 318.4L1326.0 321.5L1326.7 325.3L1327.5 329.8L1328.3 334.8L1329.1 340.0L1330.0 345.3L1330.8 350.5L1331.6 355.7L1332.4 361.1L1333.2 366.6L1334.1 372.1L1334.9 377.5L1335.7 382.7L1336.5 387.8L1337.3 393.0L1338.2 398.1L1339.0 402.9L1339.7 407.5L1340.5 411.7L1341.2 415.4L1341.9 418.7L1342.6 421.7L1343.2 424.5L1343.9 427.2L1344.6 430.0L1345.3 432.8L1346.0 435.6L1346.8 438.2L1347.5 440.8L1348.3 443.2L1349.0 445.4L1349.7 447.4L1350.5 449.2L1351.2 450.8L1352.0 452.3L1352.8 453.8L1353.6 455.3L1354.5 456.9L1355.5 458.4L1356.5 459.9L1357.5 461.4L1358.6 462.7L1359.6 464.0L1360.6 465.1L1361.6 466.1L1362.6 467.0L1363.6 467.9L1364.6 468.7L1365.6 469.6L1366.6 470.5L1367.5 471.4L1368.5 472.2L1369.5 473.0L1370.6 473.8L1371.8 474.6L1373.1 475.3L1374.6 476.1L1376.1 476.8L1377.7 477.5L1379.3 478.0L1380.8 478.5L1382.3 478.8L1383.9 479.1L1385.4 479.2L1387.0 479.3L1388.5 479.3L1389.9 479.4L1391.3 479.4L1392.6 479.3L1393.9 479.2L1395.1 479.1L1396.4 479.1L1397.7 479.2L1399.0 479.5L1400.2 479.9L1401.4 480.4L1402.7 480.9L1404.1 481.4L1405.6 481.9L1407.3 482.4L1409.1 482.9L1411.0 483.5L1413.0 484.0L1415.0 484.4L1416.9 484.8L1418.8 485.0L1420.6 485.1L1422.4 485.2L1424.3 485.2L1426.2 485.3L1428.2 485.5L1430.3 485.8L1432.5 486.3L1434.8 486.8L1437.1 487.3L1439.4 487.8L1441.7 488.2L1443.9 488.6L1446.0 489.0L1448.2 489.3L1450.4 489.7L1452.7 489.9L1455.2 490.2L1458.0 490.4L1460.9 490.6L1464.1 490.7L1467.2 490.8L1470.3 490.9L1473.2 490.9L1476.0 490.9L1478.8 490.8L1481.5 490.6L1484.1 490.5L1486.7 490.4L1489.0 490.4L1491.1 490.5L1492.9 490.7L1494.5 491.0L1496.2 491.2L1498.1 491.5L1500.3 491.8L1502.9 492.1L1505.9 492.3L1509.0 492.6L1512.2 492.9L1515.3 493.1L1518.3 493.4L1520.9 493.6L1523.4 493.9L1525.7 494.1L1528.2 494.4L1530.9 494.6L1534.1 494.9L1537.7 495.2L1541.5 495.6L1545.5 496.0L1549.9 496.4L1554.8 496.8L1560.0 497.1L1565.9 497.4L1572.3 497.6L1579.2 497.8L1586.2 498.0L1593.2 498.2L1600.0 498.4L1606.7 498.7L1613.4 498.9L1620.1 499.2L1626.7 499.5L1633.0 499.7L1638.9 499.9L1644.1 500.0L1648.6 500.0L1652.8 500.0L1657.1 500.0L1662.1 500.0L1668.0 500.1L1675.3 500.3L1683.7 500.6L1692.7 500.9L1701.7 501.2L1710.2 501.5L1717.7 501.7L1724.0 501.9L1729.6 502.0L1734.7 502.2L1739.6 502.3L1744.6 502.4L1750.0 502.6L1756.2 502.8L1763.1 503.1L1770.2 503.3L1776.7 503.5L1782.3 503.8L1786.3 503.9"/>
</g>
<text x="1147.4" y="547" font-size="27" text-anchor="middle">0.2</text>
<text x="1218.3" y="547" font-size="27" text-anchor="middle">0.4</text>
<text x="1289.2" y="547" font-size="27" text-anchor="middle">0.6</text>
<text x="1360.0" y="547" font-size="27" text-anchor="middle">0.8</text>
<text x="1430.9" y="547" font-size="27" text-anchor="middle">1.0</text>
<text x="1501.8" y="547" font-size="27" text-anchor="middle">1.2</text>
<text x="1572.7" y="547" font-size="27" text-anchor="middle">1.4</text>
<text x="1643.5" y="547" font-size="27" text-anchor="middle">1.6</text>
<text x="1714.4" y="547" font-size="27" text-anchor="middle">1.8</text>
<text x="1785.3" y="547" font-size="27" text-anchor="middle">2.0</text>
<text x="1466.4" y="606.8" font-size="44.5" text-anchor="middle">q(nm<tspan font-size="27.5" dy="-18.3">-1</tspan><tspan dy="18.3">)</tspan></text>
<text transform="translate(1129.3 248.7) rotate(-90)" font-size="45" text-anchor="middle">Intensity(a.u.)</text>
<text x="1768.2" y="30" font-size="28.6">b</text>
<text x="1331.8" y="163.0" font-size="26.6" text-anchor="middle">10</text>
<text x="1493.5" y="243.2" font-size="27" text-anchor="middle">11</text>
<text x="1196.7" y="299.2" font-size="27" text-anchor="middle">111</text>
<text x="1315.9" y="297.3" font-size="26.7" text-anchor="middle">110</text>
<text x="1400.6" y="469.7" font-size="25.6" text-anchor="middle">200</text>
<text x="1484.4" y="485.9" font-size="26.2" text-anchor="middle">211</text>
<text x="1599.9" y="262.3" font-size="26.4" text-anchor="start">Fe<tspan font-size="17.7" dy="-10.8">0</tspan><tspan dy="10.8">/OMC-1</tspan></text>
<text x="1600.8" y="400.8" font-size="26.9" text-anchor="start">Fe<tspan font-size="18.0" dy="-11.0">0</tspan><tspan dy="11.0">/OMC-3</tspan></text>
<text x="1608.3" y="489.6" font-size="28.6" text-anchor="start">Fe<tspan font-size="19.2" dy="-11.7">0</tspan><tspan dy="11.7">/OMC-2</tspan></text>
</svg></body></html>
